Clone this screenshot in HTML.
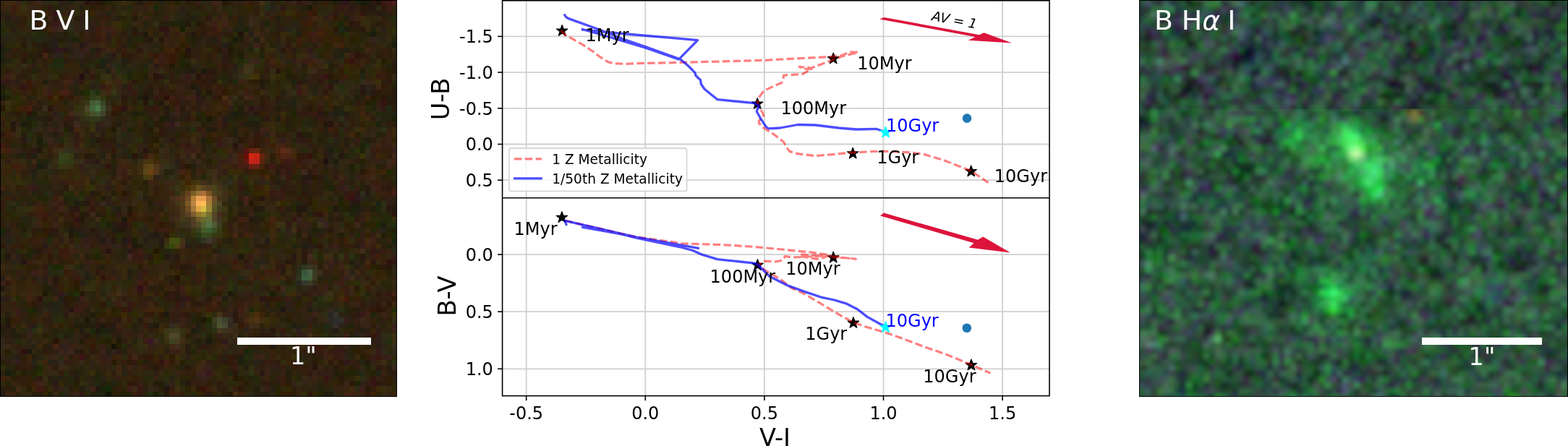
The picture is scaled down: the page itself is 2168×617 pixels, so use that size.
<!DOCTYPE html>
<html><head><meta charset="utf-8"><title>Colour-colour diagram</title>
<style>
html,body{margin:0;padding:0;background:#fff;}
body{width:2168px;height:617px;overflow:hidden;position:relative;font-family:"DejaVu Sans","Liberation Sans",sans-serif;}
.panel{position:absolute;box-sizing:border-box;border:1.6px solid #000;overflow:hidden;}
.panel svg.img,.pimg svg.img{position:absolute;left:0;top:0;width:100%;height:100%;}
.pimg{position:absolute;overflow:hidden;}
.frame{position:absolute;left:0;top:0;right:0;bottom:0;border:1.6px solid #000;}
.lbl{position:absolute;color:#fff;font-family:"DejaVu Sans","Liberation Sans",sans-serif;white-space:pre;line-height:1;}
.bar{position:absolute;background:#fff;}
#plot{position:absolute;left:0;top:0;}
#plot text{font-family:"DejaVu Sans","Liberation Sans",sans-serif;}
.g{stroke:#d0d0d0;stroke-width:1.8;}
.r{fill:none;stroke:#ff0000;stroke-opacity:0.5;stroke-width:3.2;stroke-dasharray:10.5 4.3;stroke-linejoin:round;}
.b{fill:none;stroke:#0000ff;stroke-opacity:0.7;stroke-width:3.3;stroke-linejoin:round;stroke-linecap:round;}
</style></head><body>
<div class="pimg" style="left:0;top:0;width:549px;height:549px;background:#32230f;">
<svg class="img" viewBox="0 0 75 75" preserveAspectRatio="none" shape-rendering="crispEdges"><path fill="#37280f" d="M0 0h1v1h-1zM28 1h1v1h-1zM4 2h1v1h-1zM60 3h1v1h-1zM68 4h1v1h-1zM69 5h1v1h-1zM50 8h1v1h-1zM65 10h1v1h-1zM16 15h1v1h-1zM21 15h1v1h-1zM70 15h1v1h-1zM8 16h1v1h-1zM15 16h1v1h-1zM49 17h1v1h-1zM4 18h1v1h-1zM7 18h1v1h-1zM51 23h1v1h-1zM29 24h1v1h-1zM51 24h1v1h-1zM74 25h1v1h-1zM50 28h1v1h-1zM0 30h1v1h-1zM2 30h2v1h-2zM50 30h1v1h-1zM0 31h1v1h-1zM70 31h1v1h-1zM9 33h1v1h-1zM11 33h1v1h-1zM15 33h1v1h-1zM48 33h1v1h-1zM1 34h1v1h-1zM24 34h1v1h-1zM2 35h1v1h-1zM28 35h1v1h-1zM14 36h1v1h-1zM25 37h1v1h-1zM49 38h1v1h-1zM69 43h1v1h-1zM11 46h1v1h-1zM56 47h1v1h-1zM67 47h1v1h-1zM34 48h1v1h-1zM43 48h1v1h-1zM56 48h1v1h-1zM7 49h1v1h-1zM14 49h1v1h-1zM27 49h1v1h-1zM51 49h1v1h-1zM22 50h1v1h-1zM23 51h1v1h-1zM30 51h1v1h-1zM32 51h1v1h-1zM47 51h1v1h-1zM12 52h1v1h-1zM41 52h1v1h-1zM50 52h2v1h-2zM5 53h1v1h-1zM18 53h1v1h-1zM71 53h1v1h-1zM4 55h1v1h-1zM6 55h1v1h-1zM21 55h1v1h-1zM64 57h1v1h-1zM28 60h1v1h-1zM4 61h1v1h-1zM30 61h1v1h-1zM35 62h1v1h-1zM8 64h1v1h-1zM7 65h1v1h-1zM30 65h1v1h-1zM41 66h1v1h-1zM52 67h1v1h-1zM67 67h1v1h-1zM18 68h1v1h-1zM33 68h1v1h-1zM61 68h1v1h-1zM12 69h1v1h-1zM20 70h1v1h-1zM40 73h1v1h-1zM73 73h1v1h-1z"/><path fill="#412814" d="M1 0h1v1h-1zM59 3h1v1h-1zM20 17h1v1h-1zM52 27h1v1h-1zM55 28h1v1h-1zM1 52h1v1h-1zM28 53h1v1h-1zM32 65h1v1h-1zM25 67h1v1h-1zM3 73h1v1h-1z"/><path fill="#41280f" d="M2 0h1v1h-1zM66 25h1v1h-1zM50 29h1v1h-1zM29 30h1v1h-1zM35 33h1v1h-1zM51 44h1v1h-1zM69 45h1v1h-1zM69 49h1v1h-1zM46 60h1v1h-1zM37 69h1v1h-1zM66 73h1v1h-1z"/><path fill="#3c2319" d="M3 0h1v1h-1zM41 0h1v1h-1zM9 3h1v1h-1zM48 8h1v1h-1zM48 11h1v1h-1zM13 15h1v1h-1zM69 15h1v1h-1zM33 21h1v1h-1zM9 24h1v1h-1zM49 24h1v1h-1zM9 26h1v1h-1zM22 32h1v1h-1zM70 35h1v1h-1zM62 49h1v1h-1zM0 53h1v1h-1zM41 56h1v1h-1zM59 59h1v1h-1zM74 62h1v1h-1zM26 63h1v1h-1zM53 64h1v1h-1zM11 66h1v1h-1zM19 66h1v1h-1zM49 67h1v1h-1zM38 69h1v1h-1zM37 70h1v1h-1zM7 72h1v1h-1zM65 72h1v1h-1z"/><path fill="#2d2d0f" d="M4 0h1v1h-1zM10 0h1v1h-1zM42 7h1v1h-1zM49 11h1v1h-1zM48 12h1v1h-1zM6 14h1v1h-1zM65 17h1v1h-1zM46 33h1v1h-1zM15 37h1v1h-1zM44 37h1v1h-1zM43 47h1v1h-1zM43 53h1v1h-1zM54 54h1v1h-1zM40 59h1v1h-1zM7 61h1v1h-1zM31 71h1v1h-1z"/><path fill="#32230f" d="M5 0h1v1h-1zM27 0h1v1h-1zM44 0h1v1h-1zM48 0h1v1h-1zM31 1h1v1h-1zM55 1h1v1h-1zM74 1h1v1h-1zM11 2h1v1h-1zM41 2h1v1h-1zM47 2h1v1h-1zM52 2h1v1h-1zM28 3h1v1h-1zM70 3h1v1h-1zM73 4h1v1h-1zM4 5h1v1h-1zM22 6h1v1h-1zM30 6h1v1h-1zM66 6h1v1h-1zM73 6h1v1h-1zM23 7h1v1h-1zM32 7h2v1h-2zM20 8h1v1h-1zM32 8h1v1h-1zM65 8h1v1h-1zM71 8h1v1h-1zM57 9h1v1h-1zM46 10h1v1h-1zM62 10h1v1h-1zM74 10h1v1h-1zM7 11h1v1h-1zM25 11h2v1h-2zM37 11h1v1h-1zM40 11h2v1h-2zM63 11h1v1h-1zM3 12h1v1h-1zM5 12h1v1h-1zM59 12h1v1h-1zM2 13h1v1h-1zM8 13h1v1h-1zM14 13h1v1h-1zM31 13h1v1h-1zM41 13h1v1h-1zM55 13h1v1h-1zM0 14h1v1h-1zM7 14h2v1h-2zM50 14h1v1h-1zM69 14h1v1h-1zM11 15h1v1h-1zM24 15h1v1h-1zM61 15h1v1h-1zM10 16h1v1h-1zM29 16h1v1h-1zM2 17h1v1h-1zM44 17h1v1h-1zM62 17h1v1h-1zM8 18h1v1h-1zM48 18h1v1h-1zM57 18h1v1h-1zM60 18h1v1h-1zM11 19h1v1h-1zM39 19h1v1h-1zM48 19h1v1h-1zM57 19h1v1h-1zM64 19h1v1h-1zM9 21h1v1h-1zM30 21h1v1h-1zM42 21h1v1h-1zM21 22h1v1h-1zM60 23h1v1h-1zM0 24h1v1h-1zM41 24h1v1h-1zM59 24h1v1h-1zM73 24h1v1h-1zM42 25h1v1h-1zM45 25h1v1h-1zM54 25h1v1h-1zM65 25h1v1h-1zM0 26h1v1h-1zM3 26h1v1h-1zM35 26h1v1h-1zM37 26h1v1h-1zM64 27h1v1h-1zM56 28h1v1h-1zM65 28h1v1h-1zM15 29h1v1h-1zM20 30h1v1h-1zM40 31h1v1h-1zM60 31h1v1h-1zM74 31h1v1h-1zM18 32h1v1h-1zM38 32h1v1h-1zM60 32h1v1h-1zM62 32h1v1h-1zM64 32h1v1h-1zM36 33h1v1h-1zM62 33h1v1h-1zM71 33h1v1h-1zM22 34h1v1h-1zM1 35h1v1h-1zM4 35h1v1h-1zM18 35h1v1h-1zM2 36h1v1h-1zM5 36h1v1h-1zM0 37h1v1h-1zM22 37h1v1h-1zM24 37h1v1h-1zM29 37h1v1h-1zM31 37h1v1h-1zM54 37h1v1h-1zM4 38h1v1h-1zM24 38h1v1h-1zM27 38h1v1h-1zM48 38h1v1h-1zM50 38h2v1h-2zM61 38h3v1h-3zM9 39h1v1h-1zM18 39h1v1h-1zM10 40h1v1h-1zM28 40h1v1h-1zM57 40h1v1h-1zM26 41h1v1h-1zM52 41h2v1h-2zM57 41h1v1h-1zM11 42h1v1h-1zM2 43h2v1h-2zM65 43h1v1h-1zM11 44h1v1h-1zM26 44h1v1h-1zM15 45h1v1h-1zM60 45h1v1h-1zM73 45h1v1h-1zM9 46h1v1h-1zM18 46h1v1h-1zM44 46h1v1h-1zM21 47h1v1h-1zM35 48h1v1h-1zM46 48h1v1h-1zM54 48h1v1h-1zM72 48h1v1h-1zM15 49h1v1h-1zM25 49h1v1h-1zM42 49h1v1h-1zM45 49h1v1h-1zM7 50h1v1h-1zM17 50h1v1h-1zM20 50h2v1h-2zM4 51h1v1h-1zM17 51h1v1h-1zM20 51h1v1h-1zM22 51h1v1h-1zM29 51h1v1h-1zM55 51h1v1h-1zM62 51h2v1h-2zM25 53h1v1h-1zM31 53h1v1h-1zM3 54h2v1h-2zM38 54h1v1h-1zM51 54h1v1h-1zM74 54h1v1h-1zM1 55h1v1h-1zM18 55h1v1h-1zM70 55h1v1h-1zM4 56h1v1h-1zM18 56h1v1h-1zM24 56h1v1h-1zM63 56h1v1h-1zM49 57h1v1h-1zM0 58h2v1h-2zM56 58h1v1h-1zM73 58h1v1h-1zM14 59h1v1h-1zM29 59h1v1h-1zM53 59h1v1h-1zM58 59h1v1h-1zM73 59h1v1h-1zM13 60h1v1h-1zM51 61h1v1h-1zM29 62h1v1h-1zM45 62h1v1h-1zM48 62h1v1h-1zM72 62h1v1h-1zM40 63h1v1h-1zM59 63h1v1h-1zM7 64h1v1h-1zM11 64h1v1h-1zM54 64h1v1h-1zM2 65h1v1h-1zM18 65h1v1h-1zM46 65h1v1h-1zM49 65h1v1h-1zM52 65h1v1h-1zM68 65h1v1h-1zM70 65h1v1h-1zM16 66h1v1h-1zM25 66h1v1h-1zM37 66h1v1h-1zM39 66h1v1h-1zM50 66h1v1h-1zM54 66h1v1h-1zM14 68h1v1h-1zM19 69h1v1h-1zM32 69h1v1h-1zM36 69h1v1h-1zM62 69h1v1h-1zM65 69h1v1h-1zM25 70h1v1h-1zM48 70h1v1h-1zM23 71h1v1h-1zM42 71h1v1h-1zM60 71h1v1h-1zM38 72h1v1h-1zM57 73h1v1h-1zM13 74h1v1h-1zM41 74h1v1h-1zM64 74h1v1h-1z"/><path fill="#37230f" d="M6 0h1v1h-1zM20 1h1v1h-1zM42 2h1v1h-1zM62 3h1v1h-1zM67 3h1v1h-1zM26 4h1v1h-1zM32 5h1v1h-1zM33 8h1v1h-1zM60 8h1v1h-1zM70 9h1v1h-1zM26 10h1v1h-1zM68 11h1v1h-1zM53 12h1v1h-1zM68 12h1v1h-1zM17 13h1v1h-1zM28 14h1v1h-1zM4 15h1v1h-1zM2 16h1v1h-1zM34 16h1v1h-1zM40 16h1v1h-1zM43 16h1v1h-1zM5 17h1v1h-1zM14 18h1v1h-1zM24 20h1v1h-1zM41 22h1v1h-1zM53 22h1v1h-1zM45 24h1v1h-1zM73 25h1v1h-1zM15 26h1v1h-1zM16 28h1v1h-1zM60 28h1v1h-1zM31 29h1v1h-1zM38 29h1v1h-1zM22 30h1v1h-1zM0 32h1v1h-1zM51 32h1v1h-1zM13 33h1v1h-1zM68 33h1v1h-1zM15 34h1v1h-1zM14 35h1v1h-1zM19 36h1v1h-1zM31 36h1v1h-1zM30 37h1v1h-1zM50 37h1v1h-1zM7 38h1v1h-1zM31 38h1v1h-1zM9 41h1v1h-1zM45 43h1v1h-1zM61 44h1v1h-1zM10 45h1v1h-1zM41 45h1v1h-1zM34 47h1v1h-1zM37 47h1v1h-1zM73 47h1v1h-1zM13 48h1v1h-1zM20 48h1v1h-1zM38 48h1v1h-1zM73 48h1v1h-1zM8 49h1v1h-1zM10 49h1v1h-1zM31 49h1v1h-1zM34 49h1v1h-1zM43 49h1v1h-1zM27 50h1v1h-1zM38 51h1v1h-1zM29 52h1v1h-1zM70 52h1v1h-1zM29 53h1v1h-1zM60 54h1v1h-1zM64 54h1v1h-1zM25 55h1v1h-1zM22 56h1v1h-1zM48 56h1v1h-1zM66 57h1v1h-1zM72 57h1v1h-1zM26 58h1v1h-1zM34 58h2v1h-2zM37 58h1v1h-1zM51 59h1v1h-1zM7 60h1v1h-1zM69 60h1v1h-1zM2 61h1v1h-1zM27 62h1v1h-1zM47 62h1v1h-1zM52 62h1v1h-1zM52 64h1v1h-1zM14 65h1v1h-1zM41 65h1v1h-1zM24 66h1v1h-1zM45 66h1v1h-1zM18 67h1v1h-1zM5 68h1v1h-1zM63 68h1v1h-1zM71 68h1v1h-1zM26 69h1v1h-1zM31 69h1v1h-1zM40 70h1v1h-1zM72 70h1v1h-1zM1 71h1v1h-1zM29 71h1v1h-1zM50 71h1v1h-1zM2 72h1v1h-1zM64 73h2v1h-2zM56 74h1v1h-1zM68 74h1v1h-1z"/><path fill="#3c2819" d="M7 0h1v1h-1zM47 11h1v1h-1zM59 13h1v1h-1zM74 29h1v1h-1zM73 30h1v1h-1zM17 40h1v1h-1zM32 41h1v1h-1zM67 42h1v1h-1zM68 60h1v1h-1zM29 64h1v1h-1zM1 65h1v1h-1zM74 69h1v1h-1z"/><path fill="#2d2814" d="M8 0h2v1h-2zM43 1h1v1h-1zM0 4h1v1h-1zM26 5h1v1h-1zM5 8h1v1h-1zM41 10h1v1h-1zM22 11h1v1h-1zM61 11h1v1h-1zM64 11h1v1h-1zM24 12h1v1h-1zM44 14h1v1h-1zM17 15h1v1h-1zM21 18h2v1h-2zM7 23h1v1h-1zM65 23h1v1h-1zM64 24h1v1h-1zM71 24h1v1h-1zM8 26h1v1h-1zM22 26h1v1h-1zM25 26h1v1h-1zM59 26h1v1h-1zM18 28h1v1h-1zM63 29h1v1h-1zM17 31h1v1h-1zM64 31h1v1h-1zM2 32h1v1h-1zM16 32h1v1h-1zM50 34h1v1h-1zM70 36h1v1h-1zM43 37h1v1h-1zM60 37h1v1h-1zM63 37h1v1h-1zM43 38h1v1h-1zM4 40h1v1h-1zM6 41h1v1h-1zM64 42h1v1h-1zM50 44h1v1h-1zM55 44h1v1h-1zM51 47h2v1h-2zM74 51h1v1h-1zM22 53h1v1h-1zM23 54h1v1h-1zM49 55h1v1h-1zM53 55h1v1h-1zM43 56h1v1h-1zM44 65h1v1h-1zM43 66h1v1h-1zM11 67h1v1h-1zM27 70h1v1h-1zM46 70h1v1h-1zM12 73h1v1h-1zM63 74h1v1h-1z"/><path fill="#2d1e19" d="M11 0h1v1h-1zM10 21h1v1h-1zM47 21h1v1h-1zM18 24h1v1h-1zM32 24h1v1h-1zM20 35h1v1h-1zM20 38h1v1h-1zM1 44h1v1h-1zM3 48h1v1h-1zM32 48h1v1h-1zM34 57h1v1h-1zM54 57h1v1h-1zM56 62h1v1h-1z"/><path fill="#2d2314" d="M12 0h1v1h-1zM39 0h1v1h-1zM0 2h1v1h-1zM6 2h1v1h-1zM33 2h1v1h-1zM0 3h1v1h-1zM3 3h1v1h-1zM21 3h1v1h-1zM12 4h1v1h-1zM15 4h1v1h-1zM56 4h1v1h-1zM62 4h1v1h-1zM15 5h1v1h-1zM47 5h1v1h-1zM2 6h1v1h-1zM72 6h1v1h-1zM38 7h1v1h-1zM72 7h1v1h-1zM28 8h1v1h-1zM28 9h1v1h-1zM52 9h1v1h-1zM13 10h1v1h-1zM53 10h1v1h-1zM21 11h1v1h-1zM25 12h1v1h-1zM36 12h2v1h-2zM56 13h1v1h-1zM18 16h1v1h-1zM11 22h1v1h-1zM14 22h1v1h-1zM8 24h1v1h-1zM34 24h1v1h-1zM24 25h1v1h-1zM10 26h1v1h-1zM24 26h1v1h-1zM31 26h1v1h-1zM44 26h1v1h-1zM27 27h1v1h-1zM14 29h1v1h-1zM22 29h1v1h-1zM72 30h1v1h-1zM19 31h1v1h-1zM29 33h1v1h-1zM6 34h1v1h-1zM20 34h1v1h-1zM48 34h1v1h-1zM7 35h1v1h-1zM11 35h1v1h-1zM3 36h1v1h-1zM16 41h1v1h-1zM16 43h1v1h-1zM26 43h1v1h-1zM68 43h1v1h-1zM2 45h1v1h-1zM48 45h1v1h-1zM27 46h1v1h-1zM53 47h1v1h-1zM61 47h1v1h-1zM49 48h1v1h-1zM3 49h1v1h-1zM32 49h1v1h-1zM67 49h1v1h-1zM74 50h1v1h-1zM7 53h1v1h-1zM71 54h1v1h-1zM12 55h1v1h-1zM16 55h1v1h-1zM69 57h1v1h-1zM54 58h1v1h-1zM7 59h1v1h-1zM64 59h1v1h-1zM4 60h1v1h-1zM15 60h1v1h-1zM52 61h1v1h-1zM50 62h1v1h-1zM25 63h1v1h-1zM64 63h1v1h-1zM2 64h1v1h-1zM5 64h1v1h-1zM13 64h1v1h-1zM55 64h1v1h-1zM5 65h1v1h-1zM43 65h1v1h-1zM72 65h1v1h-1zM48 66h1v1h-1zM58 66h1v1h-1zM7 67h1v1h-1zM35 67h1v1h-1zM10 68h1v1h-1zM17 68h1v1h-1zM56 68h1v1h-1zM25 69h1v1h-1zM48 69h1v1h-1zM74 71h1v1h-1zM40 72h1v1h-1zM68 72h1v1h-1zM59 73h1v1h-1z"/><path fill="#23230f" d="M13 0h1v1h-1zM20 2h1v1h-1zM1 4h1v1h-1zM27 4h1v1h-1zM45 4h1v1h-1zM70 5h1v1h-1zM13 7h1v1h-1zM74 7h1v1h-1zM1 9h1v1h-1zM17 9h1v1h-1zM1 11h1v1h-1zM23 12h1v1h-1zM27 12h1v1h-1zM73 12h1v1h-1zM33 13h1v1h-1zM57 14h1v1h-1zM26 16h1v1h-1zM14 17h1v1h-1zM54 19h1v1h-1zM55 20h1v1h-1zM64 20h1v1h-1zM70 20h1v1h-1zM37 21h1v1h-1zM6 22h1v1h-1zM72 22h1v1h-1zM58 23h1v1h-1zM5 24h1v1h-1zM4 29h1v1h-1zM24 29h1v1h-1zM21 31h1v1h-1zM68 31h1v1h-1zM31 32h1v1h-1zM6 36h1v1h-1zM46 36h1v1h-1zM5 38h1v1h-1zM56 38h1v1h-1zM48 40h1v1h-1zM58 40h1v1h-1zM60 43h1v1h-1zM15 50h1v1h-1zM24 52h1v1h-1zM8 53h1v1h-1zM39 55h1v1h-1zM69 55h1v1h-1zM59 56h1v1h-1zM8 57h1v1h-1zM13 63h1v1h-1zM68 68h1v1h-1zM43 70h1v1h-1zM67 70h1v1h-1zM10 71h1v1h-1zM47 71h1v1h-1zM34 72h1v1h-1zM17 74h2v1h-2z"/><path fill="#2d280f" d="M14 0h1v1h-1zM34 0h1v1h-1zM53 0h1v1h-1zM14 1h1v1h-1zM22 1h1v1h-1zM39 1h1v1h-1zM62 1h1v1h-1zM71 1h1v1h-1zM60 2h2v1h-2zM4 6h1v1h-1zM69 7h1v1h-1zM2 8h1v1h-1zM72 8h1v1h-1zM5 9h1v1h-1zM24 9h1v1h-1zM29 9h1v1h-1zM52 10h1v1h-1zM70 10h1v1h-1zM1 12h1v1h-1zM11 13h1v1h-1zM18 13h2v1h-2zM63 13h1v1h-1zM69 13h1v1h-1zM51 15h1v1h-1zM65 15h2v1h-2zM25 16h1v1h-1zM53 16h1v1h-1zM65 16h1v1h-1zM39 18h1v1h-1zM66 18h1v1h-1zM26 19h1v1h-1zM56 19h1v1h-1zM61 20h1v1h-1zM7 21h1v1h-1zM70 21h1v1h-1zM24 22h1v1h-1zM24 23h1v1h-1zM52 23h1v1h-1zM25 25h1v1h-1zM55 25h1v1h-1zM68 25h1v1h-1zM6 26h1v1h-1zM16 27h1v1h-1zM32 29h1v1h-1zM41 29h1v1h-1zM7 32h2v1h-2zM56 32h1v1h-1zM5 33h1v1h-1zM7 33h1v1h-1zM19 33h1v1h-1zM74 33h1v1h-1zM5 34h1v1h-1zM25 35h1v1h-1zM43 35h1v1h-1zM52 35h1v1h-1zM1 38h1v1h-1zM70 38h1v1h-1zM3 40h1v1h-1zM17 42h1v1h-1zM11 43h1v1h-1zM26 45h1v1h-1zM61 45h1v1h-1zM42 46h2v1h-2zM10 47h1v1h-1zM17 47h1v1h-1zM21 49h1v1h-1zM2 50h1v1h-1zM24 50h1v1h-1zM38 50h1v1h-1zM66 50h1v1h-1zM69 51h1v1h-1zM43 52h1v1h-1zM48 53h1v1h-1zM65 53h1v1h-1zM47 54h1v1h-1zM42 55h1v1h-1zM8 56h1v1h-1zM29 56h1v1h-1zM69 56h1v1h-1zM61 58h1v1h-1zM38 59h1v1h-1zM25 60h1v1h-1zM3 62h1v1h-1zM16 62h1v1h-1zM64 62h1v1h-1zM30 63h1v1h-1zM4 64h1v1h-1zM30 64h1v1h-1zM69 64h1v1h-1zM31 65h1v1h-1zM36 65h1v1h-1zM54 65h1v1h-1zM73 65h1v1h-1zM40 66h1v1h-1zM23 67h1v1h-1zM57 68h1v1h-1zM16 69h1v1h-1zM21 69h1v1h-1zM45 69h1v1h-1zM16 70h1v1h-1zM28 70h1v1h-1zM32 70h1v1h-1zM45 70h1v1h-1zM30 71h1v1h-1zM34 73h1v1h-1zM4 74h1v1h-1z"/><path fill="#322314" d="M15 0h1v1h-1zM58 0h1v1h-1zM6 1h1v1h-1zM25 1h2v1h-2zM18 2h1v1h-1zM21 2h1v1h-1zM44 2h1v1h-1zM50 3h1v1h-1zM14 4h1v1h-1zM5 5h1v1h-1zM26 8h2v1h-2zM53 8h1v1h-1zM20 12h1v1h-1zM28 13h2v1h-2zM21 14h1v1h-1zM34 14h1v1h-1zM58 14h1v1h-1zM9 16h1v1h-1zM67 16h1v1h-1zM36 17h1v1h-1zM47 17h1v1h-1zM60 17h1v1h-1zM66 17h1v1h-1zM54 18h1v1h-1zM0 19h1v1h-1zM51 19h1v1h-1zM10 20h1v1h-1zM13 20h1v1h-1zM71 20h1v1h-1zM3 23h1v1h-1zM9 23h1v1h-1zM23 23h1v1h-1zM23 24h1v1h-1zM70 24h1v1h-1zM8 25h1v1h-1zM69 25h1v1h-1zM34 26h1v1h-1zM26 27h1v1h-1zM42 27h1v1h-1zM57 27h1v1h-1zM26 28h1v1h-1zM58 28h1v1h-1zM40 29h1v1h-1zM36 30h1v1h-1zM66 30h1v1h-1zM70 30h2v1h-2zM37 31h1v1h-1zM69 31h1v1h-1zM65 33h1v1h-1zM10 35h1v1h-1zM51 35h1v1h-1zM9 38h1v1h-1zM23 40h1v1h-1zM22 41h1v1h-1zM1 42h1v1h-1zM27 42h1v1h-1zM56 42h1v1h-1zM58 42h1v1h-1zM57 43h1v1h-1zM63 43h1v1h-1zM2 44h1v1h-1zM54 44h1v1h-1zM1 46h1v1h-1zM15 46h1v1h-1zM49 47h2v1h-2zM58 47h1v1h-1zM41 48h2v1h-2zM52 48h1v1h-1zM23 49h1v1h-1zM61 49h1v1h-1zM1 50h1v1h-1zM29 50h1v1h-1zM68 50h1v1h-1zM14 51h1v1h-1zM3 52h1v1h-1zM9 52h1v1h-1zM15 52h1v1h-1zM22 52h1v1h-1zM25 52h1v1h-1zM46 52h1v1h-1zM55 52h1v1h-1zM67 52h1v1h-1zM74 52h1v1h-1zM1 54h1v1h-1zM46 55h1v1h-1zM56 55h1v1h-1zM0 57h1v1h-1zM21 57h1v1h-1zM43 57h1v1h-1zM63 57h1v1h-1zM57 59h1v1h-1zM8 61h1v1h-1zM36 61h1v1h-1zM71 61h1v1h-1zM8 62h1v1h-1zM23 62h2v1h-2zM14 63h1v1h-1zM23 63h1v1h-1zM37 63h1v1h-1zM43 63h1v1h-1zM12 64h1v1h-1zM14 64h1v1h-1zM44 64h1v1h-1zM46 64h1v1h-1zM65 64h1v1h-1zM15 65h1v1h-1zM29 65h1v1h-1zM65 65h1v1h-1zM27 66h1v1h-1zM44 66h1v1h-1zM2 68h1v1h-1zM70 68h1v1h-1zM20 69h1v1h-1zM50 69h2v1h-2zM39 71h1v1h-1zM49 71h1v1h-1zM58 71h1v1h-1zM69 71h1v1h-1zM71 71h1v1h-1zM42 72h1v1h-1zM55 72h1v1h-1zM11 73h1v1h-1zM29 73h1v1h-1zM73 74h1v1h-1z"/><path fill="#28140f" d="M16 0h1v1h-1zM37 14h1v1h-1zM44 27h1v1h-1zM27 28h1v1h-1zM49 37h1v1h-1zM20 47h1v1h-1zM4 49h1v1h-1zM13 58h1v1h-1z"/><path fill="#2d190f" d="M17 0h1v1h-1zM70 0h1v1h-1zM10 3h1v1h-1zM39 3h1v1h-1zM38 6h1v1h-1zM26 9h1v1h-1zM39 15h1v1h-1zM56 15h1v1h-1zM60 15h1v1h-1zM73 15h1v1h-1zM61 17h1v1h-1zM52 18h1v1h-1zM49 20h1v1h-1zM35 22h1v1h-1zM50 22h1v1h-1zM0 25h1v1h-1zM30 25h1v1h-1zM63 25h1v1h-1zM5 29h1v1h-1zM61 29h1v1h-1zM52 32h1v1h-1zM58 32h1v1h-1zM60 33h1v1h-1zM53 35h1v1h-1zM73 35h1v1h-1zM13 39h1v1h-1zM22 42h1v1h-1zM0 46h1v1h-1zM57 47h1v1h-1zM28 48h1v1h-1zM55 49h1v1h-1zM70 49h1v1h-1zM72 50h1v1h-1zM32 53h1v1h-1zM37 57h1v1h-1zM22 60h1v1h-1zM44 60h1v1h-1zM18 61h1v1h-1zM50 63h1v1h-1zM17 66h1v1h-1zM42 68h1v1h-1zM71 69h1v1h-1zM7 71h1v1h-1zM25 72h1v1h-1zM71 72h1v1h-1zM39 74h1v1h-1z"/><path fill="#28140a" d="M18 0h1v1h-1zM52 13h1v1h-1zM29 14h1v1h-1zM62 23h1v1h-1zM25 29h1v1h-1z"/><path fill="#231905" d="M19 0h1v1h-1zM42 0h1v1h-1zM37 4h1v1h-1zM43 9h1v1h-1zM35 10h1v1h-1zM32 12h1v1h-1zM28 24h1v1h-1zM47 38h1v1h-1z"/><path fill="#23230a" d="M20 0h1v1h-1zM33 4h1v1h-1zM64 6h1v1h-1zM24 8h1v1h-1zM36 8h1v1h-1zM51 8h1v1h-1zM47 9h1v1h-1zM49 10h1v1h-1zM6 13h1v1h-1zM42 14h1v1h-1zM15 17h1v1h-1zM1 18h1v1h-1zM66 19h1v1h-1zM70 19h1v1h-1zM40 22h1v1h-1zM45 22h1v1h-1zM54 24h1v1h-1zM28 25h1v1h-1zM33 25h1v1h-1zM71 25h1v1h-1zM8 27h1v1h-1zM65 29h1v1h-1zM7 30h1v1h-1zM71 31h1v1h-1zM66 32h1v1h-1zM61 34h1v1h-1zM61 35h1v1h-1zM68 35h1v1h-1zM12 37h1v1h-1zM64 39h1v1h-1zM21 40h1v1h-1zM4 42h1v1h-1zM73 43h1v1h-1zM14 44h1v1h-1zM55 46h1v1h-1zM13 55h1v1h-1zM52 57h1v1h-1zM65 58h1v1h-1zM70 59h1v1h-1zM36 60h1v1h-1zM66 61h1v1h-1zM10 62h1v1h-1zM13 62h1v1h-1zM39 63h1v1h-1zM36 66h1v1h-1zM69 69h1v1h-1zM2 70h1v1h-1zM65 70h1v1h-1zM70 70h1v1h-1zM20 72h1v1h-1zM60 73h1v1h-1z"/><path fill="#2d230a" d="M21 0h1v1h-1zM25 0h1v1h-1zM29 0h1v1h-1zM52 0h1v1h-1zM30 1h1v1h-1zM60 1h1v1h-1zM27 2h1v1h-1zM39 2h1v1h-1zM45 2h2v1h-2zM57 2h1v1h-1zM7 3h1v1h-1zM17 3h1v1h-1zM53 3h1v1h-1zM64 3h1v1h-1zM44 4h1v1h-1zM53 4h1v1h-1zM23 5h1v1h-1zM29 5h1v1h-1zM67 6h1v1h-1zM15 7h1v1h-1zM50 7h2v1h-2zM66 8h1v1h-1zM25 9h1v1h-1zM56 9h1v1h-1zM62 9h1v1h-1zM3 10h1v1h-1zM27 11h1v1h-1zM38 11h1v1h-1zM73 11h1v1h-1zM33 12h1v1h-1zM54 12h1v1h-1zM49 13h1v1h-1zM53 13h1v1h-1zM57 13h1v1h-1zM61 13h1v1h-1zM56 14h1v1h-1zM67 14h1v1h-1zM52 16h1v1h-1zM73 16h1v1h-1zM35 17h1v1h-1zM38 17h1v1h-1zM4 19h1v1h-1zM21 19h1v1h-1zM59 19h1v1h-1zM65 19h1v1h-1zM25 20h1v1h-1zM30 20h1v1h-1zM32 20h1v1h-1zM59 20h1v1h-1zM12 21h1v1h-1zM56 22h1v1h-1zM35 23h1v1h-1zM43 23h1v1h-1zM55 23h2v1h-2zM16 24h1v1h-1zM20 24h1v1h-1zM26 24h1v1h-1zM26 25h1v1h-1zM33 26h1v1h-1zM5 27h1v1h-1zM28 28h1v1h-1zM0 29h1v1h-1zM38 30h1v1h-1zM73 33h1v1h-1zM59 34h1v1h-1zM26 35h1v1h-1zM56 35h1v1h-1zM59 35h1v1h-1zM47 36h1v1h-1zM64 36h1v1h-1zM8 38h1v1h-1zM25 39h1v1h-1zM70 40h1v1h-1zM0 41h1v1h-1zM2 41h2v1h-2zM62 42h1v1h-1zM20 43h1v1h-1zM49 43h1v1h-1zM41 46h1v1h-1zM27 47h1v1h-1zM55 47h1v1h-1zM60 47h1v1h-1zM65 47h1v1h-1zM19 48h1v1h-1zM22 48h1v1h-1zM39 48h1v1h-1zM50 48h1v1h-1zM12 49h1v1h-1zM65 49h1v1h-1zM4 50h1v1h-1zM40 50h1v1h-1zM2 51h1v1h-1zM41 51h1v1h-1zM43 51h1v1h-1zM49 51h1v1h-1zM11 52h1v1h-1zM73 52h1v1h-1zM3 53h1v1h-1zM34 53h1v1h-1zM60 53h1v1h-1zM13 54h1v1h-1zM66 56h1v1h-1zM19 58h1v1h-1zM22 58h1v1h-1zM24 59h1v1h-1zM56 60h1v1h-1zM73 60h1v1h-1zM3 61h1v1h-1zM49 61h1v1h-1zM14 62h1v1h-1zM65 62h2v1h-2zM6 63h1v1h-1zM27 63h1v1h-1zM9 64h1v1h-1zM16 65h1v1h-1zM20 65h1v1h-1zM55 65h1v1h-1zM63 65h1v1h-1zM52 66h2v1h-2zM38 67h1v1h-1zM53 67h1v1h-1zM16 68h1v1h-1zM60 68h1v1h-1zM41 69h1v1h-1zM42 70h1v1h-1zM69 70h1v1h-1zM34 71h1v1h-1zM40 71h1v1h-1zM66 71h1v1h-1zM74 72h1v1h-1zM23 73h1v1h-1zM47 73h1v1h-1zM3 74h1v1h-1zM40 74h1v1h-1z"/><path fill="#32280f" d="M22 0h1v1h-1zM24 0h1v1h-1zM33 1h1v1h-1zM49 1h1v1h-1zM5 2h1v1h-1zM14 2h1v1h-1zM32 2h1v1h-1zM5 3h1v1h-1zM40 3h1v1h-1zM49 3h1v1h-1zM69 3h1v1h-1zM60 4h1v1h-1zM35 5h1v1h-1zM48 5h1v1h-1zM50 5h1v1h-1zM71 5h1v1h-1zM46 6h1v1h-1zM54 6h1v1h-1zM29 7h1v1h-1zM47 7h1v1h-1zM55 8h1v1h-1zM68 8h1v1h-1zM74 9h1v1h-1zM19 10h1v1h-1zM22 10h1v1h-1zM27 10h1v1h-1zM3 11h1v1h-1zM3 13h1v1h-1zM47 16h1v1h-1zM58 17h1v1h-1zM51 18h1v1h-1zM14 19h1v1h-1zM2 22h1v1h-1zM16 23h1v1h-1zM30 26h1v1h-1zM71 26h1v1h-1zM40 27h1v1h-1zM8 28h1v1h-1zM7 29h1v1h-1zM10 29h1v1h-1zM64 30h2v1h-2zM38 31h1v1h-1zM12 32h1v1h-1zM0 33h2v1h-2zM25 33h1v1h-1zM33 33h1v1h-1zM37 33h1v1h-1zM41 33h1v1h-1zM2 34h1v1h-1zM18 34h1v1h-1zM30 34h1v1h-1zM55 34h1v1h-1zM63 34h1v1h-1zM67 34h1v1h-1zM69 34h1v1h-1zM20 36h1v1h-1zM44 36h1v1h-1zM61 36h2v1h-2zM42 38h1v1h-1zM12 39h1v1h-1zM27 39h1v1h-1zM44 40h1v1h-1zM59 41h1v1h-1zM49 42h1v1h-1zM35 44h1v1h-1zM47 45h1v1h-1zM47 46h1v1h-1zM54 46h1v1h-1zM15 47h1v1h-1zM44 47h1v1h-1zM66 47h1v1h-1zM38 49h1v1h-1zM56 49h1v1h-1zM25 50h1v1h-1zM31 51h1v1h-1zM23 52h1v1h-1zM34 52h1v1h-1zM68 52h1v1h-1zM12 53h1v1h-1zM20 53h1v1h-1zM50 53h1v1h-1zM6 54h1v1h-1zM15 54h1v1h-1zM46 54h1v1h-1zM7 55h1v1h-1zM50 55h1v1h-1zM16 56h1v1h-1zM37 56h1v1h-1zM17 58h1v1h-1zM2 59h1v1h-1zM26 59h1v1h-1zM60 60h1v1h-1zM73 61h1v1h-1zM57 62h1v1h-1zM46 63h1v1h-1zM24 64h1v1h-1zM35 64h1v1h-1zM60 64h1v1h-1zM66 64h1v1h-1zM0 66h1v1h-1zM2 66h1v1h-1zM6 66h1v1h-1zM8 67h1v1h-1zM34 67h1v1h-1zM8 69h1v1h-1zM70 69h1v1h-1zM8 70h1v1h-1zM26 70h1v1h-1zM20 71h1v1h-1zM33 71h1v1h-1zM43 71h1v1h-1zM0 72h1v1h-1zM16 72h1v1h-1zM23 72h1v1h-1zM28 72h1v1h-1zM58 72h1v1h-1zM4 73h1v1h-1zM53 73h1v1h-1zM5 74h1v1h-1zM46 74h1v1h-1z"/><path fill="#3c2d0f" d="M23 0h1v1h-1zM15 27h1v1h-1zM24 32h1v1h-1zM43 36h1v1h-1zM52 38h1v1h-1zM11 41h1v1h-1zM61 48h1v1h-1zM47 59h1v1h-1zM33 73h1v1h-1z"/><path fill="#28190f" d="M26 0h1v1h-1zM69 1h1v1h-1zM25 5h1v1h-1zM68 5h1v1h-1zM9 9h1v1h-1zM16 13h1v1h-1zM39 13h2v1h-2zM28 16h1v1h-1zM27 17h1v1h-1zM68 17h1v1h-1zM23 18h1v1h-1zM73 19h1v1h-1zM31 21h1v1h-1zM48 21h1v1h-1zM9 22h1v1h-1zM12 23h1v1h-1zM40 24h1v1h-1zM69 35h1v1h-1zM17 36h1v1h-1zM16 38h1v1h-1zM14 39h1v1h-1zM73 39h1v1h-1zM16 40h1v1h-1zM45 40h1v1h-1zM17 43h1v1h-1zM21 45h1v1h-1zM7 47h1v1h-1zM33 48h1v1h-1zM68 48h1v1h-1zM54 49h1v1h-1zM35 50h1v1h-1zM10 52h1v1h-1zM10 53h1v1h-1zM0 54h1v1h-1zM33 55h1v1h-1zM33 56h1v1h-1zM39 56h1v1h-1zM12 57h1v1h-1zM44 59h1v1h-1zM26 60h1v1h-1zM51 62h1v1h-1zM49 63h1v1h-1zM63 69h1v1h-1zM14 71h1v1h-1zM35 72h1v1h-1z"/><path fill="#371e0a" d="M28 0h1v1h-1zM57 4h1v1h-1zM61 6h1v1h-1zM62 7h1v1h-1zM22 8h1v1h-1zM56 8h1v1h-1zM28 10h1v1h-1zM31 10h1v1h-1zM67 12h1v1h-1zM21 20h1v1h-1zM39 21h1v1h-1zM46 24h1v1h-1zM71 28h1v1h-1zM47 32h1v1h-1zM55 32h1v1h-1zM69 32h1v1h-1zM71 34h1v1h-1zM1 37h1v1h-1zM29 42h1v1h-1zM36 49h1v1h-1zM19 51h1v1h-1zM30 53h1v1h-1zM11 54h1v1h-1zM69 54h1v1h-1zM36 58h1v1h-1zM40 58h1v1h-1zM3 60h1v1h-1zM24 60h1v1h-1zM58 61h1v1h-1zM16 64h1v1h-1zM29 68h1v1h-1zM36 70h1v1h-1zM53 72h1v1h-1z"/><path fill="#232314" d="M30 0h1v1h-1zM45 5h1v1h-1zM24 13h1v1h-1zM59 17h1v1h-1zM73 21h2v1h-2zM17 26h1v1h-1zM19 29h1v1h-1zM6 33h1v1h-1zM4 41h1v1h-1zM1 45h1v1h-1zM31 47h1v1h-1zM10 57h1v1h-1zM57 61h1v1h-1zM37 62h1v1h-1zM71 70h1v1h-1zM21 72h1v1h-1z"/><path fill="#2d280a" d="M31 0h1v1h-1zM54 1h1v1h-1zM22 2h1v1h-1zM24 2h1v1h-1zM1 5h1v1h-1zM73 5h1v1h-1zM44 6h1v1h-1zM65 7h1v1h-1zM1 8h1v1h-1zM11 8h1v1h-1zM21 8h1v1h-1zM48 10h1v1h-1zM44 11h1v1h-1zM7 12h1v1h-1zM49 12h1v1h-1zM9 13h1v1h-1zM70 13h1v1h-1zM51 17h1v1h-1zM20 18h1v1h-1zM9 19h1v1h-1zM24 19h1v1h-1zM69 23h2v1h-2zM52 24h2v1h-2zM57 24h1v1h-1zM16 25h1v1h-1zM20 25h1v1h-1zM59 25h1v1h-1zM55 27h1v1h-1zM40 30h1v1h-1zM11 32h1v1h-1zM19 32h1v1h-1zM2 33h1v1h-1zM26 34h1v1h-1zM6 37h1v1h-1zM18 37h1v1h-1zM15 39h1v1h-1zM52 40h1v1h-1zM1 41h1v1h-1zM20 41h1v1h-1zM65 41h1v1h-1zM34 43h1v1h-1zM65 44h1v1h-1zM14 45h1v1h-1zM45 45h1v1h-1zM53 46h1v1h-1zM47 47h1v1h-1zM30 49h1v1h-1zM3 50h1v1h-1zM42 51h1v1h-1zM35 52h1v1h-1zM21 53h1v1h-1zM37 55h1v1h-1zM25 58h1v1h-1zM12 61h1v1h-1zM59 62h1v1h-1zM7 63h1v1h-1zM29 63h1v1h-1zM60 63h1v1h-1zM62 64h1v1h-1zM25 65h1v1h-1zM37 67h1v1h-1zM74 67h1v1h-1zM3 70h1v1h-1zM15 71h1v1h-1zM55 71h1v1h-1zM74 73h1v1h-1zM16 74h1v1h-1zM35 74h1v1h-1z"/><path fill="#32230a" d="M32 0h1v1h-1zM16 1h1v1h-1zM28 2h1v1h-1zM31 2h1v1h-1zM64 2h1v1h-1zM11 3h1v1h-1zM43 4h1v1h-1zM65 4h1v1h-1zM28 5h1v1h-1zM62 5h1v1h-1zM32 6h1v1h-1zM38 9h1v1h-1zM12 10h1v1h-1zM38 10h1v1h-1zM61 10h1v1h-1zM9 11h1v1h-1zM12 12h3v1h-3zM48 13h1v1h-1zM66 13h1v1h-1zM7 15h1v1h-1zM7 16h1v1h-1zM3 17h1v1h-1zM52 17h1v1h-1zM40 19h1v1h-1zM12 20h1v1h-1zM62 20h1v1h-1zM67 20h1v1h-1zM51 22h1v1h-1zM26 23h1v1h-1zM34 23h1v1h-1zM35 25h1v1h-1zM41 25h1v1h-1zM2 26h1v1h-1zM74 26h1v1h-1zM32 27h1v1h-1zM33 28h1v1h-1zM1 29h1v1h-1zM8 29h1v1h-1zM30 35h1v1h-1zM3 37h1v1h-1zM59 37h1v1h-1zM71 37h1v1h-1zM22 38h1v1h-1zM60 38h1v1h-1zM31 40h1v1h-1zM30 41h1v1h-1zM28 42h1v1h-1zM43 44h1v1h-1zM4 45h1v1h-1zM44 45h1v1h-1zM12 46h1v1h-1zM33 47h1v1h-1zM28 50h1v1h-1zM63 50h1v1h-1zM2 52h1v1h-1zM5 52h1v1h-1zM11 53h1v1h-1zM35 53h1v1h-1zM42 53h1v1h-1zM61 53h1v1h-1zM7 54h1v1h-1zM18 54h1v1h-1zM21 54h1v1h-1zM24 54h1v1h-1zM3 55h1v1h-1zM30 55h1v1h-1zM63 55h1v1h-1zM58 56h1v1h-1zM41 58h1v1h-1zM70 60h1v1h-1zM23 61h1v1h-1zM31 61h1v1h-1zM21 64h1v1h-1zM40 65h1v1h-1zM28 66h1v1h-1zM55 66h1v1h-1zM54 67h1v1h-1zM22 68h1v1h-1zM34 70h1v1h-1zM55 70h1v1h-1zM26 71h1v1h-1zM3 72h1v1h-1zM45 72h1v1h-1zM62 72h2v1h-2zM59 74h1v1h-1z"/><path fill="#281e05" d="M33 0h1v1h-1zM66 7h1v1h-1zM25 8h1v1h-1zM73 13h1v1h-1zM29 23h1v1h-1zM46 25h1v1h-1zM67 25h1v1h-1zM48 37h1v1h-1zM28 41h1v1h-1zM12 42h1v1h-1zM34 51h1v1h-1zM37 59h1v1h-1zM54 60h1v1h-1zM8 63h1v1h-1zM1 66h1v1h-1zM68 67h1v1h-1zM45 71h1v1h-1zM46 72h1v1h-1zM5 73h1v1h-1zM22 74h1v1h-1z"/><path fill="#281e0a" d="M35 0h1v1h-1zM37 1h1v1h-1zM29 2h1v1h-1zM69 2h1v1h-1zM8 3h1v1h-1zM14 3h1v1h-1zM30 4h1v1h-1zM71 4h1v1h-1zM66 5h2v1h-2zM9 6h1v1h-1zM39 8h1v1h-1zM7 9h1v1h-1zM45 9h1v1h-1zM49 9h1v1h-1zM67 9h1v1h-1zM5 10h1v1h-1zM71 10h1v1h-1zM16 11h1v1h-1zM39 11h1v1h-1zM43 11h1v1h-1zM42 13h1v1h-1zM62 13h1v1h-1zM4 14h1v1h-1zM55 14h1v1h-1zM30 16h1v1h-1zM71 18h1v1h-1zM25 19h1v1h-1zM29 19h1v1h-1zM54 20h1v1h-1zM74 20h1v1h-1zM22 21h1v1h-1zM28 22h1v1h-1zM54 22h1v1h-1zM30 23h1v1h-1zM38 23h1v1h-1zM4 25h1v1h-1zM7 25h1v1h-1zM21 26h1v1h-1zM28 26h1v1h-1zM59 28h1v1h-1zM37 29h1v1h-1zM27 34h1v1h-1zM46 35h1v1h-1zM11 36h1v1h-1zM18 36h1v1h-1zM54 36h1v1h-1zM58 37h1v1h-1zM30 39h1v1h-1zM46 40h1v1h-1zM49 41h1v1h-1zM13 42h1v1h-1zM7 43h1v1h-1zM66 43h1v1h-1zM62 45h1v1h-1zM4 48h1v1h-1zM26 50h1v1h-1zM39 50h1v1h-1zM73 51h1v1h-1zM32 52h1v1h-1zM54 53h1v1h-1zM28 54h1v1h-1zM30 54h1v1h-1zM50 54h1v1h-1zM67 54h1v1h-1zM44 56h1v1h-1zM66 58h1v1h-1zM59 67h1v1h-1zM0 68h1v1h-1zM66 69h1v1h-1zM64 70h1v1h-1zM52 72h1v1h-1zM21 73h1v1h-1zM30 73h1v1h-1zM21 74h1v1h-1z"/><path fill="#2d1e0a" d="M36 0h1v1h-1zM43 0h1v1h-1zM17 1h2v1h-2zM56 3h1v1h-1zM38 4h1v1h-1zM38 5h1v1h-1zM49 5h1v1h-1zM57 5h1v1h-1zM15 6h1v1h-1zM37 6h1v1h-1zM43 6h1v1h-1zM51 6h2v1h-2zM22 7h1v1h-1zM6 8h1v1h-1zM40 8h1v1h-1zM3 9h1v1h-1zM30 9h1v1h-1zM40 9h1v1h-1zM73 9h1v1h-1zM2 10h1v1h-1zM8 11h1v1h-1zM33 11h1v1h-1zM1 13h1v1h-1zM5 13h1v1h-1zM32 13h1v1h-1zM11 14h1v1h-1zM73 14h1v1h-1zM29 15h1v1h-1zM32 15h1v1h-1zM36 15h1v1h-1zM47 15h1v1h-1zM72 15h1v1h-1zM42 16h1v1h-1zM32 17h1v1h-1zM72 17h2v1h-2zM25 18h1v1h-1zM30 18h1v1h-1zM49 18h1v1h-1zM46 19h1v1h-1zM52 21h1v1h-1zM46 22h1v1h-1zM21 23h1v1h-1zM42 24h1v1h-1zM29 25h1v1h-1zM43 25h1v1h-1zM20 26h1v1h-1zM40 26h1v1h-1zM49 26h1v1h-1zM58 26h1v1h-1zM19 27h1v1h-1zM29 28h1v1h-1zM40 28h1v1h-1zM51 29h1v1h-1zM72 31h1v1h-1zM51 33h1v1h-1zM23 34h1v1h-1zM55 36h1v1h-1zM28 37h1v1h-1zM57 37h1v1h-1zM19 40h1v1h-1zM44 41h1v1h-1zM63 41h1v1h-1zM47 42h1v1h-1zM65 42h1v1h-1zM47 43h1v1h-1zM6 44h1v1h-1zM21 44h1v1h-1zM64 45h1v1h-1zM50 46h1v1h-1zM64 46h1v1h-1zM40 47h1v1h-1zM7 48h1v1h-1zM9 49h1v1h-1zM11 49h1v1h-1zM6 50h1v1h-1zM32 50h1v1h-1zM31 52h1v1h-1zM33 53h1v1h-1zM36 56h1v1h-1zM13 57h1v1h-1zM36 57h1v1h-1zM15 59h1v1h-1zM27 59h1v1h-1zM54 59h1v1h-1zM66 59h1v1h-1zM5 60h1v1h-1zM20 60h1v1h-1zM13 61h1v1h-1zM70 61h1v1h-1zM35 63h1v1h-1zM68 64h1v1h-1zM8 65h1v1h-1zM67 65h1v1h-1zM4 67h1v1h-1zM13 67h1v1h-1zM2 71h2v1h-2zM51 72h1v1h-1zM64 72h1v1h-1zM73 72h1v1h-1zM6 74h1v1h-1zM55 74h1v1h-1z"/><path fill="#371e14" d="M37 0h1v1h-1zM54 0h1v1h-1zM57 0h1v1h-1zM27 1h1v1h-1zM65 1h1v1h-1zM31 3h1v1h-1zM41 3h1v1h-1zM46 7h1v1h-1zM19 9h1v1h-1zM66 10h1v1h-1zM30 11h1v1h-1zM57 11h1v1h-1zM51 12h1v1h-1zM35 15h1v1h-1zM61 16h1v1h-1zM34 17h1v1h-1zM31 23h1v1h-1zM49 25h1v1h-1zM67 26h1v1h-1zM9 27h1v1h-1zM14 27h1v1h-1zM72 27h2v1h-2zM36 28h1v1h-1zM45 28h1v1h-1zM70 28h1v1h-1zM42 30h1v1h-1zM57 30h1v1h-1zM23 32h1v1h-1zM64 34h1v1h-1zM5 35h1v1h-1zM53 37h1v1h-1zM11 38h1v1h-1zM12 40h1v1h-1zM29 40h1v1h-1zM68 41h1v1h-1zM46 43h1v1h-1zM68 44h1v1h-1zM70 44h1v1h-1zM19 46h2v1h-2zM47 48h1v1h-1zM16 49h1v1h-1zM37 53h1v1h-1zM34 55h1v1h-1zM65 55h1v1h-1zM54 56h1v1h-1zM15 57h2v1h-2zM27 57h1v1h-1zM3 58h1v1h-1zM69 58h1v1h-1zM67 60h1v1h-1zM19 65h1v1h-1zM19 67h1v1h-1zM64 67h1v1h-1zM70 67h1v1h-1zM72 67h1v1h-1zM66 68h1v1h-1zM53 69h1v1h-1zM22 71h1v1h-1zM26 72h1v1h-1z"/><path fill="#282814" d="M38 0h1v1h-1zM33 3h1v1h-1zM55 5h1v1h-1zM1 6h1v1h-1zM5 26h1v1h-1zM39 28h1v1h-1zM9 30h1v1h-1zM9 32h1v1h-1zM65 32h1v1h-1zM9 36h1v1h-1zM35 45h1v1h-1zM74 47h1v1h-1zM44 53h1v1h-1zM19 54h1v1h-1zM10 60h1v1h-1zM31 72h1v1h-1zM16 73h1v1h-1zM62 73h1v1h-1zM47 74h1v1h-1z"/><path fill="#412314" d="M40 0h1v1h-1zM59 11h1v1h-1zM12 15h1v1h-1zM8 17h1v1h-1zM11 17h1v1h-1zM47 18h1v1h-1zM71 27h1v1h-1zM74 30h1v1h-1zM0 35h1v1h-1zM69 46h1v1h-1zM74 55h1v1h-1zM22 69h1v1h-1z"/><path fill="#321e14" d="M45 0h1v1h-1zM19 2h1v1h-1zM50 2h1v1h-1zM62 2h1v1h-1zM65 2h1v1h-1zM2 3h1v1h-1zM16 7h1v1h-1zM41 7h1v1h-1zM15 9h1v1h-1zM42 9h1v1h-1zM1 10h1v1h-1zM18 10h1v1h-1zM55 11h1v1h-1zM43 13h1v1h-1zM60 13h1v1h-1zM14 14h1v1h-1zM60 14h1v1h-1zM2 15h1v1h-1zM58 15h1v1h-1zM11 16h1v1h-1zM31 16h1v1h-1zM23 17h2v1h-2zM38 19h1v1h-1zM43 20h1v1h-1zM48 20h1v1h-1zM62 22h1v1h-1zM65 24h1v1h-1zM11 25h1v1h-1zM38 25h1v1h-1zM14 26h1v1h-1zM70 29h1v1h-1zM1 30h1v1h-1zM42 32h1v1h-1zM11 34h1v1h-1zM45 34h1v1h-1zM52 37h1v1h-1zM73 37h1v1h-1zM29 38h2v1h-2zM10 39h1v1h-1zM10 41h1v1h-1zM43 42h1v1h-1zM46 42h1v1h-1zM66 44h1v1h-1zM68 45h1v1h-1zM62 46h1v1h-1zM8 47h1v1h-1zM65 48h1v1h-1zM74 48h1v1h-1zM46 50h1v1h-1zM3 51h1v1h-1zM8 51h1v1h-1zM26 51h1v1h-1zM61 51h1v1h-1zM26 52h1v1h-1zM36 52h1v1h-1zM42 52h1v1h-1zM58 55h1v1h-1zM28 56h1v1h-1zM58 57h1v1h-1zM33 58h1v1h-1zM32 60h2v1h-2zM35 60h1v1h-1zM72 60h1v1h-1zM5 61h1v1h-1zM47 63h1v1h-1zM3 66h1v1h-1zM59 66h1v1h-1zM12 68h1v1h-1zM58 69h1v1h-1zM29 70h1v1h-1zM60 70h3v1h-3zM52 71h1v1h-1zM62 71h1v1h-1zM10 73h1v1h-1z"/><path fill="#3c230f" d="M46 0h1v1h-1zM0 1h1v1h-1zM32 1h1v1h-1zM8 2h1v1h-1zM19 4h1v1h-1zM31 8h1v1h-1zM21 9h1v1h-1zM20 16h1v1h-1zM69 18h1v1h-1zM6 19h1v1h-1zM36 19h1v1h-1zM0 22h1v1h-1zM54 27h1v1h-1zM37 28h1v1h-1zM24 31h1v1h-1zM43 31h1v1h-1zM70 32h1v1h-1zM13 34h2v1h-2zM29 34h1v1h-1zM61 40h1v1h-1zM7 41h1v1h-1zM46 41h1v1h-1zM57 44h1v1h-1zM37 49h1v1h-1zM59 49h1v1h-1zM44 50h2v1h-2zM7 51h1v1h-1zM21 52h1v1h-1zM2 53h1v1h-1zM32 54h1v1h-1zM41 54h1v1h-1zM5 55h1v1h-1zM40 56h1v1h-1zM27 58h1v1h-1zM8 59h1v1h-1zM27 60h1v1h-1zM51 64h1v1h-1zM22 67h1v1h-1zM62 67h1v1h-1zM24 69h1v1h-1zM60 69h1v1h-1zM2 74h1v1h-1zM33 74h1v1h-1zM45 74h1v1h-1z"/><path fill="#37190a" d="M47 0h1v1h-1zM32 10h1v1h-1zM5 15h1v1h-1zM5 16h1v1h-1zM41 16h1v1h-1zM22 20h1v1h-1zM56 30h1v1h-1zM27 53h1v1h-1zM23 58h1v1h-1zM45 61h1v1h-1z"/><path fill="#413219" d="M49 0h1v1h-1zM46 12h1v1h-1zM40 34h1v1h-1zM34 45h1v1h-1z"/><path fill="#2d2d14" d="M50 0h1v1h-1zM5 4h1v1h-1zM74 6h1v1h-1zM64 17h1v1h-1zM58 24h1v1h-1zM2 38h1v1h-1zM72 38h1v1h-1zM3 39h1v1h-1zM72 39h1v1h-1zM34 44h1v1h-1zM59 47h1v1h-1zM20 54h1v1h-1zM45 54h1v1h-1zM55 54h1v1h-1zM59 57h1v1h-1zM61 59h1v1h-1zM72 63h2v1h-2zM68 71h1v1h-1z"/><path fill="#282314" d="M51 0h1v1h-1zM11 1h1v1h-1zM51 1h1v1h-1zM34 2h1v1h-1zM55 4h1v1h-1zM7 5h1v1h-1zM12 5h1v1h-1zM24 5h1v1h-1zM11 6h1v1h-1zM24 6h1v1h-1zM0 7h2v1h-2zM5 7h1v1h-1zM8 7h1v1h-1zM52 8h1v1h-1zM20 10h1v1h-1zM54 11h1v1h-1zM62 11h1v1h-1zM44 13h1v1h-1zM17 16h1v1h-1zM58 16h1v1h-1zM69 17h1v1h-1zM65 18h1v1h-1zM10 23h1v1h-1zM9 25h1v1h-1zM50 25h1v1h-1zM62 27h1v1h-1zM62 30h1v1h-1zM33 31h1v1h-1zM63 31h1v1h-1zM61 33h1v1h-1zM21 39h1v1h-1zM18 42h1v1h-1zM19 43h1v1h-1zM27 43h1v1h-1zM58 43h1v1h-1zM30 44h1v1h-1zM29 45h1v1h-1zM41 47h1v1h-1zM2 49h1v1h-1zM48 49h1v1h-1zM16 51h1v1h-1zM66 51h1v1h-1zM11 57h1v1h-1zM4 58h1v1h-1zM9 58h1v1h-1zM17 60h1v1h-1zM62 62h1v1h-1zM0 63h1v1h-1zM6 65h1v1h-1zM2 67h1v1h-1zM57 67h1v1h-1zM6 68h1v1h-1zM9 68h1v1h-1zM48 68h1v1h-1zM34 69h1v1h-1zM23 70h1v1h-1zM19 71h1v1h-1zM32 71h1v1h-1zM17 72h1v1h-1zM12 74h1v1h-1z"/><path fill="#372319" d="M55 0h1v1h-1zM43 5h1v1h-1zM58 10h1v1h-1zM22 16h1v1h-1zM46 20h1v1h-1zM11 23h1v1h-1zM19 23h1v1h-1zM45 27h1v1h-1zM43 29h1v1h-1zM43 30h1v1h-1zM41 31h1v1h-1zM62 31h1v1h-1zM65 35h1v1h-1zM23 38h1v1h-1zM47 40h1v1h-1zM16 46h1v1h-1zM9 53h1v1h-1zM59 55h1v1h-1zM69 61h1v1h-1zM74 61h1v1h-1zM5 63h1v1h-1zM58 65h1v1h-1zM73 67h1v1h-1zM39 69h1v1h-1zM59 70h1v1h-1zM14 74h1v1h-1z"/><path fill="#321914" d="M56 0h1v1h-1zM9 1h1v1h-1zM64 1h1v1h-1zM31 6h1v1h-1zM1 15h1v1h-1zM72 20h1v1h-1zM56 26h1v1h-1zM20 27h1v1h-1zM35 27h1v1h-1zM54 32h1v1h-1zM63 33h1v1h-1zM45 35h1v1h-1zM65 36h1v1h-1zM22 40h1v1h-1zM54 42h1v1h-1zM70 47h1v1h-1zM74 49h1v1h-1zM35 56h1v1h-1zM24 58h1v1h-1zM69 63h1v1h-1zM38 65h1v1h-1zM15 74h1v1h-1z"/><path fill="#231e0a" d="M59 0h1v1h-1zM16 2h1v1h-1zM12 6h1v1h-1zM11 7h1v1h-1zM36 7h1v1h-1zM45 7h1v1h-1zM6 11h1v1h-1zM62 12h1v1h-1zM68 13h1v1h-1zM27 14h1v1h-1zM54 14h1v1h-1zM50 15h1v1h-1zM62 15h1v1h-1zM74 16h1v1h-1zM67 18h1v1h-1zM45 20h1v1h-1zM52 20h1v1h-1zM63 20h1v1h-1zM6 21h1v1h-1zM61 21h1v1h-1zM44 22h1v1h-1zM5 23h1v1h-1zM44 24h1v1h-1zM57 25h2v1h-2zM60 26h1v1h-1zM4 27h1v1h-1zM7 27h1v1h-1zM21 29h1v1h-1zM21 36h1v1h-1zM19 37h1v1h-1zM64 37h1v1h-1zM28 38h1v1h-1zM45 38h1v1h-1zM70 39h1v1h-1zM4 43h1v1h-1zM74 43h1v1h-1zM9 44h1v1h-1zM56 44h1v1h-1zM26 46h1v1h-1zM39 51h1v1h-1zM8 54h1v1h-1zM14 61h3v1h-3zM0 62h1v1h-1zM66 63h1v1h-1zM15 64h1v1h-1zM37 64h1v1h-1zM63 70h1v1h-1zM14 72h1v1h-1zM29 72h2v1h-2zM9 74h1v1h-1zM23 74h1v1h-1z"/><path fill="#2d230f" d="M60 0h1v1h-1zM8 1h1v1h-1zM12 1h1v1h-1zM23 1h1v1h-1zM35 1h1v1h-1zM44 1h1v1h-1zM56 1h1v1h-1zM61 1h1v1h-1zM1 2h1v1h-1zM15 2h1v1h-1zM74 2h1v1h-1zM26 3h1v1h-1zM30 3h1v1h-1zM38 3h1v1h-1zM46 3h1v1h-1zM18 4h1v1h-1zM20 4h1v1h-1zM28 4h1v1h-1zM46 4h1v1h-1zM51 4h1v1h-1zM54 4h1v1h-1zM70 4h1v1h-1zM3 5h1v1h-1zM27 5h1v1h-1zM36 5h1v1h-1zM42 5h1v1h-1zM59 5h1v1h-1zM50 6h1v1h-1zM3 7h1v1h-1zM12 8h1v1h-1zM30 8h1v1h-1zM38 8h1v1h-1zM45 8h1v1h-1zM58 8h1v1h-1zM70 8h1v1h-1zM59 9h1v1h-1zM71 9h1v1h-1zM35 11h1v1h-1zM38 12h1v1h-1zM55 12h1v1h-1zM0 13h1v1h-1zM12 13h2v1h-2zM15 13h1v1h-1zM37 13h1v1h-1zM5 14h1v1h-1zM16 14h1v1h-1zM9 15h1v1h-1zM28 15h1v1h-1zM30 15h1v1h-1zM54 15h1v1h-1zM59 15h1v1h-1zM13 16h1v1h-1zM27 16h1v1h-1zM50 16h1v1h-1zM60 16h1v1h-1zM6 18h1v1h-1zM24 18h1v1h-1zM56 18h1v1h-1zM63 18h1v1h-1zM8 19h1v1h-1zM61 19h1v1h-1zM1 21h1v1h-1zM4 21h1v1h-1zM8 21h1v1h-1zM23 21h1v1h-1zM51 21h1v1h-1zM67 21h1v1h-1zM1 22h1v1h-1zM57 22h1v1h-1zM67 22h1v1h-1zM25 23h1v1h-1zM49 23h1v1h-1zM67 23h1v1h-1zM72 23h1v1h-1zM33 24h1v1h-1zM47 24h1v1h-1zM66 24h1v1h-1zM69 24h1v1h-1zM13 25h1v1h-1zM21 25h1v1h-1zM32 25h1v1h-1zM62 25h1v1h-1zM23 26h1v1h-1zM64 26h1v1h-1zM66 26h1v1h-1zM3 27h1v1h-1zM18 27h1v1h-1zM60 27h1v1h-1zM67 27h1v1h-1zM20 28h1v1h-1zM2 29h1v1h-1zM18 29h1v1h-1zM39 29h1v1h-1zM67 29h1v1h-1zM25 30h1v1h-1zM69 30h1v1h-1zM5 31h1v1h-1zM65 31h1v1h-1zM10 32h1v1h-1zM20 32h1v1h-1zM67 32h1v1h-1zM4 33h1v1h-1zM45 33h1v1h-1zM9 34h1v1h-1zM65 34h1v1h-1zM21 35h1v1h-1zM24 35h1v1h-1zM45 36h1v1h-1zM55 37h1v1h-1zM29 39h1v1h-1zM45 39h2v1h-2zM58 39h1v1h-1zM0 40h1v1h-1zM54 40h1v1h-1zM64 40h1v1h-1zM68 40h1v1h-1zM17 41h1v1h-1zM54 41h1v1h-1zM16 42h1v1h-1zM32 42h1v1h-1zM48 43h1v1h-1zM52 43h1v1h-1zM67 43h1v1h-1zM71 43h1v1h-1zM3 44h1v1h-1zM49 44h1v1h-1zM63 44h1v1h-1zM0 45h1v1h-1zM8 45h1v1h-1zM28 45h1v1h-1zM36 45h1v1h-1zM52 45h1v1h-1zM56 45h1v1h-1zM5 46h1v1h-1zM29 46h1v1h-1zM51 46h1v1h-1zM36 47h1v1h-1zM69 47h1v1h-1zM10 48h1v1h-1zM21 48h1v1h-1zM69 48h1v1h-1zM0 49h1v1h-1zM22 49h1v1h-1zM41 49h1v1h-1zM53 49h1v1h-1zM43 50h1v1h-1zM1 51h1v1h-1zM28 51h1v1h-1zM44 51h1v1h-1zM61 52h2v1h-2zM19 53h1v1h-1zM36 53h1v1h-1zM40 53h1v1h-1zM49 53h1v1h-1zM56 54h1v1h-1zM62 54h1v1h-1zM72 54h1v1h-1zM38 55h1v1h-1zM52 55h1v1h-1zM20 56h1v1h-1zM68 56h1v1h-1zM70 56h1v1h-1zM1 57h1v1h-1zM3 57h1v1h-1zM17 57h1v1h-1zM32 57h1v1h-1zM57 57h1v1h-1zM50 58h1v1h-1zM9 59h1v1h-1zM71 59h1v1h-1zM55 60h1v1h-1zM57 60h1v1h-1zM26 61h1v1h-1zM35 61h1v1h-1zM9 62h1v1h-1zM26 62h1v1h-1zM38 62h1v1h-1zM73 62h1v1h-1zM36 63h1v1h-1zM50 64h1v1h-1zM4 65h1v1h-1zM42 66h1v1h-1zM49 66h1v1h-1zM56 66h1v1h-1zM1 67h1v1h-1zM50 67h1v1h-1zM58 67h1v1h-1zM36 68h1v1h-1zM58 68h1v1h-1zM73 68h1v1h-1zM13 69h2v1h-2zM17 69h2v1h-2zM23 69h1v1h-1zM40 69h1v1h-1zM54 69h1v1h-1zM0 70h1v1h-1zM19 70h1v1h-1zM51 70h2v1h-2zM56 70h1v1h-1zM16 71h1v1h-1zM21 71h1v1h-1zM47 72h1v1h-1zM59 72h1v1h-1zM58 73h1v1h-1zM51 74h1v1h-1z"/><path fill="#321e05" d="M61 0h1v1h-1zM57 6h1v1h-1zM64 13h1v1h-1zM49 21h1v1h-1zM68 23h1v1h-1zM39 25h1v1h-1zM28 27h1v1h-1zM8 44h1v1h-1zM13 53h1v1h-1zM70 53h1v1h-1zM2 60h1v1h-1zM11 61h1v1h-1zM32 68h1v1h-1zM25 71h1v1h-1zM53 74h1v1h-1z"/><path fill="#28230a" d="M62 0h1v1h-1zM36 1h1v1h-1zM42 1h1v1h-1zM45 1h1v1h-1zM7 2h1v1h-1zM40 2h1v1h-1zM29 3h1v1h-1zM73 3h1v1h-1zM16 4h1v1h-1zM71 6h1v1h-1zM25 7h1v1h-1zM35 7h1v1h-1zM43 7h1v1h-1zM55 7h1v1h-1zM68 7h1v1h-1zM44 8h1v1h-1zM67 8h1v1h-1zM4 9h1v1h-1zM66 9h1v1h-1zM68 9h1v1h-1zM44 10h1v1h-1zM60 10h1v1h-1zM14 11h1v1h-1zM70 11h1v1h-1zM0 12h1v1h-1zM26 12h1v1h-1zM39 12h1v1h-1zM72 12h1v1h-1zM26 13h1v1h-1zM18 14h1v1h-1zM33 14h1v1h-1zM12 19h1v1h-1zM44 19h1v1h-1zM47 19h1v1h-1zM24 21h1v1h-1zM27 21h1v1h-1zM54 21h1v1h-1zM66 21h1v1h-1zM3 22h2v1h-2zM58 22h1v1h-1zM44 23h1v1h-1zM59 23h1v1h-1zM43 24h1v1h-1zM60 25h1v1h-1zM55 26h1v1h-1zM61 26h1v1h-1zM2 27h1v1h-1zM17 27h1v1h-1zM24 28h1v1h-1zM59 29h1v1h-1zM21 30h1v1h-1zM8 33h1v1h-1zM56 33h1v1h-1zM17 34h1v1h-1zM74 34h1v1h-1zM27 35h1v1h-1zM27 36h1v1h-1zM56 36h1v1h-1zM4 37h2v1h-2zM62 37h1v1h-1zM55 38h1v1h-1zM68 38h1v1h-1zM28 39h1v1h-1zM43 39h1v1h-1zM62 40h1v1h-1zM43 41h1v1h-1zM59 42h1v1h-1zM23 44h1v1h-1zM53 45h1v1h-1zM56 46h1v1h-1zM30 47h1v1h-1zM67 48h1v1h-1zM60 49h1v1h-1zM55 50h1v1h-1zM25 51h1v1h-1zM39 53h1v1h-1zM46 53h1v1h-1zM72 53h1v1h-1zM73 54h1v1h-1zM9 55h1v1h-1zM17 55h1v1h-1zM17 56h1v1h-1zM4 57h1v1h-1zM31 57h1v1h-1zM18 58h1v1h-1zM5 59h1v1h-1zM50 59h1v1h-1zM56 59h1v1h-1zM12 60h1v1h-1zM31 60h1v1h-1zM53 60h1v1h-1zM71 60h1v1h-1zM38 61h1v1h-1zM72 61h1v1h-1zM54 62h1v1h-1zM9 63h1v1h-1zM45 63h1v1h-1zM55 63h1v1h-1zM62 63h1v1h-1zM18 64h1v1h-1zM48 64h1v1h-1zM69 65h1v1h-1zM66 66h1v1h-1zM56 67h1v1h-1zM40 68h1v1h-1zM2 69h1v1h-1zM33 69h1v1h-1zM5 70h1v1h-1zM15 70h1v1h-1zM6 71h1v1h-1zM12 71h1v1h-1zM46 71h1v1h-1zM51 71h1v1h-1zM56 71h1v1h-1zM63 71h1v1h-1zM65 71h1v1h-1zM9 72h1v1h-1zM13 72h1v1h-1zM27 72h1v1h-1zM2 73h1v1h-1zM46 73h1v1h-1zM24 74h1v1h-1z"/><path fill="#1e1e0a" d="M63 0h1v1h-1zM43 8h1v1h-1zM45 10h1v1h-1zM8 15h1v1h-1zM0 16h1v1h-1zM26 18h1v1h-1zM45 21h1v1h-1zM30 22h1v1h-1zM59 43h1v1h-1zM25 45h1v1h-1zM17 59h1v1h-1z"/><path fill="#2d1914" d="M64 0h1v1h-1zM53 1h1v1h-1zM63 2h1v1h-1zM55 9h1v1h-1zM42 10h1v1h-1zM42 11h1v1h-1zM29 12h1v1h-1zM30 14h1v1h-1zM42 23h1v1h-1zM32 26h1v1h-1zM57 26h1v1h-1zM6 28h1v1h-1zM67 36h1v1h-1zM10 43h1v1h-1zM24 45h1v1h-1zM53 50h1v1h-1zM12 59h1v1h-1zM67 59h1v1h-1zM22 66h1v1h-1z"/><path fill="#2d1419" d="M65 0h1v1h-1z"/><path fill="#2d1e0f" d="M66 0h1v1h-1zM19 1h1v1h-1zM48 1h1v1h-1zM70 2h1v1h-1zM43 3h1v1h-1zM57 3h1v1h-1zM72 3h1v1h-1zM3 4h1v1h-1zM17 6h1v1h-1zM23 6h1v1h-1zM26 6h1v1h-1zM35 6h1v1h-1zM42 6h1v1h-1zM63 6h1v1h-1zM17 7h1v1h-1zM37 8h1v1h-1zM22 9h1v1h-1zM36 9h2v1h-2zM9 10h1v1h-1zM16 10h1v1h-1zM37 10h1v1h-1zM39 10h1v1h-1zM55 10h1v1h-1zM24 11h1v1h-1zM8 12h1v1h-1zM63 12h1v1h-1zM4 13h1v1h-1zM7 13h1v1h-1zM3 14h1v1h-1zM32 14h1v1h-1zM40 14h1v1h-1zM49 14h1v1h-1zM59 14h1v1h-1zM10 15h1v1h-1zM33 15h1v1h-1zM1 16h1v1h-1zM45 18h1v1h-1zM50 18h1v1h-1zM35 19h1v1h-1zM67 19h1v1h-1zM6 20h2v1h-2zM27 20h1v1h-1zM37 20h1v1h-1zM53 20h1v1h-1zM57 20h1v1h-1zM2 21h1v1h-1zM29 21h1v1h-1zM70 22h1v1h-1zM0 23h1v1h-1zM45 23h1v1h-1zM73 23h2v1h-2zM55 24h1v1h-1zM14 25h1v1h-1zM52 25h1v1h-1zM70 26h1v1h-1zM23 27h1v1h-1zM33 27h1v1h-1zM4 28h2v1h-2zM9 29h1v1h-1zM23 29h1v1h-1zM51 30h1v1h-1zM67 30h1v1h-1zM52 31h1v1h-1zM63 32h1v1h-1zM24 33h1v1h-1zM56 34h1v1h-1zM60 34h1v1h-1zM68 34h1v1h-1zM73 34h1v1h-1zM54 35h2v1h-2zM58 35h1v1h-1zM60 35h1v1h-1zM63 35h1v1h-1zM72 35h1v1h-1zM4 36h1v1h-1zM24 36h1v1h-1zM59 36h2v1h-2zM63 36h1v1h-1zM51 37h1v1h-1zM72 37h1v1h-1zM74 37h1v1h-1zM6 38h1v1h-1zM18 38h1v1h-1zM21 38h1v1h-1zM57 38h1v1h-1zM74 38h1v1h-1zM52 39h1v1h-1zM69 39h1v1h-1zM0 42h1v1h-1zM15 42h1v1h-1zM48 42h1v1h-1zM68 42h1v1h-1zM6 43h1v1h-1zM20 44h1v1h-1zM45 44h1v1h-1zM3 45h1v1h-1zM13 45h1v1h-1zM57 45h1v1h-1zM71 45h1v1h-1zM37 46h1v1h-1zM48 46h1v1h-1zM72 46h1v1h-1zM6 48h1v1h-1zM18 50h1v1h-1zM60 50h1v1h-1zM5 51h1v1h-1zM40 51h1v1h-1zM6 52h1v1h-1zM69 52h1v1h-1zM29 54h1v1h-1zM57 55h1v1h-1zM23 56h1v1h-1zM27 56h1v1h-1zM45 56h1v1h-1zM53 56h1v1h-1zM7 57h1v1h-1zM65 57h1v1h-1zM42 58h1v1h-1zM44 58h1v1h-1zM16 59h1v1h-1zM52 59h1v1h-1zM55 59h1v1h-1zM8 60h2v1h-2zM18 60h1v1h-1zM30 60h1v1h-1zM59 60h1v1h-1zM0 61h1v1h-1zM67 61h1v1h-1zM1 62h1v1h-1zM28 62h1v1h-1zM49 62h1v1h-1zM4 63h1v1h-1zM15 63h1v1h-1zM21 63h1v1h-1zM51 63h1v1h-1zM23 64h1v1h-1zM49 64h1v1h-1zM58 64h1v1h-1zM24 65h1v1h-1zM39 65h1v1h-1zM48 65h1v1h-1zM53 65h1v1h-1zM9 66h1v1h-1zM31 66h1v1h-1zM16 67h1v1h-1zM30 67h1v1h-1zM60 67h1v1h-1zM1 68h1v1h-1zM28 68h1v1h-1zM52 68h1v1h-1zM67 68h1v1h-1zM10 69h1v1h-1zM28 69h1v1h-1zM61 69h1v1h-1zM13 70h1v1h-1zM21 70h1v1h-1zM73 70h2v1h-2zM36 71h1v1h-1zM72 72h1v1h-1zM1 73h1v1h-1zM13 73h1v1h-1zM41 73h2v1h-2zM55 73h1v1h-1z"/><path fill="#1e230f" d="M67 0h1v1h-1zM34 4h1v1h-1zM0 10h1v1h-1zM64 10h1v1h-1zM55 15h1v1h-1zM0 44h1v1h-1zM19 74h1v1h-1z"/><path fill="#19190a" d="M68 0h1v1h-1zM0 18h1v1h-1z"/><path fill="#191e0a" d="M69 0h1v1h-1zM44 7h1v1h-1zM7 26h1v1h-1z"/><path fill="#23140a" d="M71 0h1v1h-1z"/><path fill="#3c190f" d="M72 0h1v1h-1zM18 5h1v1h-1zM59 21h1v1h-1zM47 27h1v1h-1zM8 40h1v1h-1zM12 47h1v1h-1zM44 49h1v1h-1z"/><path fill="#411914" d="M73 0h1v1h-1zM51 31h1v1h-1zM7 73h1v1h-1z"/><path fill="#4b1e19" d="M74 0h1v1h-1z"/><path fill="#372814" d="M1 1h1v1h-1zM5 1h1v1h-1zM26 2h1v1h-1zM25 4h1v1h-1zM48 4h1v1h-1zM34 6h1v1h-1zM53 7h1v1h-1zM56 12h1v1h-1zM60 12h1v1h-1zM45 13h1v1h-1zM2 14h1v1h-1zM45 17h1v1h-1zM15 18h1v1h-1zM22 19h1v1h-1zM15 24h1v1h-1zM37 25h1v1h-1zM74 27h1v1h-1zM31 28h1v1h-1zM34 28h1v1h-1zM51 28h1v1h-1zM24 30h1v1h-1zM35 30h1v1h-1zM59 30h1v1h-1zM53 33h1v1h-1zM50 39h2v1h-2zM32 40h1v1h-1zM33 43h1v1h-1zM64 43h1v1h-1zM12 45h1v1h-1zM49 45h1v1h-1zM48 48h1v1h-1zM58 49h1v1h-1zM71 49h1v1h-1zM50 50h1v1h-1zM68 53h2v1h-2zM70 54h1v1h-1zM20 55h1v1h-1zM23 55h1v1h-1zM66 55h1v1h-1zM23 57h1v1h-1zM13 59h1v1h-1zM46 59h1v1h-1zM44 62h1v1h-1zM28 63h1v1h-1zM42 63h1v1h-1zM34 65h1v1h-1zM34 66h1v1h-1zM70 66h1v1h-1zM10 67h1v1h-1zM17 67h1v1h-1zM30 70h1v1h-1zM57 71h1v1h-1zM8 72h1v1h-1zM10 74h1v1h-1zM72 74h1v1h-1z"/><path fill="#3c1e0f" d="M2 1h1v1h-1zM60 5h1v1h-1zM18 6h1v1h-1zM58 6h1v1h-1zM56 7h1v1h-1zM59 7h1v1h-1zM58 11h1v1h-1zM12 16h1v1h-1zM42 19h1v1h-1zM62 24h1v1h-1zM47 26h1v1h-1zM50 26h1v1h-1zM34 27h1v1h-1zM2 31h1v1h-1zM23 33h1v1h-1zM10 37h1v1h-1zM31 43h1v1h-1zM12 48h1v1h-1zM72 49h1v1h-1zM51 51h1v1h-1zM6 72h1v1h-1zM39 73h1v1h-1z"/><path fill="#3c280f" d="M3 1h1v1h-1zM42 3h1v1h-1zM68 3h1v1h-1zM19 8h1v1h-1zM63 8h1v1h-1zM57 10h1v1h-1zM58 12h1v1h-1zM57 16h1v1h-1zM31 19h1v1h-1zM41 20h1v1h-1zM69 22h1v1h-1zM68 24h1v1h-1zM74 24h1v1h-1zM52 30h1v1h-1zM42 31h1v1h-1zM16 33h1v1h-1zM47 33h1v1h-1zM21 34h1v1h-1zM28 36h1v1h-1zM6 39h1v1h-1zM32 39h1v1h-1zM26 40h1v1h-1zM44 42h1v1h-1zM15 48h1v1h-1zM12 50h1v1h-1zM47 52h1v1h-1zM53 52h1v1h-1zM2 54h1v1h-1zM28 57h1v1h-1zM74 57h1v1h-1zM29 58h1v1h-1zM23 60h1v1h-1zM62 65h1v1h-1zM22 70h1v1h-1z"/><path fill="#37320f" d="M4 1h1v1h-1zM17 24h1v1h-1zM12 31h2v1h-2zM44 33h1v1h-1z"/><path fill="#37230a" d="M7 1h1v1h-1zM53 2h1v1h-1zM61 5h1v1h-1zM28 6h1v1h-1zM57 7h1v1h-1zM50 10h1v1h-1zM54 10h1v1h-1zM52 12h1v1h-1zM71 13h1v1h-1zM46 16h1v1h-1zM10 19h1v1h-1zM41 19h1v1h-1zM62 19h1v1h-1zM11 20h1v1h-1zM40 20h1v1h-1zM68 20h1v1h-1zM40 21h1v1h-1zM1 24h1v1h-1zM72 29h1v1h-1zM1 32h1v1h-1zM13 32h1v1h-1zM25 32h1v1h-1zM71 32h1v1h-1zM49 35h1v1h-1zM30 36h1v1h-1zM71 36h1v1h-1zM8 39h1v1h-1zM32 43h1v1h-1zM63 45h1v1h-1zM35 47h1v1h-1zM8 48h1v1h-1zM36 48h1v1h-1zM18 49h1v1h-1zM0 51h1v1h-1zM48 51h1v1h-1zM27 52h2v1h-2zM71 52h1v1h-1zM5 54h1v1h-1zM31 54h1v1h-1zM24 55h1v1h-1zM35 55h1v1h-1zM10 61h1v1h-1zM70 62h1v1h-1zM56 65h1v1h-1zM51 66h1v1h-1zM69 66h1v1h-1zM21 67h1v1h-1zM54 68h1v1h-1zM24 71h1v1h-1z"/><path fill="#28230f" d="M10 1h1v1h-1zM30 2h1v1h-1zM34 3h1v1h-1zM37 3h1v1h-1zM2 4h1v1h-1zM3 6h1v1h-1zM5 6h1v1h-1zM29 6h1v1h-1zM68 6h1v1h-1zM6 7h1v1h-1zM29 8h1v1h-1zM47 8h1v1h-1zM57 8h1v1h-1zM73 8h1v1h-1zM63 9h1v1h-1zM17 11h1v1h-1zM16 12h1v1h-1zM31 14h1v1h-1zM41 14h1v1h-1zM27 15h1v1h-1zM42 15h1v1h-1zM14 16h1v1h-1zM55 16h1v1h-1zM26 17h1v1h-1zM67 17h1v1h-1zM53 18h1v1h-1zM55 18h1v1h-1zM68 18h1v1h-1zM53 19h1v1h-1zM72 21h1v1h-1zM22 22h1v1h-1zM63 22h1v1h-1zM73 22h1v1h-1zM39 23h1v1h-1zM72 25h1v1h-1zM68 26h1v1h-1zM30 27h1v1h-1zM39 27h1v1h-1zM61 27h1v1h-1zM63 27h1v1h-1zM32 28h1v1h-1zM5 30h1v1h-1zM32 32h1v1h-1zM36 32h1v1h-1zM74 32h1v1h-1zM52 33h1v1h-1zM53 34h1v1h-1zM62 34h1v1h-1zM8 35h2v1h-2zM1 36h1v1h-1zM69 37h2v1h-2zM2 39h1v1h-1zM71 40h1v1h-1zM73 40h1v1h-1zM5 41h1v1h-1zM5 42h1v1h-1zM12 43h1v1h-1zM59 44h1v1h-1zM42 45h1v1h-1zM72 45h1v1h-1zM36 46h1v1h-1zM74 46h1v1h-1zM23 47h1v1h-1zM64 47h1v1h-1zM14 48h1v1h-1zM23 48h1v1h-1zM63 48h1v1h-1zM50 49h1v1h-1zM42 50h1v1h-1zM36 51h1v1h-1zM17 52h1v1h-1zM60 52h1v1h-1zM41 53h1v1h-1zM62 53h1v1h-1zM19 55h1v1h-1zM44 55h1v1h-1zM55 56h1v1h-1zM53 57h1v1h-1zM62 57h1v1h-1zM11 58h1v1h-1zM31 58h1v1h-1zM51 58h2v1h-2zM55 58h1v1h-1zM60 58h1v1h-1zM36 59h1v1h-1zM65 59h1v1h-1zM14 60h1v1h-1zM56 61h1v1h-1zM59 61h2v1h-2zM65 61h1v1h-1zM11 62h1v1h-1zM25 62h1v1h-1zM10 63h1v1h-1zM25 64h1v1h-1zM36 64h1v1h-1zM38 64h1v1h-1zM40 64h1v1h-1zM7 66h1v1h-1zM66 67h1v1h-1zM47 68h1v1h-1zM1 69h1v1h-1zM15 69h1v1h-1zM17 71h1v1h-1zM12 72h1v1h-1zM60 72h1v1h-1zM61 73h1v1h-1zM27 74h1v1h-1z"/><path fill="#372314" d="M13 1h1v1h-1zM12 2h1v1h-1zM67 2h1v1h-1zM39 4h1v1h-1zM16 6h1v1h-1zM49 6h1v1h-1zM31 7h1v1h-1zM14 8h1v1h-1zM17 8h2v1h-2zM64 12h1v1h-1zM6 15h1v1h-1zM46 15h1v1h-1zM33 16h1v1h-1zM48 16h1v1h-1zM29 17h1v1h-1zM43 18h1v1h-1zM60 19h1v1h-1zM35 20h1v1h-1zM38 20h1v1h-1zM56 20h1v1h-1zM29 22h1v1h-1zM63 23h1v1h-1zM2 25h1v1h-1zM47 25h1v1h-1zM42 26h1v1h-1zM52 26h1v1h-1zM54 26h1v1h-1zM73 26h1v1h-1zM10 27h1v1h-1zM36 27h2v1h-2zM50 27h1v1h-1zM70 27h1v1h-1zM2 28h1v1h-1zM15 28h1v1h-1zM41 30h1v1h-1zM58 30h1v1h-1zM14 31h1v1h-1zM15 32h1v1h-1zM41 32h1v1h-1zM10 33h1v1h-1zM10 34h1v1h-1zM15 35h1v1h-1zM19 35h1v1h-1zM23 35h1v1h-1zM31 35h1v1h-1zM16 39h1v1h-1zM55 40h1v1h-1zM63 40h1v1h-1zM63 42h1v1h-1zM14 47h1v1h-1zM16 47h1v1h-1zM2 48h1v1h-1zM6 49h1v1h-1zM17 49h1v1h-1zM24 49h1v1h-1zM39 49h2v1h-2zM47 49h1v1h-1zM64 49h1v1h-1zM30 50h1v1h-1zM63 53h1v1h-1zM25 54h1v1h-1zM42 54h1v1h-1zM47 57h1v1h-1zM67 57h1v1h-1zM2 58h1v1h-1zM32 58h1v1h-1zM43 58h1v1h-1zM57 58h1v1h-1zM42 59h1v1h-1zM19 60h1v1h-1zM34 60h1v1h-1zM34 61h1v1h-1zM68 61h1v1h-1zM58 62h1v1h-1zM32 66h1v1h-1zM9 67h1v1h-1zM48 67h1v1h-1zM20 68h1v1h-1zM33 70h1v1h-1zM53 70h1v1h-1zM37 71h1v1h-1zM56 73h1v1h-1zM63 73h1v1h-1zM1 74h1v1h-1zM67 74h1v1h-1z"/><path fill="#231e0f" d="M15 1h1v1h-1zM36 3h1v1h-1zM52 3h1v1h-1zM65 3h1v1h-1zM6 5h1v1h-1zM56 6h1v1h-1zM24 7h1v1h-1zM35 13h1v1h-1zM49 16h1v1h-1zM28 17h1v1h-1zM73 18h1v1h-1zM65 21h1v1h-1zM22 23h1v1h-1zM46 23h2v1h-2zM39 24h1v1h-1zM10 25h1v1h-1zM44 25h1v1h-1zM38 26h1v1h-1zM69 26h1v1h-1zM36 31h1v1h-1zM52 34h1v1h-1zM57 35h1v1h-1zM15 38h1v1h-1zM22 39h1v1h-1zM49 39h1v1h-1zM48 41h1v1h-1zM14 43h1v1h-1zM30 46h1v1h-1zM6 47h1v1h-1zM66 49h1v1h-1zM19 50h1v1h-1zM24 51h1v1h-1zM9 54h1v1h-1zM58 58h1v1h-1zM2 62h1v1h-1zM21 62h1v1h-1zM2 63h2v1h-2zM12 63h1v1h-1zM20 66h1v1h-1zM45 67h1v1h-1zM14 70h1v1h-1zM54 70h1v1h-1zM15 73h1v1h-1zM48 73h1v1h-1zM48 74h1v1h-1zM62 74h1v1h-1z"/><path fill="#281e0f" d="M21 1h1v1h-1zM57 1h1v1h-1zM35 2h1v1h-1zM72 2h1v1h-1zM22 3h1v1h-1zM35 3h1v1h-1zM31 4h1v1h-1zM52 5h1v1h-1zM56 5h1v1h-1zM4 7h1v1h-1zM12 7h1v1h-1zM27 7h1v1h-1zM37 7h1v1h-1zM7 8h1v1h-1zM59 8h1v1h-1zM64 9h1v1h-1zM6 10h1v1h-1zM12 11h1v1h-1zM15 12h1v1h-1zM18 12h1v1h-1zM57 12h1v1h-1zM43 15h1v1h-1zM57 15h1v1h-1zM37 16h1v1h-1zM59 16h1v1h-1zM53 17h1v1h-1zM5 18h1v1h-1zM28 18h1v1h-1zM38 18h1v1h-1zM7 19h1v1h-1zM34 21h2v1h-2zM43 21h1v1h-1zM46 21h1v1h-1zM8 22h1v1h-1zM49 22h1v1h-1zM59 22h1v1h-1zM27 23h1v1h-1zM54 23h1v1h-1zM64 23h1v1h-1zM27 24h1v1h-1zM35 24h1v1h-1zM61 24h1v1h-1zM19 25h1v1h-1zM61 25h1v1h-1zM27 26h1v1h-1zM65 26h1v1h-1zM38 27h1v1h-1zM65 27h1v1h-1zM38 28h1v1h-1zM64 28h1v1h-1zM3 29h1v1h-1zM17 29h1v1h-1zM26 29h1v1h-1zM21 32h1v1h-1zM72 33h1v1h-1zM0 36h1v1h-1zM7 36h1v1h-1zM58 36h1v1h-1zM27 37h1v1h-1zM12 38h1v1h-1zM54 39h1v1h-1zM18 40h1v1h-1zM53 40h1v1h-1zM62 41h1v1h-1zM64 41h1v1h-1zM3 42h1v1h-1zM1 43h1v1h-1zM10 44h1v1h-1zM58 44h1v1h-1zM43 45h1v1h-1zM23 46h1v1h-1zM49 46h1v1h-1zM59 46h1v1h-1zM67 46h1v1h-1zM16 48h1v1h-1zM57 49h1v1h-1zM68 49h1v1h-1zM53 51h1v1h-1zM4 52h1v1h-1zM39 54h1v1h-1zM14 56h1v1h-1zM56 56h1v1h-1zM16 58h1v1h-1zM67 58h1v1h-1zM1 59h1v1h-1zM25 61h1v1h-1zM18 63h1v1h-1zM22 63h1v1h-1zM35 65h1v1h-1zM37 65h1v1h-1zM66 65h1v1h-1zM14 66h1v1h-1zM23 66h1v1h-1zM35 66h1v1h-1zM6 67h1v1h-1zM27 68h1v1h-1zM6 69h1v1h-1zM46 69h1v1h-1zM73 69h1v1h-1zM9 71h1v1h-1zM54 71h1v1h-1zM19 72h1v1h-1zM49 72h1v1h-1zM0 73h1v1h-1zM7 74h1v1h-1zM42 74h1v1h-1zM49 74h2v1h-2z"/><path fill="#23280a" d="M24 1h1v1h-1zM0 5h1v1h-1zM13 6h1v1h-1zM26 7h1v1h-1zM45 11h1v1h-1zM38 22h1v1h-1zM6 23h1v1h-1zM63 28h1v1h-1zM38 33h1v1h-1zM13 36h1v1h-1zM13 37h1v1h-1zM13 38h1v1h-1zM72 41h2v1h-2zM70 43h1v1h-1zM22 44h1v1h-1zM67 44h1v1h-1zM9 45h1v1h-1zM60 48h1v1h-1zM3 64h1v1h-1zM23 65h1v1h-1zM48 71h1v1h-1zM11 74h1v1h-1z"/><path fill="#1e280a" d="M29 1h1v1h-1zM10 11h2v1h-2zM44 15h1v1h-1zM71 39h1v1h-1zM74 44h1v1h-1zM47 58h1v1h-1zM17 62h1v1h-1z"/><path fill="#2d1e14" d="M34 1h1v1h-1zM73 2h1v1h-1zM6 3h1v1h-1zM15 3h1v1h-1zM61 3h1v1h-1zM49 4h1v1h-1zM17 5h1v1h-1zM53 5h1v1h-1zM10 6h1v1h-1zM20 7h1v1h-1zM39 7h1v1h-1zM52 7h1v1h-1zM23 8h1v1h-1zM41 8h1v1h-1zM17 10h1v1h-1zM15 11h1v1h-1zM6 12h1v1h-1zM3 15h1v1h-1zM14 15h1v1h-1zM35 16h1v1h-1zM70 16h1v1h-1zM34 19h1v1h-1zM28 21h1v1h-1zM56 21h1v1h-1zM33 22h1v1h-1zM61 22h1v1h-1zM65 22h1v1h-1zM13 23h1v1h-1zM19 24h1v1h-1zM31 24h1v1h-1zM17 25h1v1h-1zM31 25h1v1h-1zM58 27h1v1h-1zM19 28h1v1h-1zM17 30h1v1h-1zM61 31h1v1h-1zM5 32h1v1h-1zM10 36h1v1h-1zM2 37h1v1h-1zM16 37h1v1h-1zM20 37h1v1h-1zM73 38h1v1h-1zM15 43h1v1h-1zM18 43h1v1h-1zM24 43h1v1h-1zM61 43h1v1h-1zM17 44h1v1h-1zM24 44h1v1h-1zM60 44h1v1h-1zM11 45h1v1h-1zM18 45h1v1h-1zM38 46h1v1h-1zM1 47h2v1h-2zM71 47h1v1h-1zM27 48h1v1h-1zM63 49h1v1h-1zM36 50h1v1h-1zM21 51h1v1h-1zM8 52h1v1h-1zM10 54h1v1h-1zM49 54h1v1h-1zM59 54h1v1h-1zM10 55h1v1h-1zM47 55h1v1h-1zM1 56h1v1h-1zM70 57h1v1h-1zM7 58h1v1h-1zM12 58h1v1h-1zM66 60h1v1h-1zM67 62h1v1h-1zM69 62h1v1h-1zM71 62h1v1h-1zM1 63h1v1h-1zM53 63h1v1h-1zM64 64h1v1h-1zM70 64h1v1h-1zM64 65h1v1h-1zM71 65h1v1h-1zM10 66h1v1h-1zM65 66h1v1h-1zM42 67h1v1h-1zM49 68h1v1h-1zM27 73h1v1h-1z"/><path fill="#321e0f" d="M38 1h1v1h-1zM40 1h1v1h-1zM67 1h1v1h-1zM25 2h1v1h-1zM66 2h1v1h-1zM54 3h1v1h-1zM9 4h1v1h-1zM59 4h1v1h-1zM41 6h1v1h-1zM58 7h1v1h-1zM60 7h1v1h-1zM46 8h1v1h-1zM49 8h1v1h-1zM2 9h1v1h-1zM25 10h1v1h-1zM36 10h1v1h-1zM69 10h1v1h-1zM73 10h1v1h-1zM13 11h1v1h-1zM50 11h1v1h-1zM67 11h1v1h-1zM43 12h1v1h-1zM50 12h1v1h-1zM72 13h1v1h-1zM38 14h1v1h-1zM34 15h1v1h-1zM3 16h1v1h-1zM31 17h1v1h-1zM40 17h1v1h-1zM12 18h1v1h-1zM33 18h1v1h-1zM5 19h1v1h-1zM68 19h1v1h-1zM71 19h1v1h-1zM36 20h1v1h-1zM39 20h1v1h-1zM50 20h2v1h-2zM58 21h1v1h-1zM69 21h1v1h-1zM23 22h1v1h-1zM66 22h1v1h-1zM40 23h1v1h-1zM53 25h1v1h-1zM46 26h1v1h-1zM21 27h1v1h-1zM49 27h1v1h-1zM44 28h1v1h-1zM72 28h1v1h-1zM73 29h1v1h-1zM60 30h1v1h-1zM6 31h1v1h-1zM39 31h1v1h-1zM4 32h1v1h-1zM21 33h1v1h-1zM51 34h1v1h-1zM54 34h1v1h-1zM72 34h1v1h-1zM29 35h1v1h-1zM67 35h1v1h-1zM17 37h1v1h-1zM23 37h1v1h-1zM45 37h1v1h-1zM0 38h1v1h-1zM47 39h1v1h-1zM5 40h1v1h-1zM9 40h1v1h-1zM12 41h2v1h-2zM2 42h1v1h-1zM24 42h1v1h-1zM29 43h1v1h-1zM67 45h1v1h-1zM6 46h1v1h-1zM10 46h1v1h-1zM17 46h1v1h-1zM39 46h1v1h-1zM66 46h1v1h-1zM19 47h1v1h-1zM1 49h1v1h-1zM35 49h1v1h-1zM33 50h1v1h-1zM35 51h1v1h-1zM64 51h1v1h-1zM68 51h1v1h-1zM47 53h1v1h-1zM29 55h1v1h-1zM72 55h1v1h-1zM26 56h1v1h-1zM46 56h1v1h-1zM71 56h3v1h-3zM14 57h1v1h-1zM26 57h1v1h-1zM38 57h1v1h-1zM41 57h1v1h-1zM55 57h1v1h-1zM68 58h1v1h-1zM4 59h1v1h-1zM32 59h2v1h-2zM21 60h1v1h-1zM45 60h1v1h-1zM9 61h1v1h-1zM1 64h1v1h-1zM3 65h1v1h-1zM50 65h1v1h-1zM61 65h1v1h-1zM18 66h1v1h-1zM57 66h1v1h-1zM62 66h1v1h-1zM68 66h1v1h-1zM26 67h1v1h-1zM41 67h1v1h-1zM13 68h1v1h-1zM39 68h1v1h-1zM41 68h1v1h-1zM44 68h1v1h-1zM51 68h1v1h-1zM55 68h1v1h-1zM4 69h2v1h-2zM30 69h1v1h-1zM43 69h1v1h-1zM49 69h1v1h-1zM56 69h1v1h-1zM67 69h1v1h-1zM72 69h1v1h-1zM11 70h1v1h-1zM24 70h1v1h-1zM35 70h1v1h-1zM57 70h1v1h-1zM4 71h1v1h-1zM72 71h1v1h-1zM37 72h1v1h-1zM61 72h1v1h-1zM69 72h1v1h-1zM22 73h1v1h-1zM34 74h1v1h-1z"/><path fill="#372819" d="M41 1h1v1h-1zM13 3h1v1h-1zM47 3h1v1h-1zM60 11h1v1h-1zM21 13h1v1h-1zM43 26h1v1h-1zM14 28h1v1h-1zM37 30h1v1h-1zM33 32h1v1h-1zM31 34h1v1h-1zM19 38h1v1h-1zM25 38h1v1h-1zM44 43h1v1h-1zM61 60h1v1h-1zM15 68h1v1h-1z"/><path fill="#322305" d="M46 1h1v1h-1zM58 5h1v1h-1zM62 6h1v1h-1zM61 7h1v1h-1zM34 9h1v1h-1zM62 18h1v1h-1zM50 32h1v1h-1zM60 39h1v1h-1zM8 42h1v1h-1zM62 44h1v1h-1zM20 49h1v1h-1zM71 51h2v1h-2zM4 53h1v1h-1zM51 57h1v1h-1zM22 59h1v1h-1zM8 74h1v1h-1z"/><path fill="#322300" d="M47 1h1v1h-1zM37 74h1v1h-1z"/><path fill="#232d19" d="M50 1h1v1h-1z"/><path fill="#322319" d="M52 1h1v1h-1zM51 2h1v1h-1zM14 5h1v1h-1zM16 5h1v1h-1zM70 7h1v1h-1zM14 9h1v1h-1zM64 15h1v1h-1zM10 22h1v1h-1zM20 22h1v1h-1zM3 28h1v1h-1zM35 29h1v1h-1zM67 33h1v1h-1zM49 34h1v1h-1zM22 46h1v1h-1zM44 48h1v1h-1zM16 50h1v1h-1zM7 52h1v1h-1zM44 52h1v1h-1zM58 54h1v1h-1zM45 55h1v1h-1zM60 55h1v1h-1zM38 56h1v1h-1zM43 59h1v1h-1zM5 62h1v1h-1zM68 63h1v1h-1zM12 66h1v1h-1zM21 66h1v1h-1zM0 67h1v1h-1zM32 72h1v1h-1zM57 72h1v1h-1z"/><path fill="#1e1905" d="M58 1h1v1h-1zM39 22h1v1h-1zM21 24h1v1h-1zM8 55h1v1h-1zM38 60h1v1h-1zM22 64h1v1h-1z"/><path fill="#321e0a" d="M59 1h1v1h-1zM63 1h1v1h-1zM9 2h1v1h-1zM48 2h1v1h-1zM56 2h1v1h-1zM4 3h1v1h-1zM18 3h3v1h-3zM44 3h1v1h-1zM51 3h1v1h-1zM4 4h1v1h-1zM7 4h1v1h-1zM72 4h1v1h-1zM8 5h1v1h-1zM37 5h1v1h-1zM39 5h1v1h-1zM64 7h1v1h-1zM35 8h1v1h-1zM69 8h1v1h-1zM33 10h1v1h-1zM51 10h1v1h-1zM72 10h1v1h-1zM69 11h1v1h-1zM31 12h1v1h-1zM12 14h1v1h-1zM64 14h1v1h-1zM6 16h1v1h-1zM38 16h1v1h-1zM44 16h1v1h-1zM32 19h1v1h-1zM58 19h1v1h-1zM66 23h1v1h-1zM60 24h1v1h-1zM63 24h1v1h-1zM34 25h1v1h-1zM1 26h1v1h-1zM1 27h1v1h-1zM11 27h1v1h-1zM59 27h1v1h-1zM9 28h1v1h-1zM73 28h1v1h-1zM33 29h1v1h-1zM55 31h1v1h-1zM57 31h1v1h-1zM46 32h1v1h-1zM3 35h1v1h-1zM29 36h1v1h-1zM73 36h1v1h-1zM47 37h1v1h-1zM0 39h1v1h-1zM19 39h1v1h-1zM25 41h1v1h-1zM27 41h1v1h-1zM9 42h1v1h-1zM31 42h1v1h-1zM45 42h1v1h-1zM43 43h1v1h-1zM5 45h1v1h-1zM2 46h2v1h-2zM7 46h1v1h-1zM65 46h1v1h-1zM11 48h1v1h-1zM37 48h1v1h-1zM13 49h1v1h-1zM52 49h1v1h-1zM12 51h1v1h-1zM13 52h1v1h-1zM54 52h1v1h-1zM5 57h1v1h-1zM29 57h1v1h-1zM44 57h2v1h-2zM49 58h1v1h-1zM6 60h1v1h-1zM17 64h1v1h-1zM41 64h1v1h-1zM69 67h1v1h-1zM4 68h1v1h-1zM23 68h1v1h-1zM55 69h1v1h-1zM57 69h1v1h-1zM64 69h1v1h-1zM4 72h2v1h-2zM39 72h1v1h-1zM8 73h1v1h-1zM32 73h1v1h-1zM70 73h1v1h-1zM38 74h1v1h-1z"/><path fill="#2d1919" d="M66 1h1v1h-1zM13 2h1v1h-1zM67 37h1v1h-1zM34 56h1v1h-1zM65 68h1v1h-1z"/><path fill="#28190a" d="M68 1h1v1h-1zM66 4h1v1h-1zM63 5h1v1h-1zM30 7h1v1h-1zM4 8h1v1h-1zM53 9h1v1h-1zM7 10h1v1h-1zM43 10h1v1h-1zM4 11h1v1h-1zM74 12h1v1h-1zM62 14h1v1h-1zM25 15h1v1h-1zM40 15h1v1h-1zM71 17h1v1h-1zM74 17h1v1h-1zM74 19h1v1h-1zM34 20h1v1h-1zM58 20h1v1h-1zM2 24h1v1h-1zM45 26h1v1h-1zM16 29h1v1h-1zM68 32h1v1h-1zM12 35h1v1h-1zM56 40h1v1h-1zM23 43h1v1h-1zM62 43h1v1h-1zM58 45h1v1h-1zM34 50h1v1h-1zM73 50h1v1h-1zM31 55h1v1h-1zM20 61h1v1h-1zM15 66h1v1h-1zM29 69h1v1h-1zM35 69h1v1h-1zM44 70h1v1h-1zM64 71h1v1h-1zM66 72h1v1h-1z"/><path fill="#23190f" d="M70 1h1v1h-1zM35 4h1v1h-1zM36 6h1v1h-1zM28 7h1v1h-1zM8 8h1v1h-1zM74 13h1v1h-1zM49 15h1v1h-1zM74 18h1v1h-1zM31 20h1v1h-1zM2 23h1v1h-1zM18 26h1v1h-1zM7 28h1v1h-1zM64 29h1v1h-1zM58 33h1v1h-1zM67 38h1v1h-1zM74 39h1v1h-1zM47 41h1v1h-1zM1 48h1v1h-1zM31 48h1v1h-1zM1 61h1v1h-1zM16 63h1v1h-1zM51 65h1v1h-1zM69 68h1v1h-1zM18 73h1v1h-1z"/><path fill="#2d190a" d="M72 1h1v1h-1zM25 6h1v1h-1zM23 10h2v1h-2zM42 12h1v1h-1zM38 15h1v1h-1zM49 19h1v1h-1zM21 21h1v1h-1zM30 24h1v1h-1zM57 36h1v1h-1zM9 43h1v1h-1zM31 44h1v1h-1zM60 46h1v1h-1zM9 48h1v1h-1zM57 48h1v1h-1zM71 55h1v1h-1zM50 56h2v1h-2zM74 56h1v1h-1zM19 57h1v1h-1zM71 57h1v1h-1zM73 57h1v1h-1zM72 58h1v1h-1zM30 59h1v1h-1zM35 59h1v1h-1zM27 67h1v1h-1zM44 67h1v1h-1zM24 68h1v1h-1zM64 68h1v1h-1zM3 69h1v1h-1zM54 72h1v1h-1zM37 73h1v1h-1zM45 73h1v1h-1zM58 74h1v1h-1z"/><path fill="#3c1e14" d="M73 1h1v1h-1zM40 4h1v1h-1zM19 7h1v1h-1zM30 10h1v1h-1zM31 11h1v1h-1zM46 17h1v1h-1zM36 18h1v1h-1zM35 28h1v1h-1zM53 32h1v1h-1zM59 32h1v1h-1zM71 35h1v1h-1zM52 36h1v1h-1zM72 36h1v1h-1zM7 40h1v1h-1zM14 40h1v1h-1zM30 43h1v1h-1zM24 46h1v1h-1zM26 47h1v1h-1zM52 51h1v1h-1zM64 53h1v1h-1zM27 54h1v1h-1zM22 57h1v1h-1zM65 63h1v1h-1zM27 64h1v1h-1zM13 65h1v1h-1zM33 66h1v1h-1z"/><path fill="#371e0f" d="M2 2h1v1h-1zM58 3h1v1h-1zM21 6h1v1h-1zM33 6h1v1h-1zM39 6h2v1h-2zM23 9h1v1h-1zM54 9h1v1h-1zM72 9h1v1h-1zM40 10h1v1h-1zM30 12h1v1h-1zM41 12h1v1h-1zM13 14h1v1h-1zM65 14h1v1h-1zM72 14h1v1h-1zM4 17h1v1h-1zM13 17h1v1h-1zM33 17h1v1h-1zM41 17h1v1h-1zM50 19h1v1h-1zM50 21h1v1h-1zM36 22h1v1h-1zM41 23h1v1h-1zM38 24h1v1h-1zM72 26h1v1h-1zM27 29h1v1h-1zM34 30h1v1h-1zM55 30h1v1h-1zM44 31h1v1h-1zM49 33h1v1h-1zM12 34h1v1h-1zM70 34h1v1h-1zM74 35h1v1h-1zM17 38h1v1h-1zM53 39h1v1h-1zM6 40h1v1h-1zM27 40h1v1h-1zM29 41h1v1h-1zM6 45h2v1h-2zM17 45h1v1h-1zM70 46h1v1h-1zM9 47h1v1h-1zM72 47h1v1h-1zM70 48h1v1h-1zM5 49h1v1h-1zM26 49h1v1h-1zM13 51h1v1h-1zM37 51h1v1h-1zM20 52h1v1h-1zM37 52h1v1h-1zM48 52h1v1h-1zM64 52h1v1h-1zM6 53h1v1h-1zM65 54h1v1h-1zM6 56h1v1h-1zM47 56h1v1h-1zM2 57h1v1h-1zM25 57h1v1h-1zM39 57h1v1h-1zM15 58h1v1h-1zM46 61h1v1h-1zM24 63h1v1h-1zM56 64h1v1h-1zM14 67h1v1h-1zM24 67h1v1h-1zM51 67h1v1h-1zM19 68h1v1h-1zM50 68h1v1h-1zM27 69h1v1h-1zM44 69h1v1h-1zM53 71h1v1h-1zM36 72h1v1h-1zM44 73h1v1h-1z"/><path fill="#37280a" d="M3 2h1v1h-1zM21 4h1v1h-1zM61 4h1v1h-1zM22 5h1v1h-1zM53 6h1v1h-1zM52 11h1v1h-1zM19 15h1v1h-1zM32 16h1v1h-1zM59 18h1v1h-1zM36 21h1v1h-1zM36 25h1v1h-1zM29 27h1v1h-1zM17 28h1v1h-1zM1 31h1v1h-1zM44 32h2v1h-2zM12 33h1v1h-1zM44 35h1v1h-1zM26 38h1v1h-1zM26 39h1v1h-1zM58 41h1v1h-1zM69 41h1v1h-1zM25 43h1v1h-1zM51 45h1v1h-1zM38 47h2v1h-2zM37 50h1v1h-1zM51 50h1v1h-1zM18 52h1v1h-1zM72 52h1v1h-1zM28 55h1v1h-1zM48 57h1v1h-1zM20 58h1v1h-1zM38 58h1v1h-1zM50 61h1v1h-1zM30 66h1v1h-1zM31 67h1v1h-1zM36 73h1v1h-1z"/><path fill="#321414" d="M10 2h1v1h-1zM4 16h1v1h-1zM14 41h1v1h-1zM30 68h1v1h-1z"/><path fill="#372305" d="M17 2h1v1h-1zM66 12h1v1h-1zM10 17h1v1h-1zM3 20h1v1h-1zM42 20h1v1h-1zM46 27h1v1h-1zM48 32h1v1h-1zM22 36h1v1h-1zM33 51h1v1h-1zM20 59h1v1h-1zM29 67h1v1h-1z"/><path fill="#322d0f" d="M23 2h1v1h-1zM69 4h1v1h-1zM56 10h1v1h-1zM36 11h1v1h-1zM71 11h1v1h-1zM31 15h1v1h-1zM54 16h1v1h-1zM65 20h1v1h-1zM12 26h1v1h-1zM42 29h1v1h-1zM4 30h1v1h-1zM39 33h1v1h-1zM42 33h1v1h-1zM4 34h1v1h-1zM33 34h1v1h-1zM21 37h1v1h-1zM4 39h1v1h-1zM44 39h1v1h-1zM5 44h1v1h-1zM33 44h1v1h-1zM66 45h1v1h-1zM17 53h1v1h-1zM17 54h1v1h-1zM37 54h1v1h-1zM68 55h1v1h-1zM2 56h1v1h-1zM7 68h1v1h-1zM53 68h1v1h-1zM47 69h1v1h-1zM15 72h1v1h-1zM33 72h1v1h-1z"/><path fill="#28280f" d="M36 2h2v1h-2zM16 3h1v1h-1zM74 4h1v1h-1zM51 5h1v1h-1zM8 6h1v1h-1zM55 6h1v1h-1zM2 7h1v1h-1zM46 9h1v1h-1zM2 11h1v1h-1zM9 12h1v1h-1zM17 12h1v1h-1zM69 12h1v1h-1zM18 15h1v1h-1zM53 15h1v1h-1zM74 15h1v1h-1zM45 19h1v1h-1zM11 21h1v1h-1zM6 25h1v1h-1zM57 28h1v1h-1zM43 33h1v1h-1zM66 35h1v1h-1zM9 37h1v1h-1zM44 38h1v1h-1zM1 39h1v1h-1zM73 42h1v1h-1zM5 43h1v1h-1zM4 44h1v1h-1zM53 44h1v1h-1zM54 45h1v1h-1zM46 46h1v1h-1zM0 47h1v1h-1zM3 47h1v1h-1zM22 47h1v1h-1zM14 50h1v1h-1zM41 50h1v1h-1zM48 50h1v1h-1zM10 51h1v1h-1zM16 53h1v1h-1zM53 53h1v1h-1zM30 57h1v1h-1zM61 57h1v1h-1zM11 59h1v1h-1zM54 61h1v1h-1zM4 62h1v1h-1zM39 62h1v1h-1zM20 63h1v1h-1zM63 63h1v1h-1zM45 64h1v1h-1zM73 66h1v1h-1zM47 67h1v1h-1zM35 68h1v1h-1zM12 70h1v1h-1zM28 71h1v1h-1zM48 72h1v1h-1zM30 74h1v1h-1z"/><path fill="#28280a" d="M38 2h1v1h-1zM43 2h1v1h-1zM24 3h1v1h-1zM24 4h1v1h-1zM36 4h1v1h-1zM60 9h1v1h-1zM5 11h1v1h-1zM10 13h1v1h-1zM25 13h1v1h-1zM67 15h1v1h-1zM16 16h1v1h-1zM51 16h1v1h-1zM2 18h1v1h-1zM44 20h1v1h-1zM69 20h1v1h-1zM27 22h1v1h-1zM4 24h1v1h-1zM64 25h1v1h-1zM16 26h1v1h-1zM66 29h1v1h-1zM18 33h1v1h-1zM31 33h1v1h-1zM8 34h1v1h-1zM62 39h1v1h-1zM2 40h1v1h-1zM50 40h1v1h-1zM72 40h1v1h-1zM70 41h2v1h-2zM22 45h1v1h-1zM46 45h1v1h-1zM18 47h1v1h-1zM28 47h1v1h-1zM32 47h1v1h-1zM0 48h1v1h-1zM23 53h2v1h-2zM55 53h1v1h-1zM73 53h1v1h-1zM48 54h1v1h-1zM9 56h1v1h-1zM42 57h1v1h-1zM0 60h1v1h-1zM29 60h1v1h-1zM12 62h1v1h-1zM38 66h1v1h-1zM40 67h1v1h-1zM27 71h1v1h-1zM43 72h2v1h-2zM36 74h1v1h-1z"/><path fill="#372d14" d="M49 2h1v1h-1zM58 13h1v1h-1zM58 18h1v1h-1zM15 19h1v1h-1zM63 19h1v1h-1zM3 24h1v1h-1zM12 27h1v1h-1zM30 28h1v1h-1zM10 30h1v1h-1zM14 30h1v1h-1zM26 30h1v1h-1zM31 30h1v1h-1zM17 32h1v1h-1zM30 32h1v1h-1zM39 32h1v1h-1zM39 34h1v1h-1zM32 35h1v1h-1zM42 40h1v1h-1zM71 44h1v1h-1zM13 50h1v1h-1zM46 51h1v1h-1zM21 56h1v1h-1zM33 61h1v1h-1zM34 63h1v1h-1z"/><path fill="#372d0a" d="M54 2h1v1h-1zM22 4h1v1h-1zM71 12h1v1h-1zM53 21h1v1h-1zM51 26h1v1h-1zM16 35h1v1h-1zM51 53h1v1h-1zM54 55h1v1h-1zM33 67h1v1h-1zM17 70h1v1h-1z"/><path fill="#372805" d="M55 2h1v1h-1zM33 5h1v1h-1zM65 12h1v1h-1zM42 28h1v1h-1zM29 29h1v1h-1zM64 55h1v1h-1z"/><path fill="#3c190a" d="M58 2h1v1h-1zM60 65h1v1h-1z"/><path fill="#321905" d="M59 2h1v1h-1zM63 3h1v1h-1zM33 9h1v1h-1zM42 17h1v1h-1zM11 18h1v1h-1zM30 42h1v1h-1z"/><path fill="#32140f" d="M68 2h1v1h-1zM31 5h1v1h-1zM62 16h1v1h-1zM20 31h1v1h-1zM60 40h1v1h-1zM19 52h1v1h-1z"/><path fill="#281914" d="M71 2h1v1h-1zM1 3h1v1h-1zM15 8h1v1h-1zM12 9h1v1h-1zM18 9h1v1h-1zM21 10h1v1h-1zM68 16h1v1h-1zM70 17h1v1h-1zM60 21h1v1h-1zM13 24h1v1h-1zM4 26h1v1h-1zM18 30h1v1h-1zM57 33h1v1h-1zM57 34h1v1h-1zM69 36h1v1h-1zM66 38h1v1h-1zM18 44h1v1h-1zM30 45h1v1h-1zM24 47h1v1h-1zM55 48h1v1h-1zM21 61h1v1h-1zM49 70h1v1h-1zM10 72h1v1h-1zM0 74h1v1h-1z"/><path fill="#32280a" d="M12 3h1v1h-1zM21 7h1v1h-1zM3 8h1v1h-1zM39 9h1v1h-1zM47 10h1v1h-1zM2 12h1v1h-1zM67 13h1v1h-1zM52 14h1v1h-1zM70 14h1v1h-1zM7 17h1v1h-1zM2 19h1v1h-1zM66 20h1v1h-1zM26 22h1v1h-1zM68 22h1v1h-1zM1 23h1v1h-1zM50 23h1v1h-1zM43 27h1v1h-1zM60 29h1v1h-1zM25 31h1v1h-1zM14 32h1v1h-1zM26 33h1v1h-1zM0 34h1v1h-1zM54 38h1v1h-1zM51 40h1v1h-1zM50 41h1v1h-1zM42 42h1v1h-1zM28 43h1v1h-1zM45 46h1v1h-1zM4 47h1v1h-1zM51 48h1v1h-1zM19 49h1v1h-1zM23 50h1v1h-1zM70 51h1v1h-1zM38 53h1v1h-1zM66 53h1v1h-1zM36 54h1v1h-1zM25 56h1v1h-1zM57 56h1v1h-1zM48 58h1v1h-1zM51 60h2v1h-2zM29 66h1v1h-1zM36 67h1v1h-1zM37 68h1v1h-1zM41 70h1v1h-1zM41 71h1v1h-1zM9 73h1v1h-1z"/><path fill="#282305" d="M23 3h1v1h-1zM40 12h1v1h-1zM26 14h1v1h-1zM26 15h1v1h-1zM52 15h1v1h-1zM45 16h1v1h-1zM25 24h1v1h-1zM61 32h1v1h-1zM69 42h1v1h-1zM73 44h1v1h-1zM17 48h1v1h-1zM28 49h1v1h-1zM70 50h1v1h-1zM63 52h1v1h-1zM30 56h1v1h-1zM6 59h1v1h-1zM60 62h1v1h-1zM17 63h1v1h-1zM19 64h1v1h-1zM47 65h1v1h-1zM22 72h1v1h-1zM35 73h1v1h-1zM52 73h1v1h-1z"/><path fill="#23190a" d="M25 3h1v1h-1zM39 17h1v1h-1zM27 19h1v1h-1zM30 19h1v1h-1zM61 23h1v1h-1zM24 39h1v1h-1zM48 39h1v1h-1zM15 41h1v1h-1zM13 44h1v1h-1zM15 55h1v1h-1zM1 60h1v1h-1zM29 61h1v1h-1zM57 64h1v1h-1zM31 74h1v1h-1z"/><path fill="#3c2314" d="M27 3h1v1h-1zM19 5h1v1h-1zM21 5h1v1h-1zM56 11h1v1h-1zM22 15h1v1h-1zM45 15h1v1h-1zM57 17h1v1h-1zM35 18h1v1h-1zM50 24h1v1h-1zM43 28h1v1h-1zM4 31h1v1h-1zM22 31h1v1h-1zM58 31h1v1h-1zM73 31h1v1h-1zM37 32h1v1h-1zM69 33h1v1h-1zM28 34h1v1h-1zM32 36h1v1h-1zM10 38h1v1h-1zM7 42h1v1h-1zM10 42h1v1h-1zM47 44h1v1h-1zM70 45h1v1h-1zM13 47h1v1h-1zM48 47h1v1h-1zM64 50h1v1h-1zM52 52h1v1h-1zM10 56h1v1h-1zM35 57h1v1h-1zM46 57h1v1h-1zM45 59h1v1h-1zM69 59h1v1h-1zM72 59h1v1h-1zM22 61h1v1h-1zM42 65h1v1h-1zM61 66h1v1h-1zM12 67h1v1h-1zM61 67h1v1h-1zM9 69h1v1h-1zM50 70h1v1h-1zM59 71h1v1h-1zM17 73h1v1h-1z"/><path fill="#322814" d="M32 3h1v1h-1zM48 3h1v1h-1zM71 3h1v1h-1zM14 6h1v1h-1zM73 7h1v1h-1zM27 9h1v1h-1zM53 11h1v1h-1zM28 12h1v1h-1zM70 12h1v1h-1zM9 14h1v1h-1zM74 14h1v1h-1zM66 16h1v1h-1zM22 17h1v1h-1zM50 17h1v1h-1zM54 17h1v1h-1zM63 17h1v1h-1zM13 19h1v1h-1zM20 19h1v1h-1zM20 21h1v1h-1zM15 23h1v1h-1zM36 23h2v1h-2zM7 24h1v1h-1zM11 24h1v1h-1zM22 24h1v1h-1zM56 24h1v1h-1zM18 25h1v1h-1zM22 25h1v1h-1zM13 26h1v1h-1zM24 27h1v1h-1zM31 27h1v1h-1zM56 27h1v1h-1zM66 27h1v1h-1zM22 28h1v1h-1zM30 29h1v1h-1zM19 30h1v1h-1zM32 30h1v1h-1zM10 31h1v1h-1zM20 33h1v1h-1zM44 34h1v1h-1zM61 37h1v1h-1zM23 39h1v1h-1zM61 41h1v1h-1zM6 42h1v1h-1zM35 43h1v1h-1zM61 46h1v1h-1zM62 47h2v1h-2zM53 48h1v1h-1zM31 50h1v1h-1zM45 51h1v1h-1zM74 53h1v1h-1zM40 54h1v1h-1zM0 59h1v1h-1zM60 59h1v1h-1zM53 61h1v1h-1zM52 63h1v1h-1zM54 63h1v1h-1zM6 64h1v1h-1zM47 64h1v1h-1zM59 64h1v1h-1zM67 64h1v1h-1zM57 65h1v1h-1zM26 66h1v1h-1zM68 69h1v1h-1zM9 70h2v1h-2zM43 73h1v1h-1zM49 73h1v1h-1z"/><path fill="#281e14" d="M45 3h1v1h-1zM52 4h1v1h-1zM2 5h1v1h-1zM9 7h1v1h-1zM48 7h1v1h-1zM13 9h1v1h-1zM63 10h1v1h-1zM20 11h1v1h-1zM28 11h1v1h-1zM74 11h1v1h-1zM44 12h1v1h-1zM34 13h1v1h-1zM43 14h1v1h-1zM23 16h1v1h-1zM37 19h1v1h-1zM52 19h1v1h-1zM7 22h1v1h-1zM32 22h1v1h-1zM34 22h1v1h-1zM8 23h1v1h-1zM48 24h1v1h-1zM27 25h1v1h-1zM61 28h1v1h-1zM66 34h1v1h-1zM68 39h1v1h-1zM67 40h1v1h-1zM21 42h1v1h-1zM16 44h1v1h-1zM35 46h1v1h-1zM58 46h1v1h-1zM67 50h1v1h-1zM0 52h1v1h-1zM15 53h1v1h-1zM9 57h1v1h-1zM50 57h1v1h-1zM6 61h1v1h-1zM68 62h1v1h-1zM9 65h1v1h-1zM3 67h1v1h-1zM11 71h1v1h-1zM51 73h1v1h-1z"/><path fill="#2d2305" d="M55 3h1v1h-1zM62 8h1v1h-1zM6 9h1v1h-1zM61 9h1v1h-1zM43 17h1v1h-1zM2 20h1v1h-1zM53 23h1v1h-1zM25 34h1v1h-1zM65 38h1v1h-1zM69 38h1v1h-1zM59 39h1v1h-1zM1 40h1v1h-1zM21 41h1v1h-1zM66 42h1v1h-1zM70 42h1v1h-1zM50 43h1v1h-1zM7 44h1v1h-1zM54 47h1v1h-1zM18 57h1v1h-1zM21 59h1v1h-1zM26 68h1v1h-1zM35 71h1v1h-1zM14 73h1v1h-1zM71 74h1v1h-1z"/><path fill="#371e19" d="M66 3h1v1h-1zM11 4h1v1h-1zM56 16h1v1h-1zM34 18h1v1h-1zM74 28h1v1h-1zM68 46h1v1h-1zM47 50h1v1h-1zM3 59h1v1h-1zM41 63h1v1h-1zM28 65h1v1h-1zM50 73h1v1h-1z"/><path fill="#232d14" d="M74 3h1v1h-1zM69 27h1v1h-1zM37 45h1v1h-1z"/><path fill="#2d2319" d="M6 4h1v1h-1zM13 8h1v1h-1zM10 10h1v1h-1zM14 10h1v1h-1zM69 16h1v1h-1zM32 21h1v1h-1zM18 23h1v1h-1zM54 43h1v1h-1zM19 44h1v1h-1zM27 44h1v1h-1zM48 44h1v1h-1zM21 46h1v1h-1zM28 46h1v1h-1zM49 49h1v1h-1zM48 55h1v1h-1zM59 58h1v1h-1zM64 61h1v1h-1zM46 62h1v1h-1zM65 67h1v1h-1z"/><path fill="#2d1e05" d="M8 4h1v1h-1zM54 7h1v1h-1zM63 14h1v1h-1zM48 15h1v1h-1zM6 17h1v1h-1zM48 17h1v1h-1zM23 19h1v1h-1zM41 21h1v1h-1zM11 40h1v1h-1zM4 46h1v1h-1zM5 50h1v1h-1zM45 53h1v1h-1zM41 55h1v1h-1zM19 59h1v1h-1zM48 63h1v1h-1zM67 66h1v1h-1zM32 67h1v1h-1zM5 71h1v1h-1zM73 71h1v1h-1z"/><path fill="#371919" d="M10 4h1v1h-1zM35 14h1v1h-1zM0 15h1v1h-1zM41 27h1v1h-1zM6 35h1v1h-1zM68 59h1v1h-1zM63 66h1v1h-1zM71 66h1v1h-1zM39 70h1v1h-1z"/><path fill="#322819" d="M13 4h1v1h-1zM36 14h1v1h-1zM20 23h1v1h-1zM70 25h1v1h-1zM6 27h1v1h-1zM69 29h1v1h-1zM16 31h1v1h-1zM17 33h1v1h-1zM30 33h1v1h-1zM42 34h1v1h-1zM26 37h1v1h-1zM14 46h1v1h-1zM55 62h1v1h-1zM0 64h1v1h-1zM43 64h1v1h-1zM72 66h1v1h-1zM28 73h1v1h-1zM67 73h1v1h-1z"/><path fill="#321e19" d="M17 4h1v1h-1zM20 6h1v1h-1zM16 8h1v1h-1zM10 24h1v1h-1zM53 26h1v1h-1zM16 30h1v1h-1zM15 31h1v1h-1zM58 34h1v1h-1zM64 35h1v1h-1zM16 45h1v1h-1zM20 45h1v1h-1zM62 50h1v1h-1zM58 60h1v1h-1zM56 63h2v1h-2zM71 63h1v1h-1zM71 64h1v1h-1zM11 65h1v1h-1zM20 67h1v1h-1zM3 68h1v1h-1zM52 69h1v1h-1z"/><path fill="#282805" d="M23 4h1v1h-1zM63 4h1v1h-1zM25 14h1v1h-1zM46 34h1v1h-1zM20 40h1v1h-1zM43 40h1v1h-1zM25 42h1v1h-1zM3 56h1v1h-1zM31 70h1v1h-1z"/><path fill="#322d14" d="M29 4h1v1h-1zM4 12h1v1h-1zM30 13h1v1h-1zM51 13h1v1h-1zM63 16h1v1h-1zM55 17h1v1h-1zM44 18h1v1h-1zM15 22h1v1h-1zM13 27h1v1h-1zM13 28h1v1h-1zM69 28h1v1h-1zM26 36h1v1h-1zM31 39h1v1h-1zM12 44h1v1h-1zM40 46h1v1h-1zM63 54h1v1h-1zM0 55h1v1h-1zM19 56h1v1h-1zM74 60h1v1h-1zM26 64h1v1h-1zM26 65h1v1h-1zM8 71h1v1h-1zM56 72h1v1h-1z"/><path fill="#1e230a" d="M32 4h1v1h-1zM50 4h1v1h-1zM64 4h1v1h-1zM44 5h1v1h-1zM46 5h1v1h-1zM14 7h1v1h-1zM24 14h1v1h-1zM26 21h1v1h-1zM71 23h1v1h-1zM24 24h1v1h-1zM68 28h1v1h-1zM8 30h1v1h-1zM62 35h1v1h-1zM66 40h1v1h-1zM20 42h1v1h-1zM73 46h1v1h-1zM5 48h1v1h-1zM6 58h1v1h-1zM19 62h1v1h-1zM18 71h1v1h-1zM67 72h1v1h-1z"/><path fill="#3c280a" d="M41 4h1v1h-1zM61 18h1v1h-1zM30 40h1v1h-1zM51 43h1v1h-1zM71 46h1v1h-1zM54 50h1v1h-1zM2 55h1v1h-1zM55 55h1v1h-1zM71 73h1v1h-1z"/><path fill="#412319" d="M42 4h1v1h-1zM46 38h1v1h-1zM11 39h1v1h-1z"/><path fill="#372d19" d="M47 4h1v1h-1zM8 20h1v1h-1zM15 30h1v1h-1zM40 45h1v1h-1zM61 55h1v1h-1zM44 61h1v1h-1z"/><path fill="#3c1e05" d="M58 4h1v1h-1zM51 27h1v1h-1z"/><path fill="#32190f" d="M67 4h1v1h-1zM54 8h1v1h-1zM4 10h1v1h-1zM68 10h1v1h-1zM50 13h1v1h-1zM17 14h1v1h-1zM39 14h1v1h-1zM15 15h1v1h-1zM39 16h1v1h-1zM29 18h1v1h-1zM40 18h1v1h-1zM28 20h1v1h-1zM57 21h1v1h-1zM37 24h1v1h-1zM48 25h1v1h-1zM19 26h1v1h-1zM57 29h1v1h-1zM34 31h1v1h-1zM50 31h1v1h-1zM53 31h1v1h-1zM59 31h1v1h-1zM17 39h1v1h-1zM59 40h1v1h-1zM55 41h1v1h-1zM56 43h1v1h-1zM25 47h1v1h-1zM46 49h1v1h-1zM8 50h1v1h-1zM52 50h1v1h-1zM18 51h1v1h-1zM33 54h1v1h-1zM52 54h1v1h-1zM32 55h1v1h-1zM73 55h1v1h-1zM31 56h2v1h-2zM68 57h1v1h-1zM70 63h1v1h-1zM8 66h1v1h-1zM25 68h1v1h-1zM58 70h1v1h-1zM70 71h1v1h-1zM41 72h1v1h-1zM50 72h1v1h-1zM26 74h1v1h-1z"/><path fill="#3c230a" d="M9 5h1v1h-1zM34 7h1v1h-1zM31 9h2v1h-2zM40 25h1v1h-1zM71 29h1v1h-1zM3 32h1v1h-1zM35 32h1v1h-1zM72 32h1v1h-1zM22 35h1v1h-1zM50 36h1v1h-1zM69 40h1v1h-1zM51 42h1v1h-1zM46 44h1v1h-1zM65 45h1v1h-1zM49 52h1v1h-1zM27 55h1v1h-1zM49 59h1v1h-1zM5 67h1v1h-1zM8 68h1v1h-1zM6 73h1v1h-1zM74 74h1v1h-1z"/><path fill="#3c231e" d="M10 5h1v1h-1zM38 70h1v1h-1z"/><path fill="#3c281e" d="M11 5h1v1h-1zM33 23h1v1h-1zM13 66h1v1h-1z"/><path fill="#2d2d19" d="M13 5h1v1h-1zM68 15h1v1h-1zM19 22h1v1h-1zM64 22h1v1h-1zM32 31h1v1h-1zM19 34h1v1h-1zM68 36h1v1h-1z"/><path fill="#3c1e19" d="M20 5h1v1h-1zM9 17h1v1h-1zM33 20h1v1h-1zM57 42h1v1h-1zM63 46h1v1h-1zM6 51h1v1h-1zM61 54h1v1h-1zM15 56h1v1h-1zM24 73h1v1h-1zM68 73h1v1h-1z"/><path fill="#2d1414" d="M30 5h1v1h-1zM23 20h1v1h-1zM47 20h1v1h-1zM56 25h1v1h-1zM49 56h1v1h-1z"/><path fill="#191e05" d="M34 5h1v1h-1zM51 55h1v1h-1z"/><path fill="#371914" d="M40 5h1v1h-1zM19 16h1v1h-1zM24 16h1v1h-1zM13 22h1v1h-1zM41 26h1v1h-1zM54 31h1v1h-1zM53 36h1v1h-1zM25 48h2v1h-2zM27 51h1v1h-1zM24 57h1v1h-1zM34 59h1v1h-1zM22 62h1v1h-1zM64 66h1v1h-1zM26 73h1v1h-1z"/><path fill="#41230f" d="M41 5h1v1h-1zM19 6h1v1h-1zM29 11h1v1h-1zM51 11h1v1h-1zM68 21h1v1h-1zM14 24h1v1h-1zM23 31h1v1h-1zM38 52h1v1h-1zM5 56h1v1h-1zM28 58h1v1h-1zM0 71h1v1h-1zM66 74h1v1h-1z"/><path fill="#282319" d="M54 5h1v1h-1zM11 10h1v1h-1zM62 21h1v1h-1zM63 26h1v1h-1zM23 28h1v1h-1zM72 43h1v1h-1zM67 63h1v1h-1z"/><path fill="#1e2814" d="M64 5h1v1h-1z"/><path fill="#1e1e0f" d="M65 5h1v1h-1zM74 8h1v1h-1zM0 9h1v1h-1zM0 11h1v1h-1zM25 21h1v1h-1zM31 22h1v1h-1zM52 22h1v1h-1zM48 23h1v1h-1zM62 28h1v1h-1zM63 30h1v1h-1zM14 38h1v1h-1zM66 39h2v1h-2zM72 42h1v1h-1zM17 61h1v1h-1zM36 62h1v1h-1zM45 68h1v1h-1zM61 74h1v1h-1z"/><path fill="#281e19" d="M72 5h1v1h-1zM47 6h1v1h-1zM62 29h1v1h-1zM33 30h1v1h-1zM0 56h1v1h-1z"/><path fill="#322d0a" d="M74 5h1v1h-1zM50 9h1v1h-1zM10 14h1v1h-1zM23 15h1v1h-1zM41 15h1v1h-1zM1 20h1v1h-1zM25 28h1v1h-1zM43 32h1v1h-1zM14 33h1v1h-1zM3 34h1v1h-1zM52 53h1v1h-1zM68 54h1v1h-1zM39 67h1v1h-1zM55 67h1v1h-1zM0 69h1v1h-1zM67 71h1v1h-1zM57 74h1v1h-1z"/><path fill="#23280f" d="M0 6h1v1h-1zM7 6h1v1h-1zM18 11h1v1h-1zM10 12h1v1h-1zM22 12h1v1h-1zM71 21h1v1h-1zM48 22h1v1h-1zM28 23h1v1h-1zM57 23h1v1h-1zM11 26h1v1h-1zM66 28h1v1h-1zM66 33h1v1h-1zM7 34h1v1h-1zM8 36h1v1h-1zM14 37h1v1h-1zM3 38h1v1h-1zM49 40h1v1h-1zM9 50h1v1h-1zM20 57h1v1h-1zM60 57h1v1h-1zM10 59h1v1h-1zM61 62h1v1h-1zM19 63h1v1h-1zM47 66h1v1h-1zM13 71h1v1h-1zM18 72h1v1h-1z"/><path fill="#282d0f" d="M6 6h1v1h-1zM46 11h1v1h-1zM45 12h1v1h-1zM23 14h1v1h-1zM28 19h1v1h-1zM12 25h1v1h-1zM62 26h1v1h-1zM65 40h1v1h-1zM26 42h1v1h-1zM60 56h1v1h-1zM11 63h1v1h-1zM38 63h1v1h-1z"/><path fill="#1e190a" d="M27 6h1v1h-1zM36 16h1v1h-1zM23 41h1v1h-1zM25 46h1v1h-1zM45 48h1v1h-1zM43 55h1v1h-1z"/><path fill="#1e140a" d="M45 6h1v1h-1z"/><path fill="#3c2814" d="M48 6h1v1h-1zM49 7h1v1h-1zM20 9h1v1h-1zM69 9h1v1h-1zM71 16h1v1h-1zM46 18h1v1h-1zM43 19h1v1h-1zM15 25h1v1h-1zM51 25h1v1h-1zM20 29h1v1h-1zM34 29h1v1h-1zM44 29h1v1h-1zM6 30h1v1h-1zM23 30h1v1h-1zM44 30h1v1h-1zM22 33h1v1h-1zM64 33h1v1h-1zM70 33h1v1h-1zM32 34h1v1h-1zM11 37h1v1h-1zM32 38h1v1h-1zM33 40h1v1h-1zM13 46h1v1h-1zM40 48h1v1h-1zM0 50h1v1h-1zM61 50h1v1h-1zM67 51h1v1h-1zM66 54h1v1h-1zM46 58h1v1h-1zM38 68h1v1h-1zM11 69h1v1h-1zM25 73h1v1h-1z"/><path fill="#411e14" d="M59 6h1v1h-1zM32 18h1v1h-1zM45 41h1v1h-1zM50 51h1v1h-1zM26 53h1v1h-1zM34 54h1v1h-1zM45 58h1v1h-1z"/><path fill="#41230a" d="M60 6h1v1h-1zM64 8h1v1h-1zM49 28h1v1h-1zM52 29h1v1h-1zM49 31h1v1h-1z"/><path fill="#282d05" d="M65 6h1v1h-1zM3 18h1v1h-1zM7 70h1v1h-1z"/><path fill="#232305" d="M69 6h1v1h-1zM44 9h1v1h-1zM12 24h1v1h-1zM55 33h1v1h-1zM7 37h2v1h-2zM55 39h1v1h-1zM5 47h1v1h-1zM40 55h1v1h-1zM6 70h1v1h-1zM18 70h1v1h-1zM66 70h1v1h-1zM1 72h1v1h-1z"/><path fill="#191e0f" d="M70 6h1v1h-1zM44 21h1v1h-1zM4 23h1v1h-1zM7 31h1v1h-1zM1 70h1v1h-1z"/><path fill="#232814" d="M7 7h1v1h-1zM68 14h1v1h-1zM73 20h1v1h-1zM23 25h1v1h-1zM9 51h1v1h-1zM45 52h1v1h-1zM44 54h1v1h-1zM61 61h1v1h-1zM68 70h1v1h-1z"/><path fill="#231e14" d="M10 7h1v1h-1zM40 7h1v1h-1zM0 8h1v1h-1zM9 8h1v1h-1zM65 9h1v1h-1zM23 11h1v1h-1zM20 13h1v1h-1zM63 15h1v1h-1zM63 21h1v1h-1zM6 29h1v1h-1zM8 31h1v1h-1zM6 32h1v1h-1zM21 43h1v1h-1zM28 44h1v1h-1zM27 45h1v1h-1zM50 45h1v1h-1zM16 52h1v1h-1zM39 52h1v1h-1zM11 56h1v1h-1zM42 56h1v1h-1zM28 61h1v1h-1zM37 61h1v1h-1zM20 62h1v1h-1z"/><path fill="#37190f" d="M18 7h1v1h-1zM71 14h1v1h-1zM25 17h1v1h-1zM33 19h1v1h-1zM29 20h1v1h-1zM60 20h1v1h-1zM12 22h1v1h-1zM60 22h1v1h-1zM54 33h1v1h-1zM51 36h1v1h-1zM66 36h1v1h-1zM65 37h1v1h-1zM14 42h1v1h-1zM11 47h1v1h-1zM14 52h1v1h-1zM33 57h1v1h-1zM27 61h1v1h-1zM53 62h1v1h-1zM60 66h1v1h-1zM63 67h1v1h-1zM71 67h1v1h-1z"/><path fill="#372300" d="M63 7h1v1h-1z"/><path fill="#282300" d="M67 7h1v1h-1zM61 8h1v1h-1zM38 21h1v1h-1zM39 26h1v1h-1zM56 57h1v1h-1zM18 59h1v1h-1zM52 74h1v1h-1zM60 74h1v1h-1z"/><path fill="#2d2819" d="M71 7h1v1h-1zM59 10h1v1h-1zM71 22h1v1h-1zM6 24h1v1h-1zM18 31h1v1h-1zM56 50h1v1h-1zM15 51h1v1h-1zM57 54h1v1h-1zM8 58h1v1h-1zM72 64h1v1h-1zM45 65h1v1h-1z"/><path fill="#231e19" d="M10 8h1v1h-1zM42 8h1v1h-1z"/><path fill="#281e00" d="M34 8h1v1h-1zM34 10h1v1h-1zM13 56h1v1h-1zM21 58h1v1h-1zM34 68h1v1h-1z"/><path fill="#2d140f" d="M8 9h1v1h-1zM74 40h1v1h-1zM73 49h1v1h-1z"/><path fill="#28191e" d="M10 9h1v1h-1z"/><path fill="#321919" d="M11 9h1v1h-1zM58 9h1v1h-1zM37 18h1v1h-1zM11 55h1v1h-1zM42 64h1v1h-1z"/><path fill="#37231e" d="M16 9h1v1h-1zM56 41h1v1h-1zM65 52h1v1h-1zM38 71h1v1h-1z"/><path fill="#23140f" d="M35 9h1v1h-1zM56 39h1v1h-1zM59 69h1v1h-1z"/><path fill="#281905" d="M41 9h1v1h-1zM70 18h1v1h-1zM0 20h1v1h-1zM35 31h1v1h-1zM59 33h1v1h-1zM23 36h1v1h-1zM58 38h1v1h-1zM12 56h1v1h-1zM21 68h1v1h-1zM59 68h1v1h-1zM69 73h1v1h-1zM43 74h1v1h-1z"/><path fill="#323214" d="M48 9h1v1h-1zM19 14h1v1h-1zM46 14h1v1h-1zM33 36h1v1h-1zM64 48h1v1h-1zM61 56h1v1h-1zM34 62h1v1h-1z"/><path fill="#372d0f" d="M51 9h1v1h-1zM61 12h1v1h-1zM22 14h1v1h-1zM51 14h1v1h-1zM21 16h1v1h-1zM64 18h1v1h-1zM67 24h1v1h-1zM3 25h1v1h-1zM30 30h1v1h-1zM47 34h1v1h-1zM5 39h1v1h-1zM74 41h1v1h-1zM33 42h1v1h-1zM55 42h1v1h-1zM31 45h1v1h-1zM65 50h1v1h-1zM54 51h1v1h-1zM30 52h1v1h-1zM16 54h1v1h-1zM22 54h1v1h-1zM27 65h1v1h-1zM72 73h1v1h-1z"/><path fill="#462314" d="M8 10h1v1h-1zM53 27h1v1h-1zM34 32h1v1h-1zM40 57h1v1h-1z"/><path fill="#32231e" d="M15 10h1v1h-1zM60 41h1v1h-1zM12 65h1v1h-1z"/><path fill="#32190a" d="M29 10h1v1h-1zM37 15h1v1h-1zM72 16h1v1h-1zM30 17h1v1h-1zM13 18h1v1h-1zM48 26h1v1h-1zM48 27h1v1h-1zM21 28h1v1h-1zM56 29h1v1h-1zM56 37h1v1h-1zM13 40h1v1h-1zM8 41h1v1h-1zM67 41h1v1h-1zM33 49h1v1h-1zM1 53h1v1h-1zM26 55h1v1h-1zM52 56h1v1h-1zM70 58h1v1h-1zM28 59h1v1h-1zM28 67h1v1h-1zM43 67h1v1h-1zM43 68h1v1h-1zM24 72h1v1h-1zM54 74h1v1h-1zM69 74h1v1h-1z"/><path fill="#2d140a" d="M67 10h1v1h-1zM9 20h1v1h-1zM5 21h1v1h-1zM24 40h1v1h-1zM7 56h1v1h-1zM71 58h1v1h-1z"/><path fill="#192314" d="M19 11h1v1h-1zM71 38h1v1h-1z"/><path fill="#371905" d="M32 11h1v1h-1zM65 11h1v1h-1zM9 18h1v1h-1zM17 65h1v1h-1z"/><path fill="#1e2305" d="M34 11h1v1h-1zM34 12h1v1h-1zM0 17h1v1h-1zM55 21h1v1h-1zM68 27h1v1h-1zM18 48h1v1h-1z"/><path fill="#37140f" d="M66 11h1v1h-1zM59 65h1v1h-1z"/><path fill="#231e00" d="M72 11h1v1h-1zM29 26h1v1h-1zM71 50h1v1h-1zM14 54h1v1h-1z"/><path fill="#1e2d0f" d="M11 12h1v1h-1z"/><path fill="#1e1e14" d="M19 12h1v1h-1zM57 46h1v1h-1zM55 61h1v1h-1z"/><path fill="#2d281e" d="M21 12h1v1h-1z"/><path fill="#1e1e05" d="M35 12h1v1h-1zM74 22h1v1h-1zM66 31h1v1h-1zM29 74h1v1h-1z"/><path fill="#3c3219" d="M47 12h1v1h-1zM47 13h1v1h-1zM11 28h1v1h-1zM42 37h1v1h-1zM62 55h1v1h-1zM42 62h1v1h-1z"/><path fill="#232d0f" d="M22 13h1v1h-1zM64 16h1v1h-1zM18 17h1v1h-1zM36 24h1v1h-1zM5 25h1v1h-1zM74 42h1v1h-1zM39 61h1v1h-1zM73 64h1v1h-1zM46 67h1v1h-1zM28 74h1v1h-1z"/><path fill="#282819" d="M23 13h1v1h-1zM42 47h1v1h-1zM63 58h1v1h-1zM62 61h1v1h-1z"/><path fill="#232805" d="M27 13h1v1h-1zM25 22h1v1h-1zM73 32h1v1h-1zM15 36h1v1h-1zM11 50h1v1h-1zM5 58h1v1h-1z"/><path fill="#231914" d="M36 13h1v1h-1zM37 17h1v1h-1zM29 44h1v1h-1zM19 45h1v1h-1zM23 45h1v1h-1zM15 62h1v1h-1z"/><path fill="#19190f" d="M38 13h1v1h-1z"/><path fill="#413719" d="M46 13h1v1h-1zM35 41h1v1h-1z"/><path fill="#232300" d="M54 13h1v1h-1zM55 22h1v1h-1z"/><path fill="#2d2d05" d="M65 13h1v1h-1zM16 18h1v1h-1zM29 49h1v1h-1z"/><path fill="#411e19" d="M1 14h1v1h-1z"/><path fill="#230f0f" d="M15 14h1v1h-1z"/><path fill="#373214" d="M20 14h1v1h-1zM15 20h1v1h-1zM42 35h1v1h-1zM53 42h1v1h-1z"/><path fill="#322d19" d="M45 14h1v1h-1zM9 31h1v1h-1zM32 33h1v1h-1zM53 43h1v1h-1zM59 53h1v1h-1z"/><path fill="#41320f" d="M47 14h1v1h-1z"/><path fill="#41320a" d="M48 14h1v1h-1zM36 34h1v1h-1z"/><path fill="#2d2805" d="M53 14h1v1h-1zM66 14h1v1h-1zM3 19h1v1h-1zM26 20h1v1h-1zM25 27h1v1h-1zM47 35h1v1h-1zM31 41h1v1h-1zM52 46h1v1h-1zM36 55h1v1h-1zM24 61h1v1h-1zM42 69h1v1h-1z"/><path fill="#371414" d="M61 14h1v1h-1zM72 19h1v1h-1zM61 71h1v1h-1z"/><path fill="#412d14" d="M20 15h1v1h-1zM26 32h1v1h-1zM40 32h1v1h-1zM33 39h1v1h-1zM22 55h1v1h-1zM58 63h1v1h-1zM34 64h1v1h-1z"/><path fill="#3c2d0a" d="M71 15h1v1h-1zM10 18h1v1h-1zM3 33h1v1h-1zM34 35h1v1h-1zM50 60h1v1h-1zM30 62h1v1h-1z"/><path fill="#282d0a" d="M1 17h1v1h-1zM26 26h1v1h-1zM67 31h1v1h-1zM12 36h1v1h-1zM66 41h1v1h-1zM11 60h1v1h-1z"/><path fill="#461e14" d="M12 17h1v1h-1zM31 68h1v1h-1z"/><path fill="#232d05" d="M16 17h1v1h-1z"/><path fill="#2d3719" d="M17 17h1v1h-1zM57 50h1v1h-1z"/><path fill="#3c2d14" d="M19 17h1v1h-1zM1 19h1v1h-1zM36 26h1v1h-1zM10 28h1v1h-1zM26 31h1v1h-1zM13 35h1v1h-1zM18 41h1v1h-1zM62 48h1v1h-1zM48 61h1v1h-1zM74 64h1v1h-1zM72 68h1v1h-1z"/><path fill="#373714" d="M21 17h1v1h-1zM13 29h1v1h-1zM36 43h1v1h-1zM40 44h1v1h-1zM31 46h1v1h-1z"/><path fill="#3c1914" d="M56 17h1v1h-1zM14 58h1v1h-1z"/><path fill="#323c19" d="M17 18h1v1h-1zM12 30h1v1h-1z"/><path fill="#37411e" d="M18 18h1v1h-1zM37 43h1v1h-1z"/><path fill="#32370f" d="M19 18h1v1h-1z"/><path fill="#1e140f" d="M27 18h1v1h-1z"/><path fill="#2d0f0a" d="M31 18h1v1h-1z"/><path fill="#2d1905" d="M41 18h1v1h-1zM3 21h1v1h-1zM8 43h1v1h-1zM14 53h1v1h-1zM6 57h1v1h-1zM62 68h1v1h-1z"/><path fill="#462d14" d="M42 18h1v1h-1z"/><path fill="#2d1405" d="M72 18h1v1h-1z"/><path fill="#373719" d="M16 19h1v1h-1z"/><path fill="#465a32" d="M17 19h1v1h-1z"/><path fill="#46643c" d="M18 19h1v1h-1z"/><path fill="#374623" d="M19 19h1v1h-1z"/><path fill="#1e2314" d="M55 19h1v1h-1zM64 21h1v1h-1zM43 22h1v1h-1zM15 44h1v1h-1z"/><path fill="#231e05" d="M69 19h1v1h-1zM37 22h1v1h-1zM39 30h1v1h-1zM68 30h1v1h-1zM65 39h1v1h-1zM15 40h1v1h-1zM64 44h1v1h-1zM72 44h1v1h-1zM37 60h1v1h-1zM20 64h1v1h-1zM22 65h1v1h-1zM4 70h1v1h-1z"/><path fill="#3c1e0a" d="M4 20h1v1h-1zM1 25h1v1h-1zM53 30h1v1h-1zM3 31h1v1h-1zM56 31h1v1h-1zM25 40h1v1h-1zM71 48h1v1h-1zM69 50h1v1h-1zM39 58h1v1h-1zM25 74h1v1h-1zM32 74h1v1h-1z"/><path fill="#461e0f" d="M5 20h1v1h-1zM45 30h1v1h-1zM45 31h1v1h-1z"/><path fill="#32320f" d="M14 20h1v1h-1zM17 23h1v1h-1zM36 44h1v1h-1z"/><path fill="#4b4628" d="M16 20h1v1h-1zM33 63h1v1h-1z"/><path fill="#41643c" d="M17 20h1v1h-1z"/><path fill="#4b7846" d="M18 20h1v1h-1z"/><path fill="#415032" d="M19 20h1v1h-1z"/><path fill="#373219" d="M20 20h1v1h-1zM15 21h1v1h-1zM31 31h1v1h-1zM34 42h1v1h-1zM60 42h1v1h-1zM59 50h1v1h-1z"/><path fill="#2d2d0a" d="M0 21h1v1h-1zM41 28h1v1h-1zM20 39h1v1h-1zM52 44h1v1h-1zM55 45h1v1h-1zM45 47h2v1h-2zM67 53h1v1h-1z"/><path fill="#412819" d="M13 21h1v1h-1zM65 51h1v1h-1zM53 54h1v1h-1z"/><path fill="#3c2d19" d="M14 21h1v1h-1zM41 34h1v1h-1zM49 50h1v1h-1zM60 51h1v1h-1zM66 52h1v1h-1zM44 63h1v1h-1z"/><path fill="#414114" d="M16 21h1v1h-1z"/><path fill="#465028" d="M17 21h1v1h-1z"/><path fill="#415532" d="M18 21h1v1h-1z"/><path fill="#414128" d="M19 21h1v1h-1z"/><path fill="#19230a" d="M5 22h1v1h-1zM46 66h1v1h-1zM19 73h1v1h-1z"/><path fill="#2d3219" d="M16 22h1v1h-1z"/><path fill="#323719" d="M17 22h2v1h-2zM40 61h1v1h-1z"/><path fill="#281919" d="M42 22h1v1h-1zM8 46h1v1h-1zM63 62h1v1h-1z"/><path fill="#1e280f" d="M47 22h1v1h-1zM46 68h1v1h-1z"/><path fill="#41281e" d="M14 23h1v1h-1zM57 32h1v1h-1zM24 48h1v1h-1z"/><path fill="#32191e" d="M32 23h1v1h-1z"/><path fill="#2d3214" d="M72 24h1v1h-1zM47 70h1v1h-1z"/><path fill="#41190f" d="M0 27h1v1h-1z"/><path fill="#232319" d="M22 27h1v1h-1zM40 52h1v1h-1zM10 58h1v1h-1z"/><path fill="#46230f" d="M0 28h1v1h-1zM51 41h1v1h-1zM10 65h1v1h-1z"/><path fill="#411e0f" d="M1 28h1v1h-1zM46 31h1v1h-1z"/><path fill="#32321e" d="M12 28h1v1h-1zM38 45h1v1h-1z"/><path fill="#55140f" d="M46 28h1v1h-1z"/><path fill="#64230f" d="M47 28h1v1h-1z"/><path fill="#64280f" d="M48 28h1v1h-1z"/><path fill="#4b230f" d="M52 28h1v1h-1z"/><path fill="#5f2d19" d="M53 28h1v1h-1z"/><path fill="#552d19" d="M54 28h1v1h-1z"/><path fill="#28320a" d="M67 28h1v1h-1zM43 54h1v1h-1z"/><path fill="#374119" d="M11 29h2v1h-2z"/><path fill="#462814" d="M28 29h1v1h-1zM44 44h1v1h-1z"/><path fill="#412d19" d="M36 29h1v1h-1zM30 31h1v1h-1zM42 36h1v1h-1zM33 41h1v1h-1zM55 43h1v1h-1zM68 47h1v1h-1zM47 61h1v1h-1zM43 62h1v1h-1z"/><path fill="#461e0a" d="M45 29h1v1h-1z"/><path fill="#640f0a" d="M46 29h1v1h-1z"/><path fill="#cd280f" d="M47 29h1v1h-1z"/><path fill="#c82314" d="M48 29h1v1h-1z"/><path fill="#64230a" d="M49 29h1v1h-1z"/><path fill="#502314" d="M53 29h1v1h-1z"/><path fill="#4b2314" d="M54 29h1v1h-1z"/><path fill="#41280a" d="M55 29h1v1h-1z"/><path fill="#32140a" d="M58 29h1v1h-1z"/><path fill="#37320a" d="M68 29h1v1h-1zM74 59h1v1h-1z"/><path fill="#324119" d="M11 30h1v1h-1z"/><path fill="#323714" d="M13 30h1v1h-1z"/><path fill="#4b3214" d="M27 30h1v1h-1z"/><path fill="#46370f" d="M28 30h1v1h-1z"/><path fill="#64190f" d="M46 30h1v1h-1z"/><path fill="#c32319" d="M47 30h1v1h-1z"/><path fill="#be2319" d="M48 30h1v1h-1z"/><path fill="#5a230f" d="M49 30h1v1h-1z"/><path fill="#3c1919" d="M54 30h1v1h-1z"/><path fill="#1e0f0f" d="M61 30h1v1h-1z"/><path fill="#37370f" d="M11 31h1v1h-1zM41 44h1v1h-1z"/><path fill="#5a4114" d="M27 31h1v1h-1z"/><path fill="#5f4619" d="M28 31h1v1h-1z"/><path fill="#503719" d="M29 31h1v1h-1zM34 39h1v1h-1z"/><path fill="#691e0f" d="M47 31h1v1h-1z"/><path fill="#642314" d="M48 31h1v1h-1z"/><path fill="#5a4619" d="M27 32h1v1h-1z"/><path fill="#6e4114" d="M28 32h1v1h-1z"/><path fill="#553719" d="M29 32h1v1h-1z"/><path fill="#321e00" d="M49 32h1v1h-1z"/><path fill="#463c0f" d="M27 33h1v1h-1z"/><path fill="#503714" d="M28 33h1v1h-1z"/><path fill="#371e05" d="M34 33h1v1h-1zM48 35h1v1h-1zM24 41h1v1h-1zM50 42h1v1h-1zM67 56h1v1h-1z"/><path fill="#412d1e" d="M40 33h1v1h-1zM33 65h1v1h-1z"/><path fill="#46280a" d="M50 33h1v1h-1z"/><path fill="#412d0f" d="M16 34h1v1h-1zM49 60h1v1h-1z"/><path fill="#3c320f" d="M34 34h1v1h-1zM42 41h1v1h-1zM7 62h1v1h-1zM31 64h1v1h-1z"/><path fill="#412305" d="M35 34h1v1h-1z"/><path fill="#463714" d="M37 34h1v1h-1zM34 36h1v1h-1z"/><path fill="#462d1e" d="M38 34h1v1h-1zM41 40h1v1h-1z"/><path fill="#322d1e" d="M43 34h1v1h-1zM32 61h1v1h-1z"/><path fill="#32320a" d="M17 35h1v1h-1zM62 56h1v1h-1z"/><path fill="#3c3214" d="M33 35h1v1h-1zM52 42h1v1h-1zM74 63h1v1h-1z"/><path fill="#46370a" d="M35 35h1v1h-1z"/><path fill="#553c14" d="M36 35h1v1h-1z"/><path fill="#69501e" d="M37 35h1v1h-1z"/><path fill="#5a4623" d="M38 35h1v1h-1z"/><path fill="#553c1e" d="M39 35h1v1h-1z"/><path fill="#464619" d="M40 35h1v1h-1z"/><path fill="#463219" d="M41 35h1v1h-1zM41 37h1v1h-1zM41 59h1v1h-1z"/><path fill="#3c2d05" d="M50 35h1v1h-1z"/><path fill="#322805" d="M16 36h1v1h-1zM25 36h1v1h-1zM49 36h1v1h-1zM61 39h1v1h-1zM42 43h1v1h-1zM25 44h1v1h-1zM12 54h1v1h-1zM67 55h1v1h-1zM11 72h1v1h-1zM54 73h1v1h-1z"/><path fill="#64411e" d="M35 36h1v1h-1z"/><path fill="#785f23" d="M36 36h1v1h-1z"/><path fill="#9b6e37" d="M37 36h1v1h-1z"/><path fill="#aa6e3c" d="M38 36h1v1h-1z"/><path fill="#7d5523" d="M39 36h1v1h-1z"/><path fill="#50411e" d="M40 36h1v1h-1z"/><path fill="#463c19" d="M41 36h1v1h-1z"/><path fill="#322800" d="M48 36h1v1h-1zM53 38h1v1h-1zM29 48h1v1h-1z"/><path fill="#461e19" d="M74 36h1v1h-1z"/><path fill="#462d19" d="M32 37h1v1h-1zM34 46h1v1h-1z"/><path fill="#503219" d="M33 37h1v1h-1z"/><path fill="#55371e" d="M34 37h1v1h-1z"/><path fill="#6e4b23" d="M35 37h1v1h-1zM35 39h1v1h-1z"/><path fill="#b48237" d="M36 37h1v1h-1z"/><path fill="#e6a050" d="M37 37h1v1h-1z"/><path fill="#e69b50" d="M38 37h1v1h-1z"/><path fill="#aa7337" d="M39 37h1v1h-1z"/><path fill="#6e4b28" d="M40 37h1v1h-1z"/><path fill="#462319" d="M46 37h1v1h-1zM65 74h1v1h-1z"/><path fill="#370f14" d="M66 37h1v1h-1z"/><path fill="#2d231e" d="M68 37h1v1h-1z"/><path fill="#413714" d="M33 38h1v1h-1z"/><path fill="#503c19" d="M34 38h1v1h-1z"/><path fill="#785a28" d="M35 38h1v1h-1z"/><path fill="#b98741" d="M36 38h1v1h-1z"/><path fill="#ffb45a" d="M37 38h1v1h-1z"/><path fill="#ffbe55" d="M38 38h1v1h-1z"/><path fill="#a57d37" d="M39 38h1v1h-1z"/><path fill="#645528" d="M40 38h1v1h-1z"/><path fill="#4b4623" d="M41 38h1v1h-1z"/><path fill="#2d2800" d="M59 38h1v1h-1zM25 59h1v1h-1z"/><path fill="#1e2300" d="M64 38h1v1h-1z"/><path fill="#411e0a" d="M7 39h1v1h-1z"/><path fill="#aa783c" d="M36 39h1v1h-1z"/><path fill="#dca546" d="M37 39h1v1h-1z"/><path fill="#d7be46" d="M38 39h1v1h-1z"/><path fill="#9b8737" d="M39 39h1v1h-1z"/><path fill="#555523" d="M40 39h1v1h-1z"/><path fill="#413c1e" d="M41 39h1v1h-1zM33 62h1v1h-1z"/><path fill="#3c3714" d="M42 39h1v1h-1zM31 63h1v1h-1z"/><path fill="#1e190f" d="M57 39h1v1h-1zM63 39h1v1h-1zM13 43h1v1h-1zM22 43h1v1h-1zM31 59h1v1h-1zM19 61h1v1h-1zM18 62h1v1h-1zM39 64h1v1h-1zM5 66h1v1h-1z"/><path fill="#4b3719" d="M34 40h1v1h-1z"/><path fill="#5a4123" d="M35 40h1v1h-1z"/><path fill="#7d5a2d" d="M36 40h1v1h-1z"/><path fill="#96782d" d="M37 40h1v1h-1z"/><path fill="#968732" d="M38 40h1v1h-1z"/><path fill="#786e2d" d="M39 40h1v1h-1z"/><path fill="#554623" d="M40 40h1v1h-1z"/><path fill="#232800" d="M19 41h1v1h-1zM30 48h1v1h-1z"/><path fill="#413c19" d="M34 41h1v1h-1z"/><path fill="#504123" d="M36 41h1v1h-1z"/><path fill="#6e5a28" d="M37 41h1v1h-1z"/><path fill="#69692d" d="M38 41h1v1h-1z"/><path fill="#646e37" d="M39 41h1v1h-1z"/><path fill="#554628" d="M40 41h1v1h-1z"/><path fill="#413223" d="M41 41h1v1h-1z"/><path fill="#232d0a" d="M19 42h1v1h-1zM14 55h1v1h-1zM61 63h1v1h-1z"/><path fill="#281414" d="M23 42h1v1h-1z"/><path fill="#3c321e" d="M35 42h1v1h-1z"/><path fill="#503c23" d="M36 42h1v1h-1z"/><path fill="#504b23" d="M37 42h1v1h-1z"/><path fill="#556432" d="M38 42h1v1h-1z"/><path fill="#557346" d="M39 42h1v1h-1z"/><path fill="#505a37" d="M40 42h1v1h-1z"/><path fill="#3c3c1e" d="M41 42h1v1h-1zM40 60h1v1h-1z"/><path fill="#372323" d="M61 42h1v1h-1z"/><path fill="#1e2805" d="M71 42h1v1h-1zM61 64h1v1h-1zM7 69h1v1h-1z"/><path fill="#19280a" d="M0 43h1v1h-1z"/><path fill="#465a28" d="M38 43h1v1h-1z"/><path fill="#3c5f32" d="M39 43h1v1h-1z"/><path fill="#3c4b23" d="M40 43h1v1h-1z"/><path fill="#373c0f" d="M41 43h1v1h-1z"/><path fill="#322d05" d="M32 44h1v1h-1zM63 64h1v1h-1z"/><path fill="#283714" d="M37 44h1v1h-1z"/><path fill="#374b1e" d="M38 44h1v1h-1z"/><path fill="#37461e" d="M39 44h1v1h-1z"/><path fill="#372d05" d="M42 44h1v1h-1zM35 54h1v1h-1z"/><path fill="#2d2300" d="M69 44h1v1h-1z"/><path fill="#464b0f" d="M32 45h1v1h-1z"/><path fill="#41500f" d="M33 45h1v1h-1z"/><path fill="#41372d" d="M39 45h1v1h-1z"/><path fill="#282800" d="M59 45h1v1h-1z"/><path fill="#19230f" d="M74 45h1v1h-1z"/><path fill="#37460a" d="M32 46h1v1h-1z"/><path fill="#4b4114" d="M33 46h1v1h-1z"/><path fill="#231900" d="M29 47h1v1h-1z"/><path fill="#46281e" d="M58 48h1v1h-1z"/><path fill="#2d320f" d="M59 48h1v1h-1zM74 68h1v1h-1z"/><path fill="#28320f" d="M66 48h1v1h-1zM40 62h1v1h-1z"/><path fill="#192805" d="M10 50h1v1h-1z"/><path fill="#373723" d="M58 50h1v1h-1z"/><path fill="#282d14" d="M11 51h1v1h-1zM64 58h1v1h-1zM6 62h1v1h-1z"/><path fill="#283219" d="M56 51h1v1h-1z"/><path fill="#37553c" d="M57 51h1v1h-1z"/><path fill="#4b5f41" d="M58 51h1v1h-1z"/><path fill="#373c23" d="M59 51h1v1h-1z"/><path fill="#231405" d="M33 52h1v1h-1z"/><path fill="#2d371e" d="M56 52h1v1h-1z"/><path fill="#3c5f3c" d="M57 52h1v1h-1z"/><path fill="#415f3c" d="M58 52h1v1h-1z"/><path fill="#3c3723" d="M59 52h1v1h-1z"/><path fill="#28281e" d="M56 53h1v1h-1z"/><path fill="#37372d" d="M57 53h1v1h-1z"/><path fill="#3c3c23" d="M58 53h1v1h-1z"/><path fill="#320f14" d="M26 54h1v1h-1z"/><path fill="#46280f" d="M64 56h1v1h-1z"/><path fill="#41190a" d="M65 56h1v1h-1z"/><path fill="#3c2805" d="M30 58h1v1h-1zM23 59h1v1h-1z"/><path fill="#1e1414" d="M53 58h1v1h-1z"/><path fill="#32281e" d="M62 58h1v1h-1zM43 61h1v1h-1zM0 65h1v1h-1zM74 66h1v1h-1zM11 68h1v1h-1z"/><path fill="#1e2d0a" d="M74 58h1v1h-1z"/><path fill="#373205" d="M39 59h1v1h-1z"/><path fill="#4b2d0a" d="M48 59h1v1h-1z"/><path fill="#282323" d="M62 59h1v1h-1z"/><path fill="#373228" d="M63 59h1v1h-1z"/><path fill="#191905" d="M16 60h1v1h-1z"/><path fill="#1e2800" d="M39 60h1v1h-1z"/><path fill="#464b32" d="M41 60h1v1h-1zM42 61h1v1h-1z"/><path fill="#3c412d" d="M42 60h1v1h-1z"/><path fill="#372d23" d="M43 60h1v1h-1z"/><path fill="#46320f" d="M47 60h1v1h-1z"/><path fill="#503214" d="M48 60h1v1h-1z"/><path fill="#2d2823" d="M62 60h1v1h-1z"/><path fill="#2d2d2d" d="M63 60h1v1h-1z"/><path fill="#322d28" d="M64 60h1v1h-1z"/><path fill="#371e1e" d="M65 60h1v1h-1z"/><path fill="#4b552d" d="M41 61h1v1h-1z"/><path fill="#372d2d" d="M63 61h1v1h-1z"/><path fill="#3c3719" d="M31 62h1v1h-1z"/><path fill="#3c3c19" d="M32 62h1v1h-1z"/><path fill="#46371e" d="M41 62h1v1h-1z"/><path fill="#50462d" d="M32 63h1v1h-1z"/><path fill="#281405" d="M10 64h1v1h-1z"/><path fill="#371923" d="M28 64h1v1h-1z"/><path fill="#3c411e" d="M32 64h1v1h-1z"/><path fill="#463c1e" d="M33 64h1v1h-1z"/><path fill="#141405" d="M21 65h1v1h-1zM20 74h1v1h-1z"/><path fill="#372d1e" d="M74 65h1v1h-1z"/><path fill="#2d0f0f" d="M4 66h1v1h-1z"/><path fill="#3c1414" d="M15 67h1v1h-1z"/><path fill="#281900" d="M44 71h1v1h-1z"/><path fill="#371419" d="M70 72h1v1h-1z"/><path fill="#142805" d="M20 73h1v1h-1z"/><path fill="#231414" d="M31 73h1v1h-1z"/><path fill="#37140a" d="M38 73h1v1h-1z"/><path fill="#462d0f" d="M44 74h1v1h-1z"/><path fill="#3c2305" d="M70 74h1v1h-1z"/></svg>
<div class="frame"></div>
<div class="lbl" style="left:40.5px;top:9.8px;font-size:37.8px;letter-spacing:-0.5px;">B V I</div>
<div class="bar" style="left:327.6px;top:467.2px;width:185.5px;height:9.6px;"></div>
<div class="lbl" style="left:401px;top:476px;font-size:33.5px;">1"</div>
</div>
<svg id="plot" width="2168" height="617" viewBox="0 0 2168 617"><line x1="727.7" y1="0.8" x2="727.7" y2="547.6" class="g"/><line x1="892.3" y1="0.8" x2="892.3" y2="547.6" class="g"/><line x1="1056.9" y1="0.8" x2="1056.9" y2="547.6" class="g"/><line x1="1221.5" y1="0.8" x2="1221.5" y2="547.6" class="g"/><line x1="1386.1" y1="0.8" x2="1386.1" y2="547.6" class="g"/><line x1="694.6" y1="50.4" x2="1451.0" y2="50.4" class="g"/><line x1="694.6" y1="100.1" x2="1451.0" y2="100.1" class="g"/><line x1="694.6" y1="149.8" x2="1451.0" y2="149.8" class="g"/><line x1="694.6" y1="199.5" x2="1451.0" y2="199.5" class="g"/><line x1="694.6" y1="249.2" x2="1451.0" y2="249.2" class="g"/><line x1="694.6" y1="352.1" x2="1451.0" y2="352.1" class="g"/><line x1="694.6" y1="431.2" x2="1451.0" y2="431.2" class="g"/><line x1="694.6" y1="510.3" x2="1451.0" y2="510.3" class="g"/><polygon fill="#000" stroke="#000" stroke-width="1.2" stroke-linejoin="round" points="777.2,34.5 779.2,39.9 784.9,40.1 780.4,43.6 782.0,49.2 777.2,45.9 772.4,49.2 774.0,43.6 769.5,40.1 775.2,39.9"/><polygon fill="#000" stroke="#000" stroke-width="1.2" stroke-linejoin="round" points="1152.2,73.1 1154.2,78.5 1159.9,78.7 1155.4,82.2 1157.0,87.8 1152.2,84.5 1147.4,87.8 1149.0,82.2 1144.5,78.7 1150.2,78.5"/><polygon fill="#000" stroke="#000" stroke-width="1.2" stroke-linejoin="round" points="1047.2,135.5 1049.2,140.9 1054.9,141.1 1050.4,144.6 1052.0,150.2 1047.2,146.9 1042.4,150.2 1044.0,144.6 1039.5,141.1 1045.2,140.9"/><polygon fill="#000" stroke="#000" stroke-width="1.2" stroke-linejoin="round" points="1179.2,204.3 1181.2,209.7 1186.9,209.9 1182.4,213.4 1184.0,219.0 1179.2,215.7 1174.4,219.0 1176.0,213.4 1171.5,209.9 1177.2,209.7"/><polygon fill="#000" stroke="#000" stroke-width="1.2" stroke-linejoin="round" points="1342.7,229.0 1344.7,234.4 1350.4,234.6 1345.9,238.1 1347.5,243.7 1342.7,240.4 1337.9,243.7 1339.5,238.1 1335.0,234.6 1340.7,234.4"/><polygon fill="#000" stroke="#000" stroke-width="1.2" stroke-linejoin="round" points="776.9,292.8 778.9,298.2 784.6,298.4 780.1,301.9 781.7,307.5 776.9,304.2 772.1,307.5 773.7,301.9 769.2,298.4 774.9,298.2"/><polygon fill="#000" stroke="#000" stroke-width="1.2" stroke-linejoin="round" points="1152.2,348.3 1154.2,353.7 1159.9,353.9 1155.4,357.4 1157.0,363.0 1152.2,359.7 1147.4,363.0 1149.0,357.4 1144.5,353.9 1150.2,353.7"/><polygon fill="#000" stroke="#000" stroke-width="1.2" stroke-linejoin="round" points="1047.5,358.7 1049.5,364.1 1055.2,364.3 1050.7,367.8 1052.3,373.4 1047.5,370.1 1042.7,373.4 1044.3,367.8 1039.8,364.3 1045.5,364.1"/><polygon fill="#000" stroke="#000" stroke-width="1.2" stroke-linejoin="round" points="1179.9,438.6 1181.9,444.0 1187.6,444.2 1183.1,447.7 1184.7,453.3 1179.9,450.0 1175.1,453.3 1176.7,447.7 1172.2,444.2 1177.9,444.0"/><polygon fill="#000" stroke="#000" stroke-width="1.2" stroke-linejoin="round" points="1342.9,497.0 1344.9,502.4 1350.6,502.6 1346.1,506.1 1347.7,511.7 1342.9,508.4 1338.1,511.7 1339.7,506.1 1335.2,502.6 1340.9,502.4"/><path class="r" d="M775.8,42.3 L781.3,48.2 L792.7,54.4 L807.4,62.9 L821.0,72.0 L831.3,79.9 L840.4,85.6 L849.4,87.9 L866.4,88.4 L883.5,87.6 L920.0,86.9 L960.0,85.9 L1000.0,84.9 L1059.5,83.3 L1070.0,82.6 L1110.0,80.5 L1149.4,78.4 L1164.2,76.5 L1176.6,71.9 L1186.3,72.5 L1164.0,78.0 L1142.6,86.1 L1122.0,94.0 L1105.2,92.3 L1110.0,95.0 L1122.0,95.5 L1109.7,102.5 L1083.6,104.2 L1083.0,108.8 L1081.0,114.5 L1072.3,117.9 L1056.0,125.8 L1049.3,134.9 L1047.0,143.0 L1054.3,155.9 L1056.0,160.0 L1049.4,167.3 L1049.4,170.5 L1056.0,177.0 L1068.9,185.1 L1083.5,196.5 L1088.3,204.6 L1091.6,209.4 L1103.0,212.7 L1127.2,215.6 L1143.5,214.3 L1179.1,211.0 L1208.3,209.5 L1230.0,209.4 L1260.0,211.0 L1276.9,213.3 L1303.0,221.0 L1342.5,236.3 L1366.6,252.7"/><path class="r" d="M781.7,305.3 L880.0,328.0 L902.0,330.8 L917.0,333.0 L943.2,336.8 L1000.0,338.7 L1041.6,341.3 L1080.5,345.0 L1121.0,349.0 L1145.3,352.7 L1152.2,355.9 L1173.7,357.1 L1183.4,358.4 L1145.0,354.0 L1137.2,356.7 L1129.1,358.4 L1121.0,356.7 L1106.5,354.5 L1106.0,352.0 L1137.0,354.0 L1120.0,355.0 L1096.7,355.9 L1085.4,354.7 L1083.8,357.6 L1082.1,360.0 L1072.4,362.0 L1057.8,361.2 L1056.2,364.0 L1047.5,366.0 L1056.2,372.8 L1080.5,387.4 L1093.5,398.0 L1113.0,406.9 L1137.3,421.5 L1161.6,436.0 L1179.9,446.1 L1200.0,453.0 L1223.9,459.9 L1250.0,469.0 L1276.3,479.1 L1310.0,491.0 L1342.9,504.5 L1369.3,516.3"/><path class="b" d="M780.8,20.7 L782.5,23.5 L786.0,25.6 L828.0,40.7 L860.0,53.5 L892.0,64.5 L938.0,81.0M805.2,41.2 L860.0,46.5 L940.0,53.3 L964.6,55.6 L939.3,81.3M805.2,40.5 L830.0,47.5 L860.0,56.5 L892.0,66.0 L938.0,82.0 L939.6,81.2 L946.5,86.7 L952.0,91.5 L957.5,97.0 L961.2,101.0 L961.7,104.0 L965.0,107.5 L968.6,110.8 L969.3,116.3 L974.1,123.2 L992.0,137.7 L1042.5,142.6 L1049.3,146.2 L1046.2,154.3 L1052.7,165.7 L1059.2,175.4 L1062.4,177.8 L1078.6,177.0 L1102.9,172.5 L1127.2,173.0 L1159.7,177.0 L1184.0,179.0 L1211.5,178.3 L1224.5,182.7"/><path class="b" d="M783.0,310.7 L781.3,305.3 L830.0,316.6 L860.0,323.5 L880.0,328.2 L965.6,343.3M805.5,314.3 L830.0,318.7 L860.0,324.2 L880.0,329.2 L943.2,342.5 L957.8,346.5 L969.5,351.8 L991.9,358.6 L1000.0,359.6 L1041.0,363.8 L1047.3,365.5 L1056.2,374.5 L1064.3,382.6 L1088.6,394.7 L1112.9,403.6 L1137.3,411.7 L1153.5,415.0 L1169.7,419.8 L1185.9,428.0 L1199.1,438.4 L1215.7,447.5 L1224.5,452.2"/><polygon fill="#00ffff" stroke="#00ffff" stroke-width="1.2" stroke-linejoin="round" points="1224.5,175.1 1226.5,180.5 1232.2,180.7 1227.7,184.2 1229.3,189.8 1224.5,186.5 1219.7,189.8 1221.3,184.2 1216.8,180.7 1222.5,180.5"/><polygon fill="#00ffff" stroke="#00ffff" stroke-width="1.2" stroke-linejoin="round" points="1224.5,444.7 1226.5,450.1 1232.2,450.3 1227.7,453.8 1229.3,459.4 1224.5,456.1 1219.7,459.4 1221.3,453.8 1216.8,450.3 1222.5,450.1"/><circle cx="1337" cy="163.6" r="6.3" fill="#1f77b4"/><circle cx="1336.8" cy="453.8" r="6.3" fill="#1f77b4"/><polygon fill="#dc143c" points="1216.1,26.5 1222.3,23.9 1354,48.3 1360.4,45.2 1399.3,59.6 1338.6,55.7 1348.4,51.0"/><polygon fill="#dc143c" points="1217.05,298.45 1221.9,294.6 1352,331.8 1359.2,327.5 1396.9,349.4 1339.8,342.4 1346.5,336.3"/><text x="809.5" y="57" font-size="24" fill="#000" >1Myr</text><text x="1185.3" y="96" font-size="24" fill="#000" >10Myr</text><text x="1079.5" y="158" font-size="24" fill="#000" >100Myr</text><text x="1225" y="182" font-size="24" fill="#0000ff" >10Gyr</text><text x="1212.3" y="226.4" font-size="24" fill="#000" >1Gyr</text><text x="1374.8" y="251.6" font-size="24" fill="#000" >10Gyr</text><text x="710.5" y="324.7" font-size="24" fill="#000" >1Myr</text><text x="981.6" y="390.5" font-size="24" fill="#000" >100Myr</text><text x="1086.2" y="380" font-size="24" fill="#000" >10Myr</text><text x="1224.5" y="452.2" font-size="24" fill="#0000ff" >10Gyr</text><text x="1113.3" y="470.3" font-size="24" fill="#000" >1Gyr</text><text x="1276.3" y="528.7" font-size="24" fill="#000" >10Gyr</text><text x="0" y="0" font-size="18.4" font-style="italic" transform="translate(1287.5,28) rotate(10.8)">AV = 1</text><rect x="703.9" y="205" width="245.7" height="59.4" rx="3" fill="#fff" fill-opacity="0.8" stroke="#cccccc" stroke-width="1.3"/><line x1="711" y1="219.9" x2="749" y2="219.9" class="r"/><line x1="710" y1="246.9" x2="749.8" y2="246.9" class="b" style="stroke-linecap:butt"/><text x="763.2" y="226.6" font-size="18.6" fill="#000" >1 Z Metallicity</text><text x="763.2" y="254.0" font-size="18.6" fill="#000" >1/50th Z Metallicity</text><rect x="694.6" y="0.8" width="756.4" height="546.8000000000001" fill="none" stroke="#000" stroke-width="1.6"/><line x1="694.6" y1="273.8" x2="1451.0" y2="273.8" stroke="#000" stroke-width="1.6"/><text x="681.8" y="59.1" font-size="24" fill="#000" text-anchor="end">-1.5</text><text x="681.8" y="108.8" font-size="24" fill="#000" text-anchor="end">-1.0</text><text x="681.8" y="158.5" font-size="24" fill="#000" text-anchor="end">-0.5</text><text x="681.8" y="208.2" font-size="24" fill="#000" text-anchor="end">0.0</text><text x="681.8" y="257.9" font-size="24" fill="#000" text-anchor="end">0.5</text><text x="681.8" y="360.8" font-size="24" fill="#000" text-anchor="end">0.0</text><text x="681.8" y="439.9" font-size="24" fill="#000" text-anchor="end">0.5</text><text x="681.8" y="519.0" font-size="24" fill="#000" text-anchor="end">1.0</text><text x="727.7" y="580" font-size="24" fill="#000" text-anchor="middle">-0.5</text><text x="892.3" y="580" font-size="24" fill="#000" text-anchor="middle">0.0</text><text x="1056.9" y="580" font-size="24" fill="#000" text-anchor="middle">0.5</text><text x="1221.5" y="580" font-size="24" fill="#000" text-anchor="middle">1.0</text><text x="1386.1" y="580" font-size="24" fill="#000" text-anchor="middle">1.5</text><g stroke="#000" stroke-width="1.6"><line x1="688.1" y1="50.4" x2="694.6" y2="50.4"/><line x1="688.1" y1="100.1" x2="694.6" y2="100.1"/><line x1="688.1" y1="149.8" x2="694.6" y2="149.8"/><line x1="688.1" y1="199.5" x2="694.6" y2="199.5"/><line x1="688.1" y1="249.2" x2="694.6" y2="249.2"/><line x1="688.1" y1="352.1" x2="694.6" y2="352.1"/><line x1="688.1" y1="431.2" x2="694.6" y2="431.2"/><line x1="688.1" y1="510.3" x2="694.6" y2="510.3"/><line x1="727.7" y1="547.6" x2="727.7" y2="554.1"/><line x1="892.3" y1="547.6" x2="892.3" y2="554.1"/><line x1="1056.9" y1="547.6" x2="1056.9" y2="554.1"/><line x1="1221.5" y1="547.6" x2="1221.5" y2="554.1"/><line x1="1386.1" y1="547.6" x2="1386.1" y2="554.1"/></g><text font-size="33.6" text-anchor="middle" transform="translate(621,137) rotate(-90)">U-B</text><text font-size="33.6" text-anchor="middle" transform="translate(629.7,409.5) rotate(-90)">B-V</text><text x="1071.5" y="617" font-size="33.6" text-anchor="middle">V-I</text></svg>
<div class="panel" id="p2" style="left:1574.6px;top:0;width:593.4px;height:548.8px;background:#2a5238;">
<svg class="img" viewBox="0 0 74 68.4" preserveAspectRatio="none"><defs><filter id="bl" x="-5%" y="-5%" width="110%" height="110%"><feGaussianBlur stdDeviation="0.38"/></filter></defs><clipPath id="ct"><rect x="0" y="0" width="74" height="19.038"/></clipPath><clipPath id="cb"><rect x="0" y="18.738" width="74" height="70"/></clipPath><g clip-path="url(#ct)"><g filter="url(#bl)" shape-rendering="crispEdges"><path fill="#194123" d="M-1 -1h1v1h-1zM21 0h1v1h-1zM-1 13h1v1h-1z"/><path fill="#19641e" d="M0 -1h1v1h-1z"/><path fill="#286e37" d="M1 -1h1v1h-1zM15 18h1v1h-1z"/><path fill="#19321e" d="M2 -1h1v1h-1zM19 2h1v1h-1zM56 2h1v1h-1zM59 15h1v1h-1zM49 17h1v1h-1z"/><path fill="#233237" d="M3 -1h1v1h-1z"/><path fill="#28283c" d="M4 -1h1v1h-1zM70 2h1v1h-1zM62 5h1v1h-1zM48 10h1v1h-1z"/><path fill="#144b23" d="M5 -1h1v1h-1zM31 1h1v1h-1z"/><path fill="#143c19" d="M6 -1h1v1h-1z"/><path fill="#052d0f" d="M7 -1h1v1h-1z"/><path fill="#321937" d="M8 -1h1v1h-1z"/><path fill="#2d6e3c" d="M9 -1h1v1h-1z"/><path fill="#3c553c" d="M10 -1h1v1h-1z"/><path fill="#286932" d="M11 -1h1v1h-1zM52 17h1v1h-1zM13 20h1v1h-1z"/><path fill="#323c32" d="M12 -1h1v1h-1z"/><path fill="#50645a" d="M13 -1h1v1h-1z"/><path fill="#2d4b4b" d="M14 -1h1v1h-1zM46 1h1v1h-1zM66 8h1v1h-1z"/><path fill="#46694b" d="M15 -1h1v1h-1z"/><path fill="#2d3741" d="M16 -1h1v1h-1zM6 18h1v1h-1zM59 18h1v1h-1zM72 21h1v1h-1z"/><path fill="#23282d" d="M17 -1h1v1h-1zM10 14h1v1h-1zM55 14h1v1h-1zM62 15h1v1h-1z"/><path fill="#325a4b" d="M18 -1h1v1h-1zM68 -1h1v1h-1zM49 1h1v1h-1zM57 7h1v1h-1z"/><path fill="#2d462d" d="M19 -1h1v1h-1zM32 14h1v1h-1z"/><path fill="#2d2d32" d="M20 -1h1v1h-1z"/><path fill="#326937" d="M21 -1h1v1h-1zM36 2h1v1h-1zM69 7h1v1h-1z"/><path fill="#28414b" d="M22 -1h1v1h-1zM47 2h1v1h-1z"/><path fill="#140f28" d="M23 -1h1v1h-1zM17 9h1v1h-1z"/><path fill="#281e2d" d="M24 -1h1v1h-1z"/><path fill="#32323c" d="M25 -1h1v1h-1zM56 10h1v1h-1zM13 11h1v1h-1zM46 17h1v1h-1z"/><path fill="#281e4b" d="M26 -1h1v1h-1z"/><path fill="#0f280a" d="M27 -1h1v1h-1z"/><path fill="#052d1e" d="M28 -1h1v1h-1z"/><path fill="#0f4619" d="M29 -1h1v1h-1z"/><path fill="#0f2d19" d="M30 -1h1v1h-1z"/><path fill="#232d2d" d="M31 -1h1v1h-1zM11 11h1v1h-1zM47 15h1v1h-1zM5 17h1v1h-1z"/><path fill="#234637" d="M32 -1h1v1h-1zM52 0h1v1h-1zM0 17h1v1h-1z"/><path fill="#325f50" d="M33 -1h1v1h-1zM39 11h1v1h-1zM69 13h1v1h-1zM67 17h1v1h-1z"/><path fill="#464b5a" d="M34 -1h1v1h-1zM58 1h1v1h-1z"/><path fill="#3c784b" d="M35 -1h1v1h-1z"/><path fill="#236437" d="M36 -1h1v1h-1zM70 -1h1v1h-1zM16 7h1v1h-1zM54 13h1v1h-1z"/><path fill="#2d4b50" d="M37 -1h1v1h-1zM58 3h1v1h-1zM2 13h1v1h-1z"/><path fill="#232337" d="M38 -1h1v1h-1zM45 18h1v1h-1z"/><path fill="#145528" d="M39 -1h1v1h-1z"/><path fill="#28553c" d="M40 -1h1v1h-1zM47 0h1v1h-1z"/><path fill="#3c6950" d="M41 -1h1v1h-1zM2 10h1v1h-1z"/><path fill="#283c37" d="M42 -1h1v1h-1zM24 17h1v1h-1z"/><path fill="#325550" d="M43 -1h1v1h-1zM19 21h1v1h-1z"/><path fill="#2d5532" d="M44 -1h1v1h-1z"/><path fill="#2d2323" d="M45 -1h1v1h-1z"/><path fill="#2d194b" d="M46 -1h1v1h-1z"/><path fill="#2d4146" d="M47 -1h1v1h-1zM67 10h1v1h-1z"/><path fill="#373255" d="M48 -1h1v1h-1z"/><path fill="#2d6446" d="M49 -1h1v1h-1zM41 14h1v1h-1z"/><path fill="#285a32" d="M50 -1h1v1h-1zM53 1h1v1h-1zM67 3h1v1h-1zM71 16h1v1h-1z"/><path fill="#375050" d="M51 -1h1v1h-1zM55 16h1v1h-1z"/><path fill="#465064" d="M52 -1h1v1h-1z"/><path fill="#415a4b" d="M53 -1h1v1h-1zM36 12h1v1h-1z"/><path fill="#23142d" d="M54 -1h1v1h-1zM49 14h1v1h-1z"/><path fill="#374646" d="M55 -1h1v1h-1zM37 2h1v1h-1zM34 3h1v1h-1zM10 16h1v1h-1z"/><path fill="#23462d" d="M56 -1h1v1h-1z"/><path fill="#231419" d="M57 -1h1v1h-1z"/><path fill="#324146" d="M58 -1h1v1h-1zM44 0h1v1h-1zM37 9h1v1h-1zM43 19h1v1h-1zM3 20h1v1h-1zM56 20h1v1h-1z"/><path fill="#50415a" d="M59 -1h1v1h-1z"/><path fill="#1e4b1e" d="M60 -1h1v1h-1zM26 14h1v1h-1z"/><path fill="#2d284b" d="M61 -1h1v1h-1z"/><path fill="#2d5537" d="M62 -1h1v1h-1zM56 21h1v1h-1z"/><path fill="#2d5f32" d="M63 -1h1v1h-1zM70 17h1v1h-1z"/><path fill="#234132" d="M64 -1h1v1h-1zM52 5h1v1h-1z"/><path fill="#1e3c28" d="M65 -1h1v1h-1zM1 7h1v1h-1zM62 9h1v1h-1z"/><path fill="#374b41" d="M66 -1h1v1h-1zM65 21h1v1h-1z"/><path fill="#235f28" d="M67 -1h1v1h-1z"/><path fill="#376e46" d="M69 -1h1v1h-1zM23 2h1v1h-1zM37 12h1v1h-1zM37 16h1v1h-1z"/><path fill="#003c0a" d="M71 -1h1v1h-1z"/><path fill="#1e5532" d="M72 -1h1v1h-1zM18 14h1v1h-1zM9 19h1v1h-1z"/><path fill="#145523" d="M73 -1h1v1h-1zM61 9h1v1h-1z"/><path fill="#235f3c" d="M74 -1h1v1h-1zM59 0h1v1h-1zM24 5h1v1h-1zM20 18h1v1h-1zM21 21h1v1h-1z"/><path fill="#281432" d="M-1 0h1v1h-1zM68 6h1v1h-1zM51 11h1v1h-1z"/><path fill="#285546" d="M0 0h1v1h-1z"/><path fill="#4b4b6e" d="M1 0h1v1h-1z"/><path fill="#2d4641" d="M2 0h1v1h-1zM13 21h1v1h-1z"/><path fill="#2d2837" d="M3 0h1v1h-1zM4 8h1v1h-1zM14 10h1v1h-1zM18 16h1v1h-1z"/><path fill="#416e5f" d="M4 0h1v1h-1z"/><path fill="#2d2d4b" d="M5 0h1v1h-1zM34 20h1v1h-1z"/><path fill="#28413c" d="M6 0h1v1h-1zM18 7h1v1h-1zM57 11h1v1h-1zM38 21h1v1h-1z"/><path fill="#285f37" d="M7 0h1v1h-1zM25 7h1v1h-1zM6 19h1v1h-1z"/><path fill="#0f1e14" d="M8 0h1v1h-1z"/><path fill="#0f3c0f" d="M9 0h1v1h-1z"/><path fill="#283228" d="M10 0h1v1h-1zM48 17h1v1h-1z"/><path fill="#3c734b" d="M11 0h1v1h-1zM24 3h1v1h-1zM41 9h1v1h-1z"/><path fill="#377d37" d="M12 0h1v1h-1z"/><path fill="#2d873c" d="M13 0h1v1h-1zM38 15h1v1h-1z"/><path fill="#231e2d" d="M14 0h1v1h-1zM17 10h1v1h-1z"/><path fill="#324641" d="M15 0h1v1h-1zM12 9h1v1h-1zM11 20h1v1h-1z"/><path fill="#4b7855" d="M16 0h1v1h-1z"/><path fill="#4b7873" d="M17 0h1v1h-1z"/><path fill="#2d464b" d="M18 0h1v1h-1z"/><path fill="#14280f" d="M19 0h1v1h-1z"/><path fill="#285541" d="M20 0h1v1h-1zM21 4h1v1h-1zM49 12h1v1h-1zM15 13h1v1h-1z"/><path fill="#285032" d="M22 0h1v1h-1zM41 18h1v1h-1zM68 18h1v1h-1z"/><path fill="#234632" d="M23 0h1v1h-1zM9 8h1v1h-1zM71 8h1v1h-1zM30 19h1v1h-1z"/><path fill="#2d3c55" d="M24 0h1v1h-1z"/><path fill="#284637" d="M25 0h1v1h-1zM37 0h1v1h-1zM66 6h1v1h-1zM71 10h1v1h-1zM69 20h1v1h-1z"/><path fill="#193c1e" d="M26 0h1v1h-1z"/><path fill="#23412d" d="M27 0h1v1h-1zM45 0h1v1h-1zM42 9h1v1h-1zM69 15h1v1h-1zM22 19h1v1h-1z"/><path fill="#1e232d" d="M28 0h1v1h-1zM7 6h1v1h-1zM49 15h1v1h-1zM66 17h1v1h-1z"/><path fill="#0f3223" d="M29 0h1v1h-1z"/><path fill="#145a28" d="M30 0h1v1h-1z"/><path fill="#2d502d" d="M31 0h1v1h-1zM65 17h1v1h-1z"/><path fill="#232d37" d="M32 0h1v1h-1zM74 1h1v1h-1z"/><path fill="#145a2d" d="M33 0h1v1h-1z"/><path fill="#416955" d="M34 0h1v1h-1z"/><path fill="#286e41" d="M35 0h1v1h-1z"/><path fill="#285041" d="M36 0h1v1h-1zM1 13h1v1h-1zM25 15h1v1h-1zM63 17h1v1h-1z"/><path fill="#282d46" d="M38 0h1v1h-1z"/><path fill="#418255" d="M39 0h1v1h-1z"/><path fill="#328750" d="M40 0h1v1h-1z"/><path fill="#14321e" d="M41 0h1v1h-1zM1 20h1v1h-1z"/><path fill="#325041" d="M42 0h1v1h-1zM30 17h1v1h-1zM2 18h1v1h-1z"/><path fill="#286432" d="M43 0h1v1h-1zM36 16h1v1h-1z"/><path fill="#323732" d="M46 0h1v1h-1zM25 9h1v1h-1z"/><path fill="#376455" d="M48 0h1v1h-1z"/><path fill="#1e4628" d="M49 0h1v1h-1zM29 14h1v1h-1zM13 17h1v1h-1z"/><path fill="#235a2d" d="M50 0h1v1h-1zM27 2h1v1h-1z"/><path fill="#232832" d="M51 0h1v1h-1zM72 3h1v1h-1z"/><path fill="#280037" d="M53 0h1v1h-1z"/><path fill="#412d5f" d="M54 0h1v1h-1z"/><path fill="#2d4b3c" d="M55 0h1v1h-1zM60 0h1v1h-1zM45 3h1v1h-1zM29 5h1v1h-1zM48 12h1v1h-1zM6 14h1v1h-1zM32 17h1v1h-1z"/><path fill="#283c2d" d="M56 0h1v1h-1zM34 5h1v1h-1zM7 9h1v1h-1z"/><path fill="#325f41" d="M57 0h1v1h-1zM7 3h1v1h-1zM23 8h1v1h-1zM39 10h1v1h-1zM54 12h1v1h-1z"/><path fill="#324141" d="M58 0h1v1h-1zM40 8h1v1h-1zM34 14h1v1h-1z"/><path fill="#0f5f19" d="M61 0h1v1h-1z"/><path fill="#415f41" d="M62 0h1v1h-1z"/><path fill="#324b41" d="M63 0h1v1h-1zM68 1h1v1h-1zM55 15h1v1h-1z"/><path fill="#505f5f" d="M64 0h1v1h-1z"/><path fill="#2d3c3c" d="M65 0h1v1h-1zM23 4h1v1h-1zM36 13h1v1h-1zM58 14h1v1h-1zM50 18h1v1h-1zM4 21h1v1h-1z"/><path fill="#372d37" d="M66 0h1v1h-1zM55 8h1v1h-1z"/><path fill="#324b2d" d="M67 0h1v1h-1zM59 8h1v1h-1z"/><path fill="#283732" d="M68 0h1v1h-1zM11 5h1v1h-1zM-1 6h1v1h-1zM22 6h1v1h-1zM65 8h1v1h-1zM2 14h1v1h-1zM17 18h1v1h-1zM36 21h1v1h-1z"/><path fill="#28502d" d="M69 0h1v1h-1zM42 1h1v1h-1z"/><path fill="#235a28" d="M70 0h1v1h-1zM61 7h1v1h-1z"/><path fill="#140514" d="M71 0h1v1h-1zM67 11h1v1h-1z"/><path fill="#233c32" d="M72 0h1v1h-1zM8 12h1v1h-1zM12 16h1v1h-1z"/><path fill="#284132" d="M73 0h1v1h-1zM52 1h1v1h-1zM5 16h1v1h-1zM48 18h1v1h-1zM64 18h1v1h-1z"/><path fill="#235a46" d="M74 0h1v1h-1z"/><path fill="#1e322d" d="M-1 1h1v1h-1zM74 3h1v1h-1z"/><path fill="#283237" d="M0 1h1v1h-1zM20 4h1v1h-1zM54 5h1v1h-1zM40 13h1v1h-1z"/><path fill="#233228" d="M1 1h1v1h-1z"/><path fill="#287341" d="M2 1h1v1h-1z"/><path fill="#3c6937" d="M3 1h1v1h-1z"/><path fill="#327355" d="M4 1h1v1h-1z"/><path fill="#32874b" d="M5 1h1v1h-1z"/><path fill="#232d3c" d="M6 1h1v1h-1z"/><path fill="#144b3c" d="M7 1h1v1h-1z"/><path fill="#285532" d="M8 1h1v1h-1zM61 4h1v1h-1zM32 12h1v1h-1z"/><path fill="#284b2d" d="M9 1h1v1h-1zM38 1h1v1h-1zM0 5h1v1h-1zM70 19h1v1h-1z"/><path fill="#235037" d="M10 1h1v1h-1zM64 12h1v1h-1zM33 15h1v1h-1zM49 18h1v1h-1z"/><path fill="#2d644b" d="M11 1h1v1h-1zM20 10h1v1h-1z"/><path fill="#195f23" d="M12 1h1v1h-1z"/><path fill="#323232" d="M13 1h1v1h-1zM17 17h1v1h-1z"/><path fill="#464b64" d="M14 1h1v1h-1z"/><path fill="#37323c" d="M15 1h1v1h-1zM43 13h1v1h-1zM38 17h1v1h-1z"/><path fill="#232d46" d="M16 1h1v1h-1z"/><path fill="#374641" d="M17 1h1v1h-1zM51 4h1v1h-1z"/><path fill="#19692d" d="M18 1h1v1h-1z"/><path fill="#286e3c" d="M19 1h1v1h-1zM33 14h1v1h-1z"/><path fill="#0f4b28" d="M20 1h1v1h-1z"/><path fill="#1e411e" d="M21 1h1v1h-1zM59 3h1v1h-1z"/><path fill="#323c41" d="M22 1h1v1h-1zM64 8h1v1h-1z"/><path fill="#32324b" d="M23 1h1v1h-1z"/><path fill="#233c2d" d="M24 1h1v1h-1zM57 4h1v1h-1zM14 11h1v1h-1zM34 15h1v1h-1zM54 18h1v1h-1z"/><path fill="#464164" d="M25 1h1v1h-1z"/><path fill="#284641" d="M26 1h1v1h-1zM3 2h1v1h-1z"/><path fill="#2d5a37" d="M27 1h1v1h-1z"/><path fill="#2d504b" d="M28 1h1v1h-1zM71 13h1v1h-1z"/><path fill="#23192d" d="M29 1h1v1h-1z"/><path fill="#14502d" d="M30 1h1v1h-1zM50 6h1v1h-1z"/><path fill="#2d323c" d="M32 1h1v1h-1zM74 4h1v1h-1z"/><path fill="#283737" d="M33 1h1v1h-1zM43 1h1v1h-1zM68 4h1v1h-1zM24 9h1v1h-1zM6 21h1v1h-1z"/><path fill="#463264" d="M34 1h1v1h-1z"/><path fill="#234b2d" d="M35 1h1v1h-1zM26 7h1v1h-1zM62 7h1v1h-1zM45 9h1v1h-1zM2 12h1v1h-1zM53 19h1v1h-1zM10 21h1v1h-1z"/><path fill="#2d552d" d="M36 1h1v1h-1z"/><path fill="#284146" d="M37 1h1v1h-1zM53 2h1v1h-1zM37 6h1v1h-1z"/><path fill="#3c735f" d="M39 1h1v1h-1z"/><path fill="#37643c" d="M40 1h1v1h-1z"/><path fill="#282337" d="M41 1h1v1h-1zM9 14h1v1h-1z"/><path fill="#327d46" d="M44 1h1v1h-1z"/><path fill="#322d2d" d="M45 1h1v1h-1z"/><path fill="#37734b" d="M47 1h1v1h-1zM33 2h1v1h-1z"/><path fill="#322346" d="M48 1h1v1h-1zM13 2h1v1h-1z"/><path fill="#1e5f1e" d="M50 1h1v1h-1z"/><path fill="#2d3c4b" d="M51 1h1v1h-1zM1 4h1v1h-1z"/><path fill="#283741" d="M54 1h1v1h-1z"/><path fill="#32463c" d="M55 1h1v1h-1zM7 12h1v1h-1zM17 21h1v1h-1z"/><path fill="#19282d" d="M56 1h1v1h-1z"/><path fill="#2d4b41" d="M57 1h1v1h-1zM30 4h1v1h-1zM48 6h1v1h-1z"/><path fill="#286e28" d="M59 1h1v1h-1z"/><path fill="#4b554b" d="M60 1h1v1h-1z"/><path fill="#283232" d="M61 1h1v1h-1zM73 1h1v1h-1zM35 11h1v1h-1zM50 15h1v1h-1z"/><path fill="#2d5a2d" d="M62 1h1v1h-1z"/><path fill="#2d7d3c" d="M63 1h1v1h-1z"/><path fill="#28642d" d="M64 1h1v1h-1z"/><path fill="#142823" d="M65 1h1v1h-1z"/><path fill="#1e4b28" d="M66 1h1v1h-1zM55 6h1v1h-1z"/><path fill="#37373c" d="M67 1h1v1h-1z"/><path fill="#234137" d="M69 1h1v1h-1zM15 10h1v1h-1zM7 20h1v1h-1z"/><path fill="#32143c" d="M70 1h1v1h-1zM55 3h1v1h-1z"/><path fill="#2d4b32" d="M71 1h1v1h-1zM57 8h1v1h-1zM64 10h1v1h-1zM71 15h1v1h-1z"/><path fill="#3c4146" d="M72 1h1v1h-1z"/><path fill="#1e2828" d="M-1 2h1v1h-1zM67 14h1v1h-1z"/><path fill="#233737" d="M0 2h1v1h-1zM0 12h1v1h-1zM56 14h1v1h-1zM44 15h1v1h-1z"/><path fill="#375a41" d="M1 2h1v1h-1zM32 15h1v1h-1z"/><path fill="#557869" d="M2 2h1v1h-1z"/><path fill="#1e4b37" d="M4 2h1v1h-1zM57 12h1v1h-1z"/><path fill="#233c28" d="M5 2h1v1h-1z"/><path fill="#2d1932" d="M6 2h1v1h-1z"/><path fill="#32414b" d="M7 2h1v1h-1zM61 2h1v1h-1zM13 16h1v1h-1z"/><path fill="#374155" d="M8 2h1v1h-1zM73 17h1v1h-1z"/><path fill="#192832" d="M9 2h1v1h-1z"/><path fill="#41505a" d="M10 2h1v1h-1zM21 20h1v1h-1z"/><path fill="#37505f" d="M11 2h1v1h-1z"/><path fill="#3c2d64" d="M12 2h1v1h-1z"/><path fill="#1e4632" d="M14 2h1v1h-1zM16 6h1v1h-1zM24 6h1v1h-1zM45 16h1v1h-1z"/><path fill="#1e323c" d="M15 2h1v1h-1zM28 20h1v1h-1z"/><path fill="#413c5f" d="M16 2h1v1h-1z"/><path fill="#326946" d="M17 2h1v1h-1zM11 8h1v1h-1z"/><path fill="#327d4b" d="M18 2h1v1h-1zM21 12h1v1h-1z"/><path fill="#235532" d="M20 2h1v1h-1zM68 20h1v1h-1z"/><path fill="#377837" d="M21 2h1v1h-1z"/><path fill="#32554b" d="M22 2h1v1h-1zM61 8h1v1h-1zM23 10h1v1h-1zM58 18h1v1h-1z"/><path fill="#2d3c41" d="M24 2h1v1h-1zM5 3h1v1h-1zM21 9h1v1h-1zM24 16h1v1h-1z"/><path fill="#2d5546" d="M25 2h1v1h-1zM39 14h1v1h-1z"/><path fill="#3c9650" d="M26 2h1v1h-1z"/><path fill="#2d3737" d="M28 2h1v1h-1zM35 7h1v1h-1zM11 19h1v1h-1zM23 20h1v1h-1z"/><path fill="#235032" d="M29 2h1v1h-1zM41 6h1v1h-1zM73 10h1v1h-1zM61 19h1v1h-1z"/><path fill="#3c694b" d="M30 2h1v1h-1z"/><path fill="#144123" d="M31 2h1v1h-1z"/><path fill="#41465a" d="M32 2h1v1h-1zM15 5h1v1h-1z"/><path fill="#322841" d="M34 2h1v1h-1zM0 11h1v1h-1z"/><path fill="#2d5f37" d="M35 2h1v1h-1zM10 5h1v1h-1z"/><path fill="#1e5a46" d="M38 2h1v1h-1z"/><path fill="#375555" d="M39 2h1v1h-1z"/><path fill="#322d50" d="M40 2h1v1h-1zM66 18h1v1h-1zM8 20h1v1h-1z"/><path fill="#195037" d="M41 2h1v1h-1z"/><path fill="#324b46" d="M42 2h1v1h-1zM10 12h1v1h-1zM14 20h1v1h-1z"/><path fill="#281e37" d="M43 2h1v1h-1zM73 11h1v1h-1zM59 20h1v1h-1z"/><path fill="#23372d" d="M44 2h1v1h-1zM30 10h1v1h-1zM11 12h1v1h-1zM64 15h1v1h-1z"/><path fill="#284141" d="M45 2h1v1h-1zM67 9h1v1h-1zM8 18h1v1h-1zM47 21h1v1h-1zM54 21h1v1h-1zM70 21h1v1h-1z"/><path fill="#374b50" d="M46 2h1v1h-1zM21 13h1v1h-1zM47 16h1v1h-1z"/><path fill="#326446" d="M48 2h1v1h-1zM22 16h1v1h-1zM72 17h1v1h-1z"/><path fill="#375055" d="M49 2h1v1h-1zM22 7h1v1h-1zM37 11h1v1h-1z"/><path fill="#143c0f" d="M50 2h1v1h-1z"/><path fill="#28693c" d="M51 2h1v1h-1z"/><path fill="#32503c" d="M52 2h1v1h-1zM13 4h1v1h-1z"/><path fill="#3c504b" d="M54 2h1v1h-1zM18 3h1v1h-1zM22 3h1v1h-1zM67 5h1v1h-1zM14 15h1v1h-1z"/><path fill="#32234b" d="M55 2h1v1h-1z"/><path fill="#467350" d="M57 2h1v1h-1z"/><path fill="#416e3c" d="M58 2h1v1h-1z"/><path fill="#325541" d="M59 2h1v1h-1zM58 20h1v1h-1z"/><path fill="#3c6446" d="M60 2h1v1h-1z"/><path fill="#3c6e3c" d="M62 2h1v1h-1z"/><path fill="#19501e" d="M63 2h1v1h-1z"/><path fill="#2d4150" d="M64 2h1v1h-1z"/><path fill="#0f1914" d="M65 2h1v1h-1z"/><path fill="#195f2d" d="M66 2h1v1h-1z"/><path fill="#233c37" d="M67 2h1v1h-1zM62 3h1v1h-1zM33 13h1v1h-1zM8 21h1v1h-1z"/><path fill="#321946" d="M68 2h1v1h-1z"/><path fill="#232d32" d="M69 2h1v1h-1z"/><path fill="#373c4b" d="M71 2h1v1h-1zM3 8h1v1h-1z"/><path fill="#2d283c" d="M72 2h1v1h-1z"/><path fill="#1e553c" d="M73 2h1v1h-1z"/><path fill="#328c5a" d="M74 2h1v1h-1z"/><path fill="#190f37" d="M-1 3h1v1h-1z"/><path fill="#285a41" d="M0 3h1v1h-1z"/><path fill="#23692d" d="M1 3h1v1h-1z"/><path fill="#1e5032" d="M2 3h1v1h-1z"/><path fill="#321e41" d="M3 3h1v1h-1z"/><path fill="#231e28" d="M4 3h1v1h-1z"/><path fill="#413264" d="M6 3h1v1h-1zM71 17h1v1h-1z"/><path fill="#3c3746" d="M8 3h1v1h-1zM40 12h1v1h-1zM22 14h1v1h-1z"/><path fill="#414b50" d="M9 3h1v1h-1zM72 14h1v1h-1z"/><path fill="#287350" d="M10 3h1v1h-1z"/><path fill="#052305" d="M11 3h1v1h-1z"/><path fill="#283c41" d="M12 3h1v1h-1zM46 6h1v1h-1zM0 18h1v1h-1z"/><path fill="#373c50" d="M13 3h1v1h-1zM43 11h1v1h-1zM13 18h1v1h-1z"/><path fill="#143228" d="M14 3h1v1h-1zM23 12h1v1h-1z"/><path fill="#194b1e" d="M15 3h1v1h-1z"/><path fill="#37414b" d="M16 3h1v1h-1zM52 12h1v1h-1z"/><path fill="#324b32" d="M17 3h1v1h-1z"/><path fill="#1e6941" d="M19 3h1v1h-1z"/><path fill="#145a32" d="M20 3h1v1h-1zM50 10h1v1h-1z"/><path fill="#322332" d="M21 3h1v1h-1z"/><path fill="#1e3732" d="M23 3h1v1h-1zM44 10h1v1h-1z"/><path fill="#325037" d="M25 3h1v1h-1zM56 5h1v1h-1z"/><path fill="#2d7d37" d="M26 3h1v1h-1z"/><path fill="#1e6932" d="M27 3h1v1h-1z"/><path fill="#416455" d="M28 3h1v1h-1z"/><path fill="#4b505f" d="M29 3h1v1h-1z"/><path fill="#1e3728" d="M30 3h1v1h-1zM34 9h1v1h-1zM74 14h1v1h-1zM20 15h1v1h-1zM34 19h1v1h-1z"/><path fill="#465f46" d="M31 3h1v1h-1z"/><path fill="#557d6e" d="M32 3h1v1h-1z"/><path fill="#466464" d="M33 3h1v1h-1z"/><path fill="#32644b" d="M35 3h1v1h-1zM47 5h1v1h-1zM71 11h1v1h-1zM60 20h1v1h-1z"/><path fill="#324b4b" d="M36 3h1v1h-1z"/><path fill="#41695a" d="M37 3h1v1h-1z"/><path fill="#374b4b" d="M38 3h1v1h-1zM51 9h1v1h-1zM50 12h1v1h-1z"/><path fill="#19322d" d="M39 3h1v1h-1z"/><path fill="#192332" d="M40 3h1v1h-1zM64 11h1v1h-1zM25 13h1v1h-1zM10 20h1v1h-1z"/><path fill="#1e001e" d="M41 3h1v1h-1z"/><path fill="#2d4655" d="M42 3h1v1h-1z"/><path fill="#1e5a2d" d="M43 3h1v1h-1zM45 17h1v1h-1z"/><path fill="#233232" d="M44 3h1v1h-1zM29 20h1v1h-1z"/><path fill="#2d5041" d="M46 3h1v1h-1zM7 8h1v1h-1zM67 16h1v1h-1zM32 21h1v1h-1z"/><path fill="#2d463c" d="M47 3h1v1h-1zM45 7h1v1h-1zM37 10h1v1h-1z"/><path fill="#322337" d="M48 3h1v1h-1zM63 15h1v1h-1z"/><path fill="#37503c" d="M49 3h1v1h-1zM5 9h1v1h-1z"/><path fill="#2d5a55" d="M50 3h1v1h-1z"/><path fill="#3c7d64" d="M51 3h1v1h-1z"/><path fill="#0a5a1e" d="M52 3h1v1h-1z"/><path fill="#234b37" d="M53 3h1v1h-1zM38 12h1v1h-1zM30 16h1v1h-1zM14 17h1v1h-1z"/><path fill="#282d2d" d="M54 3h1v1h-1zM65 15h1v1h-1zM25 20h1v1h-1z"/><path fill="#1e462d" d="M56 3h1v1h-1zM14 7h1v1h-1z"/><path fill="#285028" d="M57 3h1v1h-1zM31 21h1v1h-1z"/><path fill="#19413c" d="M60 3h1v1h-1zM31 5h1v1h-1z"/><path fill="#32462d" d="M61 3h1v1h-1z"/><path fill="#144b1e" d="M63 3h1v1h-1zM49 7h1v1h-1z"/><path fill="#3c5f41" d="M64 3h1v1h-1zM46 14h1v1h-1z"/><path fill="#376932" d="M65 3h1v1h-1z"/><path fill="#284632" d="M66 3h1v1h-1z"/><path fill="#3c5541" d="M68 3h1v1h-1z"/><path fill="#2d5037" d="M69 3h1v1h-1zM55 4h1v1h-1zM64 6h1v1h-1zM72 15h1v1h-1zM67 19h1v1h-1z"/><path fill="#144119" d="M70 3h1v1h-1zM49 9h1v1h-1z"/><path fill="#1e2823" d="M71 3h1v1h-1zM46 18h1v1h-1z"/><path fill="#1e641e" d="M73 3h1v1h-1z"/><path fill="#23642d" d="M-1 4h1v1h-1zM56 15h1v1h-1zM69 16h1v1h-1z"/><path fill="#2d3c50" d="M0 4h1v1h-1z"/><path fill="#1e4128" d="M2 4h1v1h-1zM71 4h1v1h-1zM66 9h1v1h-1z"/><path fill="#325532" d="M3 4h1v1h-1zM64 5h1v1h-1zM9 11h1v1h-1z"/><path fill="#416446" d="M4 4h1v1h-1z"/><path fill="#14322d" d="M5 4h1v1h-1z"/><path fill="#371e41" d="M6 4h1v1h-1zM34 16h1v1h-1z"/><path fill="#322d4b" d="M7 4h1v1h-1zM54 11h1v1h-1z"/><path fill="#4b4b5f" d="M8 4h1v1h-1z"/><path fill="#237337" d="M9 4h1v1h-1zM2 20h1v1h-1z"/><path fill="#370a37" d="M10 4h1v1h-1z"/><path fill="#143728" d="M11 4h1v1h-1zM65 12h1v1h-1z"/><path fill="#414150" d="M12 4h1v1h-1z"/><path fill="#323c23" d="M14 4h1v1h-1z"/><path fill="#2d413c" d="M15 4h1v1h-1zM24 13h1v1h-1zM8 16h1v1h-1zM2 21h1v1h-1z"/><path fill="#465a6e" d="M16 4h1v1h-1z"/><path fill="#376450" d="M17 4h1v1h-1zM17 12h1v1h-1z"/><path fill="#2d5550" d="M18 4h1v1h-1z"/><path fill="#193c28" d="M19 4h1v1h-1zM9 15h1v1h-1z"/><path fill="#2d553c" d="M22 4h1v1h-1zM40 10h1v1h-1zM73 13h1v1h-1zM3 15h1v1h-1z"/><path fill="#286441" d="M24 4h1v1h-1zM25 10h1v1h-1zM-1 11h1v1h-1z"/><path fill="#3c7337" d="M25 4h1v1h-1zM5 7h1v1h-1z"/><path fill="#416450" d="M26 4h1v1h-1z"/><path fill="#23322d" d="M27 4h1v1h-1zM50 7h1v1h-1zM62 14h1v1h-1zM40 19h1v1h-1z"/><path fill="#142d23" d="M28 4h1v1h-1zM32 18h1v1h-1z"/><path fill="#235f32" d="M29 4h1v1h-1zM18 15h1v1h-1z"/><path fill="#3c645a" d="M31 4h1v1h-1z"/><path fill="#285537" d="M32 4h1v1h-1zM27 17h1v1h-1z"/><path fill="#415564" d="M33 4h1v1h-1zM54 7h1v1h-1z"/><path fill="#504169" d="M34 4h1v1h-1z"/><path fill="#234b3c" d="M35 4h1v1h-1zM0 9h1v1h-1zM70 10h1v1h-1z"/><path fill="#418c4b" d="M36 4h1v1h-1z"/><path fill="#284b46" d="M37 4h1v1h-1zM59 7h1v1h-1z"/><path fill="#3c3250" d="M38 4h1v1h-1z"/><path fill="#144623" d="M39 4h1v1h-1z"/><path fill="#142319" d="M40 4h1v1h-1zM6 16h1v1h-1z"/><path fill="#325537" d="M41 4h1v1h-1zM10 18h1v1h-1zM31 19h1v1h-1z"/><path fill="#282837" d="M42 4h1v1h-1zM19 15h1v1h-1z"/><path fill="#232d28" d="M43 4h1v1h-1zM3 5h1v1h-1zM74 10h1v1h-1zM43 17h1v1h-1z"/><path fill="#143c23" d="M44 4h1v1h-1z"/><path fill="#2d5a3c" d="M45 4h1v1h-1zM68 9h1v1h-1zM9 20h1v1h-1z"/><path fill="#051e14" d="M46 4h1v1h-1z"/><path fill="#143c2d" d="M47 4h1v1h-1z"/><path fill="#376e4b" d="M48 4h1v1h-1zM-1 18h1v1h-1zM31 18h1v1h-1zM61 18h1v1h-1z"/><path fill="#233c14" d="M49 4h1v1h-1z"/><path fill="#3c8750" d="M50 4h1v1h-1z"/><path fill="#232d1e" d="M52 4h1v1h-1z"/><path fill="#0a2d1e" d="M53 4h1v1h-1z"/><path fill="#19190f" d="M54 4h1v1h-1z"/><path fill="#2d5032" d="M56 4h1v1h-1zM49 21h1v1h-1z"/><path fill="#41464b" d="M58 4h1v1h-1z"/><path fill="#372d3c" d="M59 4h1v1h-1zM28 17h1v1h-1z"/><path fill="#282d37" d="M60 4h1v1h-1z"/><path fill="#190f23" d="M62 4h1v1h-1z"/><path fill="#413c5a" d="M63 4h1v1h-1z"/><path fill="#23463c" d="M64 4h1v1h-1z"/><path fill="#2d6441" d="M65 4h1v1h-1zM10 8h1v1h-1zM42 10h1v1h-1z"/><path fill="#3c644b" d="M66 4h1v1h-1zM38 10h1v1h-1zM72 11h1v1h-1z"/><path fill="#374b37" d="M67 4h1v1h-1zM52 20h1v1h-1z"/><path fill="#235023" d="M69 4h1v1h-1zM27 7h1v1h-1z"/><path fill="#372d4b" d="M70 4h1v1h-1zM7 13h1v1h-1z"/><path fill="#286428" d="M72 4h1v1h-1z"/><path fill="#287328" d="M73 4h1v1h-1zM71 18h1v1h-1z"/><path fill="#2d3c46" d="M-1 5h1v1h-1zM14 9h1v1h-1z"/><path fill="#32192d" d="M1 5h1v1h-1z"/><path fill="#3c375f" d="M2 5h1v1h-1z"/><path fill="#237d3c" d="M4 5h1v1h-1z"/><path fill="#0a4619" d="M5 5h1v1h-1z"/><path fill="#191e46" d="M6 5h1v1h-1z"/><path fill="#1e3723" d="M7 5h1v1h-1zM58 12h1v1h-1z"/><path fill="#1e141e" d="M8 5h1v1h-1z"/><path fill="#3c5f46" d="M9 5h1v1h-1zM50 19h1v1h-1z"/><path fill="#28643c" d="M12 5h1v1h-1zM22 20h1v1h-1z"/><path fill="#235f23" d="M13 5h1v1h-1zM74 7h1v1h-1z"/><path fill="#322832" d="M14 5h1v1h-1zM13 7h1v1h-1zM67 20h1v1h-1z"/><path fill="#417d41" d="M16 5h1v1h-1z"/><path fill="#4b696e" d="M17 5h1v1h-1z"/><path fill="#3c465f" d="M18 5h1v1h-1zM21 14h1v1h-1z"/><path fill="#233c41" d="M19 5h1v1h-1zM64 21h1v1h-1z"/><path fill="#280a37" d="M20 5h1v1h-1z"/><path fill="#374b5f" d="M21 5h1v1h-1zM18 12h1v1h-1z"/><path fill="#2d5a50" d="M22 5h1v1h-1z"/><path fill="#142814" d="M23 5h1v1h-1z"/><path fill="#194b28" d="M25 5h1v1h-1zM4 18h1v1h-1z"/><path fill="#1e190f" d="M26 5h1v1h-1z"/><path fill="#1e2832" d="M27 5h1v1h-1zM27 8h1v1h-1zM29 16h1v1h-1z"/><path fill="#323c2d" d="M28 5h1v1h-1z"/><path fill="#05140a" d="M30 5h1v1h-1zM0 20h1v1h-1z"/><path fill="#323746" d="M32 5h1v1h-1zM67 7h1v1h-1zM39 16h1v1h-1zM4 20h1v1h-1z"/><path fill="#194b37" d="M33 5h1v1h-1z"/><path fill="#3c503c" d="M35 5h1v1h-1zM35 13h1v1h-1z"/><path fill="#326e41" d="M36 5h1v1h-1zM37 13h1v1h-1z"/><path fill="#235a32" d="M37 5h1v1h-1zM46 11h1v1h-1z"/><path fill="#0f3c19" d="M38 5h1v1h-1zM68 15h1v1h-1z"/><path fill="#324650" d="M39 5h1v1h-1zM55 17h1v1h-1zM39 19h1v1h-1z"/><path fill="#37694b" d="M40 5h1v1h-1z"/><path fill="#3c5f5a" d="M41 5h1v1h-1z"/><path fill="#373250" d="M42 5h1v1h-1z"/><path fill="#375037" d="M43 5h1v1h-1z"/><path fill="#1e282d" d="M44 5h1v1h-1z"/><path fill="#193719" d="M45 5h1v1h-1zM58 13h1v1h-1z"/><path fill="#23411e" d="M46 5h1v1h-1zM41 16h1v1h-1z"/><path fill="#143719" d="M48 5h1v1h-1z"/><path fill="#283c32" d="M49 5h1v1h-1zM28 15h1v1h-1z"/><path fill="#195a2d" d="M50 5h1v1h-1z"/><path fill="#234b41" d="M51 5h1v1h-1z"/><path fill="#05411e" d="M53 5h1v1h-1z"/><path fill="#32374b" d="M55 5h1v1h-1zM21 17h1v1h-1z"/><path fill="#2d5028" d="M57 5h1v1h-1zM53 18h1v1h-1z"/><path fill="#195528" d="M58 5h1v1h-1z"/><path fill="#3c2850" d="M59 5h1v1h-1zM12 15h1v1h-1zM16 19h1v1h-1z"/><path fill="#41645a" d="M60 5h1v1h-1z"/><path fill="#232837" d="M61 5h1v1h-1zM60 11h1v1h-1zM42 19h1v1h-1z"/><path fill="#1e1e28" d="M63 5h1v1h-1zM57 10h1v1h-1zM61 14h1v1h-1z"/><path fill="#3c6455" d="M65 5h1v1h-1zM65 13h1v1h-1z"/><path fill="#325546" d="M66 5h1v1h-1zM29 18h1v1h-1zM4 19h1v1h-1z"/><path fill="#28143c" d="M68 5h1v1h-1z"/><path fill="#283c3c" d="M69 5h1v1h-1zM47 11h1v1h-1zM40 17h1v1h-1zM56 18h1v1h-1z"/><path fill="#0a280a" d="M70 5h1v1h-1z"/><path fill="#282341" d="M71 5h1v1h-1zM33 9h1v1h-1z"/><path fill="#285a37" d="M72 5h1v1h-1zM28 11h1v1h-1zM52 14h1v1h-1z"/><path fill="#1e4123" d="M73 5h1v1h-1z"/><path fill="#2d4128" d="M74 5h1v1h-1zM0 8h1v1h-1z"/><path fill="#1e3232" d="M0 6h1v1h-1z"/><path fill="#19191e" d="M1 6h1v1h-1z"/><path fill="#372841" d="M2 6h1v1h-1zM25 14h1v1h-1zM40 21h1v1h-1z"/><path fill="#2d373c" d="M3 6h1v1h-1zM31 7h1v1h-1zM73 7h1v1h-1zM23 15h1v1h-1zM38 16h1v1h-1z"/><path fill="#233c3c" d="M4 6h1v1h-1zM6 12h1v1h-1z"/><path fill="#28554b" d="M5 6h1v1h-1z"/><path fill="#285037" d="M6 6h1v1h-1zM28 10h1v1h-1zM17 11h1v1h-1zM61 13h1v1h-1z"/><path fill="#144114" d="M8 6h1v1h-1zM66 14h1v1h-1z"/><path fill="#325a3c" d="M9 6h1v1h-1zM35 16h1v1h-1z"/><path fill="#1e4137" d="M10 6h1v1h-1zM20 8h1v1h-1z"/><path fill="#46465a" d="M11 6h1v1h-1z"/><path fill="#1e5a37" d="M12 6h1v1h-1zM67 21h1v1h-1z"/><path fill="#2d4b37" d="M13 6h1v1h-1zM0 7h1v1h-1zM59 11h1v1h-1zM65 20h1v1h-1z"/><path fill="#326450" d="M14 6h1v1h-1z"/><path fill="#1e4623" d="M15 6h1v1h-1zM69 8h1v1h-1zM68 10h1v1h-1z"/><path fill="#465f5f" d="M17 6h1v1h-1z"/><path fill="#28374b" d="M18 6h1v1h-1z"/><path fill="#19370f" d="M19 6h1v1h-1z"/><path fill="#466955" d="M20 6h1v1h-1z"/><path fill="#28284b" d="M21 6h1v1h-1z"/><path fill="#193732" d="M23 6h1v1h-1zM23 19h1v1h-1z"/><path fill="#195532" d="M25 6h1v1h-1z"/><path fill="#1e412d" d="M26 6h1v1h-1z"/><path fill="#1e550f" d="M27 6h1v1h-1z"/><path fill="#141e19" d="M28 6h1v1h-1z"/><path fill="#37413c" d="M29 6h1v1h-1z"/><path fill="#1e463c" d="M30 6h1v1h-1z"/><path fill="#282d50" d="M31 6h1v1h-1z"/><path fill="#504673" d="M32 6h1v1h-1z"/><path fill="#3c3755" d="M33 6h1v1h-1zM53 8h1v1h-1z"/><path fill="#3c414b" d="M34 6h1v1h-1z"/><path fill="#375541" d="M35 6h1v1h-1zM33 21h1v1h-1zM61 21h1v1h-1z"/><path fill="#282832" d="M36 6h1v1h-1zM39 13h1v1h-1z"/><path fill="#287841" d="M38 6h1v1h-1z"/><path fill="#37554b" d="M39 6h1v1h-1zM33 10h1v1h-1zM62 17h1v1h-1z"/><path fill="#326455" d="M40 6h1v1h-1zM12 13h1v1h-1z"/><path fill="#1e1e2d" d="M42 6h1v1h-1zM62 16h1v1h-1z"/><path fill="#372850" d="M43 6h1v1h-1z"/><path fill="#413c50" d="M44 6h1v1h-1zM41 7h1v1h-1zM43 21h1v1h-1z"/><path fill="#325f4b" d="M45 6h1v1h-1zM43 9h1v1h-1z"/><path fill="#235f1e" d="M47 6h1v1h-1z"/><path fill="#282d28" d="M49 6h1v1h-1zM71 14h1v1h-1zM46 19h1v1h-1z"/><path fill="#1e5f41" d="M51 6h1v1h-1z"/><path fill="#2d1e3c" d="M52 6h1v1h-1zM44 9h1v1h-1z"/><path fill="#053c0f" d="M53 6h1v1h-1z"/><path fill="#1e052d" d="M54 6h1v1h-1z"/><path fill="#2d2841" d="M56 6h1v1h-1z"/><path fill="#2d694b" d="M57 6h1v1h-1z"/><path fill="#280041" d="M58 6h1v1h-1z"/><path fill="#32193c" d="M59 6h1v1h-1z"/><path fill="#324b3c" d="M60 6h1v1h-1z"/><path fill="#14642d" d="M61 6h1v1h-1z"/><path fill="#1e4619" d="M62 6h1v1h-1z"/><path fill="#194623" d="M63 6h1v1h-1z"/><path fill="#0a230a" d="M65 6h1v1h-1z"/><path fill="#416e5a" d="M67 6h1v1h-1zM24 14h1v1h-1z"/><path fill="#1e4637" d="M69 6h1v1h-1zM20 11h1v1h-1zM31 12h1v1h-1zM27 16h1v1h-1z"/><path fill="#37504b" d="M70 6h1v1h-1zM70 12h1v1h-1zM1 15h1v1h-1z"/><path fill="#141437" d="M71 6h1v1h-1z"/><path fill="#1e6432" d="M72 6h1v1h-1z"/><path fill="#2d7846" d="M73 6h1v1h-1z"/><path fill="#232823" d="M74 6h1v1h-1z"/><path fill="#004619" d="M-1 7h1v1h-1z"/><path fill="#286941" d="M2 7h1v1h-1zM12 17h1v1h-1z"/><path fill="#46505a" d="M3 7h1v1h-1z"/><path fill="#234128" d="M4 7h1v1h-1zM43 15h1v1h-1zM52 19h1v1h-1z"/><path fill="#1e642d" d="M6 7h1v1h-1z"/><path fill="#28692d" d="M7 7h1v1h-1zM13 9h1v1h-1z"/><path fill="#141914" d="M8 7h1v1h-1z"/><path fill="#1e1428" d="M9 7h1v1h-1zM68 16h1v1h-1z"/><path fill="#287323" d="M10 7h1v1h-1z"/><path fill="#4b4b64" d="M11 7h1v1h-1z"/><path fill="#465f5a" d="M12 7h1v1h-1zM12 21h1v1h-1z"/><path fill="#3c3246" d="M15 7h1v1h-1z"/><path fill="#2d0f4b" d="M17 7h1v1h-1z"/><path fill="#1e283c" d="M19 7h1v1h-1z"/><path fill="#144b28" d="M20 7h1v1h-1z"/><path fill="#322350" d="M21 7h1v1h-1z"/><path fill="#283241" d="M23 7h1v1h-1zM22 8h1v1h-1zM2 16h1v1h-1zM29 17h1v1h-1z"/><path fill="#3c5f64" d="M24 7h1v1h-1z"/><path fill="#283c28" d="M28 7h1v1h-1zM63 7h1v1h-1zM56 17h1v1h-1z"/><path fill="#194b2d" d="M29 7h1v1h-1z"/><path fill="#193223" d="M30 7h1v1h-1z"/><path fill="#3c5555" d="M32 7h1v1h-1zM18 18h1v1h-1z"/><path fill="#285f3c" d="M33 7h1v1h-1zM-1 8h1v1h-1z"/><path fill="#377855" d="M34 7h1v1h-1z"/><path fill="#28412d" d="M36 7h1v1h-1z"/><path fill="#376955" d="M37 7h1v1h-1z"/><path fill="#37234b" d="M38 7h1v1h-1z"/><path fill="#322341" d="M39 7h1v1h-1zM1 12h1v1h-1z"/><path fill="#374b3c" d="M40 7h1v1h-1z"/><path fill="#327346" d="M42 7h1v1h-1z"/><path fill="#284b32" d="M43 7h1v1h-1zM32 9h1v1h-1zM58 11h1v1h-1zM14 12h1v1h-1z"/><path fill="#375f41" d="M44 7h1v1h-1zM5 18h1v1h-1zM6 20h1v1h-1z"/><path fill="#190023" d="M46 7h1v1h-1z"/><path fill="#3c192d" d="M47 7h1v1h-1z"/><path fill="#2d4b46" d="M48 7h1v1h-1zM60 13h1v1h-1z"/><path fill="#2d643c" d="M51 7h1v1h-1z"/><path fill="#3c2d4b" d="M52 7h1v1h-1z"/><path fill="#1e5f23" d="M53 7h1v1h-1zM26 12h1v1h-1z"/><path fill="#46325f" d="M55 7h1v1h-1z"/><path fill="#19232d" d="M56 7h1v1h-1zM73 21h1v1h-1z"/><path fill="#322d3c" d="M58 7h1v1h-1zM19 17h1v1h-1zM25 19h1v1h-1z"/><path fill="#413746" d="M60 7h1v1h-1z"/><path fill="#0a3219" d="M64 7h1v1h-1z"/><path fill="#0f4b0a" d="M65 7h1v1h-1z"/><path fill="#1e142d" d="M66 7h1v1h-1z"/><path fill="#1e3237" d="M68 7h1v1h-1zM49 19h1v1h-1z"/><path fill="#2d2846" d="M70 7h1v1h-1zM29 9h1v1h-1z"/><path fill="#196932" d="M71 7h1v1h-1zM17 15h1v1h-1z"/><path fill="#323237" d="M72 7h1v1h-1z"/><path fill="#283728" d="M1 8h1v1h-1zM12 19h1v1h-1z"/><path fill="#2d5523" d="M2 8h1v1h-1z"/><path fill="#286437" d="M5 8h1v1h-1zM28 8h1v1h-1zM56 8h1v1h-1z"/><path fill="#2d5a41" d="M6 8h1v1h-1zM42 8h1v1h-1zM8 9h1v1h-1zM5 14h1v1h-1z"/><path fill="#2d4646" d="M8 8h1v1h-1zM13 10h1v1h-1z"/><path fill="#2d4632" d="M12 8h1v1h-1z"/><path fill="#375546" d="M13 8h1v1h-1zM36 15h1v1h-1zM17 16h1v1h-1zM59 17h1v1h-1zM60 18h1v1h-1z"/><path fill="#377d50" d="M14 8h1v1h-1z"/><path fill="#32553c" d="M15 8h1v1h-1z"/><path fill="#372d55" d="M16 8h1v1h-1z"/><path fill="#195a28" d="M17 8h1v1h-1z"/><path fill="#00191e" d="M18 8h1v1h-1z"/><path fill="#140f32" d="M19 8h1v1h-1z"/><path fill="#192d2d" d="M21 8h1v1h-1zM60 8h1v1h-1z"/><path fill="#375a46" d="M24 8h1v1h-1zM24 19h1v1h-1z"/><path fill="#322d37" d="M25 8h1v1h-1zM22 18h1v1h-1z"/><path fill="#2d3246" d="M26 8h1v1h-1z"/><path fill="#413755" d="M29 8h1v1h-1z"/><path fill="#324632" d="M30 8h1v1h-1zM32 8h1v1h-1z"/><path fill="#416e55" d="M31 8h1v1h-1z"/><path fill="#285f41" d="M33 8h1v1h-1zM50 21h1v1h-1z"/><path fill="#285555" d="M34 8h1v1h-1z"/><path fill="#1e2d23" d="M35 8h1v1h-1z"/><path fill="#414141" d="M36 8h1v1h-1z"/><path fill="#3c4b46" d="M37 8h1v1h-1z"/><path fill="#415a5f" d="M38 8h1v1h-1zM68 17h1v1h-1z"/><path fill="#375046" d="M39 8h1v1h-1zM5 11h1v1h-1z"/><path fill="#326437" d="M41 8h1v1h-1z"/><path fill="#3c4150" d="M43 8h1v1h-1zM10 9h1v1h-1zM24 18h1v1h-1z"/><path fill="#32783c" d="M44 8h1v1h-1z"/><path fill="#23501e" d="M45 8h1v1h-1z"/><path fill="#232d41" d="M46 8h1v1h-1z"/><path fill="#143219" d="M47 8h1v1h-1z"/><path fill="#145a0f" d="M48 8h1v1h-1z"/><path fill="#0f4b19" d="M49 8h1v1h-1z"/><path fill="#191432" d="M50 8h1v1h-1zM19 9h1v1h-1z"/><path fill="#195a32" d="M51 8h1v1h-1zM27 18h1v1h-1z"/><path fill="#324646" d="M52 8h1v1h-1zM9 10h1v1h-1z"/><path fill="#373c46" d="M54 8h1v1h-1zM3 9h1v1h-1zM71 12h1v1h-1z"/><path fill="#414b5a" d="M58 8h1v1h-1z"/><path fill="#235537" d="M62 8h1v1h-1z"/><path fill="#142d1e" d="M63 8h1v1h-1z"/><path fill="#46555f" d="M67 8h1v1h-1z"/><path fill="#466469" d="M68 8h1v1h-1z"/><path fill="#3c5046" d="M70 8h1v1h-1z"/><path fill="#1e2837" d="M72 8h1v1h-1z"/><path fill="#2d8237" d="M73 8h1v1h-1z"/><path fill="#2d4141" d="M74 8h1v1h-1zM56 12h1v1h-1zM26 13h1v1h-1z"/><path fill="#41375a" d="M-1 9h1v1h-1zM25 16h1v1h-1z"/><path fill="#23502d" d="M1 9h1v1h-1z"/><path fill="#284b3c" d="M2 9h1v1h-1zM20 20h1v1h-1z"/><path fill="#411441" d="M4 9h1v1h-1z"/><path fill="#3c6e46" d="M6 9h1v1h-1z"/><path fill="#4b3c5f" d="M9 9h1v1h-1z"/><path fill="#234641" d="M11 9h1v1h-1zM53 12h1v1h-1zM12 14h1v1h-1z"/><path fill="#32284b" d="M15 9h1v1h-1zM52 21h1v1h-1z"/><path fill="#37053c" d="M16 9h1v1h-1z"/><path fill="#0f0f23" d="M18 9h1v1h-1z"/><path fill="#2d4b5f" d="M20 9h1v1h-1z"/><path fill="#1e1941" d="M22 9h1v1h-1z"/><path fill="#1e7341" d="M23 9h1v1h-1z"/><path fill="#286446" d="M26 9h1v1h-1zM7 18h1v1h-1z"/><path fill="#23733c" d="M27 9h1v1h-1z"/><path fill="#232828" d="M28 9h1v1h-1z"/><path fill="#2d414b" d="M30 9h1v1h-1z"/><path fill="#0a5f14" d="M31 9h1v1h-1z"/><path fill="#32695a" d="M35 9h1v1h-1z"/><path fill="#3c3750" d="M36 9h1v1h-1zM15 11h1v1h-1zM11 15h1v1h-1z"/><path fill="#50325f" d="M38 9h1v1h-1z"/><path fill="#146423" d="M39 9h1v1h-1zM42 11h1v1h-1z"/><path fill="#236e37" d="M40 9h1v1h-1z"/><path fill="#0f0f19" d="M46 9h1v1h-1z"/><path fill="#3c4137" d="M47 9h1v1h-1z"/><path fill="#192d1e" d="M48 9h1v1h-1z"/><path fill="#1e3c4b" d="M50 9h1v1h-1z"/><path fill="#1e3c32" d="M52 9h1v1h-1z"/><path fill="#28373c" d="M53 9h1v1h-1z"/><path fill="#4b6e5a" d="M54 9h1v1h-1z"/><path fill="#3c5a50" d="M55 9h1v1h-1zM61 17h1v1h-1z"/><path fill="#415f5f" d="M56 9h1v1h-1zM23 14h1v1h-1z"/><path fill="#323246" d="M57 9h1v1h-1z"/><path fill="#4b1464" d="M58 9h1v1h-1z"/><path fill="#3c464b" d="M59 9h1v1h-1zM17 19h1v1h-1z"/><path fill="#197828" d="M60 9h1v1h-1z"/><path fill="#415f5a" d="M63 9h1v1h-1z"/><path fill="#1e4b2d" d="M64 9h1v1h-1zM49 11h1v1h-1zM37 21h1v1h-1z"/><path fill="#374141" d="M65 9h1v1h-1z"/><path fill="#324137" d="M69 9h1v1h-1zM26 11h1v1h-1z"/><path fill="#0f0f1e" d="M70 9h1v1h-1zM73 20h1v1h-1z"/><path fill="#235528" d="M71 9h1v1h-1zM56 16h1v1h-1zM59 19h1v1h-1z"/><path fill="#375a5f" d="M72 9h1v1h-1z"/><path fill="#1e5a28" d="M73 9h1v1h-1z"/><path fill="#376446" d="M74 9h1v1h-1zM41 15h1v1h-1z"/><path fill="#415569" d="M-1 10h1v1h-1z"/><path fill="#3c7850" d="M0 10h1v1h-1z"/><path fill="#195519" d="M1 10h1v1h-1z"/><path fill="#468c6e" d="M3 10h1v1h-1z"/><path fill="#415f46" d="M4 10h1v1h-1z"/><path fill="#465a50" d="M5 10h1v1h-1z"/><path fill="#3c6441" d="M6 10h1v1h-1zM15 12h1v1h-1z"/><path fill="#418250" d="M7 10h1v1h-1z"/><path fill="#414155" d="M8 10h1v1h-1z"/><path fill="#325a41" d="M10 10h1v1h-1zM26 10h1v1h-1zM40 14h1v1h-1z"/><path fill="#32372d" d="M11 10h1v1h-1z"/><path fill="#285a46" d="M12 10h1v1h-1zM27 20h1v1h-1z"/><path fill="#190f19" d="M16 10h1v1h-1z"/><path fill="#052d28" d="M18 10h1v1h-1z"/><path fill="#1e2850" d="M19 10h1v1h-1z"/><path fill="#23373c" d="M21 10h1v1h-1z"/><path fill="#144b2d" d="M22 10h1v1h-1z"/><path fill="#326e4b" d="M24 10h1v1h-1z"/><path fill="#4b695f" d="M27 10h1v1h-1z"/><path fill="#327846" d="M29 10h1v1h-1z"/><path fill="#286e2d" d="M31 10h1v1h-1z"/><path fill="#233741" d="M32 10h1v1h-1z"/><path fill="#323c50" d="M34 10h1v1h-1z"/><path fill="#557d82" d="M35 10h1v1h-1z"/><path fill="#3c5a4b" d="M36 10h1v1h-1zM45 13h1v1h-1zM54 15h1v1h-1z"/><path fill="#1e5a3c" d="M41 10h1v1h-1z"/><path fill="#372350" d="M43 10h1v1h-1z"/><path fill="#1e2328" d="M45 10h1v1h-1zM45 14h1v1h-1z"/><path fill="#283746" d="M46 10h1v1h-1z"/><path fill="#282328" d="M47 10h1v1h-1zM8 11h1v1h-1z"/><path fill="#284137" d="M49 10h1v1h-1zM47 19h1v1h-1z"/><path fill="#323c46" d="M51 10h1v1h-1zM31 16h1v1h-1zM35 17h1v1h-1z"/><path fill="#232846" d="M52 10h1v1h-1z"/><path fill="#41735f" d="M53 10h1v1h-1z"/><path fill="#234623" d="M54 10h1v1h-1zM63 20h1v1h-1z"/><path fill="#191e1e" d="M55 10h1v1h-1z"/><path fill="#286e32" d="M58 10h1v1h-1z"/><path fill="#327850" d="M59 10h1v1h-1z"/><path fill="#23283c" d="M60 10h1v1h-1z"/><path fill="#287346" d="M61 10h1v1h-1zM15 16h1v1h-1z"/><path fill="#37784b" d="M62 10h1v1h-1z"/><path fill="#37464b" d="M63 10h1v1h-1zM40 16h1v1h-1zM7 21h1v1h-1z"/><path fill="#0a5f23" d="M65 10h1v1h-1z"/><path fill="#233732" d="M66 10h1v1h-1zM25 11h1v1h-1zM46 16h1v1h-1z"/><path fill="#142323" d="M69 10h1v1h-1z"/><path fill="#19552d" d="M72 10h1v1h-1z"/><path fill="#2d5a4b" d="M1 11h1v1h-1zM13 15h1v1h-1zM49 16h1v1h-1zM35 21h1v1h-1z"/><path fill="#323c37" d="M2 11h1v1h-1zM54 19h1v1h-1z"/><path fill="#4b5a64" d="M3 11h1v1h-1zM20 13h1v1h-1z"/><path fill="#4b5555" d="M4 11h1v1h-1z"/><path fill="#4b3264" d="M6 11h1v1h-1z"/><path fill="#370537" d="M7 11h1v1h-1z"/><path fill="#325a37" d="M10 11h1v1h-1z"/><path fill="#282823" d="M12 11h1v1h-1zM10 15h1v1h-1z"/><path fill="#19142d" d="M16 11h1v1h-1z"/><path fill="#2d5a5f" d="M18 11h1v1h-1z"/><path fill="#235041" d="M19 11h1v1h-1zM30 12h1v1h-1z"/><path fill="#325a55" d="M21 11h1v1h-1zM59 21h1v1h-1z"/><path fill="#465569" d="M22 11h1v1h-1z"/><path fill="#282d3c" d="M23 11h1v1h-1zM27 15h1v1h-1zM38 19h1v1h-1z"/><path fill="#0f411e" d="M24 11h1v1h-1z"/><path fill="#327350" d="M27 11h1v1h-1z"/><path fill="#32733c" d="M29 11h1v1h-1zM30 18h1v1h-1z"/><path fill="#377355" d="M30 11h1v1h-1zM22 17h1v1h-1z"/><path fill="#2d4b5a" d="M31 11h1v1h-1z"/><path fill="#3c324b" d="M32 11h1v1h-1z"/><path fill="#46415f" d="M33 11h1v1h-1z"/><path fill="#466e64" d="M34 11h1v1h-1z"/><path fill="#28463c" d="M36 11h1v1h-1z"/><path fill="#236e41" d="M38 11h1v1h-1z"/><path fill="#3c7841" d="M40 11h1v1h-1zM41 17h1v1h-1z"/><path fill="#374b46" d="M41 11h1v1h-1zM58 19h1v1h-1z"/><path fill="#142328" d="M44 11h1v1h-1z"/><path fill="#2d503c" d="M45 11h1v1h-1zM10 19h1v1h-1zM40 20h1v1h-1z"/><path fill="#236932" d="M48 11h1v1h-1zM52 16h1v1h-1z"/><path fill="#375f4b" d="M50 11h1v1h-1z"/><path fill="#3c4646" d="M52 11h1v1h-1zM36 18h1v1h-1zM50 20h1v1h-1z"/><path fill="#3c323c" d="M53 11h1v1h-1z"/><path fill="#321441" d="M55 11h1v1h-1z"/><path fill="#50736e" d="M56 11h1v1h-1z"/><path fill="#0f410f" d="M61 11h1v1h-1z"/><path fill="#3c2d41" d="M62 11h1v1h-1z"/><path fill="#193c2d" d="M63 11h1v1h-1z"/><path fill="#233728" d="M65 11h1v1h-1zM30 14h1v1h-1zM38 20h1v1h-1z"/><path fill="#143223" d="M66 11h1v1h-1z"/><path fill="#280f2d" d="M68 11h1v1h-1z"/><path fill="#281e3c" d="M69 11h1v1h-1zM5 20h1v1h-1z"/><path fill="#145519" d="M70 11h1v1h-1z"/><path fill="#280f37" d="M74 11h1v1h-1z"/><path fill="#373237" d="M-1 12h1v1h-1z"/><path fill="#3c465a" d="M3 12h1v1h-1z"/><path fill="#193214" d="M4 12h1v1h-1z"/><path fill="#463255" d="M5 12h1v1h-1z"/><path fill="#3c9150" d="M9 12h1v1h-1z"/><path fill="#3c284b" d="M12 12h1v1h-1z"/><path fill="#414b46" d="M13 12h1v1h-1z"/><path fill="#323c3c" d="M16 12h1v1h-1zM11 18h1v1h-1z"/><path fill="#1e1437" d="M19 12h1v1h-1z"/><path fill="#140028" d="M20 12h1v1h-1z"/><path fill="#235a3c" d="M22 12h1v1h-1zM9 17h1v1h-1z"/><path fill="#2d142d" d="M24 12h1v1h-1z"/><path fill="#142314" d="M25 12h1v1h-1z"/><path fill="#140019" d="M27 12h1v1h-1z"/><path fill="#1e5019" d="M28 12h1v1h-1z"/><path fill="#287332" d="M29 12h1v1h-1z"/><path fill="#3c9b41" d="M33 12h1v1h-1z"/><path fill="#0a1e1e" d="M34 12h1v1h-1z"/><path fill="#14231e" d="M35 12h1v1h-1z"/><path fill="#376946" d="M39 12h1v1h-1z"/><path fill="#373c3c" d="M41 12h1v1h-1z"/><path fill="#3c6464" d="M42 12h1v1h-1z"/><path fill="#2d5541" d="M43 12h1v1h-1z"/><path fill="#0a4628" d="M44 12h1v1h-1z"/><path fill="#1e3228" d="M45 12h1v1h-1z"/><path fill="#324132" d="M46 12h1v1h-1zM70 16h1v1h-1z"/><path fill="#283723" d="M47 12h1v1h-1z"/><path fill="#231937" d="M51 12h1v1h-1z"/><path fill="#1e372d" d="M55 12h1v1h-1zM20 16h1v1h-1z"/><path fill="#233223" d="M59 12h1v1h-1zM14 13h1v1h-1zM55 21h1v1h-1z"/><path fill="#1e370f" d="M60 12h1v1h-1z"/><path fill="#1e4132" d="M61 12h1v1h-1zM19 13h1v1h-1zM55 18h1v1h-1z"/><path fill="#0a3714" d="M62 12h1v1h-1z"/><path fill="#32004b" d="M63 12h1v1h-1z"/><path fill="#2d5f3c" d="M66 12h1v1h-1zM32 19h1v1h-1z"/><path fill="#0f3719" d="M67 12h1v1h-1z"/><path fill="#413250" d="M68 12h1v1h-1z"/><path fill="#003714" d="M69 12h1v1h-1z"/><path fill="#321941" d="M72 12h1v1h-1z"/><path fill="#146e14" d="M73 12h1v1h-1z"/><path fill="#3c3237" d="M74 12h1v1h-1z"/><path fill="#2d783c" d="M0 13h1v1h-1z"/><path fill="#23503c" d="M3 13h1v1h-1zM3 14h1v1h-1zM74 17h1v1h-1z"/><path fill="#1e692d" d="M4 13h1v1h-1z"/><path fill="#0f5023" d="M5 13h1v1h-1z"/><path fill="#3c915f" d="M6 13h1v1h-1z"/><path fill="#232d23" d="M8 13h1v1h-1z"/><path fill="#1e231e" d="M9 13h1v1h-1z"/><path fill="#463c64" d="M10 13h1v1h-1z"/><path fill="#46505f" d="M11 13h1v1h-1z"/><path fill="#192837" d="M13 13h1v1h-1z"/><path fill="#285a2d" d="M16 13h1v1h-1zM-1 19h1v1h-1z"/><path fill="#3c825f" d="M17 13h1v1h-1z"/><path fill="#1e7337" d="M18 13h1v1h-1z"/><path fill="#37375f" d="M22 13h1v1h-1z"/><path fill="#322855" d="M23 13h1v1h-1z"/><path fill="#323250" d="M27 13h1v1h-1z"/><path fill="#0a5a19" d="M28 13h1v1h-1z"/><path fill="#1e5028" d="M29 13h1v1h-1zM15 14h1v1h-1z"/><path fill="#0a5019" d="M30 13h1v1h-1z"/><path fill="#1e373c" d="M31 13h1v1h-1z"/><path fill="#373755" d="M32 13h1v1h-1zM34 13h1v1h-1z"/><path fill="#2d6437" d="M38 13h1v1h-1z"/><path fill="#28372d" d="M41 13h1v1h-1zM15 17h1v1h-1z"/><path fill="#143723" d="M42 13h1v1h-1zM5 21h1v1h-1zM74 21h1v1h-1z"/><path fill="#23321e" d="M44 13h1v1h-1z"/><path fill="#465f55" d="M46 13h1v1h-1z"/><path fill="#373c41" d="M47 13h1v1h-1z"/><path fill="#1e1932" d="M48 13h1v1h-1z"/><path fill="#14460f" d="M49 13h1v1h-1z"/><path fill="#0f461e" d="M50 13h1v1h-1z"/><path fill="#234646" d="M51 13h1v1h-1z"/><path fill="#1e3c1e" d="M52 13h1v1h-1z"/><path fill="#3c4155" d="M53 13h1v1h-1z"/><path fill="#284b37" d="M55 13h1v1h-1zM58 17h1v1h-1z"/><path fill="#0f3728" d="M56 13h1v1h-1z"/><path fill="#1e5023" d="M57 13h1v1h-1z"/><path fill="#1e3c14" d="M59 13h1v1h-1z"/><path fill="#1e3737" d="M62 13h1v1h-1z"/><path fill="#280a28" d="M63 13h1v1h-1z"/><path fill="#0f2823" d="M64 13h1v1h-1z"/><path fill="#0f5f23" d="M66 13h1v1h-1z"/><path fill="#1e502d" d="M67 13h1v1h-1zM29 15h1v1h-1z"/><path fill="#145f23" d="M68 13h1v1h-1z"/><path fill="#2d6946" d="M70 13h1v1h-1zM23 18h1v1h-1z"/><path fill="#412364" d="M72 13h1v1h-1z"/><path fill="#1e3c37" d="M74 13h1v1h-1z"/><path fill="#234619" d="M-1 14h1v1h-1z"/><path fill="#3c6e50" d="M0 14h1v1h-1z"/><path fill="#2d5f41" d="M1 14h1v1h-1z"/><path fill="#235514" d="M4 14h1v1h-1z"/><path fill="#1e461e" d="M7 14h1v1h-1z"/><path fill="#0a0014" d="M8 14h1v1h-1z"/><path fill="#373750" d="M11 14h1v1h-1z"/><path fill="#142d28" d="M13 14h1v1h-1z"/><path fill="#375028" d="M14 14h1v1h-1z"/><path fill="#376e50" d="M16 14h1v1h-1z"/><path fill="#415041" d="M17 14h1v1h-1z"/><path fill="#231e37" d="M19 14h1v1h-1zM53 16h1v1h-1zM45 21h1v1h-1z"/><path fill="#2d3c5a" d="M20 14h1v1h-1z"/><path fill="#0f281e" d="M27 14h1v1h-1z"/><path fill="#371450" d="M28 14h1v1h-1z"/><path fill="#32734b" d="M31 14h1v1h-1z"/><path fill="#467d5a" d="M35 14h1v1h-1z"/><path fill="#234b32" d="M36 14h1v1h-1z"/><path fill="#235a41" d="M37 14h1v1h-1z"/><path fill="#0f4628" d="M38 14h1v1h-1z"/><path fill="#2d2d41" d="M42 14h1v1h-1z"/><path fill="#05051e" d="M43 14h1v1h-1z"/><path fill="#1e002d" d="M44 14h1v1h-1z"/><path fill="#375a3c" d="M47 14h1v1h-1zM6 15h1v1h-1z"/><path fill="#23323c" d="M48 14h1v1h-1zM48 21h1v1h-1z"/><path fill="#19281e" d="M50 14h1v1h-1zM51 20h1v1h-1z"/><path fill="#2d3237" d="M51 14h1v1h-1z"/><path fill="#505050" d="M53 14h1v1h-1z"/><path fill="#19551e" d="M54 14h1v1h-1zM18 21h1v1h-1z"/><path fill="#0f2323" d="M57 14h1v1h-1z"/><path fill="#1e2d28" d="M59 14h1v1h-1zM52 15h1v1h-1z"/><path fill="#051e00" d="M60 14h1v1h-1z"/><path fill="#2d7d4b" d="M63 14h1v1h-1z"/><path fill="#28234b" d="M64 14h1v1h-1zM33 16h1v1h-1z"/><path fill="#413c55" d="M65 14h1v1h-1z"/><path fill="#281428" d="M68 14h1v1h-1z"/><path fill="#0f1928" d="M69 14h1v1h-1z"/><path fill="#2d6432" d="M70 14h1v1h-1z"/><path fill="#192814" d="M73 14h1v1h-1z"/><path fill="#325032" d="M-1 15h1v1h-1zM3 17h1v1h-1z"/><path fill="#375f32" d="M0 15h1v1h-1z"/><path fill="#28232d" d="M2 15h1v1h-1z"/><path fill="#192823" d="M4 15h1v1h-1z"/><path fill="#2d5a32" d="M5 15h1v1h-1z"/><path fill="#141928" d="M7 15h1v1h-1z"/><path fill="#0f1414" d="M8 15h1v1h-1z"/><path fill="#282d32" d="M15 15h1v1h-1z"/><path fill="#417346" d="M16 15h1v1h-1z"/><path fill="#234123" d="M21 15h1v1h-1z"/><path fill="#14552d" d="M22 15h1v1h-1z"/><path fill="#2d0a50" d="M24 15h1v1h-1z"/><path fill="#2d7332" d="M26 15h1v1h-1z"/><path fill="#32325f" d="M30 15h1v1h-1z"/><path fill="#3c3c5a" d="M31 15h1v1h-1z"/><path fill="#191937" d="M35 15h1v1h-1z"/><path fill="#236441" d="M37 15h1v1h-1zM53 20h1v1h-1z"/><path fill="#4b5550" d="M39 15h1v1h-1z"/><path fill="#2d3746" d="M40 15h1v1h-1zM34 18h1v1h-1z"/><path fill="#145f19" d="M42 15h1v1h-1zM24 20h1v1h-1z"/><path fill="#19320a" d="M45 15h1v1h-1z"/><path fill="#506464" d="M46 15h1v1h-1z"/><path fill="#3c415a" d="M48 15h1v1h-1z"/><path fill="#190f32" d="M51 15h1v1h-1z"/><path fill="#0f4b23" d="M53 15h1v1h-1z"/><path fill="#376441" d="M57 15h1v1h-1z"/><path fill="#0f5a14" d="M58 15h1v1h-1z"/><path fill="#19371e" d="M60 15h1v1h-1z"/><path fill="#0a1e23" d="M61 15h1v1h-1z"/><path fill="#41785a" d="M66 15h1v1h-1z"/><path fill="#415055" d="M67 15h1v1h-1z"/><path fill="#3c7d46" d="M70 15h1v1h-1z"/><path fill="#282841" d="M73 15h1v1h-1z"/><path fill="#323741" d="M74 15h1v1h-1zM67 18h1v1h-1z"/><path fill="#373746" d="M-1 16h1v1h-1zM59 16h1v1h-1z"/><path fill="#466e50" d="M0 16h1v1h-1z"/><path fill="#281441" d="M1 16h1v1h-1z"/><path fill="#325f5a" d="M3 16h1v1h-1z"/><path fill="#193c23" d="M4 16h1v1h-1zM42 18h1v1h-1z"/><path fill="#28002d" d="M7 16h1v1h-1z"/><path fill="#19373c" d="M9 16h1v1h-1z"/><path fill="#280537" d="M11 16h1v1h-1z"/><path fill="#326e46" d="M14 16h1v1h-1z"/><path fill="#324b55" d="M16 16h1v1h-1z"/><path fill="#0f5514" d="M19 16h1v1h-1z"/><path fill="#325f55" d="M21 16h1v1h-1z"/><path fill="#32415a" d="M23 16h1v1h-1z"/><path fill="#3c1e50" d="M26 16h1v1h-1z"/><path fill="#375f37" d="M28 16h1v1h-1z"/><path fill="#466e37" d="M32 16h1v1h-1z"/><path fill="#0a0a19" d="M42 16h1v1h-1z"/><path fill="#003c19" d="M43 16h1v1h-1z"/><path fill="#190a19" d="M44 16h1v1h-1z"/><path fill="#0f140f" d="M48 16h1v1h-1z"/><path fill="#1e5528" d="M50 16h1v1h-1z"/><path fill="#14411e" d="M51 16h1v1h-1z"/><path fill="#410a41" d="M54 16h1v1h-1z"/><path fill="#32643c" d="M57 16h1v1h-1z"/><path fill="#41195a" d="M58 16h1v1h-1z"/><path fill="#235a14" d="M60 16h1v1h-1z"/><path fill="#281923" d="M61 16h1v1h-1z"/><path fill="#37284b" d="M63 16h1v1h-1zM60 21h1v1h-1z"/><path fill="#46555a" d="M64 16h1v1h-1z"/><path fill="#14281e" d="M65 16h1v1h-1z"/><path fill="#3c6450" d="M66 16h1v1h-1z"/><path fill="#1e6e41" d="M72 16h1v1h-1z"/><path fill="#37374b" d="M73 16h1v1h-1z"/><path fill="#2d2832" d="M74 16h1v1h-1zM69 19h1v1h-1z"/><path fill="#3c5a55" d="M-1 17h1v1h-1z"/><path fill="#412d55" d="M1 17h1v1h-1z"/><path fill="#1e1e1e" d="M2 17h1v1h-1z"/><path fill="#1e5a4b" d="M4 17h1v1h-1z"/><path fill="#144b0f" d="M6 17h1v1h-1z"/><path fill="#2d6941" d="M7 17h1v1h-1z"/><path fill="#145f14" d="M8 17h1v1h-1z"/><path fill="#37645a" d="M10 17h1v1h-1z"/><path fill="#41284b" d="M11 17h1v1h-1z"/><path fill="#2d233c" d="M16 17h1v1h-1z"/><path fill="#1e552d" d="M18 17h1v1h-1z"/><path fill="#372346" d="M20 17h1v1h-1z"/><path fill="#375041" d="M23 17h1v1h-1zM14 21h1v1h-1z"/><path fill="#416469" d="M25 17h1v1h-1z"/><path fill="#4b465f" d="M26 17h1v1h-1zM15 19h1v1h-1z"/><path fill="#3c5f4b" d="M31 17h1v1h-1z"/><path fill="#28321e" d="M33 17h1v1h-1z"/><path fill="#3c4650" d="M34 17h1v1h-1zM12 20h1v1h-1z"/><path fill="#2d5f46" d="M36 17h1v1h-1z"/><path fill="#3c6e5f" d="M37 17h1v1h-1z"/><path fill="#144128" d="M39 17h1v1h-1z"/><path fill="#2d5023" d="M42 17h1v1h-1z"/><path fill="#327841" d="M44 17h1v1h-1z"/><path fill="#230a37" d="M47 17h1v1h-1z"/><path fill="#001e00" d="M50 17h1v1h-1z"/><path fill="#195028" d="M51 17h1v1h-1z"/><path fill="#2d3c32" d="M53 17h1v1h-1z"/><path fill="#195537" d="M54 17h1v1h-1z"/><path fill="#321446" d="M57 17h1v1h-1zM23 21h1v1h-1z"/><path fill="#1e7d3c" d="M60 17h1v1h-1z"/><path fill="#371e4b" d="M64 17h1v1h-1z"/><path fill="#2d003c" d="M69 17h1v1h-1z"/><path fill="#191919" d="M1 18h1v1h-1z"/><path fill="#0f2d28" d="M3 18h1v1h-1z"/><path fill="#1e5a23" d="M9 18h1v1h-1z"/><path fill="#1e281e" d="M12 18h1v1h-1z"/><path fill="#194b23" d="M14 18h1v1h-1zM30 21h1v1h-1z"/><path fill="#41694b" d="M16 18h1v1h-1zM17 20h1v1h-1z"/><path fill="#376950" d="M19 18h1v1h-1z"/><path fill="#1e4b32" d="M21 18h1v1h-1zM46 21h1v1h-1z"/><path fill="#3c4b55" d="M25 18h1v1h-1z"/><path fill="#2d1e32" d="M26 18h1v1h-1z"/><path fill="#191923" d="M28 18h1v1h-1z"/><path fill="#2d2d3c" d="M33 18h1v1h-1z"/><path fill="#37693c" d="M35 18h1v1h-1z"/><path fill="#374655" d="M37 18h1v1h-1z"/><path fill="#054600" d="M38 18h1v1h-1z"/><path fill="#0a4123" d="M39 18h1v1h-1z"/><path fill="#145032" d="M40 18h1v1h-1z"/><path fill="#324637" d="M43 18h1v1h-1zM55 19h1v1h-1z"/><path fill="#462350" d="M44 18h1v1h-1z"/><path fill="#192328" d="M47 18h1v1h-1z"/><path fill="#2d4137" d="M51 18h1v1h-1zM3 21h1v1h-1z"/><path fill="#285a23" d="M52 18h1v1h-1z"/><path fill="#194b32" d="M57 18h1v1h-1z"/><path fill="#193723" d="M62 18h1v1h-1z"/><path fill="#236428" d="M63 18h1v1h-1z"/><path fill="#3c3c46" d="M65 18h1v1h-1z"/><path fill="#28462d" d="M69 18h1v1h-1zM74 18h1v1h-1zM61 20h1v1h-1z"/><path fill="#415550" d="M70 18h1v1h-1z"/><path fill="#505069" d="M72 18h1v1h-1z"/><path fill="#195f37" d="M73 18h1v1h-1z"/><path fill="#322d46" d="M0 19h1v1h-1z"/><path fill="#14501e" d="M1 19h1v1h-1z"/><path fill="#37824b" d="M2 19h1v1h-1z"/><path fill="#235541" d="M3 19h1v1h-1z"/><path fill="#41554b" d="M5 19h1v1h-1z"/><path fill="#0f2319" d="M7 19h1v1h-1z"/><path fill="#194114" d="M8 19h1v1h-1z"/><path fill="#375f5a" d="M13 19h1v1h-1z"/><path fill="#285a28" d="M14 19h1v1h-1z"/><path fill="#372341" d="M18 19h1v1h-1z"/><path fill="#2d234b" d="M19 19h1v1h-1z"/><path fill="#374b32" d="M20 19h1v1h-1z"/><path fill="#2d3c37" d="M21 19h1v1h-1zM66 21h1v1h-1z"/><path fill="#37463c" d="M26 19h1v1h-1z"/><path fill="#3c555f" d="M27 19h1v1h-1z"/><path fill="#2d5046" d="M28 19h1v1h-1z"/><path fill="#142d14" d="M29 19h1v1h-1z"/><path fill="#285a50" d="M33 19h1v1h-1z"/><path fill="#05370a" d="M35 19h1v1h-1z"/><path fill="#143c28" d="M36 19h1v1h-1zM42 21h1v1h-1z"/><path fill="#1e0a32" d="M37 19h1v1h-1z"/><path fill="#282846" d="M41 19h1v1h-1zM26 21h1v1h-1z"/><path fill="#0f3705" d="M44 19h1v1h-1z"/><path fill="#2d6932" d="M45 19h1v1h-1z"/><path fill="#230a32" d="M48 19h1v1h-1z"/><path fill="#234b19" d="M51 19h1v1h-1z"/><path fill="#0f371e" d="M56 19h1v1h-1z"/><path fill="#236928" d="M57 19h1v1h-1zM72 19h1v1h-1zM34 21h1v1h-1z"/><path fill="#2d3732" d="M60 19h1v1h-1z"/><path fill="#32283c" d="M62 19h1v1h-1z"/><path fill="#285f2d" d="M63 19h1v1h-1z"/><path fill="#2d4628" d="M64 19h1v1h-1z"/><path fill="#377d46" d="M65 19h1v1h-1z"/><path fill="#32232d" d="M66 19h1v1h-1z"/><path fill="#195a1e" d="M68 19h1v1h-1z"/><path fill="#37505a" d="M71 19h1v1h-1z"/><path fill="#19141e" d="M73 19h1v1h-1z"/><path fill="#05190a" d="M74 19h1v1h-1z"/><path fill="#0a0a0a" d="M-1 20h1v1h-1z"/><path fill="#416e46" d="M15 20h1v1h-1z"/><path fill="#37785a" d="M16 20h1v1h-1z"/><path fill="#2d6e41" d="M18 20h1v1h-1zM57 20h1v1h-1z"/><path fill="#2d7d41" d="M19 20h1v1h-1z"/><path fill="#3c413c" d="M26 20h1v1h-1zM47 20h1v1h-1zM16 21h1v1h-1z"/><path fill="#464b5f" d="M30 20h1v1h-1z"/><path fill="#237d23" d="M31 20h1v1h-1z"/><path fill="#1e3c23" d="M32 20h1v1h-1z"/><path fill="#465f64" d="M33 20h1v1h-1z"/><path fill="#372d50" d="M35 20h1v1h-1z"/><path fill="#324b37" d="M36 20h1v1h-1z"/><path fill="#1e5f2d" d="M37 20h1v1h-1z"/><path fill="#234628" d="M39 20h1v1h-1z"/><path fill="#231e23" d="M41 20h1v1h-1z"/><path fill="#1e0523" d="M42 20h1v1h-1z"/><path fill="#234146" d="M43 20h1v1h-1z"/><path fill="#4b735f" d="M44 20h1v1h-1z"/><path fill="#325046" d="M45 20h1v1h-1z"/><path fill="#374b55" d="M46 20h1v1h-1z"/><path fill="#197337" d="M48 20h1v1h-1z"/><path fill="#37372d" d="M49 20h1v1h-1z"/><path fill="#1e5a19" d="M54 20h1v1h-1z"/><path fill="#23464b" d="M55 20h1v1h-1z"/><path fill="#194132" d="M62 20h1v1h-1z"/><path fill="#28552d" d="M64 20h1v1h-1z"/><path fill="#373741" d="M66 20h1v1h-1z"/><path fill="#375a4b" d="M70 20h1v1h-1z"/><path fill="#32375a" d="M71 20h1v1h-1z"/><path fill="#3c0a50" d="M72 20h1v1h-1z"/><path fill="#195f14" d="M74 20h1v1h-1z"/><path fill="#14192d" d="M-1 21h1v1h-1z"/><path fill="#1e1e41" d="M0 21h1v1h-1z"/><path fill="#1e1928" d="M1 21h1v1h-1z"/><path fill="#50695f" d="M9 21h1v1h-1z"/><path fill="#37735f" d="M11 21h1v1h-1z"/><path fill="#418c3c" d="M15 21h1v1h-1z"/><path fill="#32194b" d="M20 21h1v1h-1z"/><path fill="#415050" d="M22 21h1v1h-1z"/><path fill="#191928" d="M24 21h1v1h-1z"/><path fill="#14780f" d="M25 21h1v1h-1z"/><path fill="#283c23" d="M27 21h1v1h-1z"/><path fill="#1e5537" d="M28 21h1v1h-1z"/><path fill="#375a5a" d="M29 21h1v1h-1z"/><path fill="#0f462d" d="M39 21h1v1h-1z"/><path fill="#28322d" d="M41 21h1v1h-1z"/><path fill="#3c5f50" d="M44 21h1v1h-1z"/><path fill="#289b46" d="M51 21h1v1h-1z"/><path fill="#324b50" d="M53 21h1v1h-1z"/><path fill="#192d23" d="M57 21h1v1h-1z"/><path fill="#193728" d="M58 21h1v1h-1z"/><path fill="#324128" d="M62 21h1v1h-1z"/><path fill="#191423" d="M63 21h1v1h-1z"/><path fill="#281946" d="M68 21h1v1h-1z"/><path fill="#284646" d="M69 21h1v1h-1z"/><path fill="#0a2814" d="M71 21h1v1h-1z"/></g></g><g clip-path="url(#cb)"><g filter="url(#bl)" shape-rendering="crispEdges"><path fill="#325f32" d="M-1 15h1v1h-1zM49 21h1v1h-1zM40 55h1v1h-1zM35 56h1v1h-1z"/><path fill="#376937" d="M0 15h1v1h-1zM28 16h1v1h-1zM58 28h1v1h-1z"/><path fill="#375f4b" d="M1 15h1v1h-1zM32 36h1v1h-1zM50 41h1v1h-1zM34 42h1v1h-1zM56 43h1v1h-1zM65 47h1v1h-1zM50 57h1v1h-1zM74 57h1v1h-1z"/><path fill="#282d2d" d="M2 15h1v1h-1z"/><path fill="#32643c" d="M3 15h1v1h-1zM35 16h1v1h-1zM5 41h1v1h-1zM41 42h1v1h-1zM19 60h1v1h-1zM57 65h1v1h-1zM73 68h1v1h-1z"/><path fill="#193723" d="M4 15h1v1h-1zM49 52h1v1h-1zM52 56h1v1h-1zM11 62h1v1h-1z"/><path fill="#2d6432" d="M5 15h1v1h-1zM71 59h1v1h-1zM66 66h1v1h-1z"/><path fill="#376441" d="M6 15h1v1h-1zM47 25h1v1h-1zM66 53h1v1h-1zM37 54h1v1h-1zM24 58h1v1h-1zM65 59h1v1h-1zM59 66h1v1h-1z"/><path fill="#142828" d="M7 15h1v1h-1zM9 34h1v1h-1z"/><path fill="#0f2319" d="M8 15h1v1h-1z"/><path fill="#194628" d="M9 15h1v1h-1zM4 16h1v1h-1zM62 18h1v1h-1zM14 34h1v1h-1zM53 36h1v1h-1zM21 53h1v1h-1zM-1 56h1v1h-1z"/><path fill="#283223" d="M10 15h1v1h-1z"/><path fill="#3c4150" d="M11 15h1v1h-1zM58 22h1v1h-1zM43 43h1v1h-1zM43 48h1v1h-1z"/><path fill="#3c3755" d="M12 15h1v1h-1zM15 44h1v1h-1z"/><path fill="#32694b" d="M13 15h1v1h-1zM47 27h1v1h-1zM53 41h1v1h-1zM56 42h1v1h-1zM38 45h1v1h-1z"/><path fill="#415a50" d="M14 15h1v1h-1zM8 35h1v1h-1zM43 61h1v1h-1z"/><path fill="#2d3732" d="M15 15h1v1h-1zM74 16h1v1h-1zM69 19h1v1h-1zM5 31h1v1h-1z"/><path fill="#417d46" d="M16 15h1v1h-1zM-1 59h1v1h-1z"/><path fill="#197337" d="M17 15h1v1h-1z"/><path fill="#236e32" d="M18 15h1v1h-1zM36 58h1v1h-1zM56 61h1v1h-1z"/><path fill="#283737" d="M19 15h1v1h-1zM43 39h1v1h-1zM14 41h1v1h-1zM27 60h1v1h-1zM23 64h1v1h-1z"/><path fill="#1e4128" d="M20 15h1v1h-1zM10 59h1v1h-1z"/><path fill="#285023" d="M21 15h1v1h-1zM57 51h1v1h-1zM61 57h1v1h-1zM67 64h1v1h-1z"/><path fill="#145f2d" d="M22 15h1v1h-1z"/><path fill="#2d463c" d="M23 15h1v1h-1zM38 16h1v1h-1zM11 19h1v1h-1zM48 21h1v1h-1zM9 26h1v1h-1zM49 27h1v1h-1zM13 29h1v1h-1zM22 37h1v1h-1zM52 39h1v1h-1zM52 48h1v1h-1zM53 50h1v1h-1zM22 60h1v1h-1zM74 62h1v1h-1z"/><path fill="#2d1450" d="M24 15h1v1h-1z"/><path fill="#285f41" d="M25 15h1v1h-1zM63 17h1v1h-1zM31 29h1v1h-1zM28 33h1v1h-1zM68 41h1v1h-1zM60 53h1v1h-1zM28 66h1v1h-1z"/><path fill="#2d8232" d="M26 15h1v1h-1z"/><path fill="#2d373c" d="M27 15h1v1h-1zM2 33h1v1h-1zM47 51h1v1h-1zM63 51h1v1h-1zM7 53h1v1h-1z"/><path fill="#284b32" d="M28 15h1v1h-1zM5 16h1v1h-1zM57 38h1v1h-1zM56 56h1v1h-1z"/><path fill="#1e5a2d" d="M29 15h1v1h-1zM4 18h1v1h-1zM6 50h1v1h-1zM8 61h1v1h-1zM28 62h1v1h-1z"/><path fill="#323c5f" d="M30 15h1v1h-1z"/><path fill="#41465a" d="M31 15h1v1h-1zM25 16h1v1h-1z"/><path fill="#376941" d="M32 15h1v1h-1zM6 20h1v1h-1zM41 23h1v1h-1zM58 27h1v1h-1zM66 27h1v1h-1zM44 37h1v1h-1zM62 65h1v1h-1z"/><path fill="#235f37" d="M33 15h1v1h-1zM10 38h1v1h-1zM64 42h1v1h-1zM18 62h1v1h-1z"/><path fill="#234b32" d="M34 15h1v1h-1zM11 25h1v1h-1zM36 38h1v1h-1zM54 39h1v1h-1zM19 52h1v1h-1zM43 52h1v1h-1zM42 54h1v1h-1z"/><path fill="#1e2837" d="M35 15h1v1h-1zM7 39h1v1h-1z"/><path fill="#376446" d="M36 15h1v1h-1zM17 16h1v1h-1zM18 23h1v1h-1zM33 35h1v1h-1zM41 35h1v1h-1zM51 35h1v1h-1zM11 37h1v1h-1zM60 40h1v1h-1zM64 61h1v1h-1zM17 67h1v1h-1z"/><path fill="#236e41" d="M37 15h1v1h-1zM53 20h1v1h-1z"/><path fill="#2d963c" d="M38 15h1v1h-1z"/><path fill="#4b6450" d="M39 15h1v1h-1z"/><path fill="#2d4646" d="M40 15h1v1h-1zM34 18h1v1h-1zM53 22h1v1h-1zM8 27h1v1h-1zM6 42h1v1h-1zM66 48h1v1h-1z"/><path fill="#377346" d="M41 15h1v1h-1zM72 17h1v1h-1zM19 25h1v1h-1zM53 27h1v1h-1zM22 64h1v1h-1z"/><path fill="#14691e" d="M42 15h1v1h-1z"/><path fill="#234b2d" d="M43 15h1v1h-1zM22 19h1v1h-1zM52 19h1v1h-1zM53 25h1v1h-1zM9 27h1v1h-1zM56 34h1v1h-1zM66 40h1v1h-1zM27 42h1v1h-1zM16 43h1v1h-1zM27 50h1v1h-1zM2 52h1v1h-1zM71 55h1v1h-1zM46 56h1v1h-1zM37 62h1v1h-1z"/><path fill="#234637" d="M44 15h1v1h-1zM12 16h1v1h-1zM37 38h1v1h-1zM-1 39h1v1h-1zM11 42h1v1h-1zM31 54h1v1h-1zM22 66h1v1h-1z"/><path fill="#193c0a" d="M45 15h1v1h-1z"/><path fill="#506e69" d="M46 15h1v1h-1z"/><path fill="#23372d" d="M47 15h1v1h-1zM62 15h1v1h-1zM46 34h1v1h-1zM38 64h1v1h-1z"/><path fill="#41505a" d="M48 15h1v1h-1zM24 67h1v1h-1z"/><path fill="#1e2d2d" d="M49 15h1v1h-1zM62 16h1v1h-1zM12 32h1v1h-1zM7 65h1v1h-1z"/><path fill="#2d3c32" d="M50 15h1v1h-1zM74 22h1v1h-1zM54 63h1v1h-1zM47 67h1v1h-1z"/><path fill="#1e1e32" d="M51 15h1v1h-1zM29 31h1v1h-1zM45 44h1v1h-1z"/><path fill="#233728" d="M52 15h1v1h-1zM17 32h1v1h-1zM30 39h1v1h-1zM40 40h1v1h-1zM12 49h1v1h-1zM18 57h1v1h-1z"/><path fill="#0f5523" d="M53 15h1v1h-1z"/><path fill="#3c644b" d="M54 15h1v1h-1zM71 33h1v1h-1zM23 42h1v1h-1zM30 57h1v1h-1z"/><path fill="#325a46" d="M55 15h1v1h-1zM14 30h1v1h-1zM14 33h1v1h-1zM6 34h1v1h-1zM53 44h1v1h-1zM-1 51h1v1h-1zM3 51h1v1h-1zM42 57h1v1h-1z"/><path fill="#28732d" d="M56 15h1v1h-1zM31 33h1v1h-1z"/><path fill="#377341" d="M57 15h1v1h-1zM5 54h1v1h-1zM1 62h1v1h-1z"/><path fill="#0f6414" d="M58 15h1v1h-1z"/><path fill="#193c1e" d="M59 15h1v1h-1zM49 17h1v1h-1zM1 20h1v1h-1zM22 22h1v1h-1zM19 29h1v1h-1zM30 29h1v1h-1zM38 52h1v1h-1zM55 63h1v1h-1z"/><path fill="#19461e" d="M60 15h1v1h-1zM60 41h1v1h-1zM61 42h1v1h-1z"/><path fill="#0f2823" d="M61 15h1v1h-1zM19 49h1v1h-1zM17 62h1v1h-1z"/><path fill="#322d37" d="M63 15h1v1h-1zM69 59h1v1h-1z"/><path fill="#23462d" d="M64 15h1v1h-1zM54 18h1v1h-1zM11 30h1v1h-1zM55 42h1v1h-1zM-1 47h1v1h-1zM24 53h1v1h-1zM62 56h1v1h-1zM30 65h1v1h-1z"/><path fill="#283c2d" d="M65 15h1v1h-1zM13 28h1v1h-1zM65 37h1v1h-1zM10 42h1v1h-1zM67 59h1v1h-1zM72 60h1v1h-1zM28 61h1v1h-1z"/><path fill="#41825a" d="M66 15h1v1h-1z"/><path fill="#415a55" d="M67 15h1v1h-1zM13 22h1v1h-1zM46 28h1v1h-1zM48 40h1v1h-1zM21 48h1v1h-1z"/><path fill="#0f461e" d="M68 15h1v1h-1zM16 59h1v1h-1z"/><path fill="#235032" d="M69 15h1v1h-1zM27 27h1v1h-1zM67 33h1v1h-1zM74 36h1v1h-1zM45 49h1v1h-1zM71 52h1v1h-1zM25 56h1v1h-1zM33 57h1v1h-1zM19 63h1v1h-1zM34 63h1v1h-1z"/><path fill="#3c8746" d="M70 15h1v1h-1zM65 19h1v1h-1z"/><path fill="#325a37" d="M71 15h1v1h-1zM23 56h1v1h-1zM28 64h1v1h-1z"/><path fill="#2d5f37" d="M72 15h1v1h-1zM67 19h1v1h-1zM14 42h1v1h-1zM62 61h1v1h-1zM56 64h1v1h-1z"/><path fill="#283241" d="M73 15h1v1h-1zM20 23h1v1h-1zM10 67h1v1h-1z"/><path fill="#324141" d="M74 15h1v1h-1zM72 21h1v1h-1zM64 33h1v1h-1zM11 39h1v1h-1zM8 49h1v1h-1zM70 52h1v1h-1zM59 62h1v1h-1zM19 66h1v1h-1z"/><path fill="#37464b" d="M-1 16h1v1h-1zM52 38h1v1h-1zM34 66h1v1h-1z"/><path fill="#467d50" d="M0 16h1v1h-1zM48 24h1v1h-1z"/><path fill="#281e46" d="M1 16h1v1h-1zM14 40h1v1h-1z"/><path fill="#283c41" d="M2 16h1v1h-1zM60 22h1v1h-1zM21 23h1v1h-1zM5 30h1v1h-1zM54 46h1v1h-1zM57 61h1v1h-1zM45 63h1v1h-1z"/><path fill="#32695a" d="M3 16h1v1h-1z"/><path fill="#142d19" d="M6 16h1v1h-1zM55 55h1v1h-1zM38 61h1v1h-1z"/><path fill="#28052d" d="M7 16h1v1h-1z"/><path fill="#2d4b41" d="M8 16h1v1h-1zM70 45h1v1h-1zM27 51h1v1h-1zM67 61h1v1h-1zM46 64h1v1h-1z"/><path fill="#19463c" d="M9 16h1v1h-1z"/><path fill="#375046" d="M10 16h1v1h-1zM49 34h1v1h-1zM18 40h1v1h-1zM34 61h1v1h-1zM74 65h1v1h-1z"/><path fill="#280f3c" d="M11 16h1v1h-1z"/><path fill="#32504b" d="M13 16h1v1h-1zM69 30h1v1h-1zM5 32h1v1h-1zM30 38h1v1h-1zM57 67h1v1h-1z"/><path fill="#327846" d="M14 16h1v1h-1zM25 27h1v1h-1zM8 33h1v1h-1zM22 48h1v1h-1zM37 52h1v1h-1zM45 68h1v1h-1z"/><path fill="#2d7d46" d="M15 16h1v1h-1z"/><path fill="#325555" d="M16 16h1v1h-1zM17 38h1v1h-1z"/><path fill="#323237" d="M18 16h1v1h-1zM8 42h1v1h-1z"/><path fill="#145f14" d="M19 16h1v1h-1z"/><path fill="#1e412d" d="M20 16h1v1h-1zM17 45h1v1h-1zM47 48h1v1h-1zM62 55h1v1h-1zM34 56h1v1h-1zM74 59h1v1h-1z"/><path fill="#326955" d="M21 16h1v1h-1zM3 35h1v1h-1zM61 62h1v1h-1z"/><path fill="#326e46" d="M22 16h1v1h-1zM59 33h1v1h-1zM69 39h1v1h-1zM21 55h1v1h-1z"/><path fill="#37505a" d="M23 16h1v1h-1zM58 42h1v1h-1zM16 48h1v1h-1z"/><path fill="#2d4641" d="M24 16h1v1h-1zM45 24h1v1h-1zM73 27h1v1h-1zM47 31h1v1h-1zM0 56h1v1h-1zM13 56h1v1h-1zM7 62h1v1h-1z"/><path fill="#3c2850" d="M26 16h1v1h-1zM64 17h1v1h-1z"/><path fill="#1e5537" d="M27 16h1v1h-1zM64 28h1v1h-1zM70 28h1v1h-1zM3 38h1v1h-1zM74 68h1v1h-1z"/><path fill="#1e3732" d="M29 16h1v1h-1z"/><path fill="#23553c" d="M30 16h1v1h-1zM66 39h1v1h-1zM29 53h1v1h-1zM27 58h1v1h-1z"/><path fill="#324b4b" d="M31 16h1v1h-1zM62 24h1v1h-1zM26 40h1v1h-1zM67 46h1v1h-1zM68 68h1v1h-1z"/><path fill="#467837" d="M32 16h1v1h-1z"/><path fill="#28324b" d="M33 16h1v1h-1zM74 32h1v1h-1z"/><path fill="#372846" d="M34 16h1v1h-1zM12 63h1v1h-1z"/><path fill="#287332" d="M36 16h1v1h-1z"/><path fill="#377846" d="M37 16h1v1h-1zM29 30h1v1h-1zM29 41h1v1h-1zM44 44h1v1h-1zM11 61h1v1h-1z"/><path fill="#324146" d="M39 16h1v1h-1zM6 18h1v1h-1zM47 24h1v1h-1zM70 25h1v1h-1zM62 26h1v1h-1zM61 53h1v1h-1z"/><path fill="#37554b" d="M40 16h1v1h-1zM55 24h1v1h-1zM36 34h1v1h-1zM46 35h1v1h-1zM33 43h1v1h-1zM47 43h1v1h-1z"/><path fill="#23501e" d="M41 16h1v1h-1z"/><path fill="#0f1919" d="M42 16h1v1h-1z"/><path fill="#004b1e" d="M43 16h1v1h-1z"/><path fill="#191919" d="M44 16h1v1h-1z"/><path fill="#1e5532" d="M45 16h1v1h-1zM21 18h1v1h-1zM13 34h1v1h-1zM33 40h1v1h-1zM19 51h1v1h-1z"/><path fill="#234132" d="M46 16h1v1h-1zM40 19h1v1h-1zM68 22h1v1h-1zM50 53h1v1h-1zM44 56h1v1h-1zM15 61h1v1h-1zM2 62h1v1h-1zM29 62h1v1h-1zM49 64h1v1h-1zM61 64h1v1h-1z"/><path fill="#3c5550" d="M47 16h1v1h-1zM34 17h1v1h-1zM45 28h1v1h-1zM66 30h1v1h-1zM43 47h1v1h-1zM30 60h1v1h-1z"/><path fill="#141e14" d="M48 16h1v1h-1z"/><path fill="#2d644b" d="M49 16h1v1h-1zM2 26h1v1h-1zM19 40h1v1h-1z"/><path fill="#1e5f28" d="M50 16h1v1h-1zM18 27h1v1h-1zM60 37h1v1h-1zM56 60h1v1h-1z"/><path fill="#14501e" d="M51 16h1v1h-1zM62 43h1v1h-1z"/><path fill="#237332" d="M52 16h1v1h-1zM12 35h1v1h-1zM54 37h1v1h-1zM16 51h1v1h-1zM46 63h1v1h-1zM10 68h1v1h-1z"/><path fill="#232d37" d="M53 16h1v1h-1zM38 43h1v1h-1zM52 47h1v1h-1zM70 50h1v1h-1zM25 66h1v1h-1z"/><path fill="#411946" d="M54 16h1v1h-1z"/><path fill="#375f50" d="M55 16h1v1h-1zM62 17h1v1h-1zM11 36h1v1h-1zM70 65h1v1h-1z"/><path fill="#23642d" d="M56 16h1v1h-1zM45 17h1v1h-1zM16 38h1v1h-1zM9 41h1v1h-1zM22 45h1v1h-1zM10 48h1v1h-1zM70 48h1v1h-1zM69 55h1v1h-1zM73 61h1v1h-1zM29 63h1v1h-1z"/><path fill="#326e41" d="M57 16h1v1h-1zM27 38h1v1h-1z"/><path fill="#41285a" d="M58 16h1v1h-1z"/><path fill="#374646" d="M59 16h1v1h-1zM3 33h1v1h-1zM28 40h1v1h-1zM48 51h1v1h-1zM32 65h1v1h-1zM46 67h1v1h-1z"/><path fill="#286419" d="M60 16h1v1h-1z"/><path fill="#282823" d="M61 16h1v1h-1z"/><path fill="#37324b" d="M63 16h1v1h-1zM60 21h1v1h-1zM48 65h1v1h-1z"/><path fill="#46645a" d="M64 16h1v1h-1zM72 40h1v1h-1z"/><path fill="#143223" d="M65 16h1v1h-1zM55 22h1v1h-1zM-1 44h1v1h-1z"/><path fill="#3c6e50" d="M66 16h1v1h-1zM44 21h1v1h-1zM72 39h1v1h-1zM38 51h1v1h-1zM18 55h1v1h-1zM32 55h1v1h-1zM67 68h1v1h-1z"/><path fill="#2d5a41" d="M67 16h1v1h-1zM67 23h1v1h-1zM25 37h1v1h-1z"/><path fill="#1e1e28" d="M68 16h1v1h-1zM18 48h1v1h-1zM11 56h1v1h-1z"/><path fill="#236e2d" d="M69 16h1v1h-1zM67 22h1v1h-1zM34 59h1v1h-1zM71 66h1v1h-1z"/><path fill="#325032" d="M70 16h1v1h-1z"/><path fill="#286437" d="M71 16h1v1h-1zM58 24h1v1h-1zM5 27h1v1h-1zM32 33h1v1h-1zM57 34h1v1h-1zM50 52h1v1h-1zM28 53h1v1h-1z"/><path fill="#1e7841" d="M72 16h1v1h-1z"/><path fill="#3c414b" d="M73 16h1v1h-1zM61 39h1v1h-1zM25 58h1v1h-1z"/><path fill="#416455" d="M-1 17h1v1h-1zM1 52h1v1h-1zM63 55h1v1h-1z"/><path fill="#23503c" d="M0 17h1v1h-1zM55 36h1v1h-1zM17 42h1v1h-1zM68 49h1v1h-1zM4 68h1v1h-1z"/><path fill="#413c55" d="M1 17h1v1h-1zM50 35h1v1h-1z"/><path fill="#1e2823" d="M2 17h1v1h-1zM28 30h1v1h-1z"/><path fill="#325a32" d="M3 17h1v1h-1z"/><path fill="#23644b" d="M4 17h1v1h-1zM56 52h1v1h-1z"/><path fill="#233732" d="M5 17h1v1h-1zM1 42h1v1h-1zM58 61h1v1h-1z"/><path fill="#195a14" d="M6 17h1v1h-1zM25 25h1v1h-1z"/><path fill="#2d7846" d="M7 17h1v1h-1zM23 18h1v1h-1zM38 21h1v1h-1zM24 25h1v1h-1zM21 32h1v1h-1zM4 53h1v1h-1z"/><path fill="#146914" d="M8 17h1v1h-1z"/><path fill="#23643c" d="M9 17h1v1h-1zM13 51h1v1h-1zM27 55h1v1h-1zM66 63h1v1h-1z"/><path fill="#37735a" d="M10 17h1v1h-1z"/><path fill="#41374b" d="M11 17h1v1h-1z"/><path fill="#287341" d="M12 17h1v1h-1zM72 37h1v1h-1zM59 59h1v1h-1z"/><path fill="#1e502d" d="M13 17h1v1h-1zM6 24h1v1h-1zM1 37h1v1h-1zM23 43h1v1h-1zM63 49h1v1h-1zM37 55h1v1h-1z"/><path fill="#285537" d="M14 17h1v1h-1zM23 26h1v1h-1zM70 26h1v1h-1zM50 43h1v1h-1zM2 48h1v1h-1zM40 57h1v1h-1zM73 57h1v1h-1zM14 65h1v1h-1z"/><path fill="#28412d" d="M15 17h1v1h-1zM12 29h1v1h-1zM24 60h1v1h-1z"/><path fill="#2d2d3c" d="M16 17h1v1h-1z"/><path fill="#373c32" d="M17 17h1v1h-1z"/><path fill="#235f2d" d="M18 17h1v1h-1zM61 31h1v1h-1zM52 60h1v1h-1zM69 63h1v1h-1z"/><path fill="#32373c" d="M19 17h1v1h-1zM22 18h1v1h-1zM0 26h1v1h-1zM71 30h1v1h-1zM55 47h1v1h-1zM36 55h1v1h-1zM13 67h1v1h-1z"/><path fill="#372d46" d="M20 17h1v1h-1zM57 40h1v1h-1z"/><path fill="#32464b" d="M21 17h1v1h-1zM7 28h1v1h-1zM33 67h1v1h-1z"/><path fill="#377d55" d="M22 17h1v1h-1z"/><path fill="#375a41" d="M23 17h1v1h-1zM14 21h1v1h-1zM32 34h1v1h-1zM49 48h1v1h-1z"/><path fill="#284637" d="M24 17h1v1h-1zM49 19h1v1h-1zM39 39h1v1h-1zM2 41h1v1h-1zM53 43h1v1h-1zM68 50h1v1h-1zM9 52h1v1h-1zM25 57h1v1h-1zM36 57h1v1h-1zM42 63h1v1h-1z"/><path fill="#466e69" d="M25 17h1v1h-1zM5 25h1v1h-1zM14 44h1v1h-1z"/><path fill="#4b555f" d="M26 17h1v1h-1zM0 54h1v1h-1z"/><path fill="#2d6437" d="M27 17h1v1h-1zM32 26h1v1h-1zM56 29h1v1h-1z"/><path fill="#373741" d="M28 17h1v1h-1z"/><path fill="#284146" d="M29 17h1v1h-1zM59 28h1v1h-1zM17 39h1v1h-1zM45 41h1v1h-1z"/><path fill="#375f41" d="M30 17h1v1h-1zM61 21h1v1h-1zM19 36h1v1h-1zM29 54h1v1h-1zM48 62h1v1h-1z"/><path fill="#41694b" d="M31 17h1v1h-1z"/><path fill="#325a3c" d="M32 17h1v1h-1zM10 19h1v1h-1zM8 25h1v1h-1zM62 41h1v1h-1zM55 44h1v1h-1zM48 56h1v1h-1zM1 63h1v1h-1z"/><path fill="#28411e" d="M33 17h1v1h-1z"/><path fill="#324b46" d="M35 17h1v1h-1zM43 19h1v1h-1zM3 20h1v1h-1zM56 20h1v1h-1zM22 26h1v1h-1zM59 27h1v1h-1zM59 41h1v1h-1zM16 49h1v1h-1zM9 50h1v1h-1zM62 62h1v1h-1z"/><path fill="#2d694b" d="M36 17h1v1h-1zM28 19h1v1h-1zM23 34h1v1h-1zM8 50h1v1h-1z"/><path fill="#3c7d64" d="M37 17h1v1h-1z"/><path fill="#37413c" d="M38 17h1v1h-1zM1 22h1v1h-1z"/><path fill="#144b28" d="M39 17h1v1h-1zM45 35h1v1h-1zM15 40h1v1h-1zM37 46h1v1h-1zM10 60h1v1h-1z"/><path fill="#28463c" d="M40 17h1v1h-1zM8 21h1v1h-1zM60 23h1v1h-1zM9 62h1v1h-1z"/><path fill="#3c8241" d="M41 17h1v1h-1zM9 47h1v1h-1z"/><path fill="#2d5f23" d="M42 17h1v1h-1z"/><path fill="#283728" d="M43 17h1v1h-1zM0 37h1v1h-1z"/><path fill="#328241" d="M44 17h1v1h-1zM29 28h1v1h-1zM60 34h1v1h-1zM40 37h1v1h-1zM6 53h1v1h-1zM65 68h1v1h-1z"/><path fill="#374141" d="M46 17h1v1h-1zM26 31h1v1h-1z"/><path fill="#281937" d="M47 17h1v1h-1z"/><path fill="#2d4128" d="M48 17h1v1h-1zM22 61h1v1h-1z"/><path fill="#002800" d="M50 17h1v1h-1z"/><path fill="#1e5a28" d="M51 17h1v1h-1zM72 31h1v1h-1zM44 38h1v1h-1zM68 52h1v1h-1zM-1 64h1v1h-1z"/><path fill="#287337" d="M52 17h1v1h-1zM1 24h1v1h-1zM73 29h1v1h-1zM21 42h1v1h-1z"/><path fill="#2d4632" d="M53 17h1v1h-1zM9 36h1v1h-1zM45 57h1v1h-1zM38 66h1v1h-1z"/><path fill="#1e5f37" d="M54 17h1v1h-1zM64 26h1v1h-1z"/><path fill="#375550" d="M55 17h1v1h-1zM34 33h1v1h-1zM26 60h1v1h-1z"/><path fill="#28462d" d="M56 17h1v1h-1zM64 36h1v1h-1zM7 54h1v1h-1zM60 54h1v1h-1zM11 55h1v1h-1zM71 57h1v1h-1z"/><path fill="#321e46" d="M57 17h1v1h-1zM5 39h1v1h-1z"/><path fill="#28553c" d="M58 17h1v1h-1zM60 26h1v1h-1zM3 28h1v1h-1zM40 36h1v1h-1zM15 38h1v1h-1zM52 54h1v1h-1zM17 58h1v1h-1zM12 60h1v1h-1zM57 66h1v1h-1z"/><path fill="#375f46" d="M59 17h1v1h-1zM60 18h1v1h-1zM45 20h1v1h-1zM48 38h1v1h-1z"/><path fill="#1e873c" d="M60 17h1v1h-1z"/><path fill="#3c6950" d="M61 17h1v1h-1zM12 26h1v1h-1zM33 37h1v1h-1zM63 54h1v1h-1zM55 57h1v1h-1zM60 66h1v1h-1zM24 68h1v1h-1zM34 68h1v1h-1z"/><path fill="#2d5f32" d="M65 17h1v1h-1zM55 45h1v1h-1zM41 55h1v1h-1zM69 58h1v1h-1zM45 67h1v1h-1z"/><path fill="#1e322d" d="M66 17h1v1h-1zM3 36h1v1h-1z"/><path fill="#326e55" d="M67 17h1v1h-1zM68 54h1v1h-1z"/><path fill="#41645f" d="M68 17h1v1h-1zM51 39h1v1h-1z"/><path fill="#2d0a41" d="M69 17h1v1h-1z"/><path fill="#2d6e37" d="M70 17h1v1h-1zM24 38h1v1h-1z"/><path fill="#413c69" d="M71 17h1v1h-1z"/><path fill="#374b55" d="M73 17h1v1h-1zM57 25h1v1h-1zM69 31h1v1h-1zM4 34h1v1h-1zM50 40h1v1h-1zM18 41h1v1h-1zM21 45h1v1h-1zM61 47h1v1h-1z"/><path fill="#235a3c" d="M74 17h1v1h-1zM71 35h1v1h-1zM61 45h1v1h-1zM7 49h1v1h-1zM55 62h1v1h-1z"/><path fill="#3c7d4b" d="M-1 18h1v1h-1zM31 18h1v1h-1zM71 65h1v1h-1zM49 67h1v1h-1z"/><path fill="#284641" d="M0 18h1v1h-1zM68 38h1v1h-1zM36 39h1v1h-1zM25 50h1v1h-1zM49 55h1v1h-1zM49 63h1v1h-1zM60 67h1v1h-1z"/><path fill="#192819" d="M1 18h1v1h-1z"/><path fill="#325f46" d="M2 18h1v1h-1zM4 19h1v1h-1zM4 23h1v1h-1zM33 25h1v1h-1zM63 34h1v1h-1zM44 53h1v1h-1zM12 59h1v1h-1zM72 63h1v1h-1z"/><path fill="#0f3728" d="M3 18h1v1h-1z"/><path fill="#376946" d="M5 18h1v1h-1zM19 24h1v1h-1zM57 49h1v1h-1zM48 52h1v1h-1zM39 53h1v1h-1z"/><path fill="#286e46" d="M7 18h1v1h-1zM44 29h1v1h-1z"/><path fill="#284b41" d="M8 18h1v1h-1zM54 21h1v1h-1zM11 23h1v1h-1zM47 42h1v1h-1z"/><path fill="#1e6423" d="M9 18h1v1h-1zM70 51h1v1h-1zM58 54h1v1h-1z"/><path fill="#376437" d="M10 18h1v1h-1z"/><path fill="#32463c" d="M11 18h1v1h-1zM72 61h1v1h-1zM12 65h1v1h-1zM48 67h1v1h-1z"/><path fill="#1e321e" d="M12 18h1v1h-1z"/><path fill="#374650" d="M13 18h1v1h-1zM61 65h1v1h-1zM50 66h1v1h-1z"/><path fill="#195523" d="M14 18h1v1h-1zM38 41h1v1h-1zM20 45h1v1h-1zM36 68h1v1h-1z"/><path fill="#28783c" d="M15 18h1v1h-1zM34 25h1v1h-1z"/><path fill="#41784b" d="M16 18h1v1h-1zM64 48h1v1h-1z"/><path fill="#284132" d="M17 18h1v1h-1zM61 22h1v1h-1zM26 28h1v1h-1zM60 30h1v1h-1zM62 32h1v1h-1zM58 45h1v1h-1zM72 47h1v1h-1zM39 50h1v1h-1zM8 59h1v1h-1zM7 63h1v1h-1zM41 64h1v1h-1z"/><path fill="#3c5f55" d="M18 18h1v1h-1zM57 50h1v1h-1z"/><path fill="#3c7350" d="M19 18h1v1h-1zM73 34h1v1h-1zM33 61h1v1h-1zM40 68h1v1h-1z"/><path fill="#236e3c" d="M20 18h1v1h-1z"/><path fill="#3c5050" d="M24 18h1v1h-1zM67 38h1v1h-1zM45 39h1v1h-1zM36 40h1v1h-1zM5 51h1v1h-1zM7 56h1v1h-1zM3 65h1v1h-1z"/><path fill="#3c5a55" d="M25 18h1v1h-1zM63 42h1v1h-1zM17 54h1v1h-1z"/><path fill="#2d3237" d="M26 18h1v1h-1zM73 24h1v1h-1zM53 55h1v1h-1z"/><path fill="#196e37" d="M27 18h1v1h-1zM29 22h1v1h-1z"/><path fill="#192d28" d="M28 18h1v1h-1zM36 63h1v1h-1z"/><path fill="#32644b" d="M29 18h1v1h-1zM58 18h1v1h-1zM31 38h1v1h-1zM19 46h1v1h-1zM53 57h1v1h-1z"/><path fill="#32823c" d="M30 18h1v1h-1zM70 56h1v1h-1z"/><path fill="#143c23" d="M32 18h1v1h-1zM37 41h1v1h-1zM48 64h1v1h-1z"/><path fill="#2d3c3c" d="M33 18h1v1h-1zM40 45h1v1h-1zM2 68h1v1h-1z"/><path fill="#377841" d="M35 18h1v1h-1zM34 37h1v1h-1zM24 46h1v1h-1zM10 52h1v1h-1zM26 55h1v1h-1zM15 57h1v1h-1zM43 58h1v1h-1zM5 65h1v1h-1z"/><path fill="#3c5a46" d="M36 18h1v1h-1zM33 41h1v1h-1zM33 45h1v1h-1zM33 55h1v1h-1z"/><path fill="#37555a" d="M37 18h1v1h-1zM3 60h1v1h-1z"/><path fill="#0a5505" d="M38 18h1v1h-1z"/><path fill="#0a5023" d="M39 18h1v1h-1z"/><path fill="#195f32" d="M40 18h1v1h-1zM10 65h1v1h-1z"/><path fill="#285f37" d="M41 18h1v1h-1zM49 18h1v1h-1zM63 26h1v1h-1zM29 56h1v1h-1zM67 63h1v1h-1z"/><path fill="#194623" d="M42 18h1v1h-1zM74 21h1v1h-1zM0 43h1v1h-1z"/><path fill="#32553c" d="M43 18h1v1h-1zM13 30h1v1h-1zM62 38h1v1h-1zM58 41h1v1h-1zM25 43h1v1h-1zM44 48h1v1h-1zM29 50h1v1h-1zM62 66h1v1h-1z"/><path fill="#462d50" d="M44 18h1v1h-1z"/><path fill="#283237" d="M45 18h1v1h-1zM9 24h1v1h-1zM23 28h1v1h-1zM68 42h1v1h-1zM43 56h1v1h-1zM57 59h1v1h-1zM70 68h1v1h-1z"/><path fill="#324128" d="M46 18h1v1h-1z"/><path fill="#464628" d="M47 18h1v1h-1z"/><path fill="#3c5a37" d="M48 18h1v1h-1z"/><path fill="#2d4b3c" d="M50 18h1v1h-1zM23 20h1v1h-1zM4 21h1v1h-1zM5 34h1v1h-1zM6 57h1v1h-1z"/><path fill="#2d4b37" d="M51 18h1v1h-1zM21 19h1v1h-1zM66 21h1v1h-1zM56 30h1v1h-1zM62 33h1v1h-1zM66 38h1v1h-1zM17 44h1v1h-1zM49 49h1v1h-1zM39 51h1v1h-1zM14 52h1v1h-1zM59 58h1v1h-1z"/><path fill="#2d6423" d="M52 18h1v1h-1zM24 48h1v1h-1z"/><path fill="#2d5a2d" d="M53 18h1v1h-1zM42 39h1v1h-1zM56 41h1v1h-1z"/><path fill="#1e4b32" d="M55 18h1v1h-1zM62 20h1v1h-1zM63 32h1v1h-1zM23 37h1v1h-1zM71 49h1v1h-1z"/><path fill="#284b3c" d="M56 18h1v1h-1zM64 24h1v1h-1zM56 37h1v1h-1zM14 38h1v1h-1zM8 46h1v1h-1zM41 47h1v1h-1zM36 48h1v1h-1zM25 51h1v1h-1zM62 54h1v1h-1z"/><path fill="#1e5a32" d="M57 18h1v1h-1zM21 28h1v1h-1zM11 48h1v1h-1zM34 54h1v1h-1zM46 54h1v1h-1zM65 66h1v1h-1z"/><path fill="#2d4146" d="M59 18h1v1h-1zM17 25h1v1h-1zM30 33h1v1h-1zM44 60h1v1h-1z"/><path fill="#377d4b" d="M61 18h1v1h-1zM22 56h1v1h-1zM49 58h1v1h-1z"/><path fill="#236e28" d="M63 18h1v1h-1zM57 30h1v1h-1z"/><path fill="#285032" d="M64 18h1v1h-1zM47 38h1v1h-1zM28 45h1v1h-1zM74 45h1v1h-1zM48 50h1v1h-1zM28 52h1v1h-1zM46 61h1v1h-1zM28 63h1v1h-1z"/><path fill="#3c4646" d="M65 18h1v1h-1z"/><path fill="#373750" d="M66 18h1v1h-1zM67 25h1v1h-1zM60 27h1v1h-1zM16 39h1v1h-1z"/><path fill="#324641" d="M67 18h1v1h-1zM67 65h1v1h-1z"/><path fill="#285f32" d="M68 18h1v1h-1zM4 22h1v1h-1zM-1 24h1v1h-1zM8 32h1v1h-1zM39 38h1v1h-1zM30 42h1v1h-1zM47 61h1v1h-1zM14 64h1v1h-1zM32 68h1v1h-1z"/><path fill="#2d502d" d="M69 18h1v1h-1zM61 20h1v1h-1zM17 59h1v1h-1z"/><path fill="#415f50" d="M70 18h1v1h-1zM5 19h1v1h-1z"/><path fill="#287d2d" d="M71 18h1v1h-1zM69 43h1v1h-1zM35 55h1v1h-1z"/><path fill="#505f69" d="M72 18h1v1h-1zM55 33h1v1h-1z"/><path fill="#1e6e37" d="M73 18h1v1h-1zM30 35h1v1h-1z"/><path fill="#2d552d" d="M74 18h1v1h-1zM48 23h1v1h-1z"/><path fill="#28642d" d="M-1 19h1v1h-1zM64 23h1v1h-1zM74 30h1v1h-1zM22 33h1v1h-1zM39 35h1v1h-1zM68 35h1v1h-1zM9 37h1v1h-1z"/><path fill="#323c46" d="M0 19h1v1h-1zM16 50h1v1h-1zM6 65h1v1h-1z"/><path fill="#145a1e" d="M1 19h1v1h-1zM72 34h1v1h-1z"/><path fill="#37914b" d="M2 19h1v1h-1z"/><path fill="#235f41" d="M3 19h1v1h-1zM34 46h1v1h-1zM70 66h1v1h-1zM49 68h1v1h-1z"/><path fill="#286937" d="M6 19h1v1h-1zM31 32h1v1h-1zM37 44h1v1h-1zM67 47h1v1h-1zM3 52h1v1h-1z"/><path fill="#0f2d19" d="M7 19h1v1h-1zM39 54h1v1h-1z"/><path fill="#195014" d="M8 19h1v1h-1zM65 67h1v1h-1z"/><path fill="#1e6432" d="M9 19h1v1h-1z"/><path fill="#284128" d="M12 19h1v1h-1zM0 31h1v1h-1zM2 36h1v1h-1zM22 59h1v1h-1z"/><path fill="#3c6e5a" d="M13 19h1v1h-1z"/><path fill="#286928" d="M14 19h1v1h-1z"/><path fill="#4b505f" d="M15 19h1v1h-1z"/><path fill="#413250" d="M16 19h1v1h-1zM8 29h1v1h-1z"/><path fill="#3c504b" d="M17 19h1v1h-1zM21 39h1v1h-1zM16 53h1v1h-1zM65 62h1v1h-1z"/><path fill="#373241" d="M18 19h1v1h-1zM-1 50h1v1h-1z"/><path fill="#2d2d50" d="M19 19h1v1h-1z"/><path fill="#375537" d="M20 19h1v1h-1zM44 45h1v1h-1z"/><path fill="#194632" d="M23 19h1v1h-1zM4 24h1v1h-1zM51 52h1v1h-1z"/><path fill="#376e46" d="M24 19h1v1h-1zM51 38h1v1h-1zM41 44h1v1h-1zM20 55h1v1h-1z"/><path fill="#324b41" d="M25 19h1v1h-1zM17 23h1v1h-1zM18 31h1v1h-1zM57 31h1v1h-1zM13 47h1v1h-1zM64 54h1v1h-1zM4 63h1v1h-1zM51 63h1v1h-1zM64 65h1v1h-1z"/><path fill="#375f3c" d="M26 19h1v1h-1zM24 55h1v1h-1zM26 64h1v1h-1z"/><path fill="#417364" d="M27 19h1v1h-1z"/><path fill="#144119" d="M29 19h1v1h-1zM61 43h1v1h-1z"/><path fill="#235532" d="M30 19h1v1h-1zM53 19h1v1h-1zM18 33h1v1h-1zM-1 36h1v1h-1zM26 48h1v1h-1zM11 49h1v1h-1z"/><path fill="#326937" d="M31 19h1v1h-1zM-1 23h1v1h-1zM56 28h1v1h-1zM11 64h1v1h-1z"/><path fill="#326e3c" d="M32 19h1v1h-1zM43 24h1v1h-1zM52 44h1v1h-1zM18 61h1v1h-1zM30 68h1v1h-1z"/><path fill="#286e55" d="M33 19h1v1h-1z"/><path fill="#1e4b2d" d="M34 19h1v1h-1zM9 39h1v1h-1zM73 39h1v1h-1zM14 49h1v1h-1zM44 50h1v1h-1z"/><path fill="#05500f" d="M35 19h1v1h-1z"/><path fill="#195a2d" d="M36 19h1v1h-1zM46 44h1v1h-1z"/><path fill="#1e1e37" d="M37 19h1v1h-1zM-1 22h1v1h-1z"/><path fill="#2d413c" d="M38 19h1v1h-1zM19 38h1v1h-1zM11 46h1v1h-1zM4 59h1v1h-1zM59 60h1v1h-1zM17 61h1v1h-1zM21 65h1v1h-1z"/><path fill="#325a50" d="M39 19h1v1h-1zM15 22h1v1h-1zM2 46h1v1h-1zM43 55h1v1h-1zM33 59h1v1h-1zM36 65h1v1h-1z"/><path fill="#283c46" d="M41 19h1v1h-1zM63 44h1v1h-1z"/><path fill="#233737" d="M42 19h1v1h-1zM36 37h1v1h-1zM62 37h1v1h-1zM6 40h1v1h-1zM55 41h1v1h-1zM9 44h1v1h-1z"/><path fill="#0f4605" d="M44 19h1v1h-1z"/><path fill="#327837" d="M45 19h1v1h-1z"/><path fill="#5a5528" d="M46 19h1v1h-1z"/><path fill="#82823c" d="M47 19h1v1h-1z"/><path fill="#553232" d="M48 19h1v1h-1z"/><path fill="#3c6e46" d="M50 19h1v1h-1zM72 24h1v1h-1zM7 47h1v1h-1zM-1 49h1v1h-1zM27 61h1v1h-1zM47 68h1v1h-1z"/><path fill="#235519" d="M51 19h1v1h-1z"/><path fill="#324b37" d="M54 19h1v1h-1zM47 36h1v1h-1zM35 39h1v1h-1zM74 46h1v1h-1z"/><path fill="#325037" d="M55 19h1v1h-1zM51 25h1v1h-1z"/><path fill="#0f411e" d="M56 19h1v1h-1zM35 54h1v1h-1zM31 55h1v1h-1z"/><path fill="#287328" d="M57 19h1v1h-1zM73 33h1v1h-1zM42 36h1v1h-1z"/><path fill="#375a46" d="M58 19h1v1h-1zM8 22h1v1h-1zM53 23h1v1h-1zM74 38h1v1h-1zM6 49h1v1h-1z"/><path fill="#235f28" d="M59 19h1v1h-1zM28 38h1v1h-1zM56 40h1v1h-1zM45 47h1v1h-1zM17 52h1v1h-1z"/><path fill="#2d4132" d="M60 19h1v1h-1zM55 50h1v1h-1zM43 53h1v1h-1zM19 56h1v1h-1z"/><path fill="#235a32" d="M61 19h1v1h-1zM59 39h1v1h-1zM55 40h1v1h-1zM70 46h1v1h-1zM42 51h1v1h-1zM21 63h1v1h-1z"/><path fill="#323241" d="M62 19h1v1h-1zM15 51h1v1h-1zM41 59h1v1h-1z"/><path fill="#28692d" d="M63 19h1v1h-1z"/><path fill="#2d5028" d="M64 19h1v1h-1zM7 31h1v1h-1z"/><path fill="#322d2d" d="M66 19h1v1h-1z"/><path fill="#1e641e" d="M68 19h1v1h-1zM53 47h1v1h-1z"/><path fill="#285a2d" d="M70 19h1v1h-1zM38 20h1v1h-1zM10 21h1v1h-1zM52 29h1v1h-1zM24 43h1v1h-1zM28 44h1v1h-1zM47 44h1v1h-1z"/><path fill="#375f5a" d="M71 19h1v1h-1zM21 56h1v1h-1z"/><path fill="#23732d" d="M72 19h1v1h-1z"/><path fill="#1e1e1e" d="M73 19h1v1h-1z"/><path fill="#05230f" d="M74 19h1v1h-1z"/><path fill="#0f190a" d="M-1 20h1v1h-1z"/><path fill="#05230a" d="M0 20h1v1h-1zM29 65h1v1h-1z"/><path fill="#288237" d="M2 20h1v1h-1zM15 33h1v1h-1zM28 47h1v1h-1z"/><path fill="#324646" d="M4 20h1v1h-1zM37 35h1v1h-1zM47 52h1v1h-1zM43 54h1v1h-1zM18 58h1v1h-1zM17 65h1v1h-1zM54 66h1v1h-1z"/><path fill="#282d3c" d="M5 20h1v1h-1zM17 63h1v1h-1z"/><path fill="#234b37" d="M7 20h1v1h-1zM23 27h1v1h-1zM0 60h1v1h-1z"/><path fill="#323c50" d="M8 20h1v1h-1zM24 30h1v1h-1zM9 45h1v1h-1zM41 57h1v1h-1z"/><path fill="#2d643c" d="M9 20h1v1h-1zM12 25h1v1h-1zM61 33h1v1h-1zM73 37h1v1h-1zM2 47h1v1h-1zM56 47h1v1h-1zM74 55h1v1h-1z"/><path fill="#192d32" d="M10 20h1v1h-1zM9 38h1v1h-1z"/><path fill="#375546" d="M11 20h1v1h-1zM60 32h1v1h-1zM33 33h1v1h-1zM15 49h1v1h-1z"/><path fill="#415550" d="M12 20h1v1h-1z"/><path fill="#2d7332" d="M13 20h1v1h-1zM22 27h1v1h-1zM40 52h1v1h-1z"/><path fill="#325546" d="M14 20h1v1h-1zM10 26h1v1h-1zM43 45h1v1h-1zM36 52h1v1h-1zM8 54h1v1h-1zM5 62h1v1h-1zM12 64h1v1h-1z"/><path fill="#417846" d="M15 20h1v1h-1z"/><path fill="#37875a" d="M16 20h1v1h-1z"/><path fill="#41734b" d="M17 20h1v1h-1zM65 65h1v1h-1z"/><path fill="#2d7d41" d="M18 20h1v1h-1zM57 20h1v1h-1zM51 49h1v1h-1z"/><path fill="#328741" d="M19 20h1v1h-1zM30 26h1v1h-1zM32 29h1v1h-1z"/><path fill="#285541" d="M20 20h1v1h-1zM51 24h1v1h-1zM52 46h1v1h-1zM50 63h1v1h-1zM50 67h1v1h-1zM70 67h1v1h-1z"/><path fill="#415f5a" d="M21 20h1v1h-1zM35 34h1v1h-1z"/><path fill="#28733c" d="M22 20h1v1h-1zM14 55h1v1h-1z"/><path fill="#147d1e" d="M24 20h1v1h-1z"/><path fill="#285532" d="M25 20h1v1h-1zM57 22h1v1h-1zM59 22h1v1h-1zM66 23h1v1h-1zM55 53h1v1h-1zM64 55h1v1h-1zM-1 57h1v1h-1zM21 58h1v1h-1zM8 65h1v1h-1zM56 65h1v1h-1z"/><path fill="#3c7346" d="M26 20h1v1h-1zM17 40h1v1h-1z"/><path fill="#288750" d="M27 20h1v1h-1zM58 50h1v1h-1z"/><path fill="#235a41" d="M28 20h1v1h-1zM57 23h1v1h-1zM28 65h1v1h-1z"/><path fill="#285037" d="M29 20h1v1h-1zM69 20h1v1h-1zM2 27h1v1h-1zM54 32h1v1h-1zM47 35h1v1h-1zM20 44h1v1h-1zM54 50h1v1h-1zM22 53h1v1h-1zM53 53h1v1h-1zM40 60h1v1h-1zM53 66h1v1h-1z"/><path fill="#466464" d="M30 20h1v1h-1z"/><path fill="#289623" d="M31 20h1v1h-1z"/><path fill="#1e5528" d="M32 20h1v1h-1zM6 46h1v1h-1zM49 50h1v1h-1zM66 52h1v1h-1zM18 63h1v1h-1z"/><path fill="#467d69" d="M33 20h1v1h-1z"/><path fill="#325550" d="M34 20h1v1h-1zM59 25h1v1h-1zM14 45h1v1h-1zM17 46h1v1h-1zM0 55h1v1h-1zM51 59h1v1h-1z"/><path fill="#3c5a5a" d="M35 20h1v1h-1zM3 31h1v1h-1zM23 31h1v1h-1zM11 54h1v1h-1z"/><path fill="#378241" d="M36 20h1v1h-1zM6 47h1v1h-1z"/><path fill="#1e8c37" d="M37 20h1v1h-1zM61 28h1v1h-1z"/><path fill="#285f2d" d="M39 20h1v1h-1zM64 20h1v1h-1zM9 23h1v1h-1zM9 31h1v1h-1zM45 45h1v1h-1z"/><path fill="#2d6441" d="M40 20h1v1h-1zM31 24h1v1h-1zM20 26h1v1h-1zM32 62h1v1h-1z"/><path fill="#232d28" d="M41 20h1v1h-1zM21 43h1v1h-1zM26 56h1v1h-1z"/><path fill="#1e1923" d="M42 20h1v1h-1z"/><path fill="#285046" d="M43 20h1v1h-1zM16 34h1v1h-1zM18 42h1v1h-1zM14 53h1v1h-1zM32 56h1v1h-1z"/><path fill="#4b825f" d="M44 20h1v1h-1zM34 29h1v1h-1z"/><path fill="#556955" d="M46 20h1v1h-1z"/><path fill="#787341" d="M47 20h1v1h-1z"/><path fill="#3c9137" d="M48 20h1v1h-1z"/><path fill="#3c4632" d="M49 20h1v1h-1z"/><path fill="#3c5046" d="M50 20h1v1h-1zM67 51h1v1h-1zM57 62h1v1h-1z"/><path fill="#19371e" d="M51 20h1v1h-1zM59 55h1v1h-1z"/><path fill="#375a37" d="M52 20h1v1h-1z"/><path fill="#1e6419" d="M54 20h1v1h-1z"/><path fill="#23504b" d="M55 20h1v1h-1zM19 37h1v1h-1z"/><path fill="#326441" d="M58 20h1v1h-1zM41 45h1v1h-1zM22 55h1v1h-1z"/><path fill="#2d2837" d="M59 20h1v1h-1z"/><path fill="#376e4b" d="M60 20h1v1h-1zM20 33h1v1h-1zM43 36h1v1h-1zM18 39h1v1h-1zM45 53h1v1h-1zM7 55h1v1h-1z"/><path fill="#235523" d="M63 20h1v1h-1z"/><path fill="#2d5537" d="M65 20h1v1h-1zM44 23h1v1h-1zM12 30h1v1h-1zM48 47h1v1h-1zM7 51h1v1h-1zM38 59h1v1h-1zM48 68h1v1h-1z"/><path fill="#374641" d="M66 20h1v1h-1zM18 34h1v1h-1zM66 37h1v1h-1zM40 39h1v1h-1z"/><path fill="#373232" d="M67 20h1v1h-1zM59 61h1v1h-1z"/><path fill="#235f32" d="M68 20h1v1h-1zM72 23h1v1h-1zM9 51h1v1h-1zM21 68h1v1h-1z"/><path fill="#37644b" d="M70 20h1v1h-1zM25 22h1v1h-1zM36 35h1v1h-1zM33 39h1v1h-1zM54 67h1v1h-1zM59 68h1v1h-1z"/><path fill="#32415a" d="M71 20h1v1h-1zM11 31h1v1h-1z"/><path fill="#3c1950" d="M72 20h1v1h-1z"/><path fill="#0f1e1e" d="M73 20h1v1h-1z"/><path fill="#196e14" d="M74 20h1v1h-1zM26 53h1v1h-1z"/><path fill="#14232d" d="M-1 21h1v1h-1z"/><path fill="#1e2841" d="M0 21h1v1h-1zM7 67h1v1h-1z"/><path fill="#1e282d" d="M1 21h1v1h-1zM7 30h1v1h-1zM15 36h1v1h-1z"/><path fill="#2d503c" d="M2 21h1v1h-1zM67 24h1v1h-1zM3 26h1v1h-1zM73 48h1v1h-1zM48 58h1v1h-1z"/><path fill="#2d5037" d="M3 21h1v1h-1zM73 30h1v1h-1zM21 34h1v1h-1zM0 46h1v1h-1zM69 54h1v1h-1zM20 56h1v1h-1zM55 60h1v1h-1z"/><path fill="#144128" d="M5 21h1v1h-1zM16 30h1v1h-1zM59 54h1v1h-1z"/><path fill="#284137" d="M6 21h1v1h-1zM2 28h1v1h-1zM64 32h1v1h-1zM47 33h1v1h-1zM7 59h1v1h-1zM7 60h1v1h-1zM3 62h1v1h-1zM72 62h1v1h-1zM43 65h1v1h-1z"/><path fill="#37504b" d="M7 21h1v1h-1zM26 38h1v1h-1zM56 68h1v1h-1z"/><path fill="#50735f" d="M9 21h1v1h-1z"/><path fill="#37825f" d="M11 21h1v1h-1z"/><path fill="#46695a" d="M12 21h1v1h-1z"/><path fill="#2d5041" d="M13 21h1v1h-1zM45 22h1v1h-1zM66 22h1v1h-1zM18 26h1v1h-1zM55 56h1v1h-1zM9 57h1v1h-1zM28 60h1v1h-1zM30 61h1v1h-1z"/><path fill="#419641" d="M15 21h1v1h-1z"/><path fill="#3c4b3c" d="M16 21h1v1h-1z"/><path fill="#32503c" d="M17 21h1v1h-1zM2 24h1v1h-1zM47 50h1v1h-1zM5 56h1v1h-1zM14 59h1v1h-1zM-1 60h1v1h-1zM66 60h1v1h-1z"/><path fill="#196423" d="M18 21h1v1h-1z"/><path fill="#325f55" d="M19 21h1v1h-1zM36 46h1v1h-1zM0 50h1v1h-1zM3 64h1v1h-1z"/><path fill="#32234b" d="M20 21h1v1h-1zM37 36h1v1h-1z"/><path fill="#286e3c" d="M21 21h1v1h-1zM44 34h1v1h-1zM38 35h1v1h-1zM28 36h1v1h-1zM6 48h1v1h-1zM6 51h1v1h-1zM19 58h1v1h-1z"/><path fill="#416450" d="M22 21h1v1h-1z"/><path fill="#322d4b" d="M23 21h1v1h-1zM24 37h1v1h-1zM36 64h1v1h-1z"/><path fill="#19462d" d="M24 21h1v1h-1zM24 36h1v1h-1z"/><path fill="#14b419" d="M25 21h1v1h-1z"/><path fill="#287355" d="M26 21h1v1h-1z"/><path fill="#288232" d="M27 21h1v1h-1z"/><path fill="#1e9141" d="M28 21h1v1h-1z"/><path fill="#37875f" d="M29 21h1v1h-1zM20 22h1v1h-1z"/><path fill="#196e28" d="M30 21h1v1h-1z"/><path fill="#286e2d" d="M31 21h1v1h-1zM6 56h1v1h-1zM-1 62h1v1h-1z"/><path fill="#2d7346" d="M32 21h1v1h-1zM48 29h1v1h-1zM63 50h1v1h-1zM38 53h1v1h-1z"/><path fill="#3c824b" d="M33 21h1v1h-1zM0 34h1v1h-1zM11 50h1v1h-1z"/><path fill="#28aa37" d="M34 21h1v1h-1z"/><path fill="#37b45f" d="M35 21h1v1h-1z"/><path fill="#32964b" d="M36 21h1v1h-1zM37 29h1v1h-1zM46 30h1v1h-1z"/><path fill="#239b41" d="M37 21h1v1h-1z"/><path fill="#146e32" d="M39 21h1v1h-1zM43 67h1v1h-1z"/><path fill="#374146" d="M40 21h1v1h-1zM55 26h1v1h-1zM65 42h1v1h-1zM56 44h1v1h-1zM38 68h1v1h-1z"/><path fill="#284632" d="M41 21h1v1h-1zM3 27h1v1h-1zM14 31h1v1h-1zM32 40h1v1h-1zM72 65h1v1h-1z"/><path fill="#145028" d="M42 21h1v1h-1z"/><path fill="#414b50" d="M43 21h1v1h-1zM16 60h1v1h-1zM53 65h1v1h-1z"/><path fill="#282d37" d="M45 21h1v1h-1zM52 41h1v1h-1zM7 50h1v1h-1z"/><path fill="#285a32" d="M46 21h1v1h-1zM46 33h1v1h-1zM52 55h1v1h-1zM6 66h1v1h-1z"/><path fill="#375541" d="M47 21h1v1h-1zM33 31h1v1h-1zM10 47h1v1h-1zM13 49h1v1h-1zM53 62h1v1h-1z"/><path fill="#286946" d="M50 21h1v1h-1zM39 46h1v1h-1zM13 64h1v1h-1z"/><path fill="#2da546" d="M51 21h1v1h-1z"/><path fill="#323750" d="M52 21h1v1h-1zM58 43h1v1h-1z"/><path fill="#375555" d="M53 21h1v1h-1zM1 35h1v1h-1zM43 42h1v1h-1zM43 62h1v1h-1z"/><path fill="#234128" d="M55 21h1v1h-1zM6 30h1v1h-1zM20 32h1v1h-1z"/><path fill="#2d5f3c" d="M56 21h1v1h-1zM15 28h1v1h-1zM74 42h1v1h-1zM53 48h1v1h-1zM35 60h1v1h-1zM3 63h1v1h-1z"/><path fill="#193c23" d="M57 21h1v1h-1zM7 41h1v1h-1zM31 62h1v1h-1z"/><path fill="#194128" d="M58 21h1v1h-1zM22 51h1v1h-1z"/><path fill="#376455" d="M59 21h1v1h-1zM23 33h1v1h-1zM52 63h1v1h-1z"/><path fill="#325028" d="M62 21h1v1h-1z"/><path fill="#1e2328" d="M63 21h1v1h-1z"/><path fill="#234b41" d="M64 21h1v1h-1zM1 54h1v1h-1z"/><path fill="#3c5546" d="M65 21h1v1h-1zM64 47h1v1h-1zM71 63h1v1h-1z"/><path fill="#236437" d="M67 21h1v1h-1zM52 36h1v1h-1zM54 61h1v1h-1z"/><path fill="#2d2346" d="M68 21h1v1h-1zM10 32h1v1h-1z"/><path fill="#2d5046" d="M69 21h1v1h-1zM24 27h1v1h-1zM74 34h1v1h-1zM69 36h1v1h-1zM14 46h1v1h-1z"/><path fill="#284b46" d="M70 21h1v1h-1zM4 64h1v1h-1z"/><path fill="#0a3714" d="M71 21h1v1h-1z"/><path fill="#19322d" d="M73 21h1v1h-1zM53 38h1v1h-1zM12 44h1v1h-1z"/><path fill="#28502d" d="M0 22h1v1h-1zM63 31h1v1h-1zM56 35h1v1h-1z"/><path fill="#3c8246" d="M2 22h1v1h-1zM13 57h1v1h-1z"/><path fill="#233719" d="M3 22h1v1h-1z"/><path fill="#282332" d="M5 22h1v1h-1zM3 48h1v1h-1zM35 64h1v1h-1z"/><path fill="#28413c" d="M6 22h1v1h-1zM2 60h1v1h-1zM59 65h1v1h-1z"/><path fill="#284141" d="M7 22h1v1h-1zM14 39h1v1h-1zM67 49h1v1h-1zM0 52h1v1h-1zM9 58h1v1h-1z"/><path fill="#374655" d="M9 22h1v1h-1z"/><path fill="#0a230f" d="M10 22h1v1h-1z"/><path fill="#37463c" d="M11 22h1v1h-1zM65 35h1v1h-1z"/><path fill="#237337" d="M12 22h1v1h-1zM61 63h1v1h-1z"/><path fill="#3c2d5f" d="M14 22h1v1h-1z"/><path fill="#374b5a" d="M16 22h1v1h-1z"/><path fill="#3c4b46" d="M17 22h1v1h-1zM47 59h1v1h-1zM-1 66h1v1h-1z"/><path fill="#555064" d="M18 22h1v1h-1z"/><path fill="#287d37" d="M19 22h1v1h-1zM23 61h1v1h-1zM8 68h1v1h-1z"/><path fill="#2d4137" d="M21 22h1v1h-1zM55 23h1v1h-1zM13 44h1v1h-1zM26 52h1v1h-1zM6 59h1v1h-1z"/><path fill="#235f3c" d="M23 22h1v1h-1zM60 28h1v1h-1zM70 29h1v1h-1zM68 37h1v1h-1zM48 41h1v1h-1zM62 60h1v1h-1z"/><path fill="#0a823c" d="M24 22h1v1h-1z"/><path fill="#1e874b" d="M26 22h1v1h-1z"/><path fill="#32b955" d="M27 22h1v1h-1z"/><path fill="#378250" d="M28 22h1v1h-1zM49 38h1v1h-1z"/><path fill="#327341" d="M30 22h1v1h-1zM38 49h1v1h-1zM14 61h1v1h-1z"/><path fill="#2d6e4b" d="M31 22h1v1h-1zM37 50h1v1h-1z"/><path fill="#235041" d="M32 22h1v1h-1zM22 28h1v1h-1zM1 34h1v1h-1zM61 40h1v1h-1zM53 46h1v1h-1zM29 52h1v1h-1zM20 59h1v1h-1z"/><path fill="#3c9b50" d="M33 22h1v1h-1zM26 25h1v1h-1z"/><path fill="#419b50" d="M34 22h1v1h-1z"/><path fill="#46e664" d="M35 22h1v1h-1z"/><path fill="#37cd64" d="M36 22h1v1h-1z"/><path fill="#23af5a" d="M37 22h1v1h-1z"/><path fill="#237341" d="M38 22h1v1h-1zM0 35h1v1h-1z"/><path fill="#19a02d" d="M39 22h1v1h-1z"/><path fill="#196e2d" d="M40 22h2v1h-2z"/><path fill="#1e4b28" d="M42 22h1v1h-1z"/><path fill="#37553c" d="M43 22h1v1h-1zM45 25h1v1h-1zM18 36h1v1h-1zM10 51h1v1h-1zM40 66h1v1h-1z"/><path fill="#2d8246" d="M44 22h1v1h-1zM24 24h1v1h-1z"/><path fill="#413c46" d="M46 22h1v1h-1z"/><path fill="#233c2d" d="M47 22h1v1h-1zM55 37h1v1h-1zM0 47h1v1h-1zM9 60h1v1h-1zM44 65h1v1h-1z"/><path fill="#23463c" d="M48 22h1v1h-1zM12 33h1v1h-1zM38 58h1v1h-1z"/><path fill="#4b6e5a" d="M49 22h1v1h-1z"/><path fill="#465046" d="M50 22h1v1h-1z"/><path fill="#146928" d="M51 22h1v1h-1z"/><path fill="#235a4b" d="M52 22h1v1h-1z"/><path fill="#37284b" d="M54 22h1v1h-1z"/><path fill="#285a28" d="M56 22h1v1h-1zM45 30h1v1h-1zM49 31h1v1h-1zM67 40h1v1h-1zM32 41h1v1h-1z"/><path fill="#1e002d" d="M62 22h1v1h-1zM4 38h1v1h-1z"/><path fill="#1e411e" d="M63 22h1v1h-1zM7 32h1v1h-1z"/><path fill="#282d23" d="M64 22h1v1h-1z"/><path fill="#1e4628" d="M65 22h1v1h-1zM25 26h1v1h-1zM14 27h1v1h-1zM26 51h1v1h-1zM73 54h1v1h-1zM20 58h1v1h-1z"/><path fill="#2d2d46" d="M69 22h1v1h-1zM2 54h1v1h-1z"/><path fill="#237d37" d="M70 22h1v1h-1z"/><path fill="#374b46" d="M71 22h1v1h-1zM69 25h1v1h-1zM49 33h1v1h-1zM3 66h1v1h-1z"/><path fill="#375532" d="M72 22h1v1h-1z"/><path fill="#28323c" d="M73 22h1v1h-1zM45 60h1v1h-1zM51 65h1v1h-1z"/><path fill="#3c6955" d="M0 23h2v1h-2zM25 28h1v1h-1zM38 55h1v1h-1z"/><path fill="#32782d" d="M2 23h1v1h-1z"/><path fill="#2d5f4b" d="M3 23h1v1h-1z"/><path fill="#284646" d="M5 23h1v1h-1zM16 25h1v1h-1zM26 32h1v1h-1zM70 64h1v1h-1zM19 68h1v1h-1z"/><path fill="#194123" d="M6 23h1v1h-1zM22 36h1v1h-1zM71 36h1v1h-1zM2 42h1v1h-1zM36 44h1v1h-1zM4 49h1v1h-1zM42 52h1v1h-1z"/><path fill="#1e552d" d="M7 23h1v1h-1zM25 32h1v1h-1zM3 34h1v1h-1zM34 40h1v1h-1zM63 41h1v1h-1zM46 45h1v1h-1zM62 46h1v1h-1zM25 48h1v1h-1zM41 61h1v1h-1z"/><path fill="#464655" d="M8 23h1v1h-1zM67 39h1v1h-1z"/><path fill="#3c3241" d="M10 23h1v1h-1z"/><path fill="#194114" d="M12 23h1v1h-1z"/><path fill="#2d1e28" d="M13 23h1v1h-1z"/><path fill="#2d3c4b" d="M14 23h1v1h-1zM15 46h1v1h-1z"/><path fill="#236937" d="M15 23h1v1h-1zM45 43h1v1h-1zM29 46h1v1h-1z"/><path fill="#23052d" d="M16 23h1v1h-1z"/><path fill="#28373c" d="M19 23h1v1h-1zM32 32h1v1h-1zM18 46h1v1h-1zM21 67h1v1h-1z"/><path fill="#28232d" d="M22 23h1v1h-1zM0 63h1v1h-1z"/><path fill="#376450" d="M23 23h1v1h-1zM19 27h1v1h-1zM65 36h1v1h-1zM26 65h1v1h-1z"/><path fill="#236e4b" d="M24 23h1v1h-1z"/><path fill="#327350" d="M25 23h1v1h-1z"/><path fill="#1ea532" d="M26 23h1v1h-1z"/><path fill="#37d755" d="M27 23h1v1h-1z"/><path fill="#239141" d="M28 23h1v1h-1z"/><path fill="#2d9155" d="M29 23h1v1h-1z"/><path fill="#378755" d="M30 23h1v1h-1zM35 47h1v1h-1zM23 62h1v1h-1z"/><path fill="#287832" d="M31 23h1v1h-1zM7 24h1v1h-1zM0 53h1v1h-1zM61 55h1v1h-1z"/><path fill="#328750" d="M32 23h1v1h-1zM34 27h1v1h-1zM73 52h1v1h-1z"/><path fill="#2da541" d="M33 23h1v1h-1z"/><path fill="#46b469" d="M34 23h1v1h-1z"/><path fill="#3ceb5a" d="M35 23h1v1h-1z"/><path fill="#41ff69" d="M36 23h1v1h-1z"/><path fill="#4bf078" d="M37 23h1v1h-1z"/><path fill="#28a54b" d="M38 23h1v1h-1z"/><path fill="#2d9146" d="M39 23h1v1h-1z"/><path fill="#418c5f" d="M40 23h1v1h-1z"/><path fill="#1e822d" d="M42 23h1v1h-1zM11 24h1v1h-1zM37 59h1v1h-1z"/><path fill="#196e23" d="M43 23h1v1h-1z"/><path fill="#376e50" d="M45 23h1v1h-1zM52 30h1v1h-1zM30 32h1v1h-1z"/><path fill="#0f3232" d="M46 23h1v1h-1z"/><path fill="#1e5f1e" d="M47 23h1v1h-1zM25 35h1v1h-1z"/><path fill="#466e46" d="M49 23h1v1h-1zM2 61h1v1h-1z"/><path fill="#2d4637" d="M50 23h1v1h-1zM4 25h1v1h-1zM67 34h1v1h-1zM38 37h1v1h-1zM52 51h1v1h-1zM70 58h1v1h-1zM0 68h1v1h-1z"/><path fill="#374b3c" d="M51 23h1v1h-1zM20 27h1v1h-1z"/><path fill="#285a37" d="M52 23h1v1h-1zM1 26h1v1h-1zM45 37h1v1h-1zM1 50h1v1h-1zM61 60h1v1h-1zM13 63h1v1h-1zM19 65h1v1h-1z"/><path fill="#232828" d="M54 23h1v1h-1zM4 33h1v1h-1zM67 35h1v1h-1z"/><path fill="#2d5a4b" d="M56 23h1v1h-1zM22 25h1v1h-1zM42 42h1v1h-1zM16 46h1v1h-1z"/><path fill="#19502d" d="M58 23h1v1h-1zM52 28h1v1h-1zM43 35h1v1h-1zM18 43h1v1h-1zM16 56h1v1h-1zM45 58h1v1h-1z"/><path fill="#288c3c" d="M59 23h1v1h-1z"/><path fill="#1e413c" d="M61 23h1v1h-1zM65 27h1v1h-1zM-1 41h1v1h-1zM23 45h1v1h-1zM17 47h1v1h-1z"/><path fill="#2d6e46" d="M62 23h1v1h-1zM54 26h1v1h-1zM56 45h1v1h-1zM28 46h1v1h-1zM17 55h1v1h-1z"/><path fill="#376e41" d="M63 23h1v1h-1z"/><path fill="#231e32" d="M65 23h1v1h-1z"/><path fill="#378264" d="M68 23h1v1h-1z"/><path fill="#3c3c46" d="M69 23h1v1h-1z"/><path fill="#1e6923" d="M70 23h1v1h-1z"/><path fill="#2d642d" d="M71 23h1v1h-1zM2 30h1v1h-1zM65 41h1v1h-1z"/><path fill="#417350" d="M73 23h1v1h-1zM6 25h1v1h-1zM63 64h1v1h-1z"/><path fill="#1e6932" d="M74 23h1v1h-1zM42 47h1v1h-1zM65 57h1v1h-1z"/><path fill="#4b6950" d="M0 24h1v1h-1z"/><path fill="#415055" d="M3 24h1v1h-1zM6 27h1v1h-1z"/><path fill="#3c465a" d="M5 24h1v1h-1zM52 32h1v1h-1z"/><path fill="#4b465a" d="M8 24h1v1h-1z"/><path fill="#194b23" d="M10 24h1v1h-1zM56 53h1v1h-1z"/><path fill="#286941" d="M12 24h1v1h-1zM59 49h1v1h-1zM54 58h1v1h-1zM16 62h1v1h-1zM9 68h1v1h-1z"/><path fill="#286932" d="M13 24h1v1h-1zM44 31h1v1h-1zM6 45h1v1h-1zM9 46h1v1h-1zM19 54h1v1h-1zM53 54h1v1h-1zM33 60h1v1h-1zM55 64h1v1h-1z"/><path fill="#196432" d="M14 24h1v1h-1z"/><path fill="#0a410a" d="M15 24h1v1h-1z"/><path fill="#195019" d="M16 24h1v1h-1zM59 31h1v1h-1zM42 50h1v1h-1z"/><path fill="#1e0523" d="M17 24h1v1h-1z"/><path fill="#3c5537" d="M18 24h1v1h-1zM52 49h1v1h-1z"/><path fill="#372d50" d="M20 24h1v1h-1zM28 39h1v1h-1z"/><path fill="#230f28" d="M21 24h1v1h-1z"/><path fill="#2d233c" d="M22 24h1v1h-1zM58 59h1v1h-1z"/><path fill="#0f5019" d="M23 24h1v1h-1z"/><path fill="#23b437" d="M25 24h1v1h-1z"/><path fill="#23a546" d="M26 24h1v1h-1z"/><path fill="#288741" d="M27 24h1v1h-1z"/><path fill="#325a41" d="M28 24h1v1h-1zM6 32h1v1h-1zM33 32h1v1h-1zM74 44h1v1h-1zM72 53h1v1h-1z"/><path fill="#327346" d="M29 24h1v1h-1zM73 26h1v1h-1zM74 43h1v1h-1zM37 47h1v1h-1zM2 56h1v1h-1z"/><path fill="#329b46" d="M30 24h1v1h-1z"/><path fill="#3c9b55" d="M32 24h1v1h-1z"/><path fill="#32aa37" d="M33 24h1v1h-1z"/><path fill="#3cc855" d="M34 24h1v1h-1z"/><path fill="#46e15a" d="M35 24h1v1h-1z"/><path fill="#55eb6e" d="M36 24h1v1h-1z"/><path fill="#50f564" d="M37 24h1v1h-1z"/><path fill="#46cd50" d="M38 24h1v1h-1z"/><path fill="#3ca55a" d="M39 24h1v1h-1z"/><path fill="#2daf50" d="M40 24h1v1h-1z"/><path fill="#1e6e28" d="M41 24h1v1h-1zM37 60h1v1h-1z"/><path fill="#415f55" d="M42 24h1v1h-1zM26 34h1v1h-1zM20 54h1v1h-1z"/><path fill="#46826e" d="M44 24h1v1h-1z"/><path fill="#14641e" d="M46 24h1v1h-1zM71 42h1v1h-1z"/><path fill="#466450" d="M49 24h1v1h-1zM46 39h1v1h-1z"/><path fill="#285a41" d="M50 24h1v1h-1zM22 32h1v1h-1zM35 37h1v1h-1zM6 41h1v1h-1zM33 44h1v1h-1zM23 46h1v1h-1zM65 49h1v1h-1z"/><path fill="#235a2d" d="M52 24h1v1h-1zM-1 28h1v1h-1zM71 47h1v1h-1zM74 53h1v1h-1zM39 60h1v1h-1zM39 67h1v1h-1z"/><path fill="#2d7d37" d="M53 24h1v1h-1zM7 33h1v1h-1zM33 38h1v1h-1zM19 50h1v1h-1zM71 50h1v1h-1z"/><path fill="#2d6946" d="M54 24h1v1h-1zM67 27h1v1h-1zM50 32h1v1h-1zM35 36h1v1h-1zM30 43h1v1h-1zM70 47h1v1h-1zM46 58h1v1h-1z"/><path fill="#328c41" d="M56 24h1v1h-1zM30 28h1v1h-1z"/><path fill="#2d2341" d="M57 24h1v1h-1zM74 39h1v1h-1z"/><path fill="#41875f" d="M59 24h1v1h-1zM69 26h1v1h-1z"/><path fill="#375f64" d="M60 24h1v1h-1z"/><path fill="#28503c" d="M61 24h1v1h-1zM31 31h1v1h-1zM70 40h1v1h-1zM51 45h1v1h-1zM23 47h1v1h-1zM6 52h1v1h-1zM23 57h1v1h-1zM71 58h1v1h-1zM73 60h1v1h-1z"/><path fill="#418241" d="M63 24h1v1h-1z"/><path fill="#196419" d="M65 24h1v1h-1zM12 62h1v1h-1z"/><path fill="#195028" d="M66 24h1v1h-1zM53 56h1v1h-1z"/><path fill="#465f50" d="M68 24h1v1h-1zM6 55h1v1h-1z"/><path fill="#3c5a4b" d="M69 24h1v1h-1zM24 41h1v1h-1zM60 45h1v1h-1zM57 56h1v1h-1zM68 63h1v1h-1zM62 68h1v1h-1z"/><path fill="#4b4664" d="M70 24h1v1h-1z"/><path fill="#3c7d55" d="M71 24h1v1h-1zM30 46h1v1h-1zM5 47h1v1h-1z"/><path fill="#286e37" d="M74 24h1v1h-1zM44 33h1v1h-1zM12 46h1v1h-1zM38 54h1v1h-1z"/><path fill="#466455" d="M-1 25h1v1h-1z"/><path fill="#376e37" d="M0 25h1v1h-1z"/><path fill="#3c6e41" d="M1 25h1v1h-1zM37 56h1v1h-1z"/><path fill="#5f6478" d="M2 25h1v1h-1zM0 33h1v1h-1z"/><path fill="#2d0f46" d="M3 25h1v1h-1z"/><path fill="#324b3c" d="M7 25h1v1h-1zM69 41h1v1h-1zM17 43h1v1h-1zM46 53h1v1h-1zM15 60h1v1h-1zM46 62h1v1h-1zM12 66h1v1h-1zM48 66h1v1h-1zM53 68h1v1h-1z"/><path fill="#326e37" d="M9 25h1v1h-1zM28 59h1v1h-1z"/><path fill="#14371e" d="M10 25h1v1h-1zM14 28h1v1h-1z"/><path fill="#4b5064" d="M13 25h1v1h-1z"/><path fill="#469155" d="M14 25h1v1h-1zM37 57h1v1h-1zM73 66h1v1h-1z"/><path fill="#233c32" d="M15 25h1v1h-1zM22 29h1v1h-1zM40 41h1v1h-1zM12 50h1v1h-1zM46 51h1v1h-1zM72 58h1v1h-1z"/><path fill="#1e501e" d="M18 25h1v1h-1z"/><path fill="#37823c" d="M20 25h1v1h-1z"/><path fill="#0f5a1e" d="M21 25h1v1h-1zM46 48h1v1h-1z"/><path fill="#324150" d="M23 25h1v1h-1z"/><path fill="#198237" d="M27 25h1v1h-1z"/><path fill="#2d8c3c" d="M28 25h1v1h-1zM44 59h1v1h-1zM25 62h1v1h-1z"/><path fill="#4b6e5f" d="M29 25h1v1h-1zM4 67h1v1h-1z"/><path fill="#3c7850" d="M30 25h1v1h-1zM55 51h1v1h-1zM1 57h1v1h-1z"/><path fill="#46be5f" d="M31 25h1v1h-1z"/><path fill="#197332" d="M32 25h1v1h-1z"/><path fill="#41d750" d="M35 25h1v1h-1z"/><path fill="#6eff87" d="M36 25h1v1h-1z"/><path fill="#8cff87" d="M37 25h1v1h-1z"/><path fill="#50f555" d="M38 25h1v1h-1z"/><path fill="#19a019" d="M39 25h1v1h-1z"/><path fill="#32a53c" d="M40 25h1v1h-1z"/><path fill="#46b44b" d="M41 25h1v1h-1z"/><path fill="#285a4b" d="M42 25h1v1h-1zM22 44h1v1h-1z"/><path fill="#2d7d32" d="M43 25h1v1h-1zM58 46h1v1h-1zM20 50h1v1h-1z"/><path fill="#196932" d="M44 25h1v1h-1zM7 40h1v1h-1z"/><path fill="#507d64" d="M46 25h1v1h-1z"/><path fill="#285f3c" d="M48 25h1v1h-1zM30 36h1v1h-1zM63 47h1v1h-1zM51 51h1v1h-1zM61 52h1v1h-1zM42 53h1v1h-1zM3 55h1v1h-1zM2 64h1v1h-1zM39 65h1v1h-1z"/><path fill="#283750" d="M49 25h1v1h-1z"/><path fill="#46555f" d="M50 25h1v1h-1z"/><path fill="#197823" d="M52 25h1v1h-1z"/><path fill="#144b32" d="M54 25h1v1h-1z"/><path fill="#3c785a" d="M55 25h1v1h-1zM59 64h1v1h-1z"/><path fill="#411e55" d="M56 25h1v1h-1z"/><path fill="#230f2d" d="M58 25h1v1h-1zM37 67h1v1h-1z"/><path fill="#1e5a37" d="M60 25h1v1h-1zM25 46h1v1h-1z"/><path fill="#1e5028" d="M61 25h1v1h-1zM40 56h1v1h-1z"/><path fill="#234632" d="M62 25h1v1h-1zM65 30h1v1h-1zM11 44h1v1h-1zM46 57h1v1h-1zM4 60h1v1h-1zM61 61h1v1h-1zM31 64h1v1h-1z"/><path fill="#2d3250" d="M63 25h1v1h-1z"/><path fill="#41785f" d="M64 25h1v1h-1z"/><path fill="#415a5f" d="M65 25h1v1h-1z"/><path fill="#144b23" d="M66 25h1v1h-1zM23 40h1v1h-1zM71 41h1v1h-1z"/><path fill="#3c6441" d="M68 25h1v1h-1z"/><path fill="#32554b" d="M71 25h1v1h-1zM43 34h1v1h-1zM32 43h1v1h-1zM72 48h1v1h-1zM20 63h1v1h-1zM2 65h1v1h-1z"/><path fill="#416e46" d="M72 25h1v1h-1zM63 37h1v1h-1zM22 49h1v1h-1z"/><path fill="#415f41" d="M73 25h1v1h-1z"/><path fill="#4b785f" d="M74 25h1v1h-1z"/><path fill="#50466e" d="M-1 26h1v1h-1z"/><path fill="#323746" d="M4 26h1v1h-1zM61 35h1v1h-1zM73 62h1v1h-1z"/><path fill="#556e69" d="M5 26h1v1h-1z"/><path fill="#323741" d="M6 26h1v1h-1zM53 29h1v1h-1zM53 39h1v1h-1zM4 55h1v1h-1zM24 62h1v1h-1z"/><path fill="#232823" d="M7 26h1v1h-1zM13 43h1v1h-1z"/><path fill="#2d6932" d="M8 26h1v1h-1zM68 33h1v1h-1zM46 36h1v1h-1zM54 62h1v1h-1zM-1 63h1v1h-1z"/><path fill="#325f4b" d="M11 26h1v1h-1zM47 45h1v1h-1zM35 46h1v1h-1zM29 48h1v1h-1z"/><path fill="#37aa55" d="M13 26h1v1h-1z"/><path fill="#231e37" d="M14 26h1v1h-1zM27 64h1v1h-1z"/><path fill="#1e283c" d="M15 26h1v1h-1zM59 53h1v1h-1z"/><path fill="#1e4637" d="M16 26h1v1h-1zM36 60h1v1h-1z"/><path fill="#0f5f23" d="M17 26h1v1h-1z"/><path fill="#3c3c4b" d="M19 26h1v1h-1zM21 44h1v1h-1z"/><path fill="#2d4628" d="M21 26h1v1h-1zM43 40h1v1h-1z"/><path fill="#1e4132" d="M24 26h1v1h-1zM63 27h1v1h-1zM11 33h1v1h-1zM10 35h1v1h-1z"/><path fill="#286428" d="M26 26h1v1h-1z"/><path fill="#377337" d="M27 26h1v1h-1z"/><path fill="#327d4b" d="M28 26h1v1h-1zM64 41h1v1h-1zM7 45h1v1h-1zM55 54h1v1h-1zM63 59h1v1h-1z"/><path fill="#417d50" d="M29 26h1v1h-1zM35 31h1v1h-1zM44 35h1v1h-1zM73 50h1v1h-1z"/><path fill="#328737" d="M31 26h1v1h-1z"/><path fill="#2d9b55" d="M33 26h1v1h-1z"/><path fill="#2daa46" d="M34 26h1v1h-1z"/><path fill="#2db450" d="M35 26h1v1h-1z"/><path fill="#9beb91" d="M36 26h1v1h-1z"/><path fill="#cdffaf" d="M37 26h1v1h-1z"/><path fill="#87dc82" d="M38 26h1v1h-1z"/><path fill="#2d9141" d="M39 26h1v1h-1zM34 57h1v1h-1z"/><path fill="#3ca550" d="M40 26h1v1h-1z"/><path fill="#328c55" d="M41 26h1v1h-1z"/><path fill="#23783c" d="M42 26h1v1h-1zM27 56h1v1h-1z"/><path fill="#3c5f50" d="M43 26h1v1h-1zM62 31h1v1h-1zM70 43h1v1h-1zM43 57h1v1h-1z"/><path fill="#3c8c5a" d="M44 26h1v1h-1z"/><path fill="#4b7864" d="M45 26h1v1h-1zM11 47h1v1h-1z"/><path fill="#326946" d="M46 26h1v1h-1zM51 32h1v1h-1zM2 34h1v1h-1zM43 37h1v1h-1zM72 41h1v1h-1zM12 45h1v1h-1zM38 47h1v1h-1zM64 58h1v1h-1zM40 59h1v1h-1zM18 67h1v1h-1z"/><path fill="#4b5555" d="M47 26h1v1h-1z"/><path fill="#19412d" d="M48 26h1v1h-1zM26 49h1v1h-1z"/><path fill="#2d7837" d="M49 26h1v1h-1zM72 44h1v1h-1zM72 50h1v1h-1zM35 62h1v1h-1z"/><path fill="#4b5f6e" d="M50 26h1v1h-1z"/><path fill="#1e4641" d="M51 26h1v1h-1zM17 34h1v1h-1zM68 48h1v1h-1z"/><path fill="#143c37" d="M52 26h1v1h-1z"/><path fill="#23232d" d="M53 26h1v1h-1zM74 54h1v1h-1z"/><path fill="#2d465a" d="M56 26h1v1h-1z"/><path fill="#2d5541" d="M57 26h1v1h-1zM25 31h1v1h-1zM11 34h1v1h-1zM48 43h1v1h-1zM5 45h1v1h-1zM69 46h1v1h-1zM61 56h1v1h-1zM28 57h1v1h-1zM40 62h1v1h-1z"/><path fill="#323246" d="M58 26h1v1h-1zM42 66h1v1h-1z"/><path fill="#507869" d="M59 26h1v1h-1z"/><path fill="#28414b" d="M61 26h1v1h-1zM30 45h1v1h-1z"/><path fill="#235a28" d="M65 26h1v1h-1zM4 32h1v1h-1z"/><path fill="#46825f" d="M66 26h1v1h-1z"/><path fill="#285041" d="M67 26h1v1h-1zM69 44h1v1h-1zM45 61h1v1h-1z"/><path fill="#375a4b" d="M68 26h1v1h-1zM15 42h1v1h-1zM49 51h1v1h-1z"/><path fill="#234137" d="M71 26h1v1h-1zM65 31h1v1h-1zM49 37h1v1h-1zM7 46h1v1h-1zM58 55h1v1h-1zM72 55h1v1h-1zM32 59h1v1h-1z"/><path fill="#327d41" d="M72 26h1v1h-1zM2 29h1v1h-1zM17 35h1v1h-1z"/><path fill="#3c8c4b" d="M74 26h1v1h-1zM43 59h1v1h-1z"/><path fill="#32784b" d="M-1 27h1v1h-1zM43 32h1v1h-1zM30 53h1v1h-1zM19 55h1v1h-1zM66 58h1v1h-1z"/><path fill="#414b5a" d="M0 27h1v1h-1z"/><path fill="#4b645f" d="M1 27h1v1h-1z"/><path fill="#32414b" d="M4 27h1v1h-1zM64 37h1v1h-1zM34 43h1v1h-1zM23 59h1v1h-1zM52 59h1v1h-1z"/><path fill="#373c55" d="M7 27h1v1h-1zM36 36h1v1h-1zM21 52h1v1h-1z"/><path fill="#236428" d="M10 27h1v1h-1zM11 60h1v1h-1z"/><path fill="#32194b" d="M11 27h1v1h-1zM13 33h1v1h-1z"/><path fill="#19551e" d="M12 27h1v1h-1zM42 40h1v1h-1zM42 43h1v1h-1zM26 67h1v1h-1z"/><path fill="#235023" d="M13 27h1v1h-1zM60 29h1v1h-1zM16 41h1v1h-1zM50 48h1v1h-1zM37 53h1v1h-1zM41 53h1v1h-1zM33 66h1v1h-1z"/><path fill="#235537" d="M15 27h1v1h-1zM57 28h1v1h-1z"/><path fill="#231e3c" d="M16 27h1v1h-1z"/><path fill="#197d2d" d="M17 27h1v1h-1z"/><path fill="#284655" d="M21 27h1v1h-1z"/><path fill="#1e551e" d="M26 27h1v1h-1zM56 38h1v1h-1z"/><path fill="#379155" d="M28 27h1v1h-1zM35 49h1v1h-1z"/><path fill="#41a04b" d="M29 27h1v1h-1z"/><path fill="#239b37" d="M30 27h1v1h-1z"/><path fill="#23b441" d="M31 27h1v1h-1z"/><path fill="#0f8c1e" d="M32 27h1v1h-1z"/><path fill="#378c55" d="M33 27h1v1h-1z"/><path fill="#328746" d="M35 27h1v1h-1zM47 28h1v1h-1zM36 31h1v1h-1zM3 59h1v1h-1z"/><path fill="#5fd75f" d="M36 27h1v1h-1z"/><path fill="#73d782" d="M37 27h1v1h-1z"/><path fill="#69b978" d="M38 27h1v1h-1z"/><path fill="#32aa5a" d="M39 27h1v1h-1z"/><path fill="#32c850" d="M40 27h1v1h-1z"/><path fill="#50c86e" d="M41 27h1v1h-1z"/><path fill="#41b455" d="M42 27h1v1h-1z"/><path fill="#509b69" d="M43 27h1v1h-1z"/><path fill="#2d783c" d="M44 27h1v1h-1zM67 37h1v1h-1zM27 48h1v1h-1zM31 59h1v1h-1zM58 68h1v1h-1z"/><path fill="#3c9b5a" d="M45 27h1v1h-1z"/><path fill="#376950" d="M46 27h1v1h-1zM41 48h1v1h-1zM6 58h1v1h-1z"/><path fill="#197837" d="M48 27h1v1h-1z"/><path fill="#1e6e2d" d="M50 27h1v1h-1zM26 37h1v1h-1zM-1 38h1v1h-1zM41 60h1v1h-1z"/><path fill="#199132" d="M51 27h1v1h-1z"/><path fill="#0f0f1e" d="M52 27h1v1h-1z"/><path fill="#232332" d="M54 27h1v1h-1zM72 36h1v1h-1z"/><path fill="#3c6946" d="M55 27h1v1h-1z"/><path fill="#419146" d="M56 27h1v1h-1zM24 42h1v1h-1z"/><path fill="#4b826e" d="M57 27h1v1h-1z"/><path fill="#146423" d="M61 27h1v1h-1zM8 67h1v1h-1z"/><path fill="#194619" d="M62 27h1v1h-1zM36 43h1v1h-1z"/><path fill="#3c505f" d="M64 27h1v1h-1zM0 48h1v1h-1z"/><path fill="#231e28" d="M68 27h1v1h-1zM69 35h1v1h-1zM63 62h1v1h-1z"/><path fill="#1e6928" d="M69 27h1v1h-1z"/><path fill="#41283c" d="M70 27h1v1h-1z"/><path fill="#326e4b" d="M71 27h1v1h-1zM13 54h1v1h-1zM32 57h1v1h-1z"/><path fill="#0f3c28" d="M72 27h1v1h-1z"/><path fill="#282841" d="M74 27h1v1h-1zM15 39h1v1h-1z"/><path fill="#417355" d="M0 28h1v1h-1zM62 29h1v1h-1zM59 43h1v1h-1z"/><path fill="#465f55" d="M1 28h1v1h-1zM0 59h1v1h-1z"/><path fill="#414b4b" d="M4 28h1v1h-1z"/><path fill="#32824b" d="M5 28h1v1h-1zM1 43h1v1h-1zM34 55h1v1h-1z"/><path fill="#0f4b14" d="M6 28h1v1h-1z"/><path fill="#466950" d="M8 28h1v1h-1zM23 66h1v1h-1z"/><path fill="#28643c" d="M9 28h1v1h-1zM40 35h1v1h-1zM20 49h1v1h-1zM13 55h1v1h-1zM54 55h1v1h-1zM0 67h1v1h-1z"/><path fill="#1e3c1e" d="M10 28h1v1h-1z"/><path fill="#284b2d" d="M11 28h1v1h-1zM5 40h1v1h-1zM4 45h1v1h-1zM38 63h1v1h-1z"/><path fill="#286e32" d="M12 28h1v1h-1zM54 38h1v1h-1zM15 59h1v1h-1z"/><path fill="#19411e" d="M16 28h1v1h-1z"/><path fill="#190a23" d="M17 28h1v1h-1z"/><path fill="#193223" d="M18 28h1v1h-1zM52 42h1v1h-1zM50 56h1v1h-1z"/><path fill="#0a3223" d="M19 28h1v1h-1z"/><path fill="#146e23" d="M20 28h1v1h-1z"/><path fill="#2d6e41" d="M24 28h1v1h-1zM45 48h1v1h-1zM59 48h1v1h-1z"/><path fill="#2d693c" d="M27 28h1v1h-1zM51 64h1v1h-1z"/><path fill="#4b8750" d="M28 28h1v1h-1z"/><path fill="#325f37" d="M31 28h1v1h-1zM7 43h1v1h-1zM50 51h1v1h-1z"/><path fill="#37a54b" d="M32 28h1v1h-1z"/><path fill="#377350" d="M33 28h1v1h-1zM34 31h1v1h-1zM49 59h1v1h-1zM67 60h1v1h-1z"/><path fill="#2d8c46" d="M34 28h1v1h-1z"/><path fill="#2d7d2d" d="M35 28h1v1h-1z"/><path fill="#1e9146" d="M36 28h1v1h-1z"/><path fill="#37c35a" d="M37 28h1v1h-1z"/><path fill="#3cc364" d="M38 28h1v1h-1z"/><path fill="#37eb5f" d="M39 28h1v1h-1z"/><path fill="#41d773" d="M40 28h1v1h-1z"/><path fill="#3cc86e" d="M41 28h1v1h-1z"/><path fill="#376e5a" d="M42 28h1v1h-1zM37 51h1v1h-1z"/><path fill="#4ba578" d="M43 28h1v1h-1z"/><path fill="#416e64" d="M44 28h1v1h-1zM34 64h1v1h-1zM55 67h1v1h-1z"/><path fill="#23784b" d="M48 28h1v1h-1zM38 44h1v1h-1zM30 51h1v1h-1z"/><path fill="#32aa46" d="M49 28h1v1h-1z"/><path fill="#23a51e" d="M50 28h1v1h-1z"/><path fill="#143c32" d="M51 28h1v1h-1z"/><path fill="#231e2d" d="M53 28h1v1h-1zM39 58h1v1h-1z"/><path fill="#235046" d="M54 28h1v1h-1zM39 42h1v1h-1zM30 48h1v1h-1zM29 68h1v1h-1z"/><path fill="#236e23" d="M55 28h1v1h-1z"/><path fill="#286446" d="M62 28h1v1h-1zM27 34h1v1h-1zM47 39h1v1h-1zM61 50h1v1h-1z"/><path fill="#1e6e1e" d="M63 28h1v1h-1z"/><path fill="#142d32" d="M65 28h1v1h-1z"/><path fill="#37825a" d="M66 28h1v1h-1z"/><path fill="#23323c" d="M67 28h1v1h-1zM49 53h1v1h-1zM70 60h1v1h-1zM-1 61h1v1h-1z"/><path fill="#46505f" d="M68 28h1v1h-1z"/><path fill="#3c464b" d="M69 28h1v1h-1zM18 37h1v1h-1zM2 58h1v1h-1zM49 65h1v1h-1z"/><path fill="#284b37" d="M71 28h1v1h-1zM10 43h1v1h-1zM63 43h1v1h-1zM23 51h1v1h-1zM65 56h1v1h-1zM25 65h1v1h-1zM49 66h1v1h-1z"/><path fill="#23464b" d="M72 28h1v1h-1z"/><path fill="#28194b" d="M73 28h1v1h-1z"/><path fill="#233237" d="M74 28h1v1h-1zM26 46h1v1h-1zM8 48h1v1h-1z"/><path fill="#2d7341" d="M-1 29h1v1h-1zM20 36h1v1h-1zM3 45h1v1h-1zM58 47h1v1h-1zM72 51h1v1h-1zM65 64h1v1h-1z"/><path fill="#2d4141" d="M0 29h1v1h-1zM51 30h1v1h-1zM1 40h1v1h-1zM5 57h1v1h-1zM60 61h1v1h-1z"/><path fill="#2d5a32" d="M1 29h1v1h-1z"/><path fill="#2d5f46" d="M3 29h1v1h-1zM63 36h1v1h-1zM52 45h1v1h-1zM39 52h1v1h-1zM21 54h1v1h-1zM30 54h1v1h-1z"/><path fill="#378246" d="M4 29h1v1h-1zM61 30h1v1h-1z"/><path fill="#2d2832" d="M5 29h1v1h-1zM0 30h1v1h-1zM15 30h1v1h-1z"/><path fill="#1e5a23" d="M6 29h1v1h-1zM60 56h1v1h-1zM17 68h1v1h-1z"/><path fill="#2d2d32" d="M7 29h1v1h-1zM74 35h1v1h-1z"/><path fill="#37503c" d="M9 29h1v1h-1zM68 40h1v1h-1z"/><path fill="#3c694b" d="M10 29h1v1h-1zM57 29h1v1h-1zM70 31h1v1h-1zM67 53h1v1h-1zM44 63h1v1h-1z"/><path fill="#192823" d="M11 29h1v1h-1zM58 52h1v1h-1z"/><path fill="#145519" d="M14 29h1v1h-1z"/><path fill="#193228" d="M15 29h1v1h-1zM18 32h1v1h-1zM29 45h1v1h-1zM10 62h1v1h-1z"/><path fill="#238237" d="M16 29h1v1h-1z"/><path fill="#0f4619" d="M17 29h1v1h-1zM22 34h1v1h-1zM30 44h1v1h-1zM53 61h1v1h-1z"/><path fill="#0a281e" d="M18 29h1v1h-1z"/><path fill="#418255" d="M20 29h1v1h-1zM48 34h1v1h-1zM1 53h1v1h-1z"/><path fill="#2d8255" d="M21 29h1v1h-1z"/><path fill="#145a2d" d="M23 29h1v1h-1zM-1 37h1v1h-1zM11 53h1v1h-1z"/><path fill="#146e28" d="M24 29h1v1h-1zM56 32h1v1h-1z"/><path fill="#322d41" d="M25 29h1v1h-1zM53 59h1v1h-1z"/><path fill="#323c37" d="M26 29h1v1h-1zM73 41h1v1h-1zM14 50h1v1h-1zM31 68h1v1h-1zM54 68h1v1h-1z"/><path fill="#32555a" d="M27 29h1v1h-1zM58 34h1v1h-1zM40 58h1v1h-1zM73 65h1v1h-1z"/><path fill="#465f4b" d="M28 29h1v1h-1zM2 55h1v1h-1z"/><path fill="#1e463c" d="M29 29h1v1h-1zM53 37h1v1h-1zM8 51h1v1h-1z"/><path fill="#2d7d28" d="M33 29h1v1h-1z"/><path fill="#327841" d="M35 29h1v1h-1zM13 37h1v1h-1zM29 60h1v1h-1z"/><path fill="#2db94b" d="M36 29h1v1h-1z"/><path fill="#4bb473" d="M38 29h1v1h-1z"/><path fill="#3ccd64" d="M39 29h1v1h-1z"/><path fill="#46eb87" d="M40 29h1v1h-1z"/><path fill="#41dc5a" d="M41 29h1v1h-1z"/><path fill="#3c8c64" d="M42 29h1v1h-1zM71 32h1v1h-1z"/><path fill="#329646" d="M43 29h1v1h-1zM57 39h1v1h-1z"/><path fill="#3c7d5f" d="M45 29h1v1h-1zM60 43h1v1h-1z"/><path fill="#3c4b50" d="M46 29h1v1h-1zM-1 35h1v1h-1zM25 38h1v1h-1zM54 49h1v1h-1zM9 63h1v1h-1z"/><path fill="#328c50" d="M47 29h1v1h-1z"/><path fill="#285f4b" d="M49 29h1v1h-1zM60 48h1v1h-1z"/><path fill="#32965a" d="M50 29h1v1h-1z"/><path fill="#194132" d="M51 29h1v1h-1zM31 45h1v1h-1zM24 56h1v1h-1z"/><path fill="#285f46" d="M54 29h1v1h-1zM51 33h1v1h-1zM44 36h1v1h-1z"/><path fill="#46825a" d="M55 29h1v1h-1z"/><path fill="#373c46" d="M58 29h1v1h-1z"/><path fill="#1e2332" d="M59 29h1v1h-1zM0 38h1v1h-1zM60 62h1v1h-1z"/><path fill="#1e371e" d="M61 29h1v1h-1zM59 40h1v1h-1z"/><path fill="#194b2d" d="M63 29h1v1h-1zM22 52h1v1h-1z"/><path fill="#322d3c" d="M64 29h1v1h-1zM32 61h1v1h-1z"/><path fill="#325046" d="M65 29h1v1h-1zM58 38h1v1h-1zM25 54h1v1h-1zM25 55h1v1h-1zM0 61h1v1h-1z"/><path fill="#2d282d" d="M66 29h1v1h-1zM57 35h1v1h-1z"/><path fill="#415050" d="M67 29h1v1h-1zM45 46h1v1h-1zM5 58h1v1h-1z"/><path fill="#3c3c69" d="M68 29h1v1h-1z"/><path fill="#41645a" d="M69 29h1v1h-1zM37 34h1v1h-1z"/><path fill="#283232" d="M71 29h1v1h-1zM12 31h1v1h-1zM53 31h1v1h-1zM19 33h1v1h-1zM25 36h1v1h-1z"/><path fill="#235a19" d="M72 29h1v1h-1zM40 54h1v1h-1z"/><path fill="#374b50" d="M74 29h1v1h-1zM59 36h1v1h-1zM21 37h1v1h-1zM8 63h1v1h-1zM2 66h1v1h-1z"/><path fill="#2d3c46" d="M-1 30h1v1h-1zM2 39h1v1h-1zM-1 43h1v1h-1zM40 48h1v1h-1zM50 68h1v1h-1z"/><path fill="#325a2d" d="M1 30h1v1h-1zM68 60h1v1h-1zM67 67h1v1h-1z"/><path fill="#2d4b46" d="M3 30h1v1h-1zM39 36h1v1h-1zM63 60h1v1h-1z"/><path fill="#41874b" d="M4 30h1v1h-1z"/><path fill="#374150" d="M8 30h1v1h-1zM54 33h1v1h-1zM25 44h1v1h-1zM43 64h1v1h-1z"/><path fill="#323c41" d="M9 30h1v1h-1zM54 48h1v1h-1zM54 51h1v1h-1zM55 52h1v1h-1zM69 53h1v1h-1zM35 61h1v1h-1z"/><path fill="#142d28" d="M10 30h1v1h-1zM32 67h1v1h-1z"/><path fill="#0a320f" d="M17 30h1v1h-1zM11 51h1v1h-1z"/><path fill="#1e7332" d="M18 30h1v1h-1z"/><path fill="#2d3737" d="M19 30h1v1h-1zM48 53h1v1h-1zM54 54h1v1h-1z"/><path fill="#19372d" d="M20 30h1v1h-1zM15 62h1v1h-1z"/><path fill="#322841" d="M21 30h1v1h-1zM54 56h1v1h-1z"/><path fill="#325f3c" d="M22 30h1v1h-1zM65 34h1v1h-1zM31 39h1v1h-1zM54 47h1v1h-1zM45 52h1v1h-1zM74 60h1v1h-1z"/><path fill="#326941" d="M23 30h1v1h-1zM38 50h1v1h-1zM26 59h1v1h-1zM43 60h1v1h-1zM42 67h1v1h-1z"/><path fill="#2d3746" d="M25 30h1v1h-1z"/><path fill="#283741" d="M26 30h1v1h-1zM46 37h1v1h-1zM4 44h1v1h-1zM23 52h1v1h-1z"/><path fill="#285f28" d="M27 30h1v1h-1zM52 67h1v1h-1z"/><path fill="#2d553c" d="M30 30h1v1h-1zM44 32h1v1h-1zM32 42h1v1h-1zM-1 53h1v1h-1zM23 58h1v1h-1zM46 65h1v1h-1z"/><path fill="#23961e" d="M31 30h1v1h-1z"/><path fill="#378c46" d="M32 30h1v1h-1z"/><path fill="#37734b" d="M33 30h1v1h-1zM35 33h1v1h-1zM13 38h1v1h-1zM65 52h1v1h-1z"/><path fill="#558c6e" d="M34 30h1v1h-1zM1 45h1v1h-1z"/><path fill="#23af46" d="M35 30h1v1h-1z"/><path fill="#378c4b" d="M36 30h1v1h-1zM50 30h1v1h-1z"/><path fill="#289646" d="M37 30h1v1h-1zM57 33h1v1h-1z"/><path fill="#37b950" d="M38 30h1v1h-1z"/><path fill="#41d26e" d="M39 30h1v1h-1z"/><path fill="#46d77d" d="M40 30h1v1h-1z"/><path fill="#32d24b" d="M41 30h1v1h-1z"/><path fill="#3c875a" d="M42 30h1v1h-1z"/><path fill="#2d915a" d="M43 30h1v1h-1z"/><path fill="#146919" d="M44 30h1v1h-1z"/><path fill="#1e692d" d="M47 30h1v1h-1zM39 55h1v1h-1zM47 56h1v1h-1z"/><path fill="#147d2d" d="M48 30h1v1h-1z"/><path fill="#237837" d="M49 30h1v1h-1zM59 32h1v1h-1zM54 41h1v1h-1z"/><path fill="#232832" d="M53 30h1v1h-1zM29 39h1v1h-1z"/><path fill="#416e4b" d="M54 30h1v1h-1zM54 42h1v1h-1zM15 54h1v1h-1z"/><path fill="#4b1e4b" d="M55 30h1v1h-1z"/><path fill="#0f4628" d="M58 30h1v1h-1z"/><path fill="#0a5519" d="M59 30h1v1h-1z"/><path fill="#2d8746" d="M62 30h1v1h-1z"/><path fill="#504155" d="M63 30h1v1h-1z"/><path fill="#1e2d19" d="M64 30h1v1h-1zM25 33h1v1h-1z"/><path fill="#326432" d="M67 30h1v1h-1zM38 57h1v1h-1z"/><path fill="#371441" d="M68 30h1v1h-1z"/><path fill="#324628" d="M70 30h1v1h-1z"/><path fill="#3c873c" d="M72 30h1v1h-1z"/><path fill="#2d4150" d="M-1 31h1v1h-1z"/><path fill="#235a37" d="M1 31h1v1h-1zM22 38h1v1h-1zM43 38h1v1h-1zM68 59h1v1h-1z"/><path fill="#328237" d="M2 31h1v1h-1z"/><path fill="#23281e" d="M4 31h1v1h-1z"/><path fill="#145a14" d="M6 31h1v1h-1z"/><path fill="#4b966e" d="M8 31h1v1h-1z"/><path fill="#3c4b5f" d="M10 31h1v1h-1zM26 58h1v1h-1z"/><path fill="#1e5523" d="M13 31h1v1h-1zM5 36h1v1h-1zM50 61h1v1h-1z"/><path fill="#322d46" d="M15 31h1v1h-1zM11 58h1v1h-1z"/><path fill="#192814" d="M16 31h1v1h-1z"/><path fill="#0f4b23" d="M17 31h1v1h-1z"/><path fill="#283c37" d="M19 31h1v1h-1zM21 47h1v1h-1zM51 56h1v1h-1zM8 58h1v1h-1z"/><path fill="#233c28" d="M20 31h1v1h-1zM2 67h1v1h-1z"/><path fill="#374b41" d="M21 31h1v1h-1zM13 36h1v1h-1z"/><path fill="#467d5a" d="M22 31h1v1h-1z"/><path fill="#415555" d="M24 31h1v1h-1z"/><path fill="#0f371e" d="M27 31h1v1h-1zM24 34h1v1h-1z"/><path fill="#3c5f5f" d="M28 31h1v1h-1zM7 34h1v1h-1zM53 67h1v1h-1z"/><path fill="#14502d" d="M30 31h1v1h-1z"/><path fill="#46505a" d="M32 31h1v1h-1zM35 58h1v1h-1z"/><path fill="#23912d" d="M37 31h1v1h-1z"/><path fill="#23c84b" d="M38 31h1v1h-1z"/><path fill="#50e67d" d="M39 31h1v1h-1z"/><path fill="#2dcd55" d="M40 31h1v1h-1zM33 49h1v1h-1z"/><path fill="#23b93c" d="M41 31h1v1h-1z"/><path fill="#239137" d="M42 31h1v1h-1z"/><path fill="#145023" d="M43 31h1v1h-1zM4 42h1v1h-1zM10 45h1v1h-1zM39 66h1v1h-1zM9 67h1v1h-1z"/><path fill="#286e41" d="M45 31h1v1h-1zM68 34h1v1h-1zM56 39h1v1h-1z"/><path fill="#19553c" d="M46 31h1v1h-1z"/><path fill="#46b973" d="M48 31h1v1h-1z"/><path fill="#145532" d="M50 31h1v1h-1zM58 33h1v1h-1zM5 37h1v1h-1z"/><path fill="#14731e" d="M51 31h1v1h-1z"/><path fill="#1e4b1e" d="M52 31h1v1h-1zM14 58h1v1h-1z"/><path fill="#1e1914" d="M54 31h1v1h-1z"/><path fill="#3c3246" d="M55 31h1v1h-1z"/><path fill="#414641" d="M56 31h1v1h-1z"/><path fill="#3c6450" d="M58 31h1v1h-1zM61 32h1v1h-1zM50 44h1v1h-1zM20 53h1v1h-1zM2 63h1v1h-1z"/><path fill="#32734b" d="M60 31h1v1h-1zM62 48h1v1h-1zM6 61h1v1h-1z"/><path fill="#3c463c" d="M64 31h1v1h-1z"/><path fill="#237841" d="M66 31h1v1h-1z"/><path fill="#235528" d="M67 31h1v1h-1zM38 39h1v1h-1zM32 45h1v1h-1zM56 59h1v1h-1z"/><path fill="#1e410f" d="M68 31h1v1h-1z"/><path fill="#285528" d="M71 31h1v1h-1zM73 36h1v1h-1zM44 52h1v1h-1zM13 65h1v1h-1zM31 66h1v1h-1z"/><path fill="#3c4164" d="M73 31h1v1h-1zM60 49h1v1h-1zM8 57h1v1h-1z"/><path fill="#14692d" d="M74 31h1v1h-1z"/><path fill="#235f46" d="M-1 32h1v1h-1z"/><path fill="#322341" d="M0 32h1v1h-1z"/><path fill="#3c415a" d="M1 32h1v1h-1zM20 41h1v1h-1z"/><path fill="#4b735a" d="M2 32h1v1h-1zM56 49h1v1h-1z"/><path fill="#3c5055" d="M3 32h1v1h-1zM58 39h1v1h-1zM60 46h1v1h-1zM12 67h1v1h-1z"/><path fill="#46645f" d="M9 32h1v1h-1z"/><path fill="#46285f" d="M11 32h1v1h-1z"/><path fill="#1e8728" d="M13 32h1v1h-1zM61 44h1v1h-1z"/><path fill="#3c5a5f" d="M14 32h1v1h-1zM0 45h1v1h-1zM29 61h1v1h-1z"/><path fill="#416950" d="M15 32h1v1h-1zM30 55h1v1h-1zM63 66h1v1h-1z"/><path fill="#415a64" d="M16 32h1v1h-1z"/><path fill="#3c695a" d="M19 32h1v1h-1zM70 42h1v1h-1z"/><path fill="#375a55" d="M23 32h1v1h-1zM10 54h1v1h-1z"/><path fill="#282d32" d="M24 32h1v1h-1zM37 37h1v1h-1zM19 42h1v1h-1zM19 43h1v1h-1zM64 63h1v1h-1z"/><path fill="#236e37" d="M27 32h1v1h-1zM25 47h1v1h-1zM28 48h1v1h-1z"/><path fill="#148732" d="M28 32h1v1h-1z"/><path fill="#28372d" d="M29 32h1v1h-1zM70 39h1v1h-1zM16 42h1v1h-1zM70 57h1v1h-1z"/><path fill="#1e5f2d" d="M34 32h1v1h-1zM62 44h1v1h-1zM52 53h1v1h-1z"/><path fill="#41503c" d="M35 32h1v1h-1z"/><path fill="#41915a" d="M36 32h1v1h-1zM32 66h1v1h-1z"/><path fill="#287d46" d="M37 32h1v1h-1zM61 48h1v1h-1z"/><path fill="#2d8c41" d="M38 32h1v1h-1zM57 43h1v1h-1z"/><path fill="#19be37" d="M39 32h1v1h-1z"/><path fill="#23cd41" d="M40 32h1v1h-1z"/><path fill="#23eb55" d="M41 32h1v1h-1z"/><path fill="#3c8c55" d="M42 32h1v1h-1zM6 54h1v1h-1z"/><path fill="#236432" d="M45 32h1v1h-1zM32 38h1v1h-1zM61 38h1v1h-1zM46 49h1v1h-1zM10 66h1v1h-1z"/><path fill="#32642d" d="M46 32h1v1h-1z"/><path fill="#3c693c" d="M47 32h1v1h-1z"/><path fill="#323c4b" d="M48 32h1v1h-1zM70 36h1v1h-1zM43 46h1v1h-1zM27 53h1v1h-1z"/><path fill="#374b4b" d="M49 32h1v1h-1z"/><path fill="#14372d" d="M53 32h1v1h-1zM49 41h1v1h-1z"/><path fill="#1e1e2d" d="M55 32h1v1h-1z"/><path fill="#416e5f" d="M57 32h1v1h-1z"/><path fill="#416e55" d="M58 32h1v1h-1zM72 57h1v1h-1z"/><path fill="#0f5a0f" d="M65 32h1v1h-1z"/><path fill="#146932" d="M66 32h1v1h-1z"/><path fill="#1e3737" d="M67 32h1v1h-1zM-1 40h1v1h-1zM34 41h1v1h-1zM40 65h1v1h-1z"/><path fill="#234623" d="M68 32h1v1h-1z"/><path fill="#41375f" d="M69 32h1v1h-1z"/><path fill="#375a50" d="M70 32h1v1h-1zM60 42h1v1h-1zM72 42h1v1h-1zM14 48h1v1h-1zM47 63h1v1h-1z"/><path fill="#284b23" d="M72 32h1v1h-1zM8 64h1v1h-1zM15 67h1v1h-1z"/><path fill="#282832" d="M73 32h1v1h-1zM64 52h1v1h-1z"/><path fill="#414146" d="M-1 33h1v1h-1z"/><path fill="#2d6937" d="M1 33h1v1h-1zM24 33h1v1h-1zM72 38h1v1h-1zM59 56h1v1h-1zM49 60h1v1h-1zM20 62h1v1h-1zM73 67h1v1h-1z"/><path fill="#1e3c32" d="M5 33h1v1h-1zM32 44h1v1h-1zM28 56h1v1h-1zM69 67h1v1h-1z"/><path fill="#414b46" d="M6 33h1v1h-1zM14 51h1v1h-1z"/><path fill="#232d3c" d="M9 33h1v1h-1zM56 67h1v1h-1z"/><path fill="#1e4141" d="M10 33h1v1h-1zM60 57h1v1h-1z"/><path fill="#1e4632" d="M16 33h1v1h-1zM49 56h1v1h-1zM0 65h1v1h-1z"/><path fill="#1e4b37" d="M17 33h1v1h-1zM65 40h1v1h-1z"/><path fill="#415f4b" d="M21 33h1v1h-1zM6 60h1v1h-1zM32 60h1v1h-1zM41 63h1v1h-1z"/><path fill="#37695a" d="M26 33h1v1h-1z"/><path fill="#233c3c" d="M27 33h1v1h-1zM30 40h1v1h-1zM53 60h1v1h-1z"/><path fill="#14411e" d="M29 33h1v1h-1zM43 51h1v1h-1zM11 63h1v1h-1z"/><path fill="#326446" d="M36 33h1v1h-1zM60 47h1v1h-1zM27 54h1v1h-1zM31 56h1v1h-1z"/><path fill="#233228" d="M37 33h1v1h-1zM18 49h1v1h-1z"/><path fill="#467d55" d="M38 33h1v1h-1zM24 40h1v1h-1zM50 50h1v1h-1z"/><path fill="#14a032" d="M39 33h1v1h-1z"/><path fill="#2ddc5f" d="M40 33h1v1h-1z"/><path fill="#4bd287" d="M41 33h1v1h-1z"/><path fill="#417855" d="M42 33h1v1h-1zM31 34h1v1h-1zM5 46h1v1h-1z"/><path fill="#2d9b41" d="M43 33h1v1h-1z"/><path fill="#2d7841" d="M45 33h1v1h-1zM29 42h1v1h-1z"/><path fill="#32785f" d="M48 33h1v1h-1z"/><path fill="#50695a" d="M50 33h1v1h-1z"/><path fill="#0f6e2d" d="M52 33h1v1h-1z"/><path fill="#321e37" d="M53 33h1v1h-1z"/><path fill="#37874b" d="M56 33h1v1h-1zM52 35h1v1h-1zM22 46h1v1h-1zM66 51h1v1h-1z"/><path fill="#466e5a" d="M60 33h1v1h-1zM25 61h1v1h-1z"/><path fill="#2d6450" d="M63 33h1v1h-1z"/><path fill="#1e0a37" d="M65 33h1v1h-1z"/><path fill="#23283c" d="M66 33h1v1h-1zM52 57h1v1h-1z"/><path fill="#2d1946" d="M69 33h1v1h-1z"/><path fill="#141e28" d="M70 33h1v1h-1z"/><path fill="#37004b" d="M72 33h1v1h-1z"/><path fill="#237328" d="M74 33h1v1h-1zM38 40h1v1h-1z"/><path fill="#37232d" d="M-1 34h1v1h-1z"/><path fill="#234b46" d="M8 34h1v1h-1z"/><path fill="#1e6e41" d="M10 34h1v1h-1z"/><path fill="#236946" d="M12 34h1v1h-1z"/><path fill="#2d5a46" d="M15 34h1v1h-1zM29 47h1v1h-1zM10 50h1v1h-1zM18 53h1v1h-1z"/><path fill="#0f6419" d="M19 34h1v1h-1z"/><path fill="#0f6e19" d="M20 34h1v1h-1z"/><path fill="#2d9b50" d="M25 34h1v1h-1z"/><path fill="#2d3232" d="M28 34h1v1h-1zM18 66h1v1h-1z"/><path fill="#1e2846" d="M29 34h1v1h-1z"/><path fill="#195a28" d="M30 34h1v1h-1zM4 37h1v1h-1zM30 37h1v1h-1zM53 58h1v1h-1z"/><path fill="#37915a" d="M33 34h1v1h-1z"/><path fill="#286950" d="M34 34h1v1h-1z"/><path fill="#23aa3c" d="M38 34h1v1h-1z"/><path fill="#288737" d="M39 34h1v1h-1z"/><path fill="#32a550" d="M40 34h1v1h-1z"/><path fill="#1e8c23" d="M41 34h1v1h-1z"/><path fill="#2da53c" d="M42 34h1v1h-1z"/><path fill="#2d6e3c" d="M45 34h1v1h-1zM3 43h1v1h-1zM15 47h1v1h-1zM21 62h1v1h-1z"/><path fill="#3c645a" d="M47 34h1v1h-1z"/><path fill="#287837" d="M50 34h1v1h-1z"/><path fill="#37af5a" d="M51 34h1v1h-1z"/><path fill="#194b37" d="M52 34h1v1h-1z"/><path fill="#1e4137" d="M53 34h1v1h-1zM66 43h1v1h-1z"/><path fill="#233232" d="M54 34h1v1h-1zM17 66h1v1h-1z"/><path fill="#285f50" d="M55 34h1v1h-1z"/><path fill="#286432" d="M59 34h1v1h-1zM46 59h1v1h-1zM50 60h1v1h-1zM65 63h1v1h-1z"/><path fill="#2d5523" d="M61 34h1v1h-1z"/><path fill="#4b375a" d="M62 34h1v1h-1z"/><path fill="#1e3223" d="M64 34h1v1h-1zM3 40h1v1h-1zM4 57h1v1h-1zM47 62h1v1h-1z"/><path fill="#0a322d" d="M66 34h1v1h-1z"/><path fill="#3c374b" d="M69 34h1v1h-1zM29 40h1v1h-1zM3 61h1v1h-1zM5 64h1v1h-1z"/><path fill="#14412d" d="M70 34h1v1h-1zM39 47h1v1h-1z"/><path fill="#2d0a50" d="M71 34h1v1h-1z"/><path fill="#3c5a50" d="M2 35h1v1h-1zM57 46h1v1h-1zM58 57h1v1h-1zM17 60h1v1h-1zM4 62h1v1h-1z"/><path fill="#1e3723" d="M4 35h1v1h-1zM57 36h1v1h-1zM47 46h1v1h-1z"/><path fill="#3c505a" d="M5 35h1v1h-1zM62 63h1v1h-1z"/><path fill="#2d5a3c" d="M6 35h1v1h-1zM51 42h1v1h-1zM42 55h1v1h-1z"/><path fill="#468255" d="M7 35h1v1h-1zM0 57h1v1h-1z"/><path fill="#416e50" d="M9 35h1v1h-1zM16 35h1v1h-1zM2 40h1v1h-1zM20 48h1v1h-1zM13 61h1v1h-1z"/><path fill="#41555a" d="M11 35h1v1h-1z"/><path fill="#1e3c46" d="M13 35h1v1h-1z"/><path fill="#233746" d="M14 35h1v1h-1zM2 50h1v1h-1z"/><path fill="#324b50" d="M15 35h1v1h-1z"/><path fill="#2d3241" d="M18 35h1v1h-1zM71 44h1v1h-1zM5 53h1v1h-1zM69 65h1v1h-1z"/><path fill="#1e3c28" d="M19 35h1v1h-1zM2 49h1v1h-1z"/><path fill="#145f32" d="M20 35h1v1h-1zM3 42h1v1h-1z"/><path fill="#0f3214" d="M21 35h1v1h-1zM51 46h1v1h-1z"/><path fill="#144b19" d="M22 35h1v1h-1zM54 36h1v1h-1z"/><path fill="#144623" d="M23 35h1v1h-1z"/><path fill="#0f4b28" d="M24 35h1v1h-1zM17 57h1v1h-1z"/><path fill="#2d3246" d="M26 35h1v1h-1zM39 37h1v1h-1zM54 57h1v1h-1z"/><path fill="#378746" d="M27 35h1v1h-1zM61 37h1v1h-1z"/><path fill="#323250" d="M28 35h1v1h-1z"/><path fill="#37414b" d="M29 35h1v1h-1zM63 40h1v1h-1zM17 48h1v1h-1zM4 56h1v1h-1zM63 58h1v1h-1z"/><path fill="#37784b" d="M31 35h1v1h-1zM55 46h1v1h-1z"/><path fill="#053723" d="M32 35h1v1h-1z"/><path fill="#28693c" d="M34 35h1v1h-1zM69 56h1v1h-1z"/><path fill="#2d5546" d="M35 35h1v1h-1zM46 41h1v1h-1zM27 49h1v1h-1zM4 54h1v1h-1zM56 58h1v1h-1zM66 61h1v1h-1z"/><path fill="#378255" d="M42 35h1v1h-1z"/><path fill="#325f50" d="M48 35h1v1h-1z"/><path fill="#507878" d="M49 35h1v1h-1z"/><path fill="#192332" d="M53 35h1v1h-1z"/><path fill="#0a3728" d="M54 35h1v1h-1z"/><path fill="#28282d" d="M55 35h1v1h-1zM66 56h1v1h-1z"/><path fill="#28554b" d="M58 35h1v1h-1zM42 46h1v1h-1z"/><path fill="#556469" d="M59 35h1v1h-1zM72 68h1v1h-1z"/><path fill="#503c69" d="M60 35h1v1h-1z"/><path fill="#2d1e37" d="M62 35h1v1h-1zM5 49h1v1h-1zM10 53h1v1h-1z"/><path fill="#41415a" d="M63 35h1v1h-1zM19 57h1v1h-1z"/><path fill="#147328" d="M64 35h1v1h-1z"/><path fill="#32323c" d="M66 35h1v1h-1zM37 39h1v1h-1zM61 54h1v1h-1zM39 63h1v1h-1zM1 65h1v1h-1z"/><path fill="#236423" d="M70 35h1v1h-1z"/><path fill="#280f19" d="M72 35h1v1h-1z"/><path fill="#41735f" d="M73 35h1v1h-1z"/><path fill="#4b7d64" d="M0 36h1v1h-1z"/><path fill="#1e1e23" d="M1 36h1v1h-1z"/><path fill="#1e372d" d="M4 36h1v1h-1zM18 44h1v1h-1zM42 48h1v1h-1zM10 49h1v1h-1zM74 49h1v1h-1z"/><path fill="#23413c" d="M6 36h1v1h-1zM16 47h1v1h-1zM51 54h1v1h-1zM56 63h1v1h-1z"/><path fill="#414b5f" d="M7 36h1v1h-1zM68 55h1v1h-1z"/><path fill="#235028" d="M8 36h1v1h-1zM36 47h1v1h-1zM44 54h1v1h-1zM45 66h1v1h-1zM64 67h1v1h-1z"/><path fill="#373246" d="M10 36h1v1h-1zM38 56h1v1h-1zM44 61h1v1h-1zM-1 65h1v1h-1z"/><path fill="#193737" d="M12 36h1v1h-1z"/><path fill="#4b8c69" d="M14 36h1v1h-1z"/><path fill="#4b825a" d="M16 36h1v1h-1z"/><path fill="#1e2832" d="M17 36h1v1h-1zM23 53h1v1h-1zM44 68h1v1h-1zM52 68h1v1h-1z"/><path fill="#1e7328" d="M21 36h1v1h-1zM58 51h1v1h-1z"/><path fill="#149123" d="M23 36h1v1h-1z"/><path fill="#051400" d="M26 36h1v1h-1z"/><path fill="#329146" d="M27 36h1v1h-1zM8 66h1v1h-1z"/><path fill="#0f3c19" d="M29 36h1v1h-1zM19 47h1v1h-1z"/><path fill="#1e6e32" d="M31 36h1v1h-1zM52 43h1v1h-1zM73 56h1v1h-1z"/><path fill="#23502d" d="M33 36h1v1h-1zM51 44h1v1h-1zM8 60h1v1h-1zM47 66h1v1h-1z"/><path fill="#1e5a41" d="M34 36h1v1h-1z"/><path fill="#327850" d="M38 36h1v1h-1z"/><path fill="#287841" d="M41 36h1v1h-1z"/><path fill="#327d46" d="M45 36h1v1h-1zM48 46h1v1h-1zM40 47h1v1h-1z"/><path fill="#377d32" d="M48 36h1v1h-1zM68 39h1v1h-1z"/><path fill="#55235f" d="M49 36h1v1h-1z"/><path fill="#3c3750" d="M50 36h1v1h-1z"/><path fill="#3c735a" d="M51 36h1v1h-1z"/><path fill="#055f14" d="M56 36h1v1h-1z"/><path fill="#373c4b" d="M58 36h1v1h-1z"/><path fill="#32693c" d="M60 36h1v1h-1zM30 47h1v1h-1zM16 52h1v1h-1zM9 64h1v1h-1z"/><path fill="#416955" d="M61 36h1v1h-1zM35 59h1v1h-1z"/><path fill="#325541" d="M62 36h1v1h-1zM44 39h1v1h-1zM27 41h1v1h-1zM51 43h1v1h-1zM50 45h1v1h-1zM42 68h1v1h-1z"/><path fill="#465050" d="M66 36h1v1h-1z"/><path fill="#4b555a" d="M67 36h1v1h-1z"/><path fill="#2d6941" d="M68 36h1v1h-1zM74 47h1v1h-1zM10 56h1v1h-1z"/><path fill="#1e7828" d="M2 37h1v1h-1zM3 44h1v1h-1z"/><path fill="#32413c" d="M3 37h1v1h-1zM41 51h1v1h-1zM70 59h1v1h-1zM20 67h1v1h-1z"/><path fill="#1e2337" d="M6 37h1v1h-1zM34 38h1v1h-1zM34 45h1v1h-1z"/><path fill="#466e6e" d="M7 37h1v1h-1zM5 63h1v1h-1z"/><path fill="#195041" d="M8 37h1v1h-1z"/><path fill="#1e6e23" d="M10 37h1v1h-1z"/><path fill="#3c6455" d="M12 37h1v1h-1zM4 46h1v1h-1zM66 54h1v1h-1z"/><path fill="#375055" d="M14 37h1v1h-1z"/><path fill="#146428" d="M15 37h1v1h-1zM17 37h1v1h-1zM61 46h1v1h-1zM69 48h1v1h-1z"/><path fill="#323c32" d="M16 37h1v1h-1z"/><path fill="#37694b" d="M20 37h1v1h-1zM13 42h1v1h-1zM30 67h1v1h-1z"/><path fill="#232d2d" d="M27 37h1v1h-1z"/><path fill="#0f2819" d="M28 37h1v1h-1z"/><path fill="#287346" d="M29 37h1v1h-1zM59 50h1v1h-1z"/><path fill="#287d28" d="M31 37h1v1h-1zM47 49h1v1h-1z"/><path fill="#55696e" d="M32 37h1v1h-1z"/><path fill="#325041" d="M41 37h1v1h-1zM20 57h1v1h-1zM73 58h1v1h-1zM16 64h1v1h-1zM69 64h1v1h-1z"/><path fill="#415a69" d="M42 37h1v1h-1z"/><path fill="#23322d" d="M47 37h1v1h-1zM0 44h1v1h-1zM15 66h1v1h-1z"/><path fill="#3c8c50" d="M48 37h1v1h-1z"/><path fill="#414155" d="M50 37h1v1h-1zM48 54h1v1h-1z"/><path fill="#3c3746" d="M51 37h1v1h-1zM61 59h1v1h-1z"/><path fill="#324637" d="M52 37h1v1h-1zM58 67h1v1h-1z"/><path fill="#37415a" d="M57 37h1v1h-1zM21 38h1v1h-1zM73 51h1v1h-1z"/><path fill="#327d2d" d="M58 37h1v1h-1z"/><path fill="#3c4b41" d="M59 37h1v1h-1z"/><path fill="#28461e" d="M69 37h1v1h-1z"/><path fill="#324650" d="M70 37h1v1h-1z"/><path fill="#415064" d="M71 37h1v1h-1z"/><path fill="#556e6e" d="M74 37h1v1h-1z"/><path fill="#14281e" d="M1 38h1v1h-1z"/><path fill="#1e1937" d="M2 38h1v1h-1zM12 42h1v1h-1z"/><path fill="#283c3c" d="M5 38h1v1h-1zM67 48h1v1h-1zM72 52h1v1h-1zM52 58h1v1h-1z"/><path fill="#0a4b19" d="M6 38h1v1h-1z"/><path fill="#232d32" d="M7 38h1v1h-1zM67 43h1v1h-1zM25 45h1v1h-1z"/><path fill="#1e2d32" d="M8 38h1v1h-1z"/><path fill="#373746" d="M11 38h1v1h-1z"/><path fill="#4b6455" d="M12 38h1v1h-1z"/><path fill="#465564" d="M18 38h1v1h-1zM46 52h1v1h-1z"/><path fill="#3c555f" d="M20 38h1v1h-1z"/><path fill="#2d4b2d" d="M23 38h1v1h-1zM64 60h1v1h-1z"/><path fill="#053c19" d="M29 38h1v1h-1z"/><path fill="#2d2d37" d="M35 38h1v1h-1z"/><path fill="#2d5528" d="M38 38h1v1h-1z"/><path fill="#286441" d="M40 38h1v1h-1zM7 52h1v1h-1zM68 65h1v1h-1z"/><path fill="#326450" d="M41 38h1v1h-1z"/><path fill="#2d234b" d="M42 38h1v1h-1z"/><path fill="#503c5f" d="M45 38h1v1h-1z"/><path fill="#326455" d="M46 38h1v1h-1zM47 55h1v1h-1z"/><path fill="#466964" d="M50 38h1v1h-1z"/><path fill="#283c32" d="M55 38h1v1h-1zM11 43h1v1h-1zM28 43h1v1h-1zM73 43h1v1h-1zM18 45h1v1h-1zM1 55h1v1h-1z"/><path fill="#0a7323" d="M59 38h1v1h-1z"/><path fill="#415f46" d="M60 38h1v1h-1zM74 56h1v1h-1z"/><path fill="#235a23" d="M63 38h1v1h-1zM24 39h1v1h-1zM69 51h1v1h-1zM48 60h1v1h-1z"/><path fill="#414141" d="M64 38h1v1h-1z"/><path fill="#1e0f2d" d="M65 38h1v1h-1z"/><path fill="#2d3c41" d="M69 38h1v1h-1zM1 51h1v1h-1zM26 61h1v1h-1zM68 66h1v1h-1z"/><path fill="#233c23" d="M70 38h1v1h-1zM63 46h1v1h-1zM27 66h1v1h-1z"/><path fill="#556e50" d="M71 38h1v1h-1z"/><path fill="#465546" d="M73 38h1v1h-1z"/><path fill="#464b5a" d="M0 39h1v1h-1z"/><path fill="#0f2814" d="M1 39h1v1h-1z"/><path fill="#0f500a" d="M3 39h1v1h-1z"/><path fill="#0a5a0a" d="M4 39h1v1h-1z"/><path fill="#234141" d="M6 39h1v1h-1zM20 39h1v1h-1zM20 51h1v1h-1z"/><path fill="#193232" d="M8 39h1v1h-1z"/><path fill="#0f3c0a" d="M10 39h1v1h-1z"/><path fill="#2d5032" d="M12 39h1v1h-1zM60 39h1v1h-1zM59 67h1v1h-1z"/><path fill="#2d732d" d="M13 39h1v1h-1z"/><path fill="#374155" d="M19 39h1v1h-1z"/><path fill="#32324b" d="M22 39h1v1h-1zM73 55h1v1h-1zM32 58h1v1h-1z"/><path fill="#2d3c37" d="M23 39h1v1h-1zM12 55h1v1h-1zM18 56h1v1h-1zM18 59h1v1h-1zM63 63h1v1h-1z"/><path fill="#235037" d="M25 39h1v1h-1zM22 42h1v1h-1zM54 45h1v1h-1zM13 53h1v1h-1z"/><path fill="#14461e" d="M26 39h1v1h-1z"/><path fill="#0a3c19" d="M27 39h1v1h-1z"/><path fill="#377355" d="M32 39h1v1h-1zM58 49h1v1h-1zM56 51h1v1h-1z"/><path fill="#41695f" d="M34 39h1v1h-1zM61 66h1v1h-1z"/><path fill="#325055" d="M41 39h1v1h-1zM42 49h1v1h-1zM19 62h1v1h-1z"/><path fill="#3c5541" d="M48 39h1v1h-1z"/><path fill="#323c55" d="M49 39h1v1h-1z"/><path fill="#28784b" d="M50 39h1v1h-1z"/><path fill="#144b14" d="M55 39h1v1h-1z"/><path fill="#193c2d" d="M62 39h1v1h-1zM37 42h1v1h-1zM23 54h1v1h-1z"/><path fill="#324632" d="M63 39h1v1h-1zM72 43h1v1h-1z"/><path fill="#0f5a14" d="M64 39h1v1h-1zM40 61h1v1h-1z"/><path fill="#193c19" d="M65 39h1v1h-1zM15 50h1v1h-1zM36 56h1v1h-1z"/><path fill="#374637" d="M71 39h1v1h-1z"/><path fill="#1e233c" d="M0 40h1v1h-1z"/><path fill="#0f6e23" d="M4 40h1v1h-1z"/><path fill="#285a3c" d="M8 40h1v1h-1zM37 45h1v1h-1zM71 54h2v1h-2zM1 61h1v1h-1zM10 64h1v1h-1zM29 64h1v1h-1zM64 66h1v1h-1zM27 68h1v1h-1z"/><path fill="#196e32" d="M9 40h1v1h-1z"/><path fill="#286e4b" d="M10 40h1v1h-1z"/><path fill="#376e2d" d="M11 40h1v1h-1z"/><path fill="#417864" d="M12 40h1v1h-1z"/><path fill="#3c3250" d="M13 40h1v1h-1zM28 58h1v1h-1z"/><path fill="#193c37" d="M16 40h1v1h-1z"/><path fill="#377d5a" d="M20 40h1v1h-1z"/><path fill="#4b5f64" d="M21 40h1v1h-1z"/><path fill="#23552d" d="M22 40h1v1h-1zM10 41h1v1h-1zM61 41h1v1h-1zM3 46h1v1h-1zM69 47h1v1h-1zM16 65h1v1h-1z"/><path fill="#325050" d="M25 40h1v1h-1zM19 41h1v1h-1zM50 54h1v1h-1z"/><path fill="#143732" d="M27 40h1v1h-1z"/><path fill="#373250" d="M31 40h1v1h-1zM36 41h1v1h-1zM12 54h1v1h-1z"/><path fill="#467855" d="M35 40h1v1h-1zM26 63h1v1h-1z"/><path fill="#0a3c32" d="M37 40h1v1h-1z"/><path fill="#055514" d="M39 40h1v1h-1z"/><path fill="#374632" d="M41 40h1v1h-1zM3 50h1v1h-1z"/><path fill="#2d8c50" d="M44 40h1v1h-1z"/><path fill="#375a3c" d="M45 40h1v1h-1zM36 59h1v1h-1z"/><path fill="#413c5a" d="M46 40h1v1h-1zM5 43h1v1h-1z"/><path fill="#46785f" d="M47 40h1v1h-1zM55 65h1v1h-1z"/><path fill="#371955" d="M49 40h1v1h-1z"/><path fill="#144628" d="M51 40h1v1h-1zM23 50h1v1h-1zM62 58h1v1h-1z"/><path fill="#232837" d="M52 40h1v1h-1zM14 63h1v1h-1z"/><path fill="#2d2d41" d="M53 40h1v1h-1zM24 63h1v1h-1z"/><path fill="#195032" d="M54 40h1v1h-1z"/><path fill="#554b73" d="M58 40h1v1h-1z"/><path fill="#192323" d="M62 40h1v1h-1zM25 41h1v1h-1zM25 49h1v1h-1z"/><path fill="#282837" d="M64 40h1v1h-1zM13 41h1v1h-1zM29 58h1v1h-1z"/><path fill="#145f19" d="M69 40h1v1h-1zM9 59h1v1h-1z"/><path fill="#3c6941" d="M71 40h1v1h-1z"/><path fill="#3c5a41" d="M73 40h1v1h-1zM57 48h1v1h-1zM65 53h1v1h-1z"/><path fill="#413c50" d="M74 40h1v1h-1zM67 52h1v1h-1zM72 66h1v1h-1z"/><path fill="#19192d" d="M0 41h1v1h-1z"/><path fill="#372d3c" d="M1 41h1v1h-1z"/><path fill="#1e231e" d="M3 41h1v1h-1z"/><path fill="#145537" d="M4 41h1v1h-1z"/><path fill="#195f28" d="M8 41h1v1h-1z"/><path fill="#46555a" d="M11 41h1v1h-1zM18 60h1v1h-1zM51 67h1v1h-1z"/><path fill="#465555" d="M12 41h1v1h-1zM53 45h1v1h-1z"/><path fill="#32233c" d="M15 41h1v1h-1zM20 64h1v1h-1z"/><path fill="#3c3c5a" d="M17 41h1v1h-1z"/><path fill="#4b7355" d="M21 41h1v1h-1z"/><path fill="#419b5a" d="M22 41h1v1h-1z"/><path fill="#37783c" d="M23 41h1v1h-1zM4 58h1v1h-1zM31 60h1v1h-1z"/><path fill="#147d23" d="M26 41h1v1h-1z"/><path fill="#323c28" d="M28 41h1v1h-1z"/><path fill="#412d64" d="M30 41h1v1h-1z"/><path fill="#41465f" d="M31 41h1v1h-1zM42 60h1v1h-1z"/><path fill="#377855" d="M35 41h1v1h-1z"/><path fill="#1e2828" d="M39 41h1v1h-1zM9 53h1v1h-1z"/><path fill="#2d692d" d="M41 41h1v1h-1z"/><path fill="#3c7855" d="M42 41h1v1h-1zM29 57h1v1h-1zM55 68h1v1h-1z"/><path fill="#414632" d="M43 41h1v1h-1z"/><path fill="#23414b" d="M44 41h1v1h-1z"/><path fill="#321446" d="M47 41h1v1h-1z"/><path fill="#192319" d="M51 41h1v1h-1z"/><path fill="#3c6446" d="M57 41h1v1h-1zM63 65h1v1h-1z"/><path fill="#28694b" d="M66 41h1v1h-1zM39 45h1v1h-1z"/><path fill="#373c50" d="M67 41h1v1h-1zM40 50h1v1h-1z"/><path fill="#238728" d="M70 41h1v1h-1z"/><path fill="#1e5f32" d="M74 41h1v1h-1zM28 42h1v1h-1zM45 62h1v1h-1z"/><path fill="#14551e" d="M-1 42h1v1h-1zM64 43h1v1h-1z"/><path fill="#2d5a37" d="M0 42h1v1h-1zM47 53h1v1h-1zM19 67h1v1h-1z"/><path fill="#194b1e" d="M5 42h1v1h-1zM3 54h1v1h-1z"/><path fill="#195514" d="M7 42h1v1h-1z"/><path fill="#1e2d23" d="M9 42h1v1h-1zM19 45h1v1h-1zM2 53h1v1h-1z"/><path fill="#37143c" d="M20 42h1v1h-1z"/><path fill="#0f7328" d="M25 42h1v1h-1zM25 68h1v1h-1z"/><path fill="#196923" d="M26 42h1v1h-1z"/><path fill="#195528" d="M31 42h1v1h-1z"/><path fill="#41284b" d="M33 42h1v1h-1z"/><path fill="#46554b" d="M35 42h1v1h-1z"/><path fill="#194b28" d="M36 42h1v1h-1zM10 44h1v1h-1zM63 45h1v1h-1zM70 55h1v1h-1zM1 56h1v1h-1z"/><path fill="#2d4b32" d="M38 42h1v1h-1zM44 43h1v1h-1z"/><path fill="#193c28" d="M40 42h1v1h-1zM14 67h1v1h-1z"/><path fill="#377d50" d="M44 42h1v1h-1z"/><path fill="#2d3c23" d="M45 42h1v1h-1z"/><path fill="#0f4623" d="M46 42h1v1h-1zM23 48h1v1h-1z"/><path fill="#1e3728" d="M48 42h1v1h-1zM27 57h1v1h-1zM36 62h1v1h-1z"/><path fill="#2d5532" d="M49 42h1v1h-1zM52 50h1v1h-1zM66 55h1v1h-1zM53 64h1v1h-1zM66 68h1v1h-1z"/><path fill="#2d784b" d="M50 42h1v1h-1z"/><path fill="#230f19" d="M53 42h1v1h-1z"/><path fill="#198223" d="M57 42h1v1h-1z"/><path fill="#37465a" d="M59 42h1v1h-1z"/><path fill="#323c3c" d="M62 42h1v1h-1z"/><path fill="#233c37" d="M66 42h1v1h-1zM15 56h1v1h-1z"/><path fill="#196428" d="M67 42h1v1h-1zM2 43h1v1h-1zM42 61h1v1h-1z"/><path fill="#3c5f4b" d="M69 42h1v1h-1z"/><path fill="#1e5a1e" d="M73 42h1v1h-1zM32 54h1v1h-1z"/><path fill="#053c14" d="M4 43h1v1h-1z"/><path fill="#325537" d="M6 43h1v1h-1zM8 52h1v1h-1zM23 55h1v1h-1zM17 64h1v1h-1z"/><path fill="#0f3219" d="M8 43h1v1h-1z"/><path fill="#3c695f" d="M9 43h1v1h-1zM33 58h1v1h-1z"/><path fill="#320041" d="M12 43h1v1h-1z"/><path fill="#327d3c" d="M14 43h1v1h-1zM35 57h1v1h-1zM45 59h1v1h-1z"/><path fill="#1e3c3c" d="M15 43h1v1h-1zM29 44h1v1h-1z"/><path fill="#2d1932" d="M20 43h1v1h-1z"/><path fill="#2d4b4b" d="M22 43h1v1h-1zM52 66h1v1h-1z"/><path fill="#191e2d" d="M26 43h1v1h-1z"/><path fill="#195a32" d="M27 43h1v1h-1zM28 49h1v1h-1zM64 62h1v1h-1z"/><path fill="#2d504b" d="M29 43h1v1h-1zM74 52h1v1h-1zM8 53h1v1h-1zM22 65h1v1h-1zM15 68h1v1h-1z"/><path fill="#0f501e" d="M31 43h1v1h-1z"/><path fill="#1e462d" d="M35 43h1v1h-1zM24 59h1v1h-1zM71 64h1v1h-1zM63 68h1v1h-1z"/><path fill="#2d733c" d="M37 43h1v1h-1zM41 66h1v1h-1z"/><path fill="#1e6e3c" d="M39 43h1v1h-1zM35 52h1v1h-1z"/><path fill="#283c4b" d="M40 43h1v1h-1zM51 61h1v1h-1z"/><path fill="#4b646e" d="M41 43h1v1h-1z"/><path fill="#3c4b64" d="M46 43h1v1h-1z"/><path fill="#37552d" d="M49 43h1v1h-1z"/><path fill="#1e5023" d="M54 43h1v1h-1zM73 53h1v1h-1zM72 59h1v1h-1z"/><path fill="#234b4b" d="M55 43h1v1h-1z"/><path fill="#231932" d="M65 43h1v1h-1z"/><path fill="#283732" d="M68 43h1v1h-1z"/><path fill="#3c2346" d="M71 43h1v1h-1zM12 57h1v1h-1z"/><path fill="#197d32" d="M1 44h1v1h-1z"/><path fill="#1e7323" d="M2 44h1v1h-1z"/><path fill="#469b50" d="M5 44h1v1h-1z"/><path fill="#41504b" d="M6 44h1v1h-1zM22 68h1v1h-1z"/><path fill="#323737" d="M7 44h1v1h-1zM47 57h1v1h-1zM25 63h1v1h-1z"/><path fill="#23233c" d="M8 44h1v1h-1z"/><path fill="#2d462d" d="M16 44h1v1h-1zM51 48h1v1h-1z"/><path fill="#235f23" d="M19 44h1v1h-1zM39 48h1v1h-1zM67 62h1v1h-1zM6 63h1v1h-1z"/><path fill="#416e41" d="M23 44h1v1h-1z"/><path fill="#285a46" d="M24 44h1v1h-1z"/><path fill="#002d00" d="M26 44h1v1h-1z"/><path fill="#1e3228" d="M27 44h1v1h-1zM31 44h1v1h-1zM65 45h1v1h-1z"/><path fill="#3c6e4b" d="M34 44h1v1h-1zM41 56h1v1h-1z"/><path fill="#1e6428" d="M35 44h1v1h-1zM57 52h1v1h-1z"/><path fill="#325a55" d="M39 44h1v1h-1z"/><path fill="#1e7d3c" d="M40 44h1v1h-1z"/><path fill="#2d8732" d="M42 44h1v1h-1z"/><path fill="#326932" d="M43 44h1v1h-1zM13 48h1v1h-1z"/><path fill="#2d2d2d" d="M48 44h1v1h-1z"/><path fill="#281932" d="M49 44h1v1h-1z"/><path fill="#1e001e" d="M54 44h1v1h-1z"/><path fill="#193732" d="M57 44h1v1h-1z"/><path fill="#0f370f" d="M58 44h1v1h-1z"/><path fill="#322d50" d="M59 44h1v1h-1z"/><path fill="#373764" d="M60 44h1v1h-1z"/><path fill="#232841" d="M64 44h1v1h-1z"/><path fill="#003c05" d="M65 44h1v1h-1z"/><path fill="#2d374b" d="M66 44h1v1h-1zM50 62h1v1h-1z"/><path fill="#1e2d37" d="M67 44h1v1h-1zM41 46h1v1h-1zM39 59h1v1h-1z"/><path fill="#3c4155" d="M68 44h1v1h-1zM9 55h1v1h-1zM44 66h1v1h-1z"/><path fill="#23411e" d="M70 44h1v1h-1zM17 56h1v1h-1zM46 68h1v1h-1z"/><path fill="#234b3c" d="M73 44h1v1h-1z"/><path fill="#374b37" d="M-1 45h1v1h-1z"/><path fill="#23731e" d="M2 45h1v1h-1zM66 59h1v1h-1z"/><path fill="#2d5f41" d="M8 45h1v1h-1zM35 63h1v1h-1zM0 64h1v1h-1z"/><path fill="#2d3741" d="M11 45h1v1h-1z"/><path fill="#465a4b" d="M13 45h1v1h-1zM65 50h1v1h-1zM68 58h1v1h-1z"/><path fill="#4b505a" d="M15 45h1v1h-1zM29 55h1v1h-1z"/><path fill="#2d5f55" d="M16 45h1v1h-1zM21 57h1v1h-1z"/><path fill="#2d6e50" d="M24 45h1v1h-1z"/><path fill="#28644b" d="M26 45h1v1h-1z"/><path fill="#1e4b23" d="M27 45h1v1h-1zM57 58h1v1h-1z"/><path fill="#2d7d3c" d="M35 45h1v1h-1z"/><path fill="#1e6446" d="M36 45h1v1h-1zM50 55h1v1h-1z"/><path fill="#28782d" d="M42 45h1v1h-1z"/><path fill="#0f3205" d="M48 45h1v1h-1z"/><path fill="#1e2d28" d="M49 45h1v1h-1zM67 45h1v1h-1zM12 56h1v1h-1z"/><path fill="#322832" d="M57 45h1v1h-1z"/><path fill="#193728" d="M59 45h1v1h-1zM12 51h1v1h-1zM12 61h1v1h-1z"/><path fill="#0a280f" d="M62 45h1v1h-1z"/><path fill="#2d0a46" d="M64 45h1v1h-1z"/><path fill="#142d05" d="M66 45h1v1h-1z"/><path fill="#1e3232" d="M68 45h1v1h-1zM73 64h1v1h-1z"/><path fill="#415a5a" d="M69 45h1v1h-1z"/><path fill="#233c41" d="M71 45h1v1h-1z"/><path fill="#32283c" d="M72 45h1v1h-1z"/><path fill="#2d3750" d="M73 45h1v1h-1z"/><path fill="#143c2d" d="M-1 46h1v1h-1z"/><path fill="#2da050" d="M1 46h1v1h-1z"/><path fill="#41464b" d="M10 46h1v1h-1z"/><path fill="#2d3728" d="M13 46h1v1h-1z"/><path fill="#143714" d="M20 46h1v1h-1z"/><path fill="#237d3c" d="M21 46h1v1h-1z"/><path fill="#198228" d="M27 46h1v1h-1z"/><path fill="#28874b" d="M31 46h1v1h-1z"/><path fill="#2d824b" d="M32 46h1v1h-1zM28 50h1v1h-1z"/><path fill="#1e642d" d="M33 46h1v1h-1zM18 51h1v1h-1zM20 52h1v1h-1z"/><path fill="#198741" d="M38 46h1v1h-1z"/><path fill="#37785a" d="M40 46h1v1h-1z"/><path fill="#375032" d="M44 46h1v1h-1zM10 57h1v1h-1z"/><path fill="#14500a" d="M46 46h1v1h-1z"/><path fill="#0f5519" d="M49 46h1v1h-1z"/><path fill="#053c0a" d="M50 46h1v1h-1z"/><path fill="#464155" d="M56 46h1v1h-1zM0 51h1v1h-1z"/><path fill="#140a19" d="M59 46h1v1h-1z"/><path fill="#0f3c14" d="M64 46h1v1h-1z"/><path fill="#14190f" d="M65 46h1v1h-1z"/><path fill="#280f37" d="M66 46h1v1h-1z"/><path fill="#4b5f5a" d="M68 46h1v1h-1z"/><path fill="#417346" d="M71 46h1v1h-1zM50 59h1v1h-1z"/><path fill="#2d323c" d="M72 46h1v1h-1zM30 59h1v1h-1zM39 64h1v1h-1zM62 64h1v1h-1z"/><path fill="#4b5a5f" d="M73 46h1v1h-1zM23 60h1v1h-1z"/><path fill="#321e4b" d="M1 47h1v1h-1z"/><path fill="#195f1e" d="M3 47h1v1h-1z"/><path fill="#197d37" d="M4 47h1v1h-1z"/><path fill="#416446" d="M8 47h1v1h-1z"/><path fill="#557d69" d="M12 47h1v1h-1z"/><path fill="#197323" d="M14 47h1v1h-1zM9 65h1v1h-1z"/><path fill="#2d8241" d="M18 47h1v1h-1z"/><path fill="#2d2841" d="M20 47h1v1h-1zM24 47h1v1h-1zM45 51h1v1h-1zM10 55h1v1h-1zM33 62h1v1h-1z"/><path fill="#557864" d="M22 47h1v1h-1z"/><path fill="#145514" d="M26 47h1v1h-1z"/><path fill="#23823c" d="M27 47h1v1h-1z"/><path fill="#3c7d5a" d="M31 47h1v1h-1zM0 49h1v1h-1z"/><path fill="#14732d" d="M32 47h1v1h-1z"/><path fill="#41a055" d="M33 47h1v1h-1z"/><path fill="#377d46" d="M34 47h1v1h-1z"/><path fill="#372d4b" d="M44 47h1v1h-1zM66 62h1v1h-1z"/><path fill="#372850" d="M46 47h1v1h-1z"/><path fill="#2d4123" d="M47 47h1v1h-1z"/><path fill="#32502d" d="M49 47h1v1h-1z"/><path fill="#142328" d="M50 47h1v1h-1z"/><path fill="#191e28" d="M51 47h1v1h-1z"/><path fill="#377d41" d="M57 47h1v1h-1z"/><path fill="#3c4655" d="M59 47h1v1h-1z"/><path fill="#328246" d="M62 47h1v1h-1z"/><path fill="#41693c" d="M66 47h1v1h-1z"/><path fill="#32284b" d="M68 47h1v1h-1z"/><path fill="#465055" d="M73 47h1v1h-1zM72 49h1v1h-1z"/><path fill="#231941" d="M-1 48h1v1h-1z"/><path fill="#415a46" d="M1 48h1v1h-1zM3 68h1v1h-1z"/><path fill="#377d2d" d="M4 48h1v1h-1z"/><path fill="#418755" d="M5 48h1v1h-1z"/><path fill="#375a69" d="M7 48h1v1h-1z"/><path fill="#1e7832" d="M9 48h1v1h-1z"/><path fill="#325f41" d="M12 48h1v1h-1z"/><path fill="#2d7d4b" d="M15 48h1v1h-1zM40 49h1v1h-1z"/><path fill="#144132" d="M19 48h1v1h-1z"/><path fill="#28b43c" d="M31 48h1v1h-1z"/><path fill="#28b946" d="M32 48h1v1h-1z"/><path fill="#3c9650" d="M33 48h1v1h-1z"/><path fill="#379664" d="M34 48h1v1h-1z"/><path fill="#146937" d="M35 48h1v1h-1zM10 63h1v1h-1z"/><path fill="#3c784b" d="M37 48h1v1h-1zM60 63h1v1h-1z"/><path fill="#417d5a" d="M38 48h1v1h-1z"/><path fill="#466955" d="M48 48h1v1h-1zM58 63h1v1h-1z"/><path fill="#28a03c" d="M55 48h1v1h-1zM36 50h1v1h-1z"/><path fill="#509169" d="M56 48h1v1h-1z"/><path fill="#466e4b" d="M58 48h1v1h-1z"/><path fill="#3c5555" d="M63 48h1v1h-1zM56 50h1v1h-1zM64 57h1v1h-1zM1 68h1v1h-1z"/><path fill="#37824b" d="M65 48h1v1h-1z"/><path fill="#32913c" d="M71 48h1v1h-1z"/><path fill="#0f502d" d="M74 48h1v1h-1z"/><path fill="#37873c" d="M1 49h1v1h-1zM33 54h1v1h-1z"/><path fill="#23733c" d="M3 49h1v1h-1z"/><path fill="#3c3741" d="M9 49h1v1h-1z"/><path fill="#3c4b4b" d="M17 49h1v1h-1zM54 52h1v1h-1zM25 59h1v1h-1z"/><path fill="#288228" d="M21 49h1v1h-1z"/><path fill="#233741" d="M23 49h1v1h-1z"/><path fill="#0a2d1e" d="M24 49h1v1h-1zM26 50h1v1h-1zM9 66h1v1h-1z"/><path fill="#0a5f1e" d="M29 49h1v1h-1z"/><path fill="#0a6919" d="M30 49h1v1h-1z"/><path fill="#1e5a46" d="M31 49h1v1h-1z"/><path fill="#19aa3c" d="M32 49h1v1h-1z"/><path fill="#198c46" d="M34 49h1v1h-1z"/><path fill="#3c825a" d="M36 49h1v1h-1z"/><path fill="#1e8c46" d="M37 49h1v1h-1z"/><path fill="#328c4b" d="M39 49h1v1h-1z"/><path fill="#3c4b5a" d="M41 49h1v1h-1zM62 52h1v1h-1zM48 59h1v1h-1z"/><path fill="#0f192d" d="M43 49h1v1h-1z"/><path fill="#416464" d="M44 49h1v1h-1z"/><path fill="#235a46" d="M48 49h1v1h-1z"/><path fill="#3c7332" d="M50 49h1v1h-1z"/><path fill="#1e232d" d="M53 49h1v1h-1zM31 61h1v1h-1z"/><path fill="#3c6e55" d="M55 49h1v1h-1zM50 58h1v1h-1z"/><path fill="#324b64" d="M61 49h1v1h-1z"/><path fill="#463769" d="M62 49h1v1h-1z"/><path fill="#4b5a5a" d="M64 49h1v1h-1z"/><path fill="#147337" d="M66 49h1v1h-1z"/><path fill="#004100" d="M69 49h1v1h-1z"/><path fill="#280a32" d="M70 49h1v1h-1z"/><path fill="#416946" d="M73 49h1v1h-1z"/><path fill="#4b645a" d="M4 50h1v1h-1z"/><path fill="#3c5f5a" d="M5 50h1v1h-1zM24 64h1v1h-1z"/><path fill="#236441" d="M13 50h1v1h-1zM59 57h1v1h-1z"/><path fill="#3c7d50" d="M17 50h1v1h-1zM54 65h1v1h-1z"/><path fill="#2d695f" d="M18 50h1v1h-1z"/><path fill="#144123" d="M21 50h1v1h-1z"/><path fill="#0f6e28" d="M22 50h1v1h-1z"/><path fill="#053719" d="M24 50h1v1h-1z"/><path fill="#057d19" d="M30 50h1v1h-1z"/><path fill="#37d255" d="M31 50h1v1h-1z"/><path fill="#19e155" d="M32 50h1v1h-1z"/><path fill="#41ff7d" d="M33 50h1v1h-1z"/><path fill="#37dc55" d="M34 50h1v1h-1z"/><path fill="#23aa4b" d="M35 50h1v1h-1z"/><path fill="#328c3c" d="M41 50h1v1h-1z"/><path fill="#192d23" d="M43 50h1v1h-1zM43 68h1v1h-1z"/><path fill="#192837" d="M45 50h1v1h-1z"/><path fill="#230f37" d="M46 50h1v1h-1z"/><path fill="#2d7850" d="M51 50h1v1h-1zM40 51h1v1h-1zM60 52h1v1h-1zM28 68h1v1h-1z"/><path fill="#415569" d="M60 50h1v1h-1z"/><path fill="#283c50" d="M62 50h1v1h-1z"/><path fill="#282828" d="M64 50h1v1h-1z"/><path fill="#3c4664" d="M66 50h1v1h-1z"/><path fill="#1e553c" d="M67 50h1v1h-1z"/><path fill="#1e3219" d="M69 50h1v1h-1z"/><path fill="#465064" d="M74 50h1v1h-1z"/><path fill="#196e1e" d="M2 51h1v1h-1z"/><path fill="#464664" d="M4 51h1v1h-1z"/><path fill="#325a4b" d="M17 51h1v1h-1zM14 60h1v1h-1zM51 62h1v1h-1zM23 63h1v1h-1z"/><path fill="#141932" d="M21 51h1v1h-1z"/><path fill="#0a3219" d="M24 51h1v1h-1z"/><path fill="#1e3237" d="M28 51h1v1h-1zM47 65h1v1h-1z"/><path fill="#236932" d="M29 51h1v1h-1zM68 51h1v1h-1z"/><path fill="#1e8232" d="M31 51h1v1h-1zM30 52h1v1h-1zM60 68h1v1h-1z"/><path fill="#2db955" d="M32 51h1v1h-1z"/><path fill="#28cd46" d="M33 51h1v1h-1z"/><path fill="#37c355" d="M34 51h1v1h-1z"/><path fill="#3cc369" d="M35 51h1v1h-1z"/><path fill="#2d645f" d="M36 51h1v1h-1z"/><path fill="#326e50" d="M44 51h1v1h-1zM68 56h1v1h-1zM45 64h1v1h-1z"/><path fill="#3c2d46" d="M53 51h1v1h-1z"/><path fill="#41415f" d="M59 51h1v1h-1z"/><path fill="#1e7d46" d="M60 51h1v1h-1z"/><path fill="#323c6e" d="M61 51h1v1h-1z"/><path fill="#2d5550" d="M62 51h1v1h-1zM22 67h1v1h-1z"/><path fill="#464b5f" d="M64 51h1v1h-1zM41 58h1v1h-1z"/><path fill="#464b64" d="M65 51h1v1h-1z"/><path fill="#416e5a" d="M71 51h1v1h-1z"/><path fill="#195f23" d="M74 51h1v1h-1z"/><path fill="#234628" d="M-1 52h1v1h-1zM60 58h1v1h-1zM29 66h1v1h-1z"/><path fill="#32462d" d="M4 52h1v1h-1z"/><path fill="#4b5a69" d="M5 52h1v1h-1z"/><path fill="#46145a" d="M11 52h1v1h-1z"/><path fill="#32733c" d="M12 52h1v1h-1zM25 64h1v1h-1z"/><path fill="#1e781e" d="M13 52h1v1h-1z"/><path fill="#196919" d="M15 52h1v1h-1z"/><path fill="#2d194b" d="M18 52h1v1h-1z"/><path fill="#0a0019" d="M24 52h1v1h-1z"/><path fill="#143723" d="M25 52h1v1h-1z"/><path fill="#2d5a50" d="M27 52h1v1h-1z"/><path fill="#32a55a" d="M31 52h1v1h-1z"/><path fill="#3caa55" d="M32 52h1v1h-1z"/><path fill="#3ceb64" d="M33 52h1v1h-1z"/><path fill="#28a046" d="M34 52h1v1h-1z"/><path fill="#285028" d="M41 52h1v1h-1zM56 54h1v1h-1z"/><path fill="#233723" d="M52 52h1v1h-1z"/><path fill="#1e281e" d="M53 52h1v1h-1z"/><path fill="#194b32" d="M59 52h1v1h-1zM28 67h1v1h-1z"/><path fill="#3c144b" d="M63 52h1v1h-1z"/><path fill="#324b32" d="M69 52h1v1h-1zM8 56h1v1h-1z"/><path fill="#2d823c" d="M3 53h1v1h-1z"/><path fill="#2d734b" d="M12 53h1v1h-1zM29 59h1v1h-1zM16 61h1v1h-1zM14 68h1v1h-1z"/><path fill="#143c28" d="M15 53h1v1h-1z"/><path fill="#3c2d5a" d="M17 53h1v1h-1z"/><path fill="#415564" d="M19 53h1v1h-1z"/><path fill="#2d4b28" d="M25 53h1v1h-1z"/><path fill="#1e733c" d="M31 53h1v1h-1z"/><path fill="#1eaf1e" d="M32 53h1v1h-1z"/><path fill="#32e13c" d="M33 53h1v1h-1z"/><path fill="#28a53c" d="M34 53h1v1h-1z"/><path fill="#238241" d="M35 53h1v1h-1z"/><path fill="#1ea537" d="M36 53h1v1h-1z"/><path fill="#323c2d" d="M40 53h1v1h-1z"/><path fill="#0f4105" d="M51 53h1v1h-1z"/><path fill="#327855" d="M54 53h1v1h-1zM33 56h1v1h-1z"/><path fill="#1e6937" d="M57 53h1v1h-1z"/><path fill="#0f3719" d="M58 53h1v1h-1z"/><path fill="#0a4123" d="M62 53h1v1h-1z"/><path fill="#3c8255" d="M63 53h1v1h-1z"/><path fill="#466e5f" d="M64 53h1v1h-1z"/><path fill="#416964" d="M68 53h1v1h-1z"/><path fill="#3c5037" d="M70 53h1v1h-1z"/><path fill="#2d6e32" d="M71 53h1v1h-1z"/><path fill="#46414b" d="M-1 54h1v1h-1z"/><path fill="#327d55" d="M9 54h1v1h-1z"/><path fill="#23782d" d="M14 54h1v1h-1z"/><path fill="#324655" d="M16 54h1v1h-1z"/><path fill="#3c783c" d="M18 54h1v1h-1z"/><path fill="#192828" d="M22 54h1v1h-1z"/><path fill="#230a1e" d="M24 54h1v1h-1z"/><path fill="#467364" d="M26 54h1v1h-1z"/><path fill="#239b2d" d="M28 54h1v1h-1z"/><path fill="#239b46" d="M36 54h1v1h-1z"/><path fill="#285a23" d="M41 54h1v1h-1z"/><path fill="#41505f" d="M45 54h1v1h-1z"/><path fill="#46874b" d="M47 54h1v1h-1z"/><path fill="#462d55" d="M49 54h1v1h-1z"/><path fill="#1e0a28" d="M57 54h1v1h-1z"/><path fill="#377832" d="M65 54h1v1h-1z"/><path fill="#469150" d="M67 54h1v1h-1z"/><path fill="#378750" d="M70 54h1v1h-1z"/><path fill="#46235f" d="M-1 55h1v1h-1z"/><path fill="#230f3c" d="M5 55h1v1h-1z"/><path fill="#235a1e" d="M8 55h1v1h-1z"/><path fill="#50506e" d="M15 55h1v1h-1z"/><path fill="#055505" d="M16 55h1v1h-1z"/><path fill="#41a064" d="M28 55h1v1h-1z"/><path fill="#1e3c41" d="M44 55h1v1h-1z"/><path fill="#0f3c05" d="M45 55h1v1h-1z"/><path fill="#412d55" d="M46 55h1v1h-1z"/><path fill="#4b6e50" d="M48 55h1v1h-1z"/><path fill="#194b0a" d="M51 55h1v1h-1z"/><path fill="#282328" d="M56 55h1v1h-1z"/><path fill="#1e1928" d="M57 55h1v1h-1z"/><path fill="#321e55" d="M60 55h1v1h-1z"/><path fill="#3c553c" d="M65 55h1v1h-1z"/><path fill="#1e5a3c" d="M67 55h1v1h-1zM68 64h1v1h-1z"/><path fill="#3c0a41" d="M3 56h1v1h-1z"/><path fill="#284155" d="M9 56h1v1h-1z"/><path fill="#322346" d="M14 56h1v1h-1z"/><path fill="#329b4b" d="M30 56h1v1h-1z"/><path fill="#234146" d="M39 56h1v1h-1z"/><path fill="#0f6437" d="M42 56h1v1h-1z"/><path fill="#0f410a" d="M45 56h1v1h-1zM3 57h1v1h-1z"/><path fill="#234b23" d="M58 56h1v1h-1z"/><path fill="#143c14" d="M63 56h1v1h-1z"/><path fill="#2d4650" d="M64 56h1v1h-1z"/><path fill="#2d6446" d="M67 56h1v1h-1zM36 67h1v1h-1zM23 68h1v1h-1z"/><path fill="#37645a" d="M71 56h1v1h-1z"/><path fill="#051e1e" d="M72 56h1v1h-1z"/><path fill="#467350" d="M2 57h1v1h-1z"/><path fill="#41414b" d="M7 57h1v1h-1zM27 63h1v1h-1z"/><path fill="#191923" d="M11 57h1v1h-1z"/><path fill="#1e4114" d="M14 57h1v1h-1z"/><path fill="#375a32" d="M16 57h1v1h-1z"/><path fill="#1e6437" d="M22 57h1v1h-1z"/><path fill="#323232" d="M24 57h1v1h-1z"/><path fill="#143728" d="M26 57h1v1h-1z"/><path fill="#378c41" d="M31 57h1v1h-1z"/><path fill="#2d7328" d="M39 57h1v1h-1z"/><path fill="#3c7355" d="M44 57h1v1h-1z"/><path fill="#466969" d="M48 57h1v1h-1z"/><path fill="#322337" d="M49 57h1v1h-1z"/><path fill="#375050" d="M51 57h1v1h-1zM19 61h1v1h-1z"/><path fill="#194137" d="M56 57h1v1h-1z"/><path fill="#286e23" d="M57 57h1v1h-1z"/><path fill="#234641" d="M62 57h1v1h-1z"/><path fill="#1e8c28" d="M63 57h1v1h-1z"/><path fill="#2d414b" d="M66 57h1v1h-1z"/><path fill="#1e4119" d="M67 57h1v1h-1z"/><path fill="#3c3c50" d="M68 57h1v1h-1zM7 61h1v1h-1zM11 67h1v1h-1z"/><path fill="#05370a" d="M69 57h1v1h-1z"/><path fill="#3c554b" d="M-1 58h1v1h-1z"/><path fill="#4b735f" d="M0 58h1v1h-1z"/><path fill="#506455" d="M1 58h1v1h-1z"/><path fill="#288732" d="M3 58h1v1h-1z"/><path fill="#326950" d="M7 58h1v1h-1z"/><path fill="#324137" d="M10 58h1v1h-1z"/><path fill="#467d64" d="M12 58h1v1h-1zM25 60h1v1h-1z"/><path fill="#5fbe73" d="M13 58h1v1h-1z"/><path fill="#233223" d="M15 58h1v1h-1zM60 60h1v1h-1z"/><path fill="#238223" d="M16 58h1v1h-1zM47 64h1v1h-1z"/><path fill="#376e3c" d="M22 58h1v1h-1z"/><path fill="#41325a" d="M30 58h1v1h-1z"/><path fill="#4b5a4b" d="M31 58h1v1h-1z"/><path fill="#284b55" d="M34 58h1v1h-1z"/><path fill="#195532" d="M37 58h1v1h-1z"/><path fill="#467850" d="M42 58h1v1h-1z"/><path fill="#41644b" d="M44 58h1v1h-1z"/><path fill="#4b6469" d="M47 58h1v1h-1z"/><path fill="#378c50" d="M51 58h1v1h-1z"/><path fill="#1e5032" d="M55 58h1v1h-1zM21 60h1v1h-1z"/><path fill="#1e4623" d="M58 58h1v1h-1z"/><path fill="#194b14" d="M61 58h1v1h-1z"/><path fill="#468c55" d="M65 58h1v1h-1z"/><path fill="#411955" d="M67 58h1v1h-1z"/><path fill="#234123" d="M74 58h1v1h-1z"/><path fill="#5f8273" d="M1 59h1v1h-1z"/><path fill="#50877d" d="M2 59h1v1h-1z"/><path fill="#0f410f" d="M5 59h1v1h-1zM74 64h1v1h-1z"/><path fill="#506964" d="M11 59h1v1h-1z"/><path fill="#37693c" d="M13 59h1v1h-1zM57 60h1v1h-1z"/><path fill="#280a28" d="M19 59h1v1h-1z"/><path fill="#004b14" d="M21 59h1v1h-1z"/><path fill="#23693c" d="M27 59h1v1h-1zM20 66h1v1h-1zM55 66h1v1h-1z"/><path fill="#37a04b" d="M42 59h1v1h-1z"/><path fill="#0f5514" d="M54 59h1v1h-1z"/><path fill="#0f6428" d="M55 59h1v1h-1z"/><path fill="#192d1e" d="M60 59h1v1h-1zM60 64h1v1h-1z"/><path fill="#282346" d="M62 59h1v1h-1z"/><path fill="#193237" d="M64 59h1v1h-1zM42 62h1v1h-1z"/><path fill="#284628" d="M73 59h1v1h-1zM43 63h1v1h-1zM37 68h1v1h-1z"/><path fill="#4b2855" d="M1 60h1v1h-1z"/><path fill="#555a64" d="M5 60h1v1h-1z"/><path fill="#506950" d="M13 60h1v1h-1z"/><path fill="#415a4b" d="M20 60h1v1h-1z"/><path fill="#413755" d="M34 60h1v1h-1z"/><path fill="#0a5f23" d="M38 60h1v1h-1z"/><path fill="#4b375f" d="M46 60h1v1h-1z"/><path fill="#46284b" d="M47 60h1v1h-1z"/><path fill="#23641e" d="M51 60h1v1h-1zM53 63h1v1h-1z"/><path fill="#2d2332" d="M54 60h1v1h-1z"/><path fill="#233241" d="M58 60h1v1h-1zM51 66h1v1h-1z"/><path fill="#0f5005" d="M65 60h1v1h-1z"/><path fill="#1e4b3c" d="M69 60h1v1h-1zM21 66h1v1h-1z"/><path fill="#1e3741" d="M71 60h1v1h-1z"/><path fill="#2d283c" d="M4 61h1v1h-1z"/><path fill="#2d7337" d="M5 61h1v1h-1zM59 63h1v1h-1z"/><path fill="#2d3c2d" d="M9 61h1v1h-1z"/><path fill="#0f4119" d="M10 61h1v1h-1z"/><path fill="#1e7337" d="M20 61h1v1h-1zM67 66h1v1h-1z"/><path fill="#05320f" d="M21 61h1v1h-1z"/><path fill="#372355" d="M24 61h1v1h-1z"/><path fill="#0f4b00" d="M36 61h1v1h-1z"/><path fill="#146e37" d="M37 61h1v1h-1z"/><path fill="#237d41" d="M39 61h1v1h-1z"/><path fill="#3c5032" d="M48 61h1v1h-1z"/><path fill="#192328" d="M49 61h1v1h-1zM14 66h1v1h-1z"/><path fill="#3c1955" d="M52 61h1v1h-1z"/><path fill="#1e3714" d="M55 61h1v1h-1z"/><path fill="#3c4650" d="M63 61h1v1h-1zM31 67h1v1h-1z"/><path fill="#372332" d="M65 61h1v1h-1z"/><path fill="#4b5041" d="M68 61h1v1h-1z"/><path fill="#2d464b" d="M69 61h1v1h-1z"/><path fill="#14321e" d="M70 61h1v1h-1z"/><path fill="#0a3c14" d="M71 61h1v1h-1z"/><path fill="#282d4b" d="M74 61h1v1h-1z"/><path fill="#415541" d="M0 62h1v1h-1z"/><path fill="#1e4619" d="M6 62h1v1h-1zM30 63h1v1h-1zM18 68h1v1h-1z"/><path fill="#1e4123" d="M8 62h1v1h-1z"/><path fill="#373737" d="M13 62h1v1h-1z"/><path fill="#145f23" d="M14 62h1v1h-1z"/><path fill="#2d3223" d="M22 62h1v1h-1z"/><path fill="#326437" d="M26 62h1v1h-1z"/><path fill="#14230a" d="M27 62h1v1h-1z"/><path fill="#1e2d1e" d="M30 62h1v1h-1z"/><path fill="#001e00" d="M34 62h1v1h-1z"/><path fill="#195f0f" d="M38 62h1v1h-1z"/><path fill="#0a5a28" d="M39 62h1v1h-1z"/><path fill="#1e0f23" d="M41 62h1v1h-1z"/><path fill="#371e46" d="M44 62h1v1h-1z"/><path fill="#328255" d="M49 62h1v1h-1z"/><path fill="#2d5a28" d="M52 62h1v1h-1z"/><path fill="#143232" d="M56 62h1v1h-1z"/><path fill="#28873c" d="M58 62h1v1h-1zM46 66h1v1h-1z"/><path fill="#0f5a19" d="M68 62h1v1h-1z"/><path fill="#46915f" d="M69 62h1v1h-1z"/><path fill="#3c2855" d="M70 62h1v1h-1z"/><path fill="#3c2d4b" d="M71 62h1v1h-1z"/><path fill="#145a28" d="M15 63h1v1h-1z"/><path fill="#372346" d="M16 63h1v1h-1z"/><path fill="#23143c" d="M22 63h1v1h-1z"/><path fill="#375a64" d="M31 63h1v1h-1z"/><path fill="#2d9641" d="M32 63h1v1h-1z"/><path fill="#32505a" d="M33 63h1v1h-1z"/><path fill="#231446" d="M37 63h1v1h-1z"/><path fill="#375041" d="M40 63h1v1h-1zM66 65h1v1h-1z"/><path fill="#28552d" d="M48 63h1v1h-1z"/><path fill="#0f4614" d="M57 63h1v1h-1z"/><path fill="#41143c" d="M70 63h1v1h-1z"/><path fill="#23412d" d="M73 63h1v1h-1zM66 64h1v1h-1z"/><path fill="#23282d" d="M74 63h1v1h-1z"/><path fill="#286455" d="M1 64h1v1h-1z"/><path fill="#1e3c2d" d="M6 64h1v1h-1z"/><path fill="#231e46" d="M7 64h1v1h-1z"/><path fill="#0a0a0a" d="M15 64h1v1h-1z"/><path fill="#0a1e1e" d="M18 64h1v1h-1z"/><path fill="#00320a" d="M19 64h1v1h-1z"/><path fill="#192846" d="M21 64h1v1h-1z"/><path fill="#052805" d="M30 64h1v1h-1z"/><path fill="#287d41" d="M32 64h1v1h-1z"/><path fill="#232d4b" d="M33 64h1v1h-1z"/><path fill="#195537" d="M37 64h1v1h-1z"/><path fill="#2d3228" d="M40 64h1v1h-1zM50 65h1v1h-1z"/><path fill="#191914" d="M42 64h1v1h-1z"/><path fill="#145523" d="M44 64h1v1h-1z"/><path fill="#3c643c" d="M50 64h1v1h-1z"/><path fill="#41736e" d="M52 64h1v1h-1z"/><path fill="#234b28" d="M54 64h1v1h-1zM58 64h1v1h-1z"/><path fill="#374b5f" d="M57 64h1v1h-1zM0 66h1v1h-1z"/><path fill="#377850" d="M64 64h1v1h-1z"/><path fill="#192d3c" d="M72 64h1v1h-1z"/><path fill="#465a64" d="M4 65h1v1h-1z"/><path fill="#3c8237" d="M11 65h1v1h-1z"/><path fill="#235541" d="M15 65h1v1h-1z"/><path fill="#3c2341" d="M18 65h1v1h-1z"/><path fill="#195a19" d="M20 65h1v1h-1z"/><path fill="#373237" d="M23 65h1v1h-1z"/><path fill="#142d2d" d="M24 65h1v1h-1z"/><path fill="#233c46" d="M27 65h1v1h-1z"/><path fill="#288c28" d="M31 65h1v1h-1z"/><path fill="#554b6e" d="M33 65h1v1h-1z"/><path fill="#1e2323" d="M34 65h1v1h-1z"/><path fill="#3c8264" d="M35 65h1v1h-1z"/><path fill="#372d64" d="M37 65h1v1h-1z"/><path fill="#371950" d="M38 65h1v1h-1z"/><path fill="#376e55" d="M41 65h1v1h-1z"/><path fill="#1e7d2d" d="M42 65h1v1h-1zM29 67h1v1h-1z"/><path fill="#2d324b" d="M45 65h1v1h-1z"/><path fill="#1e5f41" d="M52 65h1v1h-1z"/><path fill="#28374b" d="M58 65h1v1h-1z"/><path fill="#284b28" d="M60 65h1v1h-1z"/><path fill="#37374b" d="M1 66h1v1h-1z"/><path fill="#466e55" d="M4 66h1v1h-1z"/><path fill="#3c5f46" d="M5 66h1v1h-1z"/><path fill="#0f282d" d="M7 66h1v1h-1z"/><path fill="#19232d" d="M11 66h1v1h-1z"/><path fill="#0a5514" d="M13 66h1v1h-1z"/><path fill="#195023" d="M16 66h1v1h-1z"/><path fill="#145a23" d="M24 66h1v1h-1z"/><path fill="#141423" d="M26 66h1v1h-1z"/><path fill="#4b5055" d="M30 66h1v1h-1z"/><path fill="#505573" d="M35 66h1v1h-1z"/><path fill="#464146" d="M36 66h1v1h-1z"/><path fill="#3c915a" d="M37 66h1v1h-1z"/><path fill="#28193c" d="M43 66h1v1h-1z"/><path fill="#19640f" d="M56 66h1v1h-1z"/><path fill="#465a50" d="M58 66h1v1h-1z"/><path fill="#142323" d="M69 66h1v1h-1z"/><path fill="#231428" d="M74 66h1v1h-1z"/><path fill="#145f28" d="M-1 67h1v1h-1z"/><path fill="#3c645f" d="M1 67h1v1h-1z"/><path fill="#377d37" d="M3 67h1v1h-1z"/><path fill="#377d3c" d="M5 67h1v1h-1z"/><path fill="#1e373c" d="M6 67h1v1h-1z"/><path fill="#192832" d="M16 67h1v1h-1z"/><path fill="#28233c" d="M23 67h1v1h-1z"/><path fill="#375f55" d="M25 67h1v1h-1z"/><path fill="#232341" d="M27 67h1v1h-1z"/><path fill="#2d1941" d="M34 67h1v1h-1z"/><path fill="#505a78" d="M35 67h1v1h-1z"/><path fill="#3c5a3c" d="M38 67h1v1h-1z"/><path fill="#192d2d" d="M40 67h1v1h-1z"/><path fill="#37505f" d="M41 67h1v1h-1z"/><path fill="#2d8237" d="M44 67h1v1h-1z"/><path fill="#414655" d="M61 67h1v1h-1z"/><path fill="#463c5f" d="M62 67h1v1h-1z"/><path fill="#198c14" d="M63 67h1v1h-1z"/><path fill="#504664" d="M66 67h1v1h-1z"/><path fill="#0a6414" d="M68 67h1v1h-1z"/><path fill="#145528" d="M71 67h1v1h-1z"/><path fill="#464b37" d="M72 67h1v1h-1z"/><path fill="#463c4b" d="M74 67h1v1h-1z"/><path fill="#237832" d="M-1 68h1v1h-1zM33 68h1v1h-1z"/><path fill="#283746" d="M5 68h1v1h-1z"/><path fill="#28734b" d="M6 68h1v1h-1z"/><path fill="#284b4b" d="M7 68h1v1h-1z"/><path fill="#145a37" d="M11 68h1v1h-1z"/><path fill="#0a370a" d="M12 68h1v1h-1z"/><path fill="#149128" d="M13 68h1v1h-1z"/><path fill="#2d3255" d="M16 68h1v1h-1z"/><path fill="#46464b" d="M20 68h1v1h-1z"/><path fill="#329655" d="M26 68h1v1h-1z"/><path fill="#415f3c" d="M35 68h1v1h-1zM57 68h1v1h-1z"/><path fill="#37283c" d="M39 68h1v1h-1z"/><path fill="#4b786e" d="M41 68h1v1h-1z"/><path fill="#556e5f" d="M51 68h1v1h-1z"/><path fill="#285555" d="M61 68h1v1h-1z"/><path fill="#2da028" d="M64 68h1v1h-1z"/><path fill="#41735a" d="M69 68h1v1h-1z"/><path fill="#1e2d41" d="M71 68h1v1h-1z"/></g></g></svg>
<div class="lbl" style="left:20.3px;top:8.5px;font-size:37.8px;">B H<i>α</i><span style="margin-left:-2px"> I</span></div>
<div class="bar" style="left:390px;top:466px;width:166px;height:9.5px;"></div>
<div class="lbl" style="left:455px;top:476px;font-size:33.5px;">1"</div>
</div>
</body></html>
